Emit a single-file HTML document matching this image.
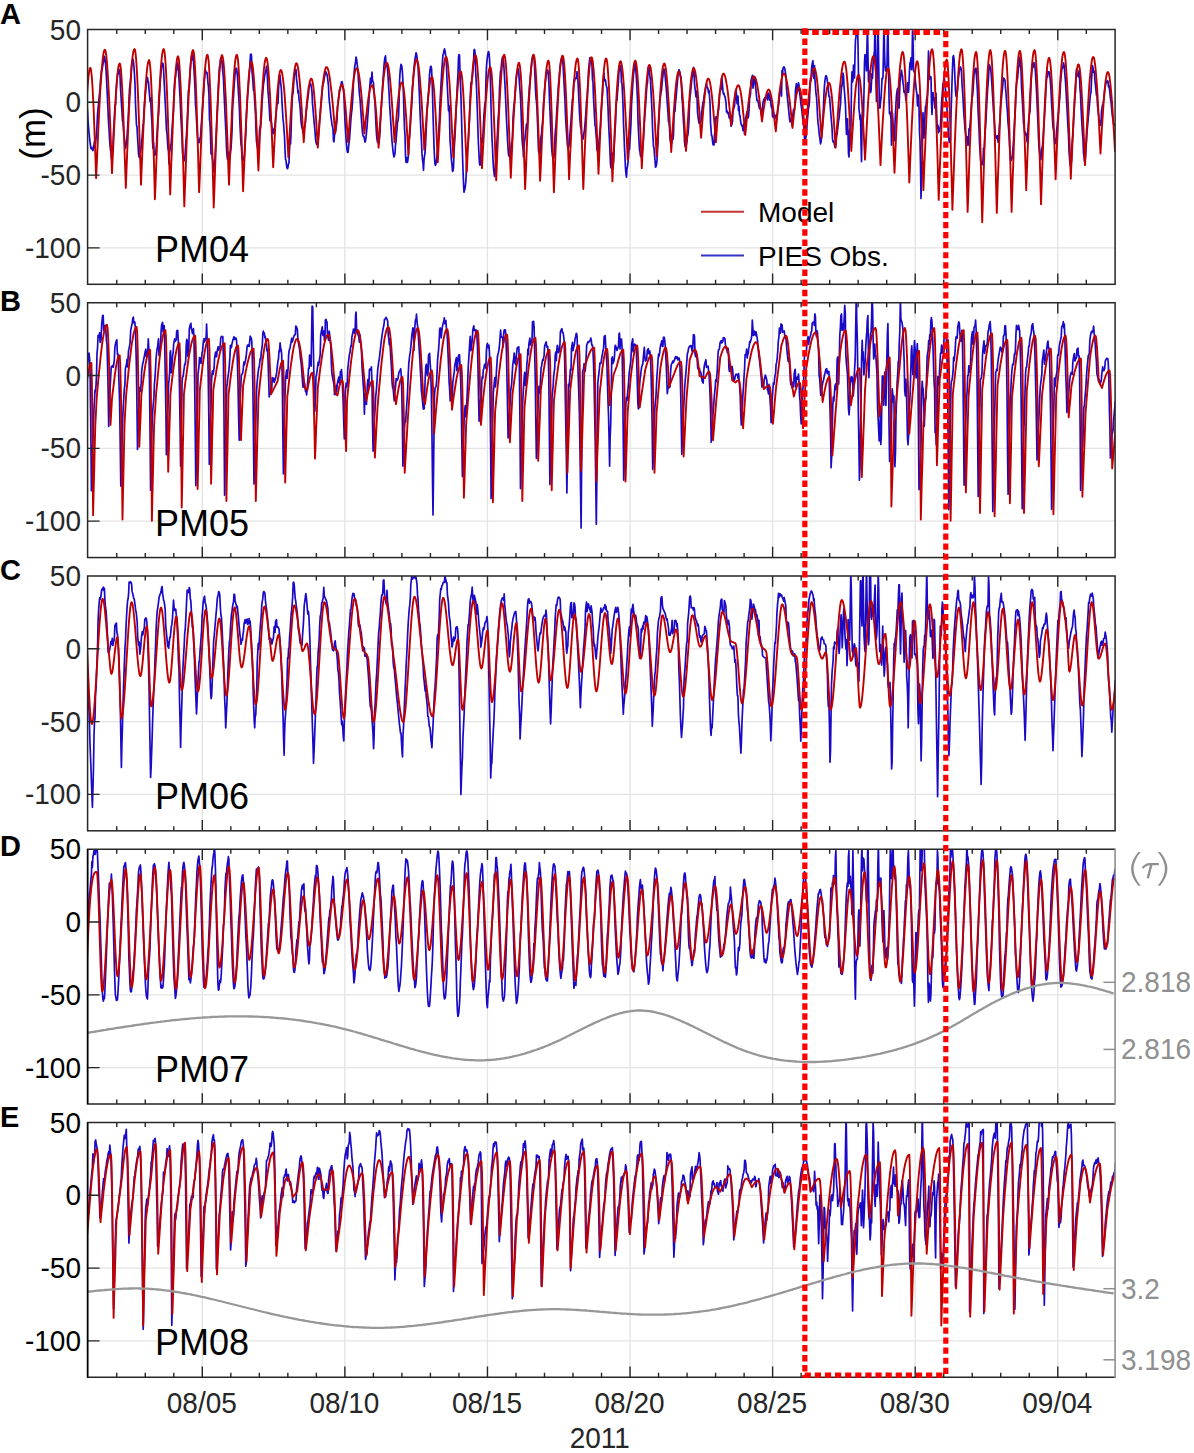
<!DOCTYPE html><html><head><meta charset="utf-8"><style>html,body{margin:0;padding:0;background:#fff;overflow:hidden;}svg{display:block;}text{font-family:"Liberation Sans",sans-serif;}</style></head><body>
<svg width="1194" height="1453" viewBox="0 0 1194 1453">
<rect x="0" y="0" width="1194" height="1453" fill="#fff"/>
<defs>
<clipPath id="c0"><rect x="87.6" y="29.5" width="1027.5" height="254.8"/></clipPath>
<clipPath id="c1"><rect x="87.6" y="302.75" width="1027.5" height="254.8"/></clipPath>
<clipPath id="c2"><rect x="87.6" y="576.0" width="1027.5" height="254.8"/></clipPath>
<clipPath id="c3"><rect x="87.6" y="849.25" width="1027.5" height="254.8"/></clipPath>
<clipPath id="c4"><rect x="87.6" y="1122.5" width="1027.5" height="254.8"/></clipPath>
</defs>
<path d="M87.6,102.30 H1115.1 M87.6,175.10 H1115.1 M87.6,247.90 H1115.1 M202.30,29.5 V284.3 M344.88,29.5 V284.3 M487.46,29.5 V284.3 M630.04,29.5 V284.3 M772.62,29.5 V284.3 M915.20,29.5 V284.3 M1057.78,29.5 V284.3" stroke="#e3e3e3" stroke-width="1.3" fill="none"/>
<g clip-path="url(#c0)">
<path d="M86.0,91.0 L86.5,97.4 L87.0,104.6 L87.5,111.5 L88.0,120.8 L88.5,126.8 L89.0,132.4 L89.5,137.4 L90.0,141.9 L90.5,145.6 L91.0,148.6 L91.5,147.6 L92.0,149.0 L92.5,149.6 L93.0,150.6 L93.5,146.5 L94.0,144.4 L94.5,141.4 L95.0,147.7 L95.5,143.5 L96.0,138.7 L96.5,133.6 L97.0,126.0 L97.5,114.5 L98.0,108.7 L98.5,104.5 L99.0,98.6 L99.5,94.1 L100.0,88.4 L100.5,80.5 L101.0,75.4 L101.5,70.7 L102.0,70.6 L102.5,67.0 L103.0,64.0 L103.5,61.8 L104.0,56.8 L104.5,56.3 L105.0,60.0 L105.5,62.8 L106.0,69.8 L106.5,78.6 L107.0,88.9 L107.5,99.2 L108.0,110.5 L108.5,121.7 L109.0,129.0 L109.5,138.1 L110.0,145.3 L110.5,150.1 L111.0,152.4 L111.5,158.9 L112.0,156.1 L112.5,151.7 L113.0,145.9 L113.5,131.9 L114.0,124.2 L114.5,116.1 L115.0,104.9 L115.5,104.7 L116.0,93.4 L116.5,86.2 L117.0,80.0 L117.5,74.9 L118.0,74.4 L118.5,71.2 L119.0,71.7 L119.5,69.5 L120.0,74.4 L120.5,88.3 L121.0,96.0 L121.5,104.4 L122.0,112.0 L122.5,120.8 L123.0,122.6 L123.5,130.0 L124.0,136.1 L124.5,140.4 L125.0,148.4 L125.5,148.2 L126.0,145.9 L126.5,142.1 L127.0,136.6 L127.5,129.3 L128.0,121.7 L128.5,111.7 L129.0,99.4 L129.5,89.1 L130.0,84.8 L130.5,81.1 L131.0,74.1 L131.5,65.9 L132.0,61.9 L132.5,59.6 L133.0,59.3 L133.5,62.3 L134.0,67.5 L134.5,74.9 L135.0,83.8 L135.5,103.7 L136.0,114.4 L136.5,125.1 L137.0,127.0 L137.5,136.4 L138.0,144.3 L138.5,153.3 L139.0,156.8 L139.5,157.6 L140.0,154.7 L140.5,152.3 L141.0,148.7 L141.5,144.1 L142.0,138.7 L142.5,132.2 L143.0,125.4 L143.5,122.8 L144.0,111.1 L144.5,104.5 L145.0,98.1 L145.5,92.2 L146.0,87.6 L146.5,83.2 L147.0,79.8 L147.5,77.5 L148.0,81.2 L148.5,82.2 L149.0,89.3 L149.5,94.6 L150.0,101.3 L150.5,98.3 L151.0,106.9 L151.5,115.7 L152.0,124.4 L152.5,141.3 L153.0,148.4 L153.5,142.9 L154.0,152.6 L154.5,155.2 L155.0,154.1 L155.5,154.6 L156.0,150.4 L156.5,144.8 L157.0,134.5 L157.5,126.9 L158.0,118.7 L158.5,114.8 L159.0,106.2 L159.5,93.6 L160.0,85.7 L160.5,78.5 L161.0,72.3 L161.5,68.0 L162.0,64.6 L162.5,63.0 L163.0,63.8 L163.5,67.9 L164.0,78.9 L164.5,88.0 L165.0,98.6 L165.5,107.4 L166.0,119.2 L166.5,130.5 L167.0,133.0 L167.5,141.7 L168.0,148.1 L168.5,151.6 L169.0,163.9 L169.5,152.7 L170.0,149.5 L170.5,144.9 L171.0,144.9 L171.5,138.4 L172.0,130.4 L172.5,122.8 L173.0,114.8 L173.5,109.5 L174.0,92.0 L174.5,84.6 L175.0,77.8 L175.5,77.0 L176.0,71.9 L176.5,69.9 L177.0,63.3 L177.5,62.5 L178.0,64.5 L178.5,71.6 L179.0,78.8 L179.5,87.8 L180.0,96.8 L180.5,107.9 L181.0,119.3 L181.5,128.2 L182.0,138.3 L182.5,151.4 L183.0,158.4 L183.5,159.4 L184.0,161.0 L184.5,159.7 L185.0,156.1 L185.5,147.8 L186.0,140.6 L186.5,134.6 L187.0,125.1 L187.5,115.0 L188.0,100.6 L188.5,90.2 L189.0,91.4 L189.5,81.9 L190.0,73.3 L190.5,65.5 L191.0,59.8 L191.5,56.1 L192.0,54.6 L192.5,60.0 L193.0,54.9 L193.5,61.7 L194.0,69.6 L194.5,78.7 L195.0,88.7 L195.5,104.9 L196.0,110.1 L196.5,119.9 L197.0,128.6 L197.5,136.0 L198.0,141.0 L198.5,142.3 L199.0,142.7 L199.5,141.1 L200.0,137.9 L200.5,138.3 L201.0,128.7 L201.5,122.3 L202.0,114.8 L202.5,107.6 L203.0,100.3 L203.5,93.3 L204.0,84.6 L204.5,78.7 L205.0,73.7 L205.5,70.0 L206.0,72.7 L206.5,72.1 L207.0,72.6 L207.5,77.0 L208.0,83.5 L208.5,87.0 L209.0,96.4 L209.5,119.2 L210.0,124.0 L210.5,134.4 L211.0,154.0 L211.5,152.7 L212.0,153.2 L212.5,158.9 L213.0,162.4 L213.5,171.8 L214.0,169.8 L214.5,165.5 L215.0,159.1 L215.5,147.7 L216.0,138.3 L216.5,128.1 L217.0,115.0 L217.5,105.4 L218.0,94.7 L218.5,83.5 L219.0,74.4 L219.5,66.7 L220.0,67.4 L220.5,59.2 L221.0,57.8 L221.5,60.9 L222.0,60.7 L222.5,69.3 L223.0,73.6 L223.5,79.2 L224.0,92.3 L224.5,102.5 L225.0,113.5 L225.5,123.8 L226.0,133.7 L226.5,147.7 L227.0,155.5 L227.5,159.4 L228.0,151.8 L228.5,152.3 L229.0,159.6 L229.5,160.1 L230.0,157.9 L230.5,151.6 L231.0,148.8 L231.5,140.3 L232.0,131.2 L232.5,111.5 L233.0,102.1 L233.5,96.2 L234.0,87.9 L234.5,80.6 L235.0,74.7 L235.5,70.6 L236.0,68.3 L236.5,68.4 L237.0,71.7 L237.5,77.2 L238.0,84.6 L238.5,93.4 L239.0,101.2 L239.5,111.6 L240.0,125.3 L240.5,135.2 L241.0,144.2 L241.5,147.1 L242.0,157.5 L242.5,160.6 L243.0,160.9 L243.5,157.0 L244.0,159.6 L244.5,154.2 L245.0,144.7 L245.5,137.0 L246.0,128.5 L246.5,114.1 L247.0,105.0 L247.5,96.0 L248.0,91.9 L248.5,83.9 L249.0,76.9 L249.5,71.2 L250.0,62.9 L250.5,54.5 L251.0,54.1 L251.5,55.9 L252.0,71.2 L252.5,76.5 L253.0,83.1 L253.5,90.5 L254.0,89.8 L254.5,98.2 L255.0,106.5 L255.5,114.0 L256.0,130.7 L256.5,141.6 L257.0,144.6 L257.5,147.5 L258.0,149.7 L258.5,151.4 L259.0,143.9 L259.5,130.5 L260.0,126.8 L260.5,128.2 L261.0,121.9 L261.5,115.1 L262.0,103.5 L262.5,96.6 L263.0,90.0 L263.5,84.0 L264.0,81.1 L264.5,76.9 L265.0,74.0 L265.5,71.8 L266.0,69.9 L266.5,66.4 L267.0,69.3 L267.5,80.1 L268.0,91.4 L268.5,96.7 L269.0,103.6 L269.5,112.2 L270.0,120.7 L270.5,115.3 L271.0,121.0 L271.5,123.7 L272.0,127.4 L272.5,132.2 L273.0,133.7 L273.5,133.7 L274.0,128.7 L274.5,129.4 L275.0,125.2 L275.5,120.2 L276.0,114.5 L276.5,110.0 L277.0,104.1 L277.5,103.6 L278.0,103.7 L278.5,89.8 L279.0,81.3 L279.5,75.4 L280.0,75.2 L280.5,81.7 L281.0,85.6 L281.5,91.0 L282.0,102.2 L282.5,110.5 L283.0,118.9 L283.5,123.0 L284.0,130.1 L284.5,136.5 L285.0,149.8 L285.5,159.2 L286.0,160.3 L286.5,165.1 L287.0,167.9 L287.5,168.7 L288.0,167.1 L288.5,163.7 L289.0,162.9 L289.5,149.8 L290.0,142.2 L290.5,144.0 L291.0,134.9 L291.5,116.2 L292.0,104.1 L292.5,95.2 L293.0,93.0 L293.5,85.6 L294.0,79.3 L294.5,74.0 L295.0,71.0 L295.5,69.9 L296.0,69.5 L296.5,78.9 L297.0,82.5 L297.5,87.1 L298.0,93.1 L298.5,90.8 L299.0,99.7 L299.5,101.5 L300.0,106.5 L300.5,113.2 L301.0,121.2 L301.5,125.1 L302.0,127.9 L302.5,129.2 L303.0,132.8 L303.5,131.6 L304.0,129.5 L304.5,126.7 L305.0,125.2 L305.5,121.3 L306.0,113.9 L306.5,109.6 L307.0,105.4 L307.5,100.8 L308.0,97.0 L308.5,93.6 L309.0,87.4 L309.5,85.4 L310.0,84.3 L310.5,83.5 L311.0,85.1 L311.5,88.1 L312.0,92.3 L312.5,103.6 L313.0,109.2 L313.5,115.2 L314.0,121.1 L314.5,126.2 L315.0,131.4 L315.5,138.8 L316.0,142.1 L316.5,144.0 L317.0,144.6 L317.5,143.5 L318.0,141.3 L318.5,135.8 L319.0,127.6 L319.5,120.7 L320.0,118.1 L320.5,109.6 L321.0,104.7 L321.5,98.9 L322.0,92.4 L322.5,87.0 L323.0,82.5 L323.5,83.3 L324.0,79.6 L324.5,76.7 L325.0,74.8 L325.5,71.6 L326.0,72.1 L326.5,73.7 L327.0,74.4 L327.5,77.7 L328.0,81.7 L328.5,86.2 L329.0,97.6 L329.5,102.7 L330.0,107.1 L330.5,112.3 L331.0,117.3 L331.5,120.6 L332.0,124.9 L332.5,126.3 L333.0,129.3 L333.5,140.7 L334.0,141.8 L334.5,135.2 L335.0,126.0 L335.5,131.7 L336.0,128.6 L336.5,124.8 L337.0,120.5 L337.5,106.4 L338.0,103.7 L338.5,98.8 L339.0,94.0 L339.5,89.6 L340.0,90.2 L340.5,87.0 L341.0,84.5 L341.5,81.9 L342.0,81.7 L342.5,83.8 L343.0,88.3 L343.5,89.4 L344.0,97.0 L344.5,110.8 L345.0,121.9 L345.5,130.4 L346.0,138.2 L346.5,144.7 L347.0,149.6 L347.5,152.3 L348.0,152.3 L348.5,147.9 L349.0,142.8 L349.5,139.2 L350.0,132.8 L350.5,125.4 L351.0,117.6 L351.5,113.0 L352.0,109.4 L352.5,102.1 L353.0,93.3 L353.5,80.8 L354.0,74.2 L354.5,68.8 L355.0,64.9 L355.5,62.8 L356.0,57.1 L356.5,58.6 L357.0,62.5 L357.5,66.7 L358.0,71.9 L358.5,81.2 L359.0,88.0 L359.5,95.2 L360.0,98.7 L360.5,106.3 L361.0,113.2 L361.5,120.3 L362.0,126.8 L362.5,132.7 L363.0,135.5 L363.5,136.6 L364.0,136.3 L364.5,139.3 L365.0,142.2 L365.5,140.9 L366.0,137.2 L366.5,132.5 L367.0,126.9 L367.5,120.5 L368.0,113.8 L368.5,106.8 L369.0,99.8 L369.5,90.3 L370.0,83.9 L370.5,78.2 L371.0,83.7 L371.5,79.9 L372.0,72.0 L372.5,80.0 L373.0,81.6 L373.5,83.1 L374.0,91.5 L374.5,98.6 L375.0,102.9 L375.5,114.4 L376.0,125.2 L376.5,134.3 L377.0,139.4 L377.5,142.2 L378.0,141.5 L378.5,138.9 L379.0,143.4 L379.5,137.8 L380.0,131.1 L380.5,120.6 L381.0,112.5 L381.5,104.1 L382.0,96.3 L382.5,88.1 L383.0,80.3 L383.5,73.2 L384.0,65.5 L384.5,60.7 L385.0,57.4 L385.5,55.9 L386.0,64.0 L386.5,66.3 L387.0,64.1 L387.5,69.4 L388.0,75.7 L388.5,84.1 L389.0,92.0 L389.5,102.3 L390.0,110.9 L390.5,117.4 L391.0,125.8 L391.5,133.7 L392.0,140.9 L392.5,146.0 L393.0,151.1 L393.5,154.9 L394.0,157.0 L394.5,155.3 L395.0,153.3 L395.5,144.9 L396.0,141.4 L396.5,134.3 L397.0,129.4 L397.5,122.0 L398.0,120.9 L398.5,116.6 L399.0,104.3 L399.5,82.3 L400.0,73.1 L400.5,67.8 L401.0,64.3 L401.5,65.3 L402.0,67.5 L402.5,73.6 L403.0,83.4 L403.5,95.4 L404.0,114.9 L404.5,128.1 L405.0,135.6 L405.5,155.4 L406.0,162.5 L406.5,158.3 L407.0,157.6 L407.5,162.4 L408.0,158.9 L408.5,154.1 L409.0,140.7 L409.5,137.8 L410.0,130.6 L410.5,123.0 L411.0,115.0 L411.5,108.6 L412.0,100.5 L412.5,88.5 L413.0,81.1 L413.5,74.4 L414.0,68.1 L414.5,63.1 L415.0,59.1 L415.5,56.5 L416.0,52.8 L416.5,53.6 L417.0,57.3 L417.5,63.3 L418.0,66.2 L418.5,75.7 L419.0,86.2 L419.5,97.4 L420.0,111.4 L420.5,122.5 L421.0,132.9 L421.5,142.1 L422.0,153.9 L422.5,159.6 L423.0,162.8 L423.5,170.3 L424.0,160.2 L424.5,156.0 L425.0,153.0 L425.5,145.6 L426.0,134.3 L426.5,123.1 L427.0,110.3 L427.5,104.5 L428.0,98.2 L428.5,92.5 L429.0,85.1 L429.5,75.2 L430.0,70.1 L430.5,67.0 L431.0,66.2 L431.5,68.1 L432.0,78.5 L432.5,92.9 L433.0,113.5 L433.5,130.4 L434.0,145.9 L434.5,157.1 L435.0,164.3 L435.5,165.3 L436.0,163.5 L436.5,161.0 L437.0,156.0 L437.5,149.7 L438.0,142.4 L438.5,134.8 L439.0,126.1 L439.5,116.9 L440.0,103.4 L440.5,94.0 L441.0,84.9 L441.5,75.9 L442.0,67.9 L442.5,60.7 L443.0,54.7 L443.5,53.6 L444.0,50.4 L444.5,48.9 L445.0,51.0 L445.5,54.0 L446.0,59.1 L446.5,66.0 L447.0,80.3 L447.5,89.8 L448.0,100.0 L448.5,110.8 L449.0,105.3 L449.5,115.9 L450.0,140.3 L450.5,146.0 L451.0,154.0 L451.5,160.4 L452.0,164.9 L452.5,171.3 L453.0,170.9 L453.5,167.3 L454.0,152.3 L454.5,143.8 L455.0,136.0 L455.5,124.9 L456.0,113.2 L456.5,102.7 L457.0,91.7 L457.5,81.7 L458.0,73.5 L458.5,57.7 L459.0,54.5 L459.5,55.2 L460.0,72.3 L460.5,84.5 L461.0,98.2 L461.5,116.5 L462.0,136.4 L462.5,154.6 L463.0,170.5 L463.5,182.6 L464.0,192.2 L464.5,190.2 L465.0,188.3 L465.5,184.7 L466.0,179.7 L466.5,164.9 L467.0,152.4 L467.5,145.1 L468.0,143.9 L468.5,138.3 L469.0,128.4 L469.5,118.4 L470.0,101.7 L470.5,92.0 L471.0,82.7 L471.5,84.1 L472.0,78.6 L472.5,76.9 L473.0,68.9 L473.5,62.7 L474.0,50.2 L474.5,49.4 L475.0,52.2 L475.5,67.8 L476.0,78.4 L476.5,86.6 L477.0,101.0 L477.5,115.8 L478.0,132.4 L478.5,144.9 L479.0,154.9 L479.5,163.5 L480.0,165.3 L480.5,163.9 L481.0,153.9 L481.5,144.2 L482.0,138.1 L482.5,142.6 L483.0,134.5 L483.5,123.4 L484.0,114.3 L484.5,108.1 L485.0,103.4 L485.5,100.7 L486.0,77.9 L486.5,66.0 L487.0,60.4 L487.5,56.4 L488.0,53.1 L488.5,51.5 L489.0,53.1 L489.5,58.5 L490.0,69.4 L490.5,83.2 L491.0,106.1 L491.5,122.7 L492.0,139.0 L492.5,147.4 L493.0,159.6 L493.5,168.1 L494.0,171.8 L494.5,176.4 L495.0,173.6 L495.5,165.3 L496.0,159.0 L496.5,151.5 L497.0,141.4 L497.5,132.1 L498.0,120.5 L498.5,115.2 L499.0,105.1 L499.5,88.9 L500.0,79.8 L500.5,71.4 L501.0,69.7 L501.5,63.8 L502.0,59.6 L502.5,57.2 L503.0,57.3 L503.5,60.4 L504.0,68.3 L504.5,76.7 L505.0,84.8 L505.5,96.1 L506.0,108.0 L506.5,119.7 L507.0,129.0 L507.5,139.3 L508.0,148.0 L508.5,154.6 L509.0,155.9 L509.5,156.5 L510.0,158.3 L510.5,155.3 L511.0,148.3 L511.5,142.9 L512.0,143.4 L512.5,136.3 L513.0,118.9 L513.5,111.1 L514.0,104.4 L514.5,102.8 L515.0,95.4 L515.5,88.6 L516.0,81.3 L516.5,76.2 L517.0,72.3 L517.5,71.0 L518.0,68.5 L518.5,70.3 L519.0,75.7 L519.5,84.5 L520.0,90.5 L520.5,97.7 L521.0,110.0 L521.5,124.9 L522.0,137.4 L522.5,144.7 L523.0,148.2 L523.5,157.2 L524.0,149.0 L524.5,142.1 L525.0,138.7 L525.5,134.3 L526.0,128.9 L526.5,124.0 L527.0,127.6 L527.5,120.5 L528.0,107.9 L528.5,100.4 L529.0,93.0 L529.5,85.7 L530.0,81.6 L530.5,75.2 L531.0,69.5 L531.5,64.6 L532.0,59.7 L532.5,56.9 L533.0,55.4 L533.5,55.7 L534.0,57.3 L534.5,65.1 L535.0,77.3 L535.5,89.5 L536.0,98.0 L536.5,102.0 L537.0,109.5 L537.5,122.6 L538.0,134.9 L538.5,150.5 L539.0,152.9 L539.5,153.4 L540.0,154.6 L540.5,139.7 L541.0,136.7 L541.5,134.2 L542.0,127.1 L542.5,124.1 L543.0,115.2 L543.5,103.1 L544.0,99.2 L544.5,91.3 L545.0,85.5 L545.5,80.5 L546.0,76.3 L546.5,72.3 L547.0,70.4 L547.5,69.9 L548.0,71.2 L548.5,77.0 L549.0,85.4 L549.5,100.2 L550.0,111.3 L550.5,122.6 L551.0,133.4 L551.5,144.6 L552.0,152.0 L552.5,156.6 L553.0,155.6 L553.5,158.7 L554.0,155.6 L554.5,151.1 L555.0,136.0 L555.5,129.3 L556.0,124.8 L556.5,115.7 L557.0,107.3 L557.5,100.3 L558.0,92.0 L558.5,84.0 L559.0,79.8 L559.5,73.2 L560.0,67.6 L560.5,63.3 L561.0,60.1 L561.5,58.9 L562.0,60.0 L562.5,58.7 L563.0,64.5 L563.5,73.2 L564.0,82.1 L564.5,91.8 L565.0,101.7 L565.5,115.0 L566.0,124.2 L566.5,132.3 L567.0,138.9 L567.5,145.9 L568.0,148.0 L568.5,147.6 L569.0,145.6 L569.5,138.9 L570.0,132.5 L570.5,126.5 L571.0,120.5 L571.5,112.6 L572.0,105.8 L572.5,98.9 L573.0,99.9 L573.5,85.9 L574.0,79.9 L574.5,81.6 L575.0,78.2 L575.5,77.8 L576.0,78.6 L576.5,78.2 L577.0,71.7 L577.5,75.2 L578.0,81.8 L578.5,91.2 L579.0,102.2 L579.5,113.3 L580.0,120.1 L580.5,126.4 L581.0,128.4 L581.5,133.7 L582.0,136.7 L582.5,136.9 L583.0,139.2 L583.5,136.5 L584.0,132.6 L584.5,129.6 L585.0,124.0 L585.5,117.9 L586.0,111.3 L586.5,101.5 L587.0,97.8 L587.5,91.1 L588.0,81.7 L588.5,70.5 L589.0,65.3 L589.5,61.0 L590.0,57.7 L590.5,60.7 L591.0,60.0 L591.5,61.5 L592.0,65.5 L592.5,79.9 L593.0,81.4 L593.5,97.6 L594.0,106.8 L594.5,116.3 L595.0,125.6 L595.5,126.6 L596.0,134.0 L596.5,139.9 L597.0,149.6 L597.5,151.0 L598.0,150.2 L598.5,144.8 L599.0,141.2 L599.5,136.4 L600.0,130.8 L600.5,126.2 L601.0,113.2 L601.5,106.5 L602.0,99.9 L602.5,93.5 L603.0,82.2 L603.5,77.2 L604.0,73.2 L604.5,80.8 L605.0,79.5 L605.5,80.4 L606.0,84.1 L606.5,86.6 L607.0,87.8 L607.5,97.2 L608.0,107.3 L608.5,121.0 L609.0,131.2 L609.5,140.7 L610.0,153.3 L610.5,163.9 L611.0,167.9 L611.5,154.7 L612.0,153.6 L612.5,153.2 L613.0,165.4 L613.5,162.3 L614.0,151.9 L614.5,140.4 L615.0,131.3 L615.5,123.1 L616.0,108.9 L616.5,100.7 L617.0,100.2 L617.5,92.8 L618.0,86.2 L618.5,80.5 L619.0,68.9 L619.5,71.0 L620.0,65.4 L620.5,66.1 L621.0,69.9 L621.5,82.6 L622.0,83.5 L622.5,93.6 L623.0,104.7 L623.5,123.2 L624.0,134.6 L624.5,147.9 L625.0,157.6 L625.5,168.6 L626.0,174.3 L626.5,177.2 L627.0,168.8 L627.5,166.4 L628.0,162.3 L628.5,156.6 L629.0,149.8 L629.5,149.2 L630.0,140.7 L630.5,131.9 L631.0,122.9 L631.5,105.1 L632.0,96.7 L632.5,89.0 L633.0,80.1 L633.5,74.7 L634.0,70.8 L634.5,68.7 L635.0,63.2 L635.5,66.4 L636.0,72.4 L636.5,79.7 L637.0,89.2 L637.5,99.7 L638.0,120.8 L638.5,131.4 L639.0,141.1 L639.5,149.5 L640.0,152.2 L640.5,156.0 L641.0,156.7 L641.5,155.2 L642.0,155.0 L642.5,150.5 L643.0,144.7 L643.5,138.1 L644.0,129.1 L644.5,121.3 L645.0,113.2 L645.5,106.4 L646.0,98.6 L646.5,91.3 L647.0,84.7 L647.5,83.3 L648.0,69.7 L648.5,66.7 L649.0,65.3 L649.5,73.1 L650.0,76.8 L650.5,80.4 L651.0,91.6 L651.5,100.9 L652.0,111.0 L652.5,127.4 L653.0,137.8 L653.5,146.6 L654.0,147.8 L654.5,154.9 L655.0,159.8 L655.5,167.1 L656.0,166.8 L656.5,164.4 L657.0,160.3 L657.5,149.7 L658.0,143.1 L658.5,126.2 L659.0,119.7 L659.5,107.3 L660.0,100.7 L660.5,96.1 L661.0,92.0 L661.5,90.4 L662.0,84.0 L662.5,78.9 L663.0,75.3 L663.5,69.1 L664.0,69.2 L664.5,71.1 L665.0,74.3 L665.5,79.8 L666.0,85.3 L666.5,91.5 L667.0,99.4 L667.5,106.3 L668.0,113.2 L668.5,121.6 L669.0,122.2 L669.5,127.7 L670.0,138.2 L670.5,141.5 L671.0,143.5 L671.5,143.8 L672.0,140.9 L672.5,138.3 L673.0,139.3 L673.5,134.6 L674.0,116.2 L674.5,110.3 L675.0,111.4 L675.5,102.8 L676.0,98.6 L676.5,92.3 L677.0,86.4 L677.5,81.1 L678.0,75.5 L678.5,72.0 L679.0,69.6 L679.5,71.5 L680.0,72.5 L680.5,76.4 L681.0,77.0 L681.5,85.0 L682.0,98.6 L682.5,103.0 L683.0,113.0 L683.5,122.4 L684.0,128.9 L684.5,141.3 L685.0,145.7 L685.5,147.2 L686.0,146.2 L686.5,143.6 L687.0,141.0 L687.5,135.9 L688.0,134.5 L688.5,127.9 L689.0,120.9 L689.5,103.7 L690.0,96.7 L690.5,93.6 L691.0,87.5 L691.5,82.2 L692.0,78.1 L692.5,75.9 L693.0,74.6 L693.5,67.4 L694.0,69.1 L694.5,84.2 L695.0,87.8 L695.5,92.1 L696.0,96.8 L696.5,91.2 L697.0,96.2 L697.5,111.8 L698.0,116.2 L698.5,120.1 L699.0,123.2 L699.5,122.1 L700.0,123.0 L700.5,122.6 L701.0,121.3 L701.5,112.1 L702.0,109.4 L702.5,106.1 L703.0,102.5 L703.5,100.7 L704.0,96.8 L704.5,93.1 L705.0,90.9 L705.5,87.8 L706.0,85.2 L706.5,83.4 L707.0,87.1 L707.5,87.2 L708.0,89.1 L708.5,92.6 L709.0,90.4 L709.5,96.2 L710.0,102.7 L710.5,122.3 L711.0,129.2 L711.5,135.7 L712.0,136.0 L712.5,140.9 L713.0,144.6 L713.5,144.8 L714.0,145.0 L714.5,134.3 L715.0,131.9 L715.5,125.0 L716.0,116.8 L716.5,118.1 L717.0,117.1 L717.5,115.5 L718.0,110.2 L718.5,110.1 L719.0,105.2 L719.5,94.5 L720.0,90.8 L720.5,89.8 L721.0,89.7 L721.5,78.2 L722.0,78.6 L722.5,85.1 L723.0,92.0 L723.5,94.0 L724.0,93.3 L724.5,95.9 L725.0,96.5 L725.5,99.4 L726.0,102.3 L726.5,112.0 L727.0,110.8 L727.5,113.1 L728.0,112.3 L728.5,114.2 L729.0,117.1 L729.5,118.1 L730.0,118.6 L730.5,118.4 L731.0,126.3 L731.5,125.3 L732.0,123.9 L732.5,121.0 L733.0,111.3 L733.5,109.4 L734.0,107.3 L734.5,106.2 L735.0,99.9 L735.5,91.2 L736.0,89.3 L736.5,94.9 L737.0,103.3 L737.5,104.0 L738.0,96.1 L738.5,110.6 L739.0,106.4 L739.5,115.1 L740.0,115.6 L740.5,120.1 L741.0,124.1 L741.5,124.8 L742.0,126.2 L742.5,126.1 L743.0,130.7 L743.5,125.0 L744.0,123.7 L744.5,134.1 L745.0,132.2 L745.5,119.3 L746.0,116.9 L746.5,114.3 L747.0,111.6 L747.5,117.4 L748.0,117.9 L748.5,116.3 L749.0,110.1 L749.5,99.5 L750.0,96.5 L750.5,94.0 L751.0,80.7 L751.5,78.6 L752.0,76.8 L752.5,75.4 L753.0,88.2 L753.5,84.3 L754.0,79.4 L754.5,77.7 L755.0,78.4 L755.5,85.3 L756.0,90.9 L756.5,96.4 L757.0,100.6 L757.5,100.1 L758.0,101.1 L758.5,103.7 L759.0,106.3 L759.5,108.7 L760.0,106.5 L760.5,108.2 L761.0,110.3 L761.5,115.2 L762.0,110.9 L762.5,110.3 L763.0,102.3 L763.5,100.9 L764.0,99.1 L764.5,101.3 L765.0,97.5 L765.5,98.4 L766.0,97.0 L766.5,97.2 L767.0,97.2 L767.5,99.9 L768.0,93.1 L768.5,93.1 L769.0,93.9 L769.5,100.2 L770.0,96.2 L770.5,98.4 L771.0,105.2 L771.5,107.7 L772.0,105.5 L772.5,116.8 L773.0,113.4 L773.5,112.4 L774.0,117.4 L774.5,118.1 L775.0,117.1 L775.5,116.4 L776.0,115.1 L776.5,120.5 L777.0,118.2 L777.5,111.6 L778.0,108.6 L778.5,105.4 L779.0,102.1 L779.5,93.9 L780.0,90.6 L780.5,90.0 L781.0,89.6 L781.5,96.1 L782.0,70.5 L782.5,74.3 L783.0,68.4 L783.5,67.3 L784.0,66.8 L784.5,68.0 L785.0,69.8 L785.5,72.8 L786.0,76.7 L786.5,88.1 L787.0,93.2 L787.5,98.7 L788.0,103.2 L788.5,108.5 L789.0,113.4 L789.5,118.4 L790.0,121.8 L790.5,118.8 L791.0,119.8 L791.5,119.8 L792.0,125.7 L792.5,121.5 L793.0,113.5 L793.5,109.6 L794.0,109.9 L794.5,109.5 L795.0,105.2 L795.5,90.0 L796.0,86.4 L796.5,83.5 L797.0,91.1 L797.5,90.1 L798.0,90.4 L798.5,82.9 L799.0,85.2 L799.5,92.0 L800.0,95.7 L800.5,99.8 L801.0,104.3 L801.5,107.6 L802.0,112.2 L802.5,116.6 L803.0,121.4 L803.5,124.9 L804.0,127.8 L804.5,138.7 L805.0,139.9 L805.5,138.7 L806.0,137.2 L806.5,134.5 L807.0,124.9 L807.5,118.9 L808.0,113.5 L808.5,107.6 L809.0,106.8 L809.5,100.5 L810.0,84.3 L810.5,78.4 L811.0,80.7 L811.5,69.1 L812.0,65.2 L812.5,62.3 L813.0,60.7 L813.5,76.7 L814.0,78.5 L814.5,65.6 L815.0,80.5 L815.5,86.7 L816.0,93.7 L816.5,97.0 L817.0,104.8 L817.5,115.5 L818.0,122.9 L818.5,126.2 L819.0,131.9 L819.5,136.4 L820.0,139.3 L820.5,143.8 L821.0,142.1 L821.5,137.7 L822.0,133.1 L822.5,125.0 L823.0,116.0 L823.5,106.8 L824.0,93.3 L824.5,85.4 L825.0,80.2 L825.5,76.8 L826.0,75.6 L826.5,76.5 L827.0,78.6 L827.5,82.0 L828.0,86.2 L828.5,91.1 L829.0,96.6 L829.5,96.4 L830.0,102.6 L830.5,109.6 L831.0,115.8 L831.5,121.7 L832.0,127.3 L832.5,138.9 L833.0,141.6 L833.5,142.4 L834.0,141.4 L834.5,145.0 L835.0,147.4 L835.5,145.8 L836.0,143.7 L836.5,133.9 L837.0,134.6 L837.5,130.5 L838.0,126.0 L838.5,121.1 L839.0,118.9 L839.5,113.7 L840.0,108.4 L840.5,103.9 L841.0,93.7 L841.5,87.3 L842.0,85.3 L842.5,81.3 L843.0,73.0 L843.5,75.8 L844.0,86.3 L844.5,91.9 L845.0,98.9 L845.5,105.7 L846.0,122.1 L846.5,134.5 L847.0,123.3 L847.5,118.9 L848.0,132.5 L848.5,153.7 L849.0,157.0 L849.5,132.9 L850.0,128.6 L850.5,137.2 L851.0,123.6 L851.5,84.2 L852.0,71.9 L852.5,82.1 L853.0,80.1 L853.5,65.1 L854.0,72.9 L854.5,77.9 L855.0,55.2 L855.5,39.7 L856.0,36.8 L856.5,15.1 L857.0,34.4 L857.5,24.4 L858.0,44.1 L858.5,76.8 L859.0,109.6 L859.5,112.8 L860.0,119.7 L860.5,115.1 L861.0,142.0 L861.5,161.7 L862.0,128.9 L862.5,112.0 L863.0,120.1 L863.5,116.1 L864.0,90.9 L864.5,62.6 L865.0,54.6 L865.5,55.2 L866.0,62.5 L866.5,70.8 L867.0,44.1 L867.5,24.4 L868.0,57.2 L868.5,81.8 L869.0,70.5 L869.5,81.8 L870.0,88.6 L870.5,92.6 L871.0,91.1 L871.5,81.1 L872.0,73.5 L872.5,78.3 L873.0,65.3 L873.5,59.6 L874.0,54.5 L874.5,50.6 L875.0,17.9 L875.5,50.6 L876.0,83.4 L876.5,101.5 L877.0,83.4 L877.5,50.6 L878.0,17.9 L878.5,50.6 L879.0,83.4 L879.5,107.9 L880.0,108.0 L880.5,102.4 L881.0,98.7 L881.5,90.3 L882.0,78.3 L882.5,78.8 L883.0,76.7 L883.5,50.6 L884.0,17.9 L884.5,50.6 L885.0,66.0 L885.5,71.0 L886.0,70.7 L886.5,67.1 L887.0,65.5 L887.5,37.5 L888.0,31.0 L888.5,63.7 L889.0,96.5 L889.5,113.7 L890.0,111.7 L890.5,115.0 L891.0,119.2 L891.5,145.1 L892.0,125.5 L892.5,113.6 L893.0,124.0 L893.5,135.4 L894.0,138.0 L894.5,140.6 L895.0,123.8 L895.5,112.6 L896.0,103.2 L896.5,95.1 L897.0,91.5 L897.5,88.7 L898.0,89.1 L898.5,106.0 L899.0,108.1 L899.5,95.6 L900.0,82.5 L900.5,78.8 L901.0,73.0 L901.5,70.3 L902.0,74.4 L902.5,75.6 L903.0,83.1 L903.5,85.2 L904.0,92.3 L904.5,91.0 L905.0,92.5 L905.5,95.9 L906.0,100.5 L906.5,95.3 L907.0,89.9 L907.5,82.8 L908.0,90.9 L908.5,92.1 L909.0,83.3 L909.5,70.4 L910.0,62.8 L910.5,62.4 L911.0,57.8 L911.5,69.7 L912.0,63.7 L912.5,31.0 L913.0,37.5 L913.5,70.3 L914.0,71.3 L914.5,72.4 L915.0,75.8 L915.5,82.5 L916.0,87.6 L916.5,91.4 L917.0,94.1 L917.5,105.9 L918.0,103.1 L918.5,95.2 L919.0,107.3 L919.5,132.2 L920.0,141.3 L920.5,164.6 L921.0,198.4 L921.5,180.1 L922.0,173.5 L922.5,140.7 L923.0,112.7 L923.5,132.8 L924.0,137.8 L924.5,125.0 L925.0,114.5 L925.5,106.2 L926.0,107.0 L926.5,99.7 L927.0,97.3 L927.5,95.1 L928.0,72.7 L928.5,51.2 L929.0,62.3 L929.5,79.2 L930.0,78.3 L930.5,76.7 L931.0,77.2 L931.5,102.7 L932.0,114.4 L932.5,103.0 L933.0,92.5 L933.5,99.3 L934.0,97.6 L934.5,101.3 L935.0,108.3 L935.5,104.9 L936.0,93.3 L936.5,109.4 L937.0,124.9 L937.5,128.4 L938.0,125.3 L938.5,132.6 L939.0,131.3 L939.5,131.2 L940.0,127.6 L940.5,125.8 L941.0,114.4 L941.5,103.5 L942.0,97.5 L942.5,90.7 L943.0,83.8 L943.5,82.2 L944.0,79.0 L944.5,79.3 L945.0,83.9 L945.5,89.4 L946.0,100.3 L946.5,101.0 L947.0,109.7 L947.5,118.2 L948.0,126.1 L948.5,135.5 L949.0,140.2 L949.5,142.5 L950.0,140.5 L950.5,140.3 L951.0,115.2 L951.5,99.1 L952.0,82.5 L952.5,67.7 L953.0,56.8 L953.5,55.6 L954.0,58.6 L954.5,67.4 L955.0,80.0 L955.5,90.2 L956.0,96.2 L956.5,96.6 L957.0,93.2 L957.5,90.2 L958.0,81.1 L958.5,77.2 L959.0,73.4 L959.5,70.1 L960.0,67.9 L960.5,67.0 L961.0,68.1 L961.5,71.4 L962.0,84.1 L962.5,90.5 L963.0,97.9 L963.5,108.0 L964.0,116.2 L964.5,121.5 L965.0,129.0 L965.5,132.7 L966.0,138.0 L966.5,141.5 L967.0,136.5 L967.5,140.9 L968.0,145.4 L968.5,142.4 L969.0,128.5 L969.5,130.7 L970.0,125.3 L970.5,119.4 L971.0,110.9 L971.5,104.7 L972.0,98.6 L972.5,96.2 L973.0,90.8 L973.5,82.9 L974.0,75.1 L974.5,72.3 L975.0,69.2 L975.5,68.6 L976.0,68.2 L976.5,76.1 L977.0,83.6 L977.5,92.7 L978.0,109.3 L978.5,118.9 L979.0,128.6 L979.5,142.5 L980.0,151.0 L980.5,158.2 L981.0,163.7 L981.5,164.1 L982.0,164.8 L982.5,163.2 L983.0,159.8 L983.5,148.1 L984.0,151.9 L984.5,144.5 L985.0,133.5 L985.5,127.3 L986.0,120.3 L986.5,109.1 L987.0,99.6 L987.5,91.2 L988.0,84.3 L988.5,78.5 L989.0,67.6 L989.5,64.9 L990.0,66.7 L990.5,68.3 L991.0,72.2 L991.5,77.9 L992.0,86.1 L992.5,94.1 L993.0,102.7 L993.5,111.4 L994.0,116.5 L994.5,124.3 L995.0,131.1 L995.5,136.3 L996.0,137.3 L996.5,138.3 L997.0,136.1 L997.5,135.8 L998.0,142.3 L998.5,140.4 L999.0,132.9 L999.5,124.9 L1000.0,120.4 L1000.5,108.9 L1001.0,103.3 L1001.5,97.9 L1002.0,92.7 L1002.5,89.0 L1003.0,82.1 L1003.5,78.0 L1004.0,78.5 L1004.5,79.8 L1005.0,80.2 L1005.5,87.7 L1006.0,93.0 L1006.5,100.1 L1007.0,107.2 L1007.5,112.7 L1008.0,122.5 L1008.5,127.7 L1009.0,134.3 L1009.5,144.9 L1010.0,153.2 L1010.5,159.9 L1011.0,160.6 L1011.5,159.8 L1012.0,158.2 L1012.5,153.8 L1013.0,148.0 L1013.5,141.2 L1014.0,131.6 L1014.5,123.3 L1015.0,114.6 L1015.5,102.9 L1016.0,89.5 L1016.5,83.4 L1017.0,80.7 L1017.5,78.8 L1018.0,73.4 L1018.5,67.9 L1019.0,65.7 L1019.5,57.4 L1020.0,59.6 L1020.5,63.9 L1021.0,70.0 L1021.5,86.2 L1022.0,94.5 L1022.5,103.3 L1023.0,112.1 L1023.5,123.2 L1024.0,125.8 L1024.5,132.3 L1025.0,131.8 L1025.5,134.7 L1026.0,135.3 L1026.5,134.0 L1027.0,141.8 L1027.5,133.9 L1028.0,128.8 L1028.5,122.8 L1029.0,115.8 L1029.5,113.7 L1030.0,111.0 L1030.5,99.0 L1031.0,83.6 L1031.5,75.2 L1032.0,69.2 L1032.5,64.1 L1033.0,67.7 L1033.5,64.9 L1034.0,62.6 L1034.5,63.5 L1035.0,66.8 L1035.5,73.2 L1036.0,81.6 L1036.5,90.6 L1037.0,101.4 L1037.5,112.6 L1038.0,123.7 L1038.5,138.0 L1039.0,147.3 L1039.5,151.7 L1040.0,157.0 L1040.5,159.6 L1041.0,159.3 L1041.5,149.2 L1042.0,147.8 L1042.5,145.7 L1043.0,139.2 L1043.5,131.8 L1044.0,124.2 L1044.5,115.8 L1045.0,107.3 L1045.5,99.0 L1046.0,87.0 L1046.5,79.8 L1047.0,70.9 L1047.5,77.1 L1048.0,73.5 L1048.5,71.7 L1049.0,71.9 L1049.5,72.4 L1050.0,76.9 L1050.5,83.0 L1051.0,90.3 L1051.5,101.3 L1052.0,109.7 L1052.5,119.2 L1053.0,127.2 L1053.5,129.5 L1054.0,135.5 L1054.5,139.9 L1055.0,143.4 L1055.5,143.4 L1056.0,141.8 L1056.5,131.4 L1057.0,127.1 L1057.5,121.7 L1058.0,115.5 L1058.5,112.7 L1059.0,105.6 L1059.5,100.9 L1060.0,93.8 L1060.5,83.8 L1061.0,77.6 L1061.5,72.2 L1062.0,67.7 L1062.5,68.0 L1063.0,66.2 L1063.5,62.9 L1064.0,65.2 L1064.5,69.7 L1065.0,76.0 L1065.5,81.4 L1066.0,90.3 L1066.5,99.9 L1067.0,108.5 L1067.5,118.2 L1068.0,127.5 L1068.5,136.0 L1069.0,151.5 L1069.5,157.1 L1070.0,164.4 L1070.5,165.6 L1071.0,164.3 L1071.5,160.7 L1072.0,145.8 L1072.5,138.9 L1073.0,134.5 L1073.5,122.9 L1074.0,113.6 L1074.5,104.2 L1075.0,95.1 L1075.5,92.2 L1076.0,75.1 L1076.5,69.1 L1077.0,75.7 L1077.5,73.6 L1078.0,74.0 L1078.5,76.9 L1079.0,70.7 L1079.5,77.4 L1080.0,88.9 L1080.5,94.5 L1081.0,106.9 L1081.5,116.3 L1082.0,125.9 L1082.5,133.4 L1083.0,139.7 L1083.5,153.0 L1084.0,156.4 L1084.5,161.4 L1085.0,162.0 L1085.5,156.4 L1086.0,148.0 L1086.5,140.9 L1087.0,132.0 L1087.5,126.7 L1088.0,121.0 L1088.5,115.2 L1089.0,110.4 L1089.5,104.5 L1090.0,98.8 L1090.5,93.5 L1091.0,92.8 L1091.5,80.6 L1092.0,72.4 L1092.5,65.7 L1093.0,67.8 L1093.5,72.3 L1094.0,71.0 L1094.5,73.5 L1095.0,81.1 L1095.5,85.4 L1096.0,90.3 L1096.5,95.4 L1097.0,95.1 L1097.5,105.5 L1098.0,110.1 L1098.5,114.0 L1099.0,118.9 L1099.5,120.7 L1100.0,121.1 L1100.5,125.5 L1101.0,123.9 L1101.5,110.9 L1102.0,108.1 L1102.5,104.8 L1103.0,104.8 L1103.5,101.0 L1104.0,97.2 L1104.5,91.7 L1105.0,88.1 L1105.5,84.9 L1106.0,82.2 L1106.5,82.6 L1107.0,81.2 L1107.5,80.7 L1108.0,81.4 L1108.5,86.8 L1109.0,85.6 L1109.5,89.5 L1110.0,94.0 L1110.5,98.8 L1111.0,102.0 L1111.5,106.9 L1112.0,112.7 L1112.5,116.7 L1113.0,119.8 L1113.5,124.0 L1114.0,124.9 L1114.5,124.7 L1115.0,125.2 L1115.5,124.5 L1116.0,123.4 L1116.5,125.1 L1117.0,121.7 L1117.5,129.9 L1118.0,122.6 L1118.5,113.6 L1119.0,110.9 L1119.5,108.7 L1120.0,99.7 L1120.5,94.8" stroke="#1a0ac8" stroke-width="1.7" fill="none" stroke-linejoin="round"/>
<path d="M87.0,94.3 L87.5,87.4 L88.1,81.0 L88.6,75.5 L89.2,71.3 L89.7,68.7 L90.3,67.7 L90.8,68.9 L91.3,72.2 L91.9,77.7 L92.4,85.3 L92.9,94.7 L93.5,105.8 L94.0,118.4 L94.5,132.3 L95.1,147.0 L95.6,162.4 L96.1,178.1 L96.7,166.3 L97.2,154.5 L97.7,143.0 L98.2,131.7 L98.7,120.9 L99.2,110.5 L99.7,100.7 L100.2,91.6 L100.8,83.2 L101.3,75.6 L101.8,68.9 L102.3,63.1 L102.8,58.4 L103.3,54.6 L103.8,51.9 L104.3,50.2 L104.9,49.7 L105.4,50.5 L105.9,52.8 L106.4,56.6 L106.9,61.9 L107.4,68.6 L107.9,76.6 L108.4,85.8 L109.0,96.2 L109.5,107.4 L110.0,119.6 L110.5,132.3 L111.0,145.6 L111.5,159.3 L112.0,173.1 L112.5,161.6 L113.1,150.3 L113.6,139.2 L114.1,128.5 L114.6,118.3 L115.1,108.6 L115.6,99.7 L116.1,91.6 L116.6,84.3 L117.1,78.1 L117.6,72.9 L118.1,68.8 L118.6,65.8 L119.2,64.0 L119.7,63.4 L120.2,64.5 L120.7,67.6 L121.2,72.9 L121.7,80.1 L122.2,89.1 L122.7,99.9 L123.2,112.1 L123.7,125.7 L124.2,140.3 L124.7,155.7 L125.3,171.7 L125.8,187.9 L126.3,175.1 L126.8,162.4 L127.3,149.9 L127.8,137.7 L128.3,126.0 L128.8,114.8 L129.3,104.2 L129.9,94.3 L130.4,85.3 L130.9,77.1 L131.4,69.8 L131.9,63.6 L132.4,58.4 L132.9,54.3 L133.4,51.4 L134.0,49.6 L134.5,49.0 L135.0,50.0 L135.5,53.0 L136.0,57.8 L136.5,64.6 L137.0,73.0 L137.5,83.1 L138.0,94.7 L138.5,107.6 L139.0,121.6 L139.5,136.6 L140.0,152.2 L140.5,168.3 L141.0,184.6 L141.5,172.4 L142.0,160.4 L142.5,148.5 L143.0,137.0 L143.5,125.9 L144.0,115.5 L144.5,105.7 L145.0,96.6 L145.5,88.4 L146.0,81.1 L146.5,74.8 L147.0,69.6 L147.5,65.5 L148.1,62.5 L148.6,60.7 L149.1,60.1 L149.6,61.5 L150.1,65.8 L150.7,72.7 L151.2,82.2 L151.7,94.1 L152.3,108.1 L152.8,124.0 L153.3,141.4 L153.9,160.0 L154.4,179.4 L154.9,199.2 L155.5,185.4 L156.0,171.6 L156.5,158.1 L157.0,145.0 L157.5,132.3 L158.0,120.2 L158.5,108.7 L159.0,98.0 L159.6,88.2 L160.1,79.4 L160.6,71.5 L161.1,64.8 L161.6,59.2 L162.1,54.8 L162.6,51.6 L163.1,49.7 L163.6,49.0 L164.2,50.1 L164.7,53.3 L165.2,58.5 L165.7,65.7 L166.2,74.8 L166.7,85.6 L167.2,98.0 L167.7,111.8 L168.2,126.9 L168.7,142.9 L169.2,159.6 L169.7,176.9 L170.2,194.4 L170.7,180.0 L171.2,165.7 L171.8,151.7 L172.3,138.2 L172.8,125.3 L173.3,113.2 L173.8,101.9 L174.4,91.7 L174.9,82.6 L175.4,74.7 L175.9,68.2 L176.5,63.0 L177.0,59.2 L177.5,57.0 L178.0,56.2 L178.5,57.5 L179.1,61.3 L179.6,67.6 L180.1,76.3 L180.7,87.3 L181.2,100.2 L181.7,115.0 L182.2,131.3 L182.8,148.9 L183.3,167.5 L183.8,186.8 L184.3,206.4 L184.8,192.0 L185.4,177.7 L185.9,163.6 L186.4,150.0 L186.9,136.7 L187.4,124.1 L187.9,112.2 L188.4,101.1 L188.9,90.9 L189.5,81.7 L190.0,73.5 L190.5,66.5 L191.0,60.7 L191.5,56.1 L192.0,52.8 L192.5,50.8 L193.0,50.1 L193.6,51.3 L194.1,55.0 L194.6,60.9 L195.1,69.2 L195.6,79.5 L196.1,91.8 L196.6,105.7 L197.1,121.2 L197.6,137.9 L198.1,155.5 L198.6,173.7 L199.1,192.3 L199.7,178.8 L200.2,165.4 L200.7,152.3 L201.2,139.6 L201.7,127.4 L202.2,115.8 L202.8,105.0 L203.3,95.0 L203.8,85.9 L204.3,77.9 L204.8,70.9 L205.4,65.2 L205.9,60.6 L206.4,57.3 L206.9,55.3 L207.4,54.7 L207.9,56.0 L208.5,59.9 L209.0,66.3 L209.5,75.2 L210.0,86.3 L210.6,99.4 L211.1,114.5 L211.6,131.1 L212.2,149.0 L212.7,168.0 L213.2,187.6 L213.7,207.5 L214.3,192.6 L214.8,177.8 L215.3,163.3 L215.8,149.2 L216.3,135.7 L216.8,122.8 L217.4,110.8 L217.9,99.8 L218.4,89.7 L218.9,80.8 L219.4,73.1 L219.9,66.7 L220.5,61.7 L221.0,58.1 L221.5,55.9 L222.0,55.1 L222.5,56.1 L223.1,58.9 L223.6,63.5 L224.2,70.0 L224.7,78.1 L225.2,87.7 L225.8,98.8 L226.3,111.1 L226.8,124.5 L227.4,138.7 L227.9,153.6 L228.4,169.0 L229.0,184.6 L229.5,171.1 L230.0,157.6 L230.5,144.5 L231.1,131.8 L231.6,119.7 L232.1,108.3 L232.6,97.7 L233.2,88.1 L233.7,79.5 L234.2,72.1 L234.7,65.9 L235.2,61.0 L235.8,57.5 L236.3,55.4 L236.8,54.7 L237.3,55.9 L237.9,59.3 L238.4,65.1 L238.9,73.0 L239.4,82.9 L240.0,94.7 L240.5,108.1 L241.0,122.9 L241.6,138.9 L242.1,155.9 L242.6,173.4 L243.1,191.2 L243.6,178.5 L244.2,165.9 L244.7,153.6 L245.2,141.6 L245.7,130.1 L246.2,119.2 L246.8,109.0 L247.3,99.6 L247.8,91.1 L248.3,83.5 L248.8,76.9 L249.3,71.5 L249.9,67.2 L250.4,64.1 L250.9,62.3 L251.4,61.7 L251.9,62.4 L252.5,64.8 L253.0,68.7 L253.5,74.1 L254.1,80.9 L254.6,89.0 L255.2,98.3 L255.7,108.7 L256.2,119.9 L256.8,131.9 L257.3,144.4 L257.8,157.4 L258.4,170.5 L258.9,158.7 L259.4,147.1 L259.9,135.7 L260.5,124.6 L261.0,114.1 L261.5,104.2 L262.0,95.0 L262.6,86.7 L263.1,79.3 L263.6,72.8 L264.1,67.5 L264.6,63.3 L265.2,60.2 L265.7,58.4 L266.2,57.7 L266.7,58.5 L267.3,60.9 L267.8,64.9 L268.4,70.3 L268.9,77.1 L269.4,85.3 L270.0,94.6 L270.5,105.0 L271.0,116.3 L271.6,128.4 L272.1,141.0 L272.6,154.0 L273.2,167.2 L273.7,157.1 L274.2,147.0 L274.7,137.2 L275.2,127.7 L275.7,118.6 L276.2,110.0 L276.7,102.1 L277.2,94.9 L277.8,88.5 L278.3,83.0 L278.8,78.3 L279.3,74.7 L279.8,72.1 L280.3,70.5 L280.8,69.9 L281.3,70.4 L281.8,71.8 L282.3,74.2 L282.8,77.5 L283.3,81.6 L283.9,86.6 L284.4,92.4 L284.9,98.9 L285.4,106.0 L285.9,113.7 L286.4,121.8 L286.9,130.4 L287.4,139.2 L287.9,148.3 L288.4,157.4 L288.9,148.2 L289.4,139.0 L289.9,130.1 L290.4,121.4 L290.9,113.0 L291.4,105.1 L291.9,97.6 L292.5,90.8 L293.0,84.6 L293.5,79.1 L294.0,74.3 L294.5,70.4 L295.0,67.2 L295.5,65.0 L296.0,63.6 L296.5,63.2 L297.0,63.7 L297.5,65.2 L298.0,67.6 L298.5,71.0 L299.0,75.3 L299.6,80.4 L300.1,86.3 L300.6,92.9 L301.1,100.2 L301.6,107.9 L302.1,116.1 L302.6,124.6 L303.2,133.3 L303.7,142.2 L304.2,135.6 L304.7,129.0 L305.2,122.6 L305.7,116.3 L306.2,110.4 L306.7,104.8 L307.2,99.7 L307.7,95.0 L308.2,90.8 L308.7,87.1 L309.3,84.1 L309.8,81.7 L310.3,80.0 L310.8,79.0 L311.3,78.6 L311.8,79.1 L312.3,80.6 L312.8,83.1 L313.3,86.5 L313.8,90.8 L314.3,96.0 L314.8,101.9 L315.3,108.4 L315.8,115.6 L316.3,123.2 L316.8,131.1 L317.3,139.3 L317.8,147.6 L318.3,140.2 L318.8,132.8 L319.4,125.6 L319.9,118.5 L320.4,111.7 L320.9,105.2 L321.4,99.1 L321.9,93.4 L322.4,88.1 L322.9,83.4 L323.5,79.2 L324.0,75.5 L324.5,72.5 L325.0,70.2 L325.5,68.5 L326.0,67.4 L326.5,67.1 L327.0,67.4 L327.6,68.2 L328.1,69.6 L328.6,71.6 L329.1,74.1 L329.6,77.0 L330.1,80.5 L330.6,84.4 L331.1,88.8 L331.7,93.5 L332.2,98.5 L332.7,103.9 L333.2,109.5 L333.7,115.3 L334.2,121.3 L334.7,127.4 L335.2,133.5 L335.7,127.6 L336.2,121.8 L336.7,116.1 L337.3,110.7 L337.8,105.7 L338.3,101.0 L338.8,96.8 L339.3,93.2 L339.8,90.1 L340.3,87.7 L340.8,85.9 L341.3,84.9 L341.8,84.5 L342.3,85.0 L342.8,86.5 L343.4,88.9 L343.9,92.2 L344.4,96.4 L344.9,101.4 L345.5,107.1 L346.0,113.4 L346.5,120.1 L347.0,127.3 L347.6,134.7 L348.1,142.2 L348.6,135.4 L349.1,128.6 L349.6,121.9 L350.1,115.5 L350.7,109.2 L351.2,103.2 L351.7,97.6 L352.2,92.3 L352.7,87.5 L353.2,83.1 L353.7,79.3 L354.2,75.9 L354.7,73.2 L355.3,71.0 L355.8,69.4 L356.3,68.5 L356.8,68.2 L357.3,68.5 L357.8,69.6 L358.3,71.4 L358.8,73.8 L359.3,76.9 L359.8,80.7 L360.4,85.0 L360.9,89.8 L361.4,95.1 L361.9,100.8 L362.4,106.9 L362.9,113.3 L363.4,119.9 L363.9,126.7 L364.4,133.5 L364.9,128.4 L365.4,123.4 L365.9,118.6 L366.5,113.8 L367.0,109.3 L367.5,105.1 L368.0,101.2 L368.5,97.6 L369.0,94.4 L369.5,91.6 L370.0,89.3 L370.5,87.5 L371.0,86.2 L371.5,85.4 L372.0,85.2 L372.5,85.6 L373.0,87.0 L373.5,89.2 L374.1,92.3 L374.6,96.2 L375.1,100.9 L375.6,106.2 L376.1,112.1 L376.6,118.6 L377.1,125.5 L377.6,132.7 L378.1,140.1 L378.6,147.6 L379.1,139.3 L379.6,131.1 L380.1,123.0 L380.6,115.2 L381.2,107.6 L381.7,100.5 L382.2,93.8 L382.7,87.6 L383.2,82.0 L383.7,77.0 L384.3,72.8 L384.8,69.2 L385.3,66.4 L385.8,64.4 L386.3,63.2 L386.8,62.7 L387.4,63.2 L387.9,64.5 L388.4,66.6 L388.9,69.6 L389.4,73.4 L389.9,77.9 L390.4,83.2 L390.9,89.0 L391.4,95.5 L391.9,102.5 L392.4,109.9 L392.9,117.6 L393.5,125.7 L394.0,133.9 L394.5,142.2 L395.0,135.5 L395.5,128.9 L396.1,122.4 L396.6,116.2 L397.1,110.3 L397.6,104.9 L398.2,99.9 L398.7,95.4 L399.2,91.5 L399.8,88.3 L400.3,85.7 L400.8,83.8 L401.3,82.7 L401.9,82.3 L402.4,82.9 L402.9,84.4 L403.4,87.0 L403.9,90.6 L404.4,95.2 L404.9,100.6 L405.4,106.8 L405.9,113.6 L406.4,121.1 L406.9,129.1 L407.4,137.5 L407.9,146.1 L408.4,154.8 L408.9,145.5 L409.4,136.2 L410.0,127.1 L410.5,118.3 L411.0,109.9 L411.5,101.9 L412.0,94.3 L412.5,87.4 L413.1,81.1 L413.6,75.5 L414.1,70.7 L414.6,66.7 L415.1,63.6 L415.6,61.3 L416.2,59.9 L416.7,59.5 L417.2,60.0 L417.7,61.5 L418.2,63.9 L418.7,67.3 L419.2,71.6 L419.7,76.7 L420.2,82.7 L420.7,89.4 L421.3,96.7 L421.8,104.6 L422.3,113.1 L422.8,121.9 L423.3,131.0 L423.8,140.4 L424.3,149.8 L424.8,142.2 L425.3,134.7 L425.8,127.3 L426.3,120.2 L426.8,113.4 L427.4,107.0 L427.9,101.0 L428.4,95.6 L428.9,90.8 L429.4,86.7 L429.9,83.2 L430.4,80.5 L430.9,78.5 L431.4,77.3 L431.9,76.9 L432.5,77.8 L433.0,80.3 L433.5,84.6 L434.1,90.4 L434.6,97.7 L435.1,106.3 L435.7,116.1 L436.2,126.8 L436.7,138.2 L437.3,150.1 L437.8,162.2 L438.3,151.9 L438.8,141.7 L439.4,131.6 L439.9,121.9 L440.4,112.6 L440.9,103.7 L441.4,95.4 L441.9,87.7 L442.5,80.8 L443.0,74.6 L443.5,69.3 L444.0,64.9 L444.5,61.4 L445.0,58.9 L445.6,57.4 L446.1,56.9 L446.6,57.5 L447.1,59.4 L447.6,62.5 L448.1,66.8 L448.6,72.3 L449.2,78.8 L449.7,86.3 L450.2,94.7 L450.7,103.9 L451.2,113.8 L451.7,124.2 L452.2,135.1 L452.8,146.2 L453.3,157.4 L453.8,147.8 L454.3,138.3 L454.9,129.0 L455.4,120.1 L455.9,111.7 L456.4,103.8 L457.0,96.6 L457.5,90.2 L458.0,84.6 L458.6,80.0 L459.1,76.3 L459.6,73.6 L460.1,72.0 L460.7,71.4 L461.2,72.3 L461.7,74.9 L462.2,79.1 L462.7,84.9 L463.2,92.1 L463.7,100.8 L464.2,110.6 L464.7,121.5 L465.2,133.3 L465.7,145.7 L466.3,158.5 L466.8,171.6 L467.3,160.8 L467.8,150.2 L468.3,139.7 L468.8,129.5 L469.3,119.7 L469.8,110.3 L470.4,101.4 L470.9,93.1 L471.4,85.5 L471.9,78.6 L472.4,72.6 L472.9,67.3 L473.4,63.0 L473.9,59.6 L474.5,57.1 L475.0,55.6 L475.5,55.1 L476.0,55.9 L476.5,58.4 L477.0,62.5 L477.5,68.1 L478.0,75.2 L478.5,83.6 L479.0,93.3 L479.5,104.0 L480.0,115.7 L480.5,128.2 L481.0,141.2 L481.5,154.7 L482.0,168.3 L482.5,158.4 L483.0,148.6 L483.6,138.9 L484.1,129.6 L484.6,120.6 L485.1,112.1 L485.6,104.1 L486.1,96.7 L486.7,90.1 L487.2,84.2 L487.7,79.0 L488.2,74.8 L488.7,71.5 L489.2,69.0 L489.8,67.6 L490.3,67.1 L490.8,68.2 L491.4,71.7 L491.9,77.3 L492.4,85.1 L493.0,94.7 L493.5,106.2 L494.0,119.1 L494.6,133.3 L495.1,148.4 L495.6,164.2 L496.2,180.3 L496.7,168.0 L497.2,155.8 L497.7,143.8 L498.2,132.2 L498.7,121.1 L499.2,110.5 L499.7,100.6 L500.2,91.5 L500.7,83.2 L501.2,75.9 L501.7,69.5 L502.2,64.2 L502.7,60.1 L503.2,57.1 L503.7,55.3 L504.2,54.7 L504.7,55.6 L505.2,58.3 L505.7,62.7 L506.2,68.8 L506.7,76.5 L507.2,85.6 L507.7,96.1 L508.2,107.8 L508.7,120.5 L509.2,134.1 L509.7,148.2 L510.2,162.9 L510.8,177.7 L511.3,166.4 L511.8,155.3 L512.3,144.3 L512.8,133.7 L513.3,123.5 L513.9,113.8 L514.4,104.8 L514.9,96.4 L515.4,88.8 L515.9,82.1 L516.4,76.3 L517.0,71.5 L517.5,67.7 L518.0,65.0 L518.5,63.3 L519.0,62.7 L519.5,63.8 L520.0,67.0 L520.6,72.4 L521.1,79.7 L521.6,88.8 L522.1,99.7 L522.6,112.1 L523.1,125.9 L523.6,140.7 L524.1,156.3 L524.6,172.5 L525.1,189.0 L525.7,175.8 L526.2,162.8 L526.7,150.0 L527.2,137.6 L527.8,125.7 L528.3,114.4 L528.8,103.8 L529.4,94.0 L529.9,85.2 L530.4,77.3 L531.0,70.5 L531.5,64.9 L532.0,60.5 L532.6,57.3 L533.1,55.3 L533.6,54.7 L534.1,55.6 L534.6,58.3 L535.1,62.9 L535.6,69.1 L536.1,77.0 L536.6,86.4 L537.1,97.1 L537.6,109.1 L538.1,122.2 L538.6,136.0 L539.1,150.6 L539.6,165.5 L540.1,180.7 L540.7,168.9 L541.2,157.3 L541.7,145.8 L542.2,134.7 L542.7,124.1 L543.3,114.0 L543.8,104.5 L544.3,95.8 L544.8,87.8 L545.3,80.8 L545.8,74.8 L546.4,69.7 L546.9,65.7 L547.4,62.9 L547.9,61.1 L548.4,60.6 L549.0,62.2 L549.5,67.0 L550.1,74.9 L550.6,85.7 L551.1,99.1 L551.7,114.9 L552.2,132.5 L552.8,151.6 L553.3,171.7 L553.9,192.3 L554.4,179.7 L554.9,167.1 L555.4,154.9 L555.9,142.9 L556.4,131.3 L556.9,120.3 L557.5,109.9 L558.0,100.2 L558.5,91.2 L559.0,83.2 L559.5,76.0 L560.0,69.9 L560.5,64.8 L561.0,60.8 L561.6,57.9 L562.1,56.1 L562.6,55.6 L563.1,56.5 L563.6,59.2 L564.1,63.6 L564.6,69.7 L565.1,77.4 L565.6,86.7 L566.1,97.2 L566.6,109.0 L567.1,121.7 L567.6,135.4 L568.1,149.6 L568.6,164.3 L569.1,179.2 L569.6,167.4 L570.1,155.6 L570.7,144.1 L571.2,133.0 L571.7,122.3 L572.2,112.1 L572.7,102.6 L573.2,93.8 L573.8,85.8 L574.3,78.7 L574.8,72.7 L575.3,67.6 L575.8,63.6 L576.4,60.7 L576.9,59.0 L577.4,58.4 L577.9,59.7 L578.5,63.7 L579.0,70.2 L579.5,79.1 L580.1,90.3 L580.6,103.5 L581.1,118.4 L581.7,134.7 L582.2,152.2 L582.7,170.4 L583.3,189.0 L583.8,176.1 L584.3,163.3 L584.8,150.8 L585.3,138.6 L585.9,126.9 L586.4,115.8 L586.9,105.4 L587.4,95.9 L587.9,87.2 L588.4,79.5 L589.0,72.9 L589.5,67.3 L590.0,63.0 L590.5,59.8 L591.0,57.9 L591.5,57.3 L592.1,58.1 L592.6,60.7 L593.1,64.9 L593.7,70.6 L594.2,77.9 L594.8,86.6 L595.3,96.5 L595.8,107.6 L596.4,119.6 L596.9,132.5 L597.4,145.9 L598.0,159.7 L598.5,173.8 L599.0,161.7 L599.5,149.8 L600.0,138.1 L600.5,126.8 L601.0,116.1 L601.6,105.9 L602.1,96.6 L602.6,88.0 L603.1,80.4 L603.6,73.8 L604.1,68.4 L604.6,64.0 L605.1,60.9 L605.6,59.0 L606.1,58.4 L606.7,59.4 L607.2,62.6 L607.7,67.8 L608.2,74.9 L608.8,83.8 L609.3,94.4 L609.8,106.5 L610.3,119.9 L610.9,134.3 L611.4,149.5 L611.9,165.3 L612.4,181.4 L612.9,169.6 L613.5,157.9 L614.0,146.5 L614.5,135.4 L615.0,124.7 L615.5,114.6 L616.0,105.2 L616.5,96.4 L617.0,88.5 L617.5,81.5 L618.0,75.4 L618.5,70.4 L619.0,66.4 L619.5,63.5 L620.0,61.8 L620.5,61.2 L621.0,61.8 L621.5,63.7 L622.0,66.7 L622.6,71.0 L623.1,76.3 L623.6,82.7 L624.1,90.0 L624.6,98.3 L625.1,107.3 L625.6,116.9 L626.1,127.1 L626.7,137.7 L627.2,148.6 L627.7,159.6 L628.2,149.3 L628.7,139.0 L629.2,129.0 L629.7,119.3 L630.2,110.1 L630.7,101.4 L631.2,93.3 L631.8,86.0 L632.3,79.5 L632.8,73.8 L633.3,69.1 L633.8,65.4 L634.3,62.7 L634.8,61.1 L635.3,60.6 L635.8,61.4 L636.3,63.7 L636.8,67.6 L637.3,72.9 L637.8,79.6 L638.3,87.7 L638.8,96.9 L639.3,107.1 L639.8,118.2 L640.3,130.1 L640.8,142.5 L641.3,155.3 L641.8,168.3 L642.3,157.5 L642.9,146.8 L643.4,136.4 L643.9,126.3 L644.4,116.6 L644.9,107.5 L645.4,99.1 L645.9,91.5 L646.4,84.7 L646.9,78.8 L647.4,73.9 L647.9,70.0 L648.4,67.2 L649.0,65.5 L649.5,64.9 L650.0,65.5 L650.5,67.2 L651.0,70.0 L651.5,74.0 L652.0,78.9 L652.5,84.9 L653.1,91.7 L653.6,99.3 L654.1,107.7 L654.6,116.7 L655.1,126.1 L655.6,136.0 L656.1,146.1 L656.6,156.3 L657.2,146.6 L657.7,137.0 L658.2,127.6 L658.7,118.5 L659.2,109.9 L659.7,101.7 L660.2,94.1 L660.7,87.3 L661.2,81.1 L661.7,75.8 L662.2,71.4 L662.7,67.9 L663.3,65.4 L663.8,63.9 L664.3,63.4 L664.8,64.0 L665.3,66.0 L665.9,69.2 L666.4,73.5 L666.9,79.1 L667.5,85.7 L668.0,93.2 L668.6,101.7 L669.1,110.8 L669.6,120.6 L670.2,130.8 L670.7,141.3 L671.2,152.0 L671.7,143.6 L672.3,135.2 L672.8,127.1 L673.3,119.2 L673.8,111.7 L674.3,104.7 L674.8,98.1 L675.3,92.1 L675.8,86.8 L676.3,82.2 L676.8,78.4 L677.3,75.4 L677.8,73.2 L678.4,71.9 L678.9,71.4 L679.4,71.9 L679.9,73.4 L680.4,75.9 L680.9,79.3 L681.4,83.6 L681.9,88.8 L682.5,94.7 L683.0,101.4 L683.5,108.6 L684.0,116.4 L684.5,124.7 L685.0,133.2 L685.5,142.0 L686.0,150.9 L686.6,142.3 L687.1,133.7 L687.6,125.3 L688.1,117.3 L688.6,109.5 L689.1,102.3 L689.6,95.6 L690.1,89.4 L690.6,84.0 L691.1,79.3 L691.6,75.3 L692.1,72.2 L692.7,70.0 L693.2,68.6 L693.7,68.2 L694.2,68.6 L694.7,69.9 L695.3,72.1 L695.8,75.1 L696.3,78.9 L696.8,83.4 L697.4,88.6 L697.9,94.4 L698.4,100.8 L699.0,107.6 L699.5,114.8 L700.0,122.3 L700.5,130.0 L701.1,137.8 L701.6,131.2 L702.1,124.7 L702.6,118.3 L703.1,112.2 L703.6,106.3 L704.2,100.9 L704.7,96.0 L705.2,91.6 L705.7,87.7 L706.2,84.5 L706.7,82.0 L707.2,80.1 L707.7,79.0 L708.3,78.6 L708.8,79.0 L709.3,80.0 L709.8,81.7 L710.3,84.1 L710.8,87.1 L711.3,90.8 L711.8,95.0 L712.3,99.7 L712.8,104.8 L713.3,110.4 L713.8,116.3 L714.4,122.6 L714.9,129.0 L715.4,135.6 L715.9,142.2 L716.4,135.0 L716.9,127.9 L717.4,121.0 L717.9,114.3 L718.4,107.9 L718.9,101.9 L719.4,96.3 L719.9,91.2 L720.5,86.7 L721.0,82.8 L721.5,79.6 L722.0,77.0 L722.5,75.1 L723.0,74.0 L723.5,73.6 L724.0,73.9 L724.5,74.7 L725.0,76.1 L725.5,78.0 L726.0,80.5 L726.5,83.4 L727.1,86.8 L727.6,90.6 L728.1,94.7 L728.6,99.2 L729.1,104.0 L729.6,109.0 L730.1,114.1 L730.6,119.4 L731.1,124.8 L731.6,120.3 L732.1,116.0 L732.7,111.7 L733.2,107.6 L733.7,103.7 L734.2,100.1 L734.7,96.8 L735.2,93.8 L735.7,91.2 L736.3,89.1 L736.8,87.4 L737.3,86.2 L737.8,85.4 L738.3,85.2 L738.8,85.5 L739.4,86.6 L739.9,88.4 L740.5,90.9 L741.0,94.0 L741.5,97.7 L742.1,102.0 L742.6,106.7 L743.1,111.8 L743.7,117.3 L744.2,123.1 L744.7,129.0 L745.3,135.0 L745.8,129.6 L746.3,124.3 L746.8,119.0 L747.3,113.9 L747.8,108.9 L748.3,104.2 L748.9,99.7 L749.4,95.6 L749.9,91.7 L750.4,88.3 L750.9,85.2 L751.4,82.6 L751.9,80.4 L752.4,78.7 L753.0,77.5 L753.5,76.7 L754.0,76.5 L754.5,76.7 L755.0,77.3 L755.5,78.4 L756.0,79.9 L756.5,81.8 L757.0,84.0 L757.5,86.7 L758.0,89.7 L758.5,92.9 L759.0,96.5 L759.5,100.3 L760.0,104.3 L760.5,108.4 L761.0,112.7 L761.5,117.1 L762.0,121.5 L762.5,117.7 L763.0,113.9 L763.5,110.2 L764.1,106.6 L764.6,103.3 L765.1,100.3 L765.6,97.6 L766.1,95.2 L766.6,93.2 L767.1,91.6 L767.6,90.4 L768.1,89.8 L768.6,89.5 L769.1,89.8 L769.6,90.6 L770.1,91.9 L770.6,93.7 L771.1,95.9 L771.7,98.6 L772.2,101.8 L772.7,105.3 L773.2,109.1 L773.7,113.2 L774.2,117.5 L774.7,122.0 L775.2,126.6 L775.8,131.3 L776.3,125.7 L776.8,120.1 L777.3,114.6 L777.8,109.2 L778.3,104.1 L778.8,99.3 L779.3,94.7 L779.8,90.5 L780.3,86.7 L780.8,83.3 L781.3,80.4 L781.8,78.0 L782.3,76.1 L782.8,74.7 L783.3,73.9 L783.8,73.6 L784.3,73.9 L784.8,74.6 L785.4,75.7 L785.9,77.3 L786.4,79.3 L786.9,81.8 L787.4,84.6 L787.9,87.8 L788.4,91.4 L788.9,95.3 L789.5,99.4 L790.0,103.8 L790.5,108.4 L791.0,113.2 L791.5,118.0 L792.0,123.0 L792.5,128.0 L793.0,123.1 L793.5,118.3 L794.0,113.6 L794.5,109.1 L795.0,104.9 L795.5,101.1 L796.0,97.6 L796.5,94.5 L797.1,92.0 L797.6,90.0 L798.1,88.5 L798.6,87.6 L799.1,87.3 L799.6,87.8 L800.1,89.0 L800.6,91.0 L801.1,93.8 L801.6,97.3 L802.1,101.5 L802.6,106.2 L803.1,111.5 L803.6,117.2 L804.1,123.2 L804.6,129.4 L805.2,135.7 L805.7,129.8 L806.2,123.9 L806.7,118.2 L807.2,112.6 L807.7,107.1 L808.2,101.9 L808.7,97.0 L809.2,92.3 L809.7,87.9 L810.2,84.0 L810.7,80.4 L811.3,77.2 L811.8,74.5 L812.3,72.3 L812.8,70.5 L813.3,69.2 L813.8,68.4 L814.3,68.2 L814.8,68.6 L815.3,69.9 L815.8,72.1 L816.4,75.1 L816.9,78.9 L817.4,83.4 L817.9,88.6 L818.4,94.4 L818.9,100.8 L819.4,107.6 L819.9,114.8 L820.5,122.3 L821.0,130.0 L821.5,137.8 L822.0,132.1 L822.5,126.4 L823.0,120.9 L823.5,115.5 L824.0,110.4 L824.5,105.6 L825.0,101.1 L825.6,97.1 L826.1,93.5 L826.6,90.3 L827.1,87.7 L827.6,85.7 L828.1,84.2 L828.6,83.3 L829.1,83.0 L829.6,83.5 L830.1,84.9 L830.6,87.2 L831.1,90.4 L831.6,94.4 L832.1,99.2 L832.6,104.8 L833.1,110.9 L833.6,117.6 L834.1,124.7 L834.6,132.2 L835.1,139.8 L835.6,147.6 L836.2,139.7 L836.7,131.8 L837.2,124.1 L837.7,116.6 L838.2,109.3 L838.7,102.4 L839.2,95.8 L839.7,89.7 L840.3,84.1 L840.8,79.0 L841.3,74.5 L841.8,70.7 L842.3,67.5 L842.8,64.9 L843.3,63.1 L843.8,62.0 L844.4,61.7 L844.9,62.3 L845.4,64.2 L846.0,67.5 L846.5,71.9 L847.0,77.5 L847.6,84.1 L848.1,91.7 L848.6,100.2 L849.2,109.4 L849.7,119.3 L850.2,129.5 L850.8,140.1 L851.3,150.9 L851.8,142.4 L852.3,134.0 L852.9,125.7 L853.4,117.8 L853.9,110.4 L854.4,103.4 L854.9,97.0 L855.4,91.3 L855.9,86.4 L856.5,82.3 L857.0,79.0 L857.5,76.6 L858.0,75.2 L858.5,74.7 L859.0,75.3 L859.5,77.2 L860.0,80.2 L860.5,84.4 L861.0,89.7 L861.5,96.1 L862.0,103.3 L862.5,111.4 L863.0,120.2 L863.5,129.5 L864.0,139.3 L864.5,149.4 L865.0,159.6 L865.6,149.5 L866.1,139.4 L866.6,129.6 L867.1,120.0 L867.6,110.9 L868.1,102.2 L868.7,94.0 L869.2,86.5 L869.7,79.7 L870.2,73.6 L870.7,68.4 L871.3,64.1 L871.8,60.7 L872.3,58.2 L872.8,56.7 L873.3,56.2 L873.8,56.9 L874.4,58.9 L874.9,62.3 L875.4,67.0 L875.9,72.9 L876.4,80.0 L876.9,88.1 L877.4,97.2 L878.0,107.1 L878.5,117.8 L879.0,129.1 L879.5,140.8 L880.0,152.9 L880.5,165.1 L881.0,154.9 L881.5,144.9 L882.0,135.1 L882.5,125.7 L883.1,116.6 L883.6,108.1 L884.1,100.2 L884.6,93.1 L885.1,86.7 L885.6,81.2 L886.1,76.6 L886.6,72.9 L887.1,70.3 L887.6,68.7 L888.1,68.2 L888.7,69.1 L889.2,71.7 L889.7,76.1 L890.2,82.2 L890.8,89.8 L891.3,98.8 L891.8,109.1 L892.3,120.4 L892.9,132.7 L893.4,145.6 L893.9,159.0 L894.5,172.7 L895.0,160.8 L895.5,149.1 L896.0,137.6 L896.5,126.4 L897.0,115.7 L897.6,105.6 L898.1,96.0 L898.6,87.2 L899.1,79.3 L899.6,72.2 L900.1,66.1 L900.7,61.1 L901.2,57.1 L901.7,54.2 L902.2,52.4 L902.7,51.9 L903.2,52.8 L903.7,55.7 L904.2,60.3 L904.7,66.8 L905.2,75.0 L905.7,84.7 L906.2,95.9 L906.7,108.3 L907.3,121.8 L907.8,136.2 L908.3,151.2 L908.8,166.7 L909.3,182.5 L909.8,170.6 L910.3,158.8 L910.8,147.3 L911.3,136.1 L911.8,125.3 L912.3,115.1 L912.8,105.5 L913.3,96.7 L913.8,88.7 L914.3,81.7 L914.8,75.5 L915.3,70.4 L915.8,66.4 L916.3,63.5 L916.8,61.8 L917.3,61.2 L917.8,62.3 L918.3,65.6 L918.8,71.0 L919.4,78.5 L919.9,87.8 L920.4,99.0 L920.9,111.6 L921.4,125.7 L921.9,140.8 L922.4,156.7 L922.9,173.3 L923.4,190.1 L923.9,177.1 L924.4,164.2 L925.0,151.5 L925.5,139.2 L926.0,127.3 L926.5,115.9 L927.0,105.2 L927.5,95.2 L928.0,86.0 L928.5,77.7 L929.1,70.3 L929.6,64.0 L930.1,58.8 L930.6,54.6 L931.1,51.6 L931.6,49.8 L932.1,49.2 L932.6,50.3 L933.1,53.6 L933.6,59.0 L934.1,66.5 L934.6,75.9 L935.1,87.1 L935.6,100.0 L936.1,114.3 L936.6,129.9 L937.2,146.5 L937.7,163.8 L938.2,181.7 L938.7,199.9 L939.2,186.1 L939.7,172.5 L940.2,159.1 L940.7,146.2 L941.2,133.7 L941.7,121.9 L942.2,110.8 L942.7,100.6 L943.2,91.3 L943.7,83.1 L944.2,76.1 L944.7,70.2 L945.2,65.5 L945.7,62.2 L946.2,60.2 L946.7,59.5 L947.2,61.0 L947.7,65.6 L948.3,73.0 L948.8,83.3 L949.3,96.2 L949.8,111.3 L950.3,128.5 L950.8,147.3 L951.3,167.4 L951.9,188.3 L952.4,209.7 L952.9,195.7 L953.4,181.8 L953.9,168.2 L954.4,154.8 L954.9,141.9 L955.4,129.5 L955.9,117.7 L956.4,106.6 L956.9,96.2 L957.5,86.8 L958.0,78.3 L958.5,70.7 L959.0,64.3 L959.5,58.9 L960.0,54.7 L960.5,51.7 L961.0,49.9 L961.5,49.2 L962.0,50.6 L962.5,54.8 L963.0,61.6 L963.6,71.0 L964.1,82.8 L964.6,96.9 L965.1,112.9 L965.6,130.6 L966.1,149.6 L966.6,169.8 L967.1,190.6 L967.6,211.9 L968.2,196.2 L968.7,180.6 L969.2,165.4 L969.7,150.6 L970.3,136.4 L970.8,123.0 L971.3,110.4 L971.9,98.7 L972.4,88.2 L972.9,78.8 L973.5,70.7 L974.0,64.0 L974.5,58.7 L975.1,54.9 L975.6,52.6 L976.1,51.9 L976.6,53.3 L977.1,57.7 L977.6,64.8 L978.1,74.7 L978.7,87.1 L979.2,101.8 L979.7,118.5 L980.2,137.1 L980.7,157.1 L981.2,178.2 L981.7,200.1 L982.2,222.3 L982.7,205.4 L983.2,188.7 L983.7,172.3 L984.2,156.4 L984.7,141.1 L985.2,126.6 L985.7,113.1 L986.2,100.5 L986.7,89.2 L987.2,79.1 L987.7,70.4 L988.3,63.2 L988.8,57.5 L989.3,53.4 L989.8,50.9 L990.3,50.1 L990.8,51.3 L991.3,54.8 L991.8,60.7 L992.3,68.8 L992.8,78.9 L993.3,91.1 L993.8,105.0 L994.3,120.4 L994.8,137.3 L995.3,155.2 L995.8,174.0 L996.3,193.3 L996.8,212.9 L997.3,197.0 L997.8,181.3 L998.4,165.9 L998.9,150.9 L999.4,136.5 L999.9,122.8 L1000.4,110.1 L1000.9,98.3 L1001.5,87.6 L1002.0,78.1 L1002.5,69.9 L1003.0,63.1 L1003.5,57.8 L1004.0,53.9 L1004.6,51.5 L1005.1,50.8 L1005.6,51.9 L1006.1,55.4 L1006.6,61.2 L1007.1,69.2 L1007.6,79.3 L1008.1,91.3 L1008.6,105.0 L1009.1,120.3 L1009.6,137.0 L1010.1,154.7 L1010.6,173.3 L1011.1,192.4 L1011.6,211.9 L1012.1,196.1 L1012.6,180.4 L1013.2,165.1 L1013.7,150.2 L1014.2,135.9 L1014.7,122.4 L1015.2,109.7 L1015.7,98.0 L1016.3,87.3 L1016.8,77.9 L1017.3,69.8 L1017.8,63.0 L1018.3,57.7 L1018.8,53.9 L1019.4,51.5 L1019.9,50.8 L1020.4,52.0 L1020.9,55.5 L1021.5,61.4 L1022.0,69.4 L1022.5,79.6 L1023.0,91.6 L1023.6,105.3 L1024.1,120.4 L1024.6,136.8 L1025.1,154.0 L1025.7,171.9 L1026.2,190.1 L1026.7,176.4 L1027.2,162.8 L1027.7,149.5 L1028.3,136.5 L1028.8,124.1 L1029.3,112.3 L1029.8,101.3 L1030.3,91.1 L1030.9,81.9 L1031.4,73.7 L1031.9,66.6 L1032.4,60.8 L1032.9,56.1 L1033.4,52.8 L1034.0,50.8 L1034.5,50.1 L1035.0,51.2 L1035.5,54.6 L1036.0,60.1 L1036.5,67.8 L1037.0,77.4 L1037.5,88.9 L1038.0,102.0 L1038.5,116.7 L1039.0,132.6 L1039.5,149.6 L1040.0,167.4 L1040.5,185.7 L1041.0,204.2 L1041.5,189.9 L1042.0,175.7 L1042.5,161.7 L1043.0,148.2 L1043.5,135.2 L1044.0,122.8 L1044.5,111.3 L1045.0,100.6 L1045.5,91.0 L1046.0,82.4 L1046.5,75.0 L1047.0,68.9 L1047.5,64.0 L1048.1,60.5 L1048.6,58.4 L1049.1,57.7 L1049.6,58.6 L1050.1,61.3 L1050.6,65.6 L1051.1,71.6 L1051.6,79.2 L1052.1,88.3 L1052.6,98.7 L1053.1,110.2 L1053.6,122.8 L1054.1,136.1 L1054.6,150.1 L1055.1,164.6 L1055.6,179.2 L1056.1,166.7 L1056.6,154.4 L1057.1,142.2 L1057.7,130.5 L1058.2,119.2 L1058.7,108.5 L1059.2,98.4 L1059.7,89.2 L1060.2,80.8 L1060.8,73.3 L1061.3,66.9 L1061.8,61.6 L1062.3,57.3 L1062.8,54.3 L1063.4,52.5 L1063.9,51.9 L1064.4,52.8 L1064.9,55.5 L1065.5,60.1 L1066.0,66.4 L1066.5,74.3 L1067.1,83.8 L1067.6,94.6 L1068.2,106.7 L1068.7,119.8 L1069.2,133.8 L1069.8,148.4 L1070.3,163.5 L1070.8,178.8 L1071.3,166.8 L1071.9,155.0 L1072.4,143.4 L1072.9,132.2 L1073.4,121.5 L1073.9,111.5 L1074.4,102.2 L1074.9,93.7 L1075.4,86.1 L1075.9,79.6 L1076.4,74.2 L1076.9,69.9 L1077.4,66.8 L1077.9,64.9 L1078.5,64.3 L1079.0,65.0 L1079.5,67.2 L1080.0,70.8 L1080.5,75.8 L1081.0,82.1 L1081.5,89.6 L1082.0,98.2 L1082.5,107.8 L1083.0,118.2 L1083.5,129.3 L1084.0,140.9 L1084.5,152.9 L1085.0,165.1 L1085.5,154.4 L1086.0,143.9 L1086.5,133.6 L1087.1,123.7 L1087.6,114.1 L1088.1,104.9 L1088.6,96.4 L1089.1,88.6 L1089.6,81.4 L1090.2,75.1 L1090.7,69.6 L1091.2,65.1 L1091.7,61.5 L1092.2,58.9 L1092.7,57.4 L1093.3,56.9 L1093.8,57.5 L1094.3,59.3 L1094.8,62.3 L1095.3,66.4 L1095.8,71.7 L1096.3,78.0 L1096.9,85.2 L1097.4,93.3 L1097.9,102.1 L1098.4,111.6 L1098.9,121.6 L1099.4,132.0 L1099.9,142.7 L1100.5,153.5 L1101.0,144.4 L1101.5,135.4 L1102.0,126.6 L1102.6,118.2 L1103.1,110.2 L1103.6,102.8 L1104.2,95.9 L1104.7,89.9 L1105.2,84.6 L1105.7,80.2 L1106.3,76.7 L1106.8,74.1 L1107.3,72.6 L1107.9,72.1 L1108.4,72.6 L1108.9,74.1 L1109.4,76.5 L1109.9,79.9 L1110.4,84.2 L1110.9,89.3 L1111.4,95.2 L1112.0,101.8 L1112.5,109.0 L1113.0,116.7 L1113.5,124.9 L1114.0,133.4 L1114.5,142.1 L1115.0,150.9 L1115.5,146.6 L1116.0,142.2 L1116.5,137.8 L1117.1,133.5 L1117.6,129.1 L1118.1,124.8 L1118.6,120.4 L1119.1,116.1 L1119.6,111.7 L1120.1,107.4 L1120.6,103.0 L1121.1,98.7 L1121.6,94.3" stroke="#c00000" stroke-width="1.9" fill="none" stroke-linejoin="round"/>
</g>
<path d="M116.76,29.5 v4.5 M116.76,284.3 v-4.5 M145.27,29.5 v4.5 M145.27,284.3 v-4.5 M173.79,29.5 v4.5 M173.79,284.3 v-4.5 M202.30,29.5 v10.7 M202.30,284.3 v-10.7 M230.82,29.5 v4.5 M230.82,284.3 v-4.5 M259.34,29.5 v4.5 M259.34,284.3 v-4.5 M287.85,29.5 v4.5 M287.85,284.3 v-4.5 M316.37,29.5 v4.5 M316.37,284.3 v-4.5 M344.88,29.5 v10.7 M344.88,284.3 v-10.7 M373.40,29.5 v4.5 M373.40,284.3 v-4.5 M401.92,29.5 v4.5 M401.92,284.3 v-4.5 M430.43,29.5 v4.5 M430.43,284.3 v-4.5 M458.95,29.5 v4.5 M458.95,284.3 v-4.5 M487.46,29.5 v10.7 M487.46,284.3 v-10.7 M515.98,29.5 v4.5 M515.98,284.3 v-4.5 M544.50,29.5 v4.5 M544.50,284.3 v-4.5 M573.01,29.5 v4.5 M573.01,284.3 v-4.5 M601.53,29.5 v4.5 M601.53,284.3 v-4.5 M630.04,29.5 v10.7 M630.04,284.3 v-10.7 M658.56,29.5 v4.5 M658.56,284.3 v-4.5 M687.08,29.5 v4.5 M687.08,284.3 v-4.5 M715.59,29.5 v4.5 M715.59,284.3 v-4.5 M744.11,29.5 v4.5 M744.11,284.3 v-4.5 M772.62,29.5 v10.7 M772.62,284.3 v-10.7 M801.14,29.5 v4.5 M801.14,284.3 v-4.5 M829.66,29.5 v4.5 M829.66,284.3 v-4.5 M858.17,29.5 v4.5 M858.17,284.3 v-4.5 M886.69,29.5 v4.5 M886.69,284.3 v-4.5 M915.20,29.5 v10.7 M915.20,284.3 v-10.7 M943.72,29.5 v4.5 M943.72,284.3 v-4.5 M972.24,29.5 v4.5 M972.24,284.3 v-4.5 M1000.75,29.5 v4.5 M1000.75,284.3 v-4.5 M1029.27,29.5 v4.5 M1029.27,284.3 v-4.5 M1057.78,29.5 v10.7 M1057.78,284.3 v-10.7 M1086.30,29.5 v4.5 M1086.30,284.3 v-4.5 M87.6,102.30 h12 M87.6,175.10 h12 M87.6,247.90 h12" stroke="#262626" stroke-width="1.4" fill="none"/>
<rect x="87.6" y="29.5" width="1027.5" height="254.8" stroke="#262626" stroke-width="1.5" fill="none"/>
<text transform="translate(81,39.5) scale(1,1.06)" font-size="28" text-anchor="end" fill="#262626">50</text>
<text transform="translate(81,112.3) scale(1,1.06)" font-size="28" text-anchor="end" fill="#262626">0</text>
<text transform="translate(81,185.1) scale(1,1.06)" font-size="28" text-anchor="end" fill="#262626">-50</text>
<text transform="translate(81,257.9) scale(1,1.06)" font-size="28" text-anchor="end" fill="#262626">-100</text>
<text x="155" y="262.3" font-size="36" fill="#000">PM04</text>
<path d="M87.6,375.55 H1115.1 M87.6,448.35 H1115.1 M87.6,521.15 H1115.1 M202.30,302.75 V557.55 M344.88,302.75 V557.55 M487.46,302.75 V557.55 M630.04,302.75 V557.55 M772.62,302.75 V557.55 M915.20,302.75 V557.55 M1057.78,302.75 V557.55" stroke="#e3e3e3" stroke-width="1.3" fill="none"/>
<g clip-path="url(#c1)">
<path d="M85.2,361.1 L85.7,363.8 L86.3,367.8 L86.8,371.5 L87.4,367.1 L87.9,360.2 L88.5,354.4 L89.0,353.1 L89.6,358.5 L90.2,377.4 L90.8,429.1 L91.4,490.7 L91.9,470.6 L92.4,450.5 L92.9,441.9 L93.5,421.8 L94.0,409.0 L94.5,399.6 L95.0,390.1 L95.5,391.4 L96.0,385.4 L96.5,375.9 L97.0,353.7 L97.6,346.7 L98.1,335.4 L98.6,337.0 L99.1,336.2 L99.6,332.9 L100.1,342.0 L100.6,342.3 L101.1,338.1 L101.7,323.8 L102.2,319.3 L102.7,315.3 L103.2,315.5 L103.7,330.2 L104.2,330.8 L104.7,329.1 L105.2,325.4 L105.8,328.6 L106.4,340.3 L107.0,343.8 L107.6,367.5 L108.1,388.1 L108.7,426.4 L109.2,405.8 L109.7,398.4 L110.2,387.0 L110.7,376.1 L111.3,366.8 L111.8,366.3 L112.3,366.8 L112.8,365.3 L113.3,367.2 L113.8,363.8 L114.3,360.7 L114.8,348.4 L115.3,344.6 L115.8,342.6 L116.3,341.0 L116.8,339.8 L117.4,354.2 L117.9,353.9 L118.4,363.9 L119.0,384.3 L119.6,401.8 L120.2,441.7 L120.8,486.0 L121.4,468.3 L122.0,443.2 L122.7,418.1 L123.2,408.0 L123.8,397.8 L124.4,388.1 L124.9,384.8 L125.4,368.9 L126.0,366.2 L126.5,364.3 L127.0,359.5 L127.5,367.0 L128.1,357.6 L128.6,350.0 L129.1,348.2 L129.6,345.7 L130.1,342.2 L130.7,330.8 L131.2,327.9 L131.7,325.3 L132.2,323.2 L132.8,318.5 L133.3,317.1 L133.8,322.8 L134.3,322.2 L134.8,322.0 L135.4,327.9 L135.9,346.0 L136.4,366.9 L136.9,400.1 L137.5,449.5 L138.0,432.9 L138.6,415.2 L139.1,401.4 L139.6,387.6 L140.2,391.3 L140.7,387.3 L141.2,383.4 L141.7,370.9 L142.2,367.3 L142.7,363.8 L143.2,362.3 L143.7,359.3 L144.3,356.5 L144.8,353.9 L145.3,351.1 L145.8,349.2 L146.3,356.8 L146.8,355.6 L147.3,354.7 L147.8,350.2 L148.3,338.9 L148.9,350.0 L149.5,381.5 L150.0,428.7 L150.6,490.2 L151.1,463.2 L151.7,439.3 L152.3,418.1 L152.8,409.9 L153.4,402.8 L153.9,397.4 L154.4,384.5 L155.0,377.2 L155.5,369.4 L156.0,359.0 L156.5,353.9 L157.0,349.1 L157.5,347.6 L158.0,343.1 L158.5,338.9 L159.0,355.5 L159.5,352.0 L160.0,348.8 L160.5,345.9 L161.1,331.3 L161.6,325.2 L162.1,323.6 L162.6,322.4 L163.1,331.9 L163.6,331.7 L164.2,325.6 L164.7,345.6 L165.3,376.8 L165.9,411.1 L166.4,454.7 L167.0,441.8 L167.5,422.2 L168.1,402.6 L168.6,383.8 L169.1,379.4 L169.6,372.9 L170.1,352.6 L170.6,350.8 L171.1,372.8 L171.6,372.1 L172.2,361.9 L172.7,355.3 L173.2,352.1 L173.7,343.8 L174.2,341.1 L174.7,338.8 L175.2,341.3 L175.7,339.6 L176.2,340.0 L176.7,331.1 L177.2,330.5 L177.7,330.3 L178.3,341.0 L178.9,360.1 L179.5,389.9 L180.1,427.4 L180.6,466.2 L181.4,423.7 L182.1,381.2 L182.6,377.2 L183.1,376.3 L183.6,372.3 L184.2,368.3 L184.7,364.0 L185.2,364.4 L185.7,360.8 L186.2,345.6 L186.7,339.4 L187.2,340.6 L187.8,356.3 L188.3,354.1 L188.8,348.6 L189.3,328.8 L189.8,326.7 L190.3,324.8 L190.9,323.3 L191.4,329.0 L191.9,330.1 L192.4,333.6 L192.9,332.6 L193.4,328.6 L194.0,337.5 L194.6,378.4 L195.2,427.6 L195.8,485.6 L196.4,460.9 L196.9,430.0 L197.5,405.3 L198.0,374.7 L198.5,370.3 L199.0,366.0 L199.5,357.6 L200.0,357.8 L200.5,359.3 L201.0,363.5 L201.6,358.3 L202.1,352.3 L202.6,351.3 L203.1,344.3 L203.6,340.9 L204.1,338.6 L204.6,341.8 L205.1,340.1 L205.6,338.8 L206.1,337.9 L206.6,324.0 L207.1,338.2 L207.7,348.8 L208.2,374.8 L208.8,416.3 L209.3,464.3 L209.9,445.9 L210.4,424.3 L211.0,406.7 L211.5,381.2 L212.0,374.0 L212.5,370.8 L213.0,374.3 L213.6,371.1 L214.1,368.0 L214.6,357.8 L215.1,354.9 L215.6,352.1 L216.1,356.7 L216.6,356.6 L217.2,350.9 L217.7,348.7 L218.2,346.7 L218.7,350.4 L219.2,348.8 L219.7,347.3 L220.2,346.1 L220.8,337.7 L221.3,336.9 L221.8,336.3 L222.3,336.7 L222.8,336.6 L223.4,357.4 L224.0,414.1 L224.6,495.1 L225.1,462.3 L225.7,440.5 L226.2,414.1 L226.7,387.4 L227.3,383.2 L227.8,377.9 L228.3,375.0 L228.8,371.1 L229.3,365.4 L229.9,357.4 L230.4,345.4 L230.9,346.4 L231.4,347.7 L231.9,344.1 L232.5,341.6 L233.0,339.4 L233.5,338.3 L234.0,336.7 L234.5,339.5 L235.1,338.6 L235.6,338.0 L236.1,338.1 L236.6,341.4 L237.1,352.9 L237.6,368.3 L238.1,388.4 L238.6,415.5 L239.2,440.3 L239.7,416.2 L240.2,399.2 L240.8,386.8 L241.3,375.5 L241.9,374.2 L242.4,373.6 L242.9,372.0 L243.4,367.1 L243.9,362.2 L244.5,364.8 L245.0,362.3 L245.5,360.0 L246.0,357.8 L246.6,351.9 L247.1,346.8 L247.6,345.0 L248.1,346.2 L248.6,344.8 L249.2,346.4 L249.7,341.3 L250.2,336.2 L250.7,337.2 L251.3,338.1 L251.8,341.6 L252.3,357.6 L252.9,387.1 L253.4,431.1 L254.0,484.0 L254.5,463.8 L255.0,455.4 L255.5,435.2 L256.1,410.2 L256.6,390.0 L257.1,382.7 L257.6,377.7 L258.1,372.7 L258.7,367.8 L259.2,367.4 L259.7,362.8 L260.2,358.5 L260.7,359.9 L261.3,352.1 L261.8,348.6 L262.3,345.5 L262.8,333.6 L263.3,331.2 L263.9,334.5 L264.4,333.0 L264.9,337.7 L265.4,337.0 L265.9,342.8 L266.5,344.9 L267.0,351.0 L267.6,349.2 L268.1,361.9 L268.7,381.0 L269.2,396.9 L269.7,392.2 L270.2,394.1 L270.7,392.5 L271.2,390.9 L271.7,389.4 L272.2,377.7 L272.7,381.2 L273.2,379.7 L273.7,378.1 L274.2,382.4 L274.7,380.8 L275.2,379.3 L275.7,377.6 L276.3,374.6 L276.8,371.7 L277.4,365.7 L277.9,361.1 L278.5,358.8 L279.0,350.7 L279.5,351.5 L280.1,342.9 L280.6,348.0 L281.2,350.3 L281.7,354.6 L282.3,382.2 L282.8,427.9 L283.4,473.8 L283.9,446.3 L284.4,419.3 L285.0,396.6 L285.5,378.6 L286.1,374.6 L286.6,370.0 L287.1,378.4 L287.6,374.0 L288.1,368.3 L288.6,355.6 L289.1,350.7 L289.7,349.1 L290.2,347.0 L290.7,343.8 L291.2,341.1 L291.7,338.4 L292.2,342.0 L292.8,340.0 L293.3,338.3 L293.8,336.4 L294.3,335.4 L294.8,334.8 L295.3,334.6 L295.8,326.0 L296.4,326.8 L296.9,328.1 L297.4,329.8 L297.9,339.9 L298.4,342.6 L298.9,345.7 L299.4,348.0 L299.9,351.9 L300.4,357.9 L300.9,361.2 L301.4,365.8 L301.9,372.7 L302.4,380.0 L303.0,387.3 L303.5,383.6 L304.0,381.8 L304.5,383.3 L305.0,387.5 L305.6,391.6 L306.1,390.0 L306.6,394.9 L307.1,389.4 L307.6,383.4 L308.1,375.5 L308.6,368.1 L309.1,368.5 L309.6,355.1 L310.1,357.6 L310.6,360.7 L311.1,366.2 L311.6,336.4 L312.1,306.0 L312.7,306.7 L313.2,337.1 L313.8,370.1 L314.3,403.1 L314.9,411.2 L315.5,394.6 L316.0,376.5 L316.5,375.0 L317.1,370.3 L317.6,366.3 L318.1,362.4 L318.6,365.3 L319.2,361.6 L319.7,358.0 L320.2,354.6 L320.7,335.1 L321.2,332.1 L321.8,329.4 L322.3,326.9 L322.8,335.3 L323.3,333.3 L323.9,331.1 L324.4,340.4 L324.9,339.3 L325.4,319.8 L326.0,319.3 L326.5,321.6 L327.0,322.0 L327.5,335.6 L328.1,337.7 L328.6,340.4 L329.2,331.2 L329.7,335.4 L330.2,340.2 L330.8,345.6 L331.3,362.1 L331.8,372.3 L332.4,376.4 L332.9,379.1 L333.4,381.6 L334.0,384.2 L334.5,394.6 L335.1,391.8 L335.6,394.4 L336.2,385.6 L336.7,391.7 L337.2,384.7 L337.7,381.7 L338.3,379.1 L338.8,377.0 L339.3,382.9 L339.9,381.9 L340.4,371.6 L341.0,373.4 L341.5,369.6 L342.1,378.2 L342.6,389.6 L343.2,403.2 L343.8,422.9 L344.3,439.0 L344.8,416.9 L345.2,393.3 L345.7,388.2 L346.2,383.0 L346.8,386.9 L347.3,381.9 L347.8,368.8 L348.3,364.1 L348.8,359.5 L349.3,355.1 L349.9,353.0 L350.4,349.1 L350.9,345.5 L351.4,346.2 L351.9,337.0 L352.5,334.3 L353.0,331.8 L353.5,329.1 L354.0,330.7 L354.5,333.1 L355.1,331.8 L355.6,315.2 L356.1,312.2 L356.6,329.3 L357.2,330.6 L357.7,332.8 L358.3,335.8 L358.8,336.5 L359.4,342.1 L359.9,334.6 L360.4,339.9 L361.0,345.5 L361.5,351.2 L362.1,368.3 L362.7,376.2 L363.2,384.1 L363.8,392.0 L364.4,414.2 L364.9,394.1 L365.4,394.7 L365.9,400.1 L366.4,404.4 L366.9,395.5 L367.4,384.7 L367.9,379.7 L368.4,386.8 L368.9,385.2 L369.4,369.9 L369.9,369.0 L370.4,370.1 L370.9,369.9 L371.4,366.9 L372.0,383.7 L372.5,421.6 L373.1,451.2 L373.6,433.8 L374.1,427.7 L374.6,417.3 L375.2,406.8 L375.7,396.4 L376.2,391.8 L376.7,385.9 L377.2,377.8 L377.8,368.8 L378.3,365.5 L378.8,361.4 L379.3,359.1 L379.8,354.1 L380.4,349.3 L380.9,344.5 L381.4,340.4 L381.9,336.5 L382.4,333.0 L382.9,329.7 L383.5,326.9 L384.0,324.5 L384.5,319.3 L385.0,319.3 L385.5,318.2 L386.1,317.5 L386.6,318.5 L387.1,319.2 L387.7,321.3 L388.2,334.2 L388.8,338.9 L389.3,344.8 L389.8,338.9 L390.4,350.7 L390.9,359.0 L391.5,367.7 L392.0,381.4 L392.6,387.7 L393.1,388.3 L393.7,394.5 L394.2,400.8 L394.7,392.8 L395.2,389.9 L395.7,384.5 L396.2,378.6 L396.7,380.7 L397.2,379.9 L397.7,379.5 L398.2,377.2 L398.7,373.6 L399.2,372.0 L399.7,370.9 L400.2,370.2 L400.7,368.7 L401.3,375.9 L401.8,392.6 L402.4,423.5 L402.9,466.1 L403.4,456.6 L404.0,444.5 L404.5,429.0 L405.1,419.4 L405.6,422.0 L406.2,412.4 L406.7,405.3 L407.2,398.2 L407.7,387.9 L408.2,375.4 L408.8,363.1 L409.3,359.1 L409.8,354.7 L410.3,352.3 L410.8,346.8 L411.3,341.7 L411.8,335.6 L412.4,331.5 L412.9,327.8 L413.4,329.1 L413.9,350.4 L414.4,335.3 L414.9,326.0 L415.5,319.7 L416.0,319.4 L416.5,314.2 L417.1,322.2 L417.6,326.3 L418.1,331.8 L418.7,341.8 L419.2,349.8 L419.8,358.8 L420.3,369.1 L420.9,379.3 L421.4,390.7 L422.0,395.4 L422.6,402.3 L423.2,408.7 L423.7,409.1 L424.2,408.6 L424.8,389.2 L425.3,375.7 L425.8,366.3 L426.4,364.2 L426.9,370.9 L427.4,375.7 L428.0,373.2 L428.5,355.6 L429.1,354.2 L429.6,353.3 L430.1,362.8 L430.7,370.4 L431.3,392.3 L431.9,428.0 L432.4,471.0 L433.0,514.9 L433.7,458.4 L434.5,395.6 L435.0,388.7 L435.5,387.0 L436.0,387.0 L436.6,381.7 L437.1,371.3 L437.6,359.8 L438.1,354.7 L438.6,349.4 L439.1,341.9 L439.7,329.2 L440.2,328.0 L440.7,329.6 L441.2,337.9 L441.7,332.4 L442.3,327.3 L442.8,324.6 L443.3,322.7 L443.8,321.2 L444.3,317.9 L444.8,323.7 L445.4,322.0 L445.9,320.6 L446.4,328.0 L447.0,332.5 L447.5,341.0 L448.0,353.0 L448.6,367.3 L449.1,382.0 L449.6,388.4 L450.2,401.0 L450.7,396.0 L451.2,391.7 L451.7,387.5 L452.2,398.1 L452.8,382.6 L453.3,378.8 L453.8,375.2 L454.3,371.8 L454.8,365.4 L455.4,362.5 L455.9,359.9 L456.4,357.6 L456.9,370.6 L457.4,368.9 L458.0,361.1 L458.5,355.5 L459.0,354.9 L459.5,354.8 L460.1,368.0 L460.7,380.4 L461.3,406.2 L461.8,439.5 L462.4,476.4 L463.0,456.1 L463.7,434.9 L464.3,415.2 L464.8,408.9 L465.3,405.7 L465.8,416.7 L466.3,412.1 L466.8,401.7 L467.3,391.5 L467.8,378.6 L468.3,366.0 L468.8,358.1 L469.3,350.1 L469.8,341.3 L470.3,336.4 L470.8,350.7 L471.3,349.1 L471.8,343.7 L472.3,339.5 L472.8,330.2 L473.3,327.8 L473.8,325.9 L474.3,330.5 L474.8,329.5 L475.4,330.6 L475.9,334.1 L476.4,330.1 L476.9,335.8 L477.5,347.3 L478.0,367.3 L478.6,399.9 L479.1,421.3 L479.7,400.3 L480.2,411.5 L480.8,406.7 L481.3,399.0 L481.8,380.7 L482.3,376.6 L482.8,378.2 L483.3,369.9 L483.8,369.1 L484.3,365.6 L484.9,364.2 L485.4,364.6 L485.9,368.3 L486.4,350.6 L486.9,345.5 L487.4,343.4 L487.9,347.4 L488.4,347.8 L488.9,345.2 L489.5,353.2 L490.0,393.7 L490.6,442.5 L491.1,498.4 L491.6,473.7 L492.2,445.5 L492.7,423.2 L493.3,393.2 L493.8,388.0 L494.3,382.8 L494.8,377.7 L495.4,386.8 L495.9,381.8 L496.4,371.9 L496.9,364.3 L497.4,356.8 L498.0,354.4 L498.5,352.2 L499.0,349.4 L499.5,345.0 L500.0,338.6 L500.6,330.2 L501.1,336.6 L501.6,337.1 L502.1,337.2 L502.6,337.5 L503.2,346.6 L503.7,333.2 L504.2,330.1 L504.7,329.9 L505.3,329.8 L505.8,335.1 L506.4,350.7 L506.9,373.5 L507.5,404.1 L508.1,438.0 L508.6,432.0 L509.1,421.8 L509.6,411.5 L510.2,401.2 L510.7,390.8 L511.2,387.0 L511.7,383.3 L512.2,374.2 L512.7,365.2 L513.2,361.8 L513.7,358.5 L514.2,353.1 L514.7,362.4 L515.2,363.2 L515.7,364.5 L516.2,356.7 L516.7,352.4 L517.2,348.1 L517.7,347.6 L518.2,347.1 L518.8,346.9 L519.3,363.8 L519.9,416.5 L520.5,488.6 L521.0,465.5 L521.6,448.1 L522.1,425.0 L522.7,401.9 L523.2,393.0 L523.7,385.5 L524.2,377.4 L524.7,372.3 L525.3,385.3 L525.8,383.2 L526.3,378.7 L526.8,364.8 L527.3,360.7 L527.9,349.1 L528.4,354.6 L528.9,343.9 L529.4,340.9 L529.9,338.1 L530.4,344.9 L531.0,342.9 L531.5,341.2 L532.0,339.9 L532.5,322.1 L533.0,321.5 L533.6,321.4 L534.1,327.4 L534.7,353.5 L535.3,380.8 L535.8,420.2 L536.4,458.3 L536.9,443.8 L537.4,423.6 L538.0,409.1 L538.5,394.5 L539.0,386.4 L539.5,392.9 L540.0,391.2 L540.5,379.8 L541.1,367.5 L541.6,366.0 L542.1,362.9 L542.6,359.9 L543.1,360.4 L543.6,357.9 L544.1,355.6 L544.6,346.2 L545.2,344.5 L545.7,343.0 L546.2,341.9 L546.7,347.0 L547.2,346.5 L547.7,346.4 L548.3,356.9 L548.8,377.8 L549.3,426.7 L549.9,484.4 L550.4,461.0 L551.0,450.3 L551.5,425.4 L552.1,395.5 L552.6,391.3 L553.1,387.0 L553.6,376.9 L554.1,372.7 L554.7,368.7 L555.2,355.9 L555.7,352.2 L556.2,360.6 L556.7,351.8 L557.3,345.3 L557.8,346.2 L558.3,352.6 L558.8,352.5 L559.3,350.3 L559.8,348.3 L560.4,332.0 L560.9,330.6 L561.4,329.5 L561.9,328.7 L562.4,332.4 L563.0,332.3 L563.5,334.8 L564.1,340.5 L564.7,361.1 L565.2,391.7 L565.8,425.9 L566.4,459.0 L566.9,492.9 L567.7,437.9 L568.4,384.4 L568.9,387.6 L569.4,383.0 L569.9,376.1 L570.4,369.3 L571.0,370.1 L571.5,348.6 L572.0,345.3 L572.5,342.3 L573.0,350.7 L573.5,348.1 L574.0,345.9 L574.5,343.9 L575.1,338.5 L575.6,337.3 L576.1,333.9 L576.6,333.3 L577.1,336.5 L577.7,361.1 L578.2,375.7 L578.8,392.9 L579.4,413.4 L580.0,450.1 L580.5,484.9 L581.1,527.9 L581.8,441.9 L582.6,371.7 L583.1,370.1 L583.6,368.6 L584.1,363.6 L584.6,367.5 L585.1,371.5 L585.6,366.5 L586.2,355.2 L586.7,345.1 L587.2,343.9 L587.7,342.7 L588.2,341.7 L588.7,342.3 L589.3,341.5 L589.8,340.8 L590.3,340.2 L590.8,338.0 L591.3,340.6 L591.8,345.1 L592.4,345.1 L592.9,349.5 L593.5,362.6 L594.1,382.4 L594.6,410.4 L595.2,441.1 L595.8,484.8 L596.3,524.2 L597.1,458.4 L597.8,383.3 L598.3,378.3 L598.9,373.4 L599.4,368.9 L599.9,363.1 L600.4,363.8 L601.0,363.0 L601.5,359.3 L602.0,356.0 L602.6,353.1 L603.1,350.2 L603.6,348.3 L604.1,336.7 L604.7,335.9 L605.2,335.6 L605.8,348.3 L606.3,356.0 L606.9,364.0 L607.4,380.8 L608.0,401.4 L608.5,414.3 L609.1,439.8 L609.6,466.2 L610.1,438.5 L610.7,424.5 L611.2,396.7 L611.7,358.4 L612.3,357.0 L612.8,363.6 L613.4,362.2 L613.9,361.2 L614.5,356.2 L615.0,346.1 L615.5,345.3 L616.0,347.4 L616.5,348.7 L617.0,350.5 L617.5,349.0 L618.0,347.6 L618.5,346.3 L619.0,334.0 L619.5,333.1 L620.0,349.0 L620.5,339.4 L621.0,339.1 L621.5,339.0 L622.1,348.9 L622.6,377.4 L623.2,430.2 L623.7,480.1 L624.3,462.6 L624.8,438.6 L625.3,421.1 L625.9,403.6 L626.4,397.5 L627.0,400.5 L627.5,394.3 L628.1,388.2 L628.6,382.0 L629.2,372.9 L629.7,369.3 L630.2,365.7 L630.7,362.3 L631.2,353.7 L631.7,344.1 L632.2,341.3 L632.7,338.9 L633.2,351.9 L633.7,346.0 L634.2,344.8 L634.7,344.1 L635.3,344.6 L635.8,347.9 L636.3,349.5 L636.8,364.3 L637.3,382.9 L637.9,403.5 L638.4,408.8 L639.0,404.5 L639.5,387.8 L640.0,379.9 L640.6,375.6 L641.1,371.2 L641.7,366.9 L642.2,365.2 L642.8,363.9 L643.3,358.1 L643.8,352.6 L644.3,347.3 L644.8,355.4 L645.3,360.8 L645.8,360.8 L646.3,359.5 L646.8,358.3 L647.3,350.2 L647.8,349.4 L648.3,348.7 L648.8,353.7 L649.3,353.4 L649.8,351.0 L650.4,356.7 L651.0,370.6 L651.5,391.8 L652.1,421.6 L652.7,469.3 L653.2,461.7 L653.8,440.4 L654.3,424.2 L654.8,408.8 L655.4,402.3 L655.9,397.2 L656.4,387.0 L657.0,375.0 L657.5,368.8 L658.0,360.3 L658.6,354.1 L659.1,356.1 L659.6,353.2 L660.2,347.6 L660.7,345.0 L661.3,342.9 L661.8,340.9 L662.4,346.1 L662.9,346.5 L663.4,337.4 L664.0,337.1 L664.5,338.7 L665.1,344.4 L665.6,352.6 L666.2,364.1 L666.7,376.3 L667.3,393.7 L667.8,389.4 L668.3,387.2 L668.9,384.3 L669.4,387.6 L670.0,386.8 L670.5,373.3 L671.1,365.8 L671.6,363.6 L672.2,363.2 L672.7,361.0 L673.2,362.7 L673.7,361.6 L674.2,360.5 L674.7,359.5 L675.2,357.5 L675.7,356.6 L676.2,358.2 L676.7,357.5 L677.2,356.9 L677.7,359.8 L678.2,358.2 L678.7,358.0 L679.2,358.0 L679.8,362.6 L680.3,377.1 L680.8,398.2 L681.3,424.8 L681.8,454.3 L682.4,435.8 L683.0,423.8 L683.5,411.8 L684.1,399.8 L684.7,387.3 L685.2,380.7 L685.8,374.2 L686.3,367.7 L686.9,360.1 L687.4,353.5 L687.9,352.4 L688.5,348.6 L689.0,347.3 L689.6,346.1 L690.1,346.5 L690.7,345.5 L691.2,345.7 L691.8,349.2 L692.3,351.9 L692.8,347.4 L693.4,334.8 L693.9,334.6 L694.5,336.0 L695.0,353.6 L695.6,356.7 L696.1,352.3 L696.7,355.6 L697.2,360.2 L697.7,368.0 L698.3,369.1 L698.8,370.1 L699.4,368.4 L699.9,371.0 L700.5,372.1 L701.0,373.2 L701.6,377.2 L702.1,380.9 L702.6,382.0 L703.2,383.0 L703.7,371.6 L704.3,365.8 L704.8,363.4 L705.4,361.4 L705.9,359.7 L706.5,367.4 L707.0,366.6 L707.5,366.3 L708.1,366.2 L708.6,371.4 L709.1,375.2 L709.7,386.4 L710.2,399.8 L710.7,414.8 L711.2,442.3 L711.8,434.6 L712.4,426.9 L712.9,415.5 L713.5,407.9 L714.1,399.4 L714.6,393.4 L715.2,387.4 L715.7,379.9 L716.3,381.5 L716.8,375.5 L717.3,369.5 L717.9,356.0 L718.4,350.0 L719.0,349.7 L719.5,348.2 L720.1,342.4 L720.6,341.7 L721.2,340.6 L721.7,343.0 L722.2,342.2 L722.8,341.7 L723.3,337.8 L723.9,337.7 L724.4,337.9 L724.9,338.6 L725.4,344.4 L725.9,347.2 L726.4,349.2 L726.9,349.9 L727.4,352.6 L727.9,348.0 L728.4,351.3 L728.9,367.8 L729.4,371.5 L729.9,363.3 L730.4,367.2 L731.0,368.9 L731.5,371.8 L732.0,366.4 L732.6,369.5 L733.1,375.5 L733.7,379.6 L734.2,381.0 L734.8,378.9 L735.3,375.8 L735.9,374.4 L736.4,374.6 L736.9,374.3 L737.5,375.2 L738.0,378.1 L738.6,373.5 L739.1,379.8 L739.7,387.5 L740.2,396.3 L740.8,415.1 L741.3,425.0 L741.8,416.1 L742.4,407.2 L742.9,395.0 L743.5,386.1 L744.0,377.2 L744.6,368.3 L745.1,354.7 L745.6,354.3 L746.1,353.9 L746.6,349.1 L747.1,358.0 L747.7,354.3 L748.2,353.8 L748.7,348.4 L749.2,346.1 L749.7,341.7 L750.2,342.5 L750.8,340.2 L751.3,338.7 L751.8,335.2 L752.3,320.2 L752.8,326.9 L753.3,335.4 L753.8,331.2 L754.4,331.1 L754.9,334.5 L755.5,335.6 L756.0,331.8 L756.5,334.3 L757.1,337.5 L757.6,341.2 L758.2,349.0 L758.7,353.6 L759.3,358.3 L759.8,363.1 L760.4,368.6 L760.9,374.0 L761.4,379.5 L762.0,387.1 L762.5,385.6 L763.1,384.2 L763.6,386.7 L764.2,380.1 L764.7,378.1 L765.3,375.0 L765.8,376.6 L766.3,378.1 L766.9,381.0 L767.4,389.7 L768.0,390.8 L768.5,393.9 L769.0,384.4 L769.5,390.9 L770.1,400.7 L770.6,407.6 L771.1,422.6 L771.7,414.9 L772.3,398.5 L772.8,390.8 L773.4,383.0 L774.0,384.5 L774.5,380.1 L775.0,375.8 L775.6,373.2 L776.1,364.4 L776.7,362.2 L777.2,358.0 L777.8,350.5 L778.3,341.4 L778.9,337.0 L779.4,328.1 L779.9,333.4 L780.5,332.8 L781.0,323.9 L781.5,326.1 L782.1,325.0 L782.6,332.3 L783.1,331.6 L783.7,331.2 L784.2,331.0 L784.7,335.0 L785.2,336.5 L785.7,337.5 L786.2,341.0 L786.7,347.8 L787.2,352.8 L787.7,357.1 L788.2,361.3 L788.7,361.7 L789.2,357.7 L789.8,368.4 L790.3,379.3 L790.9,385.0 L791.5,382.7 L792.0,387.6 L792.6,384.8 L793.1,382.0 L793.6,386.9 L794.2,373.6 L794.7,371.3 L795.2,369.3 L795.8,387.2 L796.3,378.6 L796.8,377.6 L797.4,377.0 L797.9,379.2 L798.5,374.0 L799.0,381.1 L799.5,395.5 L800.1,401.5 L800.6,414.1 L801.2,424.0 L801.7,412.3 L802.3,400.1 L802.8,389.4 L803.4,385.1 L803.9,374.3 L804.4,357.0 L805.0,353.9 L805.5,355.2 L806.0,352.3 L806.5,349.4 L807.0,341.7 L807.6,339.0 L808.1,336.5 L808.6,344.4 L809.1,340.4 L809.6,338.4 L810.2,336.6 L810.7,335.0 L811.2,331.6 L811.7,331.2 L812.2,323.2 L812.8,322.5 L813.3,322.1 L813.8,322.0 L814.3,325.4 L814.9,313.8 L815.4,316.3 L815.9,333.3 L816.5,336.7 L817.0,330.8 L817.5,332.7 L818.1,343.4 L818.6,352.6 L819.1,375.1 L819.7,379.0 L820.2,386.6 L820.8,395.4 L821.3,394.2 L821.8,388.6 L822.4,385.1 L822.9,381.8 L823.5,380.4 L824.0,377.5 L824.5,375.0 L825.1,372.7 L825.6,370.3 L826.1,369.2 L826.7,368.6 L827.2,373.6 L827.7,371.4 L828.3,372.0 L828.9,371.3 L829.4,386.2 L830.0,409.0 L830.6,432.0 L831.1,467.7 L831.7,455.4 L832.2,433.0 L832.8,405.6 L833.3,397.1 L833.8,401.2 L834.4,394.2 L834.9,386.4 L835.5,384.1 L836.0,389.7 L836.6,383.5 L837.1,359.8 L837.7,357.0 L838.2,381.3 L838.7,384.0 L839.3,358.1 L839.8,335.3 L840.4,327.0 L840.9,315.3 L841.5,314.0 L842.0,330.5 L842.6,325.7 L843.1,323.9 L843.6,329.9 L844.2,318.1 L844.7,305.4 L845.3,313.5 L845.8,354.2 L846.4,363.1 L846.9,368.5 L847.5,374.3 L848.0,391.6 L848.5,409.0 L849.1,414.8 L849.6,405.6 L850.1,385.9 L850.6,379.7 L851.1,376.8 L851.6,381.1 L852.2,377.1 L852.7,384.1 L853.2,396.1 L853.7,389.6 L854.2,377.3 L854.7,367.8 L855.2,359.4 L855.7,327.3 L856.3,293.8 L856.8,322.0 L857.3,339.6 L857.8,373.1 L858.3,408.8 L858.9,444.5 L859.4,480.1 L860.0,466.8 L860.5,431.1 L861.1,395.5 L861.6,359.8 L862.2,340.3 L862.7,359.8 L863.2,351.9 L863.9,374.9 L864.6,368.6 L865.2,360.6 L865.7,347.7 L866.3,337.7 L866.8,331.8 L867.3,320.3 L867.9,315.5 L868.4,351.8 L868.9,377.6 L869.5,358.9 L870.0,340.9 L870.5,333.5 L871.1,332.1 L871.6,318.6 L872.1,294.9 L872.6,308.4 L873.2,341.5 L873.7,359.0 L874.3,354.9 L874.8,344.0 L875.3,354.8 L875.9,356.2 L876.4,365.3 L877.0,373.6 L877.3,394.1 L877.6,407.4 L878.2,419.9 L878.7,430.4 L879.2,440.9 L879.7,440.5 L880.3,413.4 L880.8,444.5 L881.3,435.9 L881.8,402.9 L882.3,376.3 L882.8,375.8 L883.3,390.4 L883.8,405.1 L884.3,384.4 L884.8,372.1 L885.4,388.1 L885.9,405.6 L886.4,380.3 L886.9,355.9 L887.4,333.6 L887.9,323.7 L888.4,358.1 L889.0,422.0 L889.6,461.4 L890.1,451.0 L890.7,451.1 L891.2,438.1 L891.7,407.4 L892.2,388.8 L892.8,394.7 L893.3,401.9 L893.9,396.0 L894.4,430.9 L894.9,466.6 L895.5,451.8 L896.0,416.2 L896.6,399.6 L897.1,383.0 L897.7,374.0 L898.2,362.5 L898.8,359.8 L899.3,341.9 L899.8,331.7 L900.4,298.7 L900.9,319.2 L901.5,320.9 L902.0,322.6 L902.6,326.7 L903.1,330.6 L903.7,349.1 L904.2,362.2 L904.7,390.1 L905.3,396.0 L905.8,379.1 L906.4,388.3 L906.9,410.0 L907.5,438.6 L908.0,444.8 L908.6,434.6 L909.1,408.1 L909.6,403.7 L910.2,392.1 L910.7,375.1 L911.3,351.0 L911.8,345.8 L912.4,362.8 L912.9,374.6 L913.4,374.3 L914.0,350.9 L914.5,340.5 L915.1,349.2 L915.6,372.3 L916.2,378.0 L916.7,354.7 L917.3,343.7 L917.8,362.1 L918.4,421.3 L919.0,489.6 L919.5,487.5 L920.0,473.6 L920.6,460.6 L921.1,438.2 L921.6,396.6 L922.2,381.3 L922.7,387.5 L923.2,389.2 L923.8,405.8 L924.3,426.3 L924.9,409.7 L925.4,398.3 L926.0,398.5 L926.5,380.1 L927.1,357.1 L927.6,353.4 L928.1,351.0 L928.7,340.5 L929.2,344.5 L929.8,334.6 L930.3,336.7 L930.9,320.9 L931.4,317.6 L932.0,322.2 L932.5,331.7 L933.0,347.0 L933.5,364.0 L934.1,383.0 L934.6,388.8 L935.1,432.6 L935.7,427.3 L936.2,444.8 L936.8,433.2 L937.4,402.9 L937.9,376.5 L938.5,379.3 L939.0,384.6 L939.5,371.7 L940.0,362.8 L940.5,353.7 L941.1,351.9 L941.6,345.0 L942.1,353.2 L942.6,350.7 L943.1,347.1 L943.6,345.9 L944.2,336.7 L944.7,332.8 L945.2,337.2 L945.7,337.8 L946.2,337.1 L946.7,343.7 L947.3,368.7 L947.8,406.0 L948.3,455.1 L948.8,509.6 L949.4,478.8 L949.9,446.8 L950.5,415.9 L951.0,385.5 L951.5,380.8 L952.0,380.4 L952.6,375.8 L953.1,371.2 L953.6,357.3 L954.1,361.0 L954.6,356.8 L955.2,350.2 L955.7,340.1 L956.2,336.7 L956.7,336.6 L957.2,338.2 L957.8,326.6 L958.3,324.1 L958.8,321.9 L959.3,323.0 L959.8,332.9 L960.3,336.9 L960.9,341.2 L961.4,335.7 L961.9,330.3 L962.4,339.9 L963.0,374.6 L963.5,423.8 L964.1,485.1 L964.6,469.3 L965.1,450.3 L965.6,427.4 L966.2,408.4 L966.7,396.1 L967.2,390.3 L967.7,375.8 L968.3,375.4 L968.8,365.8 L969.3,367.6 L969.8,372.2 L970.4,368.3 L970.9,350.7 L971.4,339.1 L971.9,334.9 L972.5,331.7 L973.0,344.4 L973.5,342.0 L974.0,327.7 L974.6,326.4 L975.1,325.6 L975.6,320.2 L976.1,328.8 L976.7,353.2 L977.2,392.4 L977.7,441.7 L978.2,496.4 L978.8,469.8 L979.3,436.4 L979.9,408.6 L980.4,379.1 L980.9,379.1 L981.4,377.4 L982.0,372.7 L982.5,355.3 L983.0,348.9 L983.5,344.8 L984.0,340.9 L984.5,353.3 L985.1,349.8 L985.6,346.6 L986.1,345.3 L986.6,345.8 L987.1,344.4 L987.6,339.2 L988.1,331.1 L988.7,329.8 L989.2,324.8 L989.7,324.2 L990.2,321.7 L990.7,330.5 L991.3,357.8 L991.8,408.2 L992.3,459.3 L992.8,511.4 L993.4,482.7 L994.0,447.5 L994.5,421.9 L995.1,397.1 L995.7,372.4 L996.2,371.0 L996.7,369.1 L997.2,370.5 L997.7,363.4 L998.2,359.5 L998.7,356.2 L999.3,353.0 L999.8,350.0 L1000.3,347.2 L1000.8,347.6 L1001.3,348.4 L1001.8,351.6 L1002.4,352.6 L1002.9,348.8 L1003.4,336.4 L1003.9,335.3 L1004.4,334.6 L1004.9,325.8 L1005.5,325.7 L1006.0,333.5 L1006.5,357.0 L1007.0,392.5 L1007.5,446.4 L1008.1,494.2 L1008.6,473.5 L1009.2,446.9 L1009.7,423.3 L1010.2,397.9 L1010.8,391.6 L1011.3,379.3 L1011.8,371.5 L1012.3,366.7 L1012.8,364.0 L1013.4,364.3 L1013.9,360.3 L1014.4,353.8 L1014.9,354.7 L1015.4,350.5 L1016.0,332.9 L1016.5,325.3 L1017.0,329.2 L1017.5,329.5 L1018.0,329.6 L1018.6,325.4 L1019.1,327.8 L1019.6,330.7 L1020.1,343.7 L1020.7,368.0 L1021.2,406.0 L1021.7,453.8 L1022.2,508.7 L1022.8,472.3 L1023.4,448.1 L1023.9,427.4 L1024.5,416.2 L1025.0,392.1 L1025.6,372.6 L1026.1,367.5 L1026.6,367.3 L1027.1,362.4 L1027.6,357.7 L1028.2,353.2 L1028.7,346.5 L1029.2,346.2 L1029.7,340.5 L1030.2,337.4 L1030.7,334.8 L1031.3,332.5 L1031.8,325.8 L1032.3,324.5 L1032.8,323.7 L1033.3,329.4 L1033.9,332.6 L1034.4,342.3 L1034.9,352.8 L1035.4,373.5 L1036.0,398.3 L1036.5,425.9 L1037.0,460.0 L1037.6,445.9 L1038.1,433.7 L1038.7,423.3 L1039.2,411.1 L1039.7,398.9 L1040.3,386.8 L1040.8,382.7 L1041.3,378.7 L1041.8,374.7 L1042.3,360.6 L1042.9,356.9 L1043.4,353.3 L1043.9,350.0 L1044.4,364.2 L1044.9,361.3 L1045.4,360.3 L1045.9,354.6 L1046.4,351.8 L1047.0,347.0 L1047.5,342.6 L1048.0,341.1 L1048.5,348.1 L1049.0,347.9 L1049.5,355.8 L1050.0,378.8 L1050.6,414.3 L1051.1,459.4 L1051.6,509.3 L1052.2,481.7 L1052.7,452.2 L1053.3,422.8 L1053.9,405.4 L1054.4,378.2 L1055.0,386.6 L1055.5,381.7 L1056.0,376.8 L1056.5,374.1 L1057.0,370.9 L1057.6,356.3 L1058.1,354.3 L1058.6,355.1 L1059.1,348.2 L1059.6,344.3 L1060.2,341.8 L1060.7,339.1 L1061.2,336.8 L1061.7,327.3 L1062.2,325.8 L1062.8,324.7 L1063.3,321.7 L1063.8,327.9 L1064.3,324.1 L1064.8,335.7 L1065.3,357.7 L1065.8,376.1 L1066.4,390.3 L1066.9,412.5 L1067.4,405.1 L1068.0,402.6 L1068.6,395.2 L1069.1,387.8 L1069.7,380.4 L1070.2,376.5 L1070.7,374.1 L1071.2,372.4 L1071.8,372.9 L1072.3,374.3 L1072.8,362.7 L1073.3,358.9 L1073.9,355.1 L1074.4,353.5 L1074.9,361.0 L1075.4,359.7 L1075.9,358.5 L1076.5,357.4 L1077.0,349.4 L1077.5,348.7 L1078.0,348.2 L1078.5,356.0 L1079.1,355.9 L1079.6,374.1 L1080.1,423.8 L1080.6,490.3 L1081.1,473.5 L1081.7,459.6 L1082.2,449.2 L1082.8,446.2 L1083.3,427.2 L1083.8,407.6 L1084.4,405.3 L1084.9,398.5 L1085.5,391.7 L1086.0,384.9 L1086.6,374.4 L1087.1,367.6 L1087.7,361.8 L1088.2,355.8 L1088.7,354.9 L1089.3,353.6 L1089.8,341.2 L1090.4,336.1 L1090.9,333.5 L1091.5,331.4 L1092.0,332.5 L1092.6,331.3 L1093.1,330.6 L1093.6,326.2 L1094.2,333.6 L1094.7,338.0 L1095.3,345.0 L1095.8,354.2 L1096.4,361.3 L1096.9,373.6 L1097.5,376.0 L1098.0,378.3 L1098.5,380.7 L1099.1,379.6 L1099.6,382.0 L1100.2,384.4 L1100.7,381.9 L1101.2,381.0 L1101.7,375.1 L1102.2,370.9 L1102.7,366.8 L1103.2,370.7 L1103.7,370.7 L1104.2,370.0 L1104.7,368.5 L1105.3,361.0 L1105.8,359.9 L1106.3,359.0 L1106.8,358.4 L1107.3,358.8 L1107.8,358.7 L1108.3,363.5 L1108.8,377.4 L1109.4,408.9 L1109.9,427.7 L1110.4,457.9 L1110.9,451.5 L1111.5,445.1 L1112.0,434.7 L1112.5,432.9 L1113.1,429.5 L1113.6,420.9 L1114.1,414.5 L1114.7,408.0 L1115.2,401.6 L1115.7,409.5 L1116.2,408.3 L1116.7,407.1 L1117.2,405.9 L1117.7,399.6 L1118.2,398.4 L1118.8,397.2 L1119.3,391.0 L1119.8,389.8" stroke="#1a0ac8" stroke-width="1.7" fill="none" stroke-linejoin="round"/>
<path d="M87.0,380.3 L87.5,376.9 L88.1,373.6 L88.6,370.6 L89.2,368.0 L89.7,365.8 L90.3,364.2 L90.8,363.2 L91.4,362.9 L91.9,383.3 L92.5,439.1 L93.1,515.2 L93.6,492.7 L94.2,470.1 L94.7,447.5 L95.3,424.9 L95.8,415.5 L96.3,406.0 L96.8,396.6 L97.3,391.0 L97.8,385.4 L98.3,379.8 L98.8,374.4 L99.4,369.1 L99.9,364.0 L100.4,359.1 L100.9,354.4 L101.4,350.0 L101.9,345.8 L102.4,342.0 L102.9,338.5 L103.5,335.4 L104.0,332.6 L104.5,330.2 L105.0,328.3 L105.5,326.8 L106.0,325.7 L106.5,325.0 L107.0,324.8 L107.6,328.2 L108.2,338.2 L108.8,354.1 L109.4,374.8 L109.9,399.0 L110.5,424.9 L111.0,416.2 L111.5,407.5 L112.0,398.8 L112.5,394.2 L113.1,389.7 L113.6,385.3 L114.1,381.1 L114.6,377.0 L115.1,373.2 L115.6,369.7 L116.1,366.4 L116.6,363.6 L117.1,361.1 L117.6,359.0 L118.1,357.4 L118.6,356.2 L119.2,355.5 L119.7,355.2 L120.2,363.3 L120.8,386.6 L121.4,423.0 L121.9,468.8 L122.5,519.6 L123.1,488.0 L123.8,456.5 L124.5,424.9 L125.0,414.7 L125.6,404.6 L126.2,394.4 L126.7,389.1 L127.2,383.9 L127.8,378.7 L128.3,373.6 L128.8,368.6 L129.3,363.8 L129.9,359.2 L130.4,354.8 L130.9,350.6 L131.4,346.7 L131.9,343.1 L132.5,339.8 L133.0,336.9 L133.5,334.3 L134.0,332.1 L134.6,330.2 L135.1,328.8 L135.6,327.8 L136.1,327.2 L136.6,326.9 L137.2,332.8 L137.7,349.8 L138.2,376.3 L138.7,409.7 L139.3,446.7 L139.8,433.6 L140.4,420.6 L140.9,407.5 L141.4,394.4 L142.0,390.3 L142.5,386.2 L143.0,382.2 L143.5,378.3 L144.0,374.5 L144.5,370.9 L145.0,367.5 L145.5,364.4 L146.1,361.4 L146.6,358.8 L147.1,356.5 L147.6,354.5 L148.1,352.8 L148.6,351.5 L149.1,350.6 L149.6,350.0 L150.1,349.8 L150.7,372.7 L151.3,435.2 L151.9,520.7 L152.4,496.7 L153.0,472.8 L153.5,448.9 L154.1,424.9 L154.6,416.7 L155.2,408.6 L155.7,400.4 L156.2,392.3 L156.8,386.8 L157.3,381.5 L157.8,376.2 L158.3,371.0 L158.8,366.0 L159.3,361.2 L159.8,356.7 L160.3,352.4 L160.8,348.4 L161.3,344.7 L161.8,341.4 L162.3,338.5 L162.9,336.0 L163.4,334.0 L163.9,332.3 L164.4,331.2 L164.9,330.4 L165.4,330.2 L166.0,337.1 L166.5,357.2 L167.1,388.5 L167.7,428.0 L168.2,471.7 L168.8,452.4 L169.3,433.1 L169.9,413.7 L170.4,394.4 L170.9,390.0 L171.4,385.5 L171.9,381.2 L172.4,376.9 L172.9,372.8 L173.4,368.9 L174.0,365.1 L174.5,361.5 L175.0,358.3 L175.5,355.2 L176.0,352.5 L176.5,350.1 L177.0,348.1 L177.5,346.4 L178.0,345.0 L178.5,344.0 L179.0,343.5 L179.5,343.3 L180.1,355.8 L180.6,391.4 L181.2,444.7 L181.7,507.6 L182.3,479.3 L182.8,451.0 L183.4,422.7 L183.9,394.4 L184.4,390.2 L184.9,386.1 L185.4,381.9 L186.0,377.9 L186.5,373.9 L187.0,370.0 L187.5,366.3 L188.0,362.7 L188.5,359.2 L189.0,355.9 L189.6,352.9 L190.1,350.0 L190.6,347.4 L191.1,345.0 L191.6,342.8 L192.1,341.0 L192.7,339.4 L193.2,338.0 L193.7,337.0 L194.2,336.3 L194.7,335.8 L195.2,335.7 L195.8,347.3 L196.4,380.6 L197.0,430.4 L197.6,489.1 L198.2,464.4 L198.7,439.6 L199.3,414.8 L199.8,390.1 L200.3,385.6 L200.8,381.2 L201.3,376.8 L201.8,372.6 L202.3,368.5 L202.8,364.5 L203.4,360.7 L203.9,357.2 L204.4,353.9 L204.9,350.9 L205.4,348.2 L205.9,345.8 L206.4,343.7 L206.9,342.0 L207.4,340.7 L207.9,339.7 L208.4,339.1 L208.9,338.9 L209.5,349.9 L210.0,381.3 L210.6,428.3 L211.1,483.7 L211.7,460.3 L212.2,436.9 L212.8,413.5 L213.3,390.1 L213.8,386.7 L214.3,383.4 L214.8,380.1 L215.4,376.9 L215.9,373.7 L216.4,370.6 L216.9,367.6 L217.4,364.8 L217.9,362.0 L218.4,359.4 L219.0,357.0 L219.5,354.7 L220.0,352.6 L220.5,350.7 L221.0,349.0 L221.5,347.5 L222.0,346.2 L222.6,345.2 L223.1,344.3 L223.6,343.7 L224.1,343.4 L224.6,343.3 L225.2,364.4 L225.8,422.2 L226.4,501.1 L226.9,474.4 L227.5,447.8 L228.0,421.1 L228.5,394.4 L229.1,390.2 L229.6,385.9 L230.1,381.8 L230.6,377.7 L231.1,373.7 L231.7,369.9 L232.2,366.3 L232.7,362.9 L233.2,359.8 L233.7,356.9 L234.3,354.3 L234.8,352.0 L235.3,350.0 L235.8,348.4 L236.3,347.1 L236.9,346.2 L237.4,345.6 L237.9,345.4 L238.4,348.7 L238.9,358.1 L239.4,373.2 L239.9,392.8 L240.4,415.6 L241.0,440.1 L241.5,426.5 L242.0,412.9 L242.6,399.3 L243.1,385.7 L243.7,382.8 L244.2,379.9 L244.7,377.1 L245.2,374.3 L245.7,371.6 L246.3,368.9 L246.8,366.4 L247.3,364.0 L247.8,361.7 L248.4,359.6 L248.9,357.6 L249.4,355.8 L249.9,354.2 L250.4,352.7 L251.0,351.5 L251.5,350.5 L252.0,349.7 L252.5,349.2 L253.1,348.8 L253.6,348.7 L254.1,360.3 L254.7,393.3 L255.2,442.8 L255.8,501.1 L256.3,480.6 L256.8,460.2 L257.3,439.7 L257.9,419.2 L258.4,398.8 L258.9,393.6 L259.4,388.4 L259.9,383.3 L260.5,378.3 L261.0,373.5 L261.5,368.9 L262.0,364.4 L262.5,360.3 L263.1,356.5 L263.6,352.9 L264.1,349.7 L264.6,346.9 L265.1,344.5 L265.7,342.5 L266.2,341.0 L266.7,339.8 L267.2,339.1 L267.7,338.9 L268.3,340.8 L268.8,346.4 L269.4,355.2 L269.9,366.7 L270.5,380.1 L271.0,394.4 L271.5,393.4 L272.0,392.4 L272.5,391.4 L273.0,390.4 L273.5,389.4 L274.0,388.4 L274.5,387.4 L275.0,386.4 L275.5,385.4 L276.0,384.4 L276.5,383.4 L277.0,382.4 L277.5,381.4 L278.1,378.1 L278.6,375.0 L279.2,372.0 L279.7,369.2 L280.3,366.7 L280.8,364.6 L281.3,362.9 L281.9,361.7 L282.4,360.9 L283.0,360.7 L283.5,370.0 L284.1,396.4 L284.6,435.9 L285.2,482.6 L285.7,461.1 L286.2,439.6 L286.8,418.1 L287.3,396.6 L287.9,391.8 L288.4,387.1 L288.9,382.4 L289.4,377.9 L289.9,373.4 L290.4,369.1 L290.9,365.1 L291.5,361.2 L292.0,357.5 L292.5,354.2 L293.0,351.1 L293.5,348.3 L294.0,345.9 L294.6,343.8 L295.1,342.0 L295.6,340.7 L296.1,339.7 L296.6,339.1 L297.1,338.9 L297.6,339.2 L298.2,340.0 L298.7,341.3 L299.2,343.2 L299.7,345.5 L300.2,348.3 L300.7,351.5 L301.2,355.1 L301.7,359.1 L302.2,363.4 L302.7,368.0 L303.2,372.8 L303.7,377.7 L304.2,382.8 L304.8,387.9 L305.3,388.3 L305.8,388.8 L306.3,389.2 L306.8,389.6 L307.4,390.1 L307.9,387.4 L308.4,384.7 L308.9,382.2 L309.4,379.8 L309.9,377.8 L310.4,376.0 L310.9,374.6 L311.4,373.5 L311.9,372.9 L312.4,372.7 L312.9,376.9 L313.4,389.1 L313.9,408.1 L314.5,432.1 L315.0,458.6 L315.6,444.5 L316.1,430.3 L316.7,416.2 L317.3,402.0 L317.8,387.9 L318.3,383.7 L318.9,379.6 L319.4,375.4 L319.9,371.4 L320.4,367.5 L321.0,363.7 L321.5,360.0 L322.0,356.5 L322.5,353.3 L323.0,350.2 L323.6,347.3 L324.1,344.8 L324.6,342.4 L325.1,340.4 L325.7,338.6 L326.2,337.2 L326.7,336.0 L327.2,335.2 L327.8,334.7 L328.3,334.6 L328.8,335.0 L329.3,336.2 L329.9,338.3 L330.4,341.2 L331.0,344.8 L331.5,349.1 L332.0,354.0 L332.6,359.5 L333.1,365.4 L333.6,371.8 L334.2,378.4 L334.7,385.3 L335.2,392.3 L335.8,393.1 L336.3,393.9 L336.9,394.7 L337.4,395.5 L338.0,392.9 L338.5,390.3 L339.0,387.9 L339.5,385.7 L340.1,383.8 L340.6,382.3 L341.1,381.2 L341.7,380.5 L342.2,380.3 L342.8,382.1 L343.3,387.3 L343.9,395.7 L344.4,406.9 L345.0,420.3 L345.6,435.3 L346.1,451.0 L346.6,426.0 L347.0,401.0 L347.5,395.7 L348.0,390.4 L348.6,385.2 L349.1,380.1 L349.6,375.1 L350.1,370.3 L350.6,365.6 L351.1,361.1 L351.7,356.8 L352.2,352.8 L352.7,349.1 L353.2,345.6 L353.7,342.5 L354.3,339.7 L354.8,337.2 L355.3,335.1 L355.8,333.4 L356.3,332.0 L356.9,331.0 L357.4,330.4 L357.9,330.2 L358.4,330.7 L359.0,332.1 L359.5,334.4 L360.1,337.5 L360.6,341.4 L361.2,345.9 L361.7,351.0 L362.2,356.5 L362.8,362.3 L363.3,368.3 L363.9,374.8 L364.5,381.4 L365.0,387.9 L365.6,394.4 L366.2,401.0 L366.7,398.5 L367.2,396.2 L367.7,393.9 L368.2,391.7 L368.7,389.6 L369.2,387.7 L369.7,386.0 L370.2,384.5 L370.7,383.2 L371.2,382.2 L371.7,381.5 L372.2,381.1 L372.7,380.9 L373.2,386.8 L373.8,403.4 L374.3,428.2 L374.9,457.6 L375.4,447.5 L375.9,437.5 L376.4,427.5 L377.0,417.5 L377.5,407.5 L378.0,401.5 L378.5,395.5 L379.0,389.6 L379.6,383.7 L380.1,378.1 L380.6,372.5 L381.1,367.2 L381.6,362.1 L382.2,357.3 L382.7,352.7 L383.2,348.4 L383.7,344.5 L384.2,340.9 L384.7,337.7 L385.3,334.9 L385.8,332.5 L386.3,330.5 L386.8,329.0 L387.3,327.8 L387.9,327.2 L388.4,326.9 L388.9,327.7 L389.5,329.8 L390.0,333.4 L390.6,338.2 L391.1,344.2 L391.6,351.2 L392.2,359.0 L392.7,367.6 L393.3,376.5 L393.8,385.7 L394.4,390.3 L394.9,395.0 L395.5,399.6 L396.0,404.2 L396.5,400.9 L397.0,397.7 L397.5,394.6 L398.0,391.6 L398.5,388.8 L399.0,386.2 L399.5,383.9 L400.0,381.8 L400.5,380.1 L401.0,378.8 L401.5,377.8 L402.0,377.2 L402.5,377.0 L403.1,384.3 L403.6,405.1 L404.2,436.1 L404.7,472.8 L405.2,463.4 L405.8,453.9 L406.3,444.5 L406.9,435.1 L407.4,425.6 L408.0,416.2 L408.5,408.9 L409.0,401.7 L409.5,394.6 L410.0,387.6 L410.6,380.8 L411.1,374.2 L411.6,368.0 L412.1,362.0 L412.6,356.5 L413.1,351.3 L413.6,346.6 L414.2,342.4 L414.7,338.7 L415.2,335.5 L415.7,332.8 L416.2,330.7 L416.7,329.2 L417.3,328.3 L417.8,328.0 L418.3,328.9 L418.9,331.4 L419.4,335.5 L419.9,341.1 L420.5,348.1 L421.0,356.3 L421.6,365.5 L422.1,375.4 L422.7,385.9 L423.2,396.6 L423.8,399.1 L424.4,401.7 L425.0,404.2 L425.5,400.2 L426.0,396.1 L426.6,392.3 L427.1,388.5 L427.6,385.1 L428.2,381.8 L428.7,379.0 L429.2,376.5 L429.8,374.3 L430.3,372.7 L430.9,371.5 L431.4,370.7 L431.9,370.5 L432.5,375.3 L433.0,389.0 L433.6,409.5 L434.1,433.6 L434.6,427.1 L435.2,420.6 L435.7,414.0 L436.3,407.5 L436.8,401.6 L437.3,395.8 L437.8,390.1 L438.4,384.4 L438.9,378.9 L439.4,373.5 L439.9,368.3 L440.4,363.3 L440.9,358.6 L441.5,354.2 L442.0,350.0 L442.5,346.2 L443.0,342.7 L443.5,339.6 L444.1,336.9 L444.6,334.5 L445.1,332.6 L445.6,331.1 L446.1,330.0 L446.6,329.3 L447.2,329.1 L447.7,330.3 L448.2,334.0 L448.8,339.9 L449.3,348.0 L449.8,357.9 L450.4,369.4 L450.9,382.1 L451.4,395.7 L452.0,409.7 L452.5,405.8 L453.0,401.9 L453.5,398.1 L454.0,394.4 L454.6,390.8 L455.1,387.4 L455.6,384.1 L456.1,381.0 L456.6,378.1 L457.2,375.5 L457.7,373.1 L458.2,371.0 L458.7,369.2 L459.2,367.7 L459.8,366.6 L460.3,365.7 L460.8,365.2 L461.3,365.0 L461.8,371.5 L462.4,390.4 L462.9,419.8 L463.4,456.8 L463.9,497.8 L464.5,479.6 L465.0,461.4 L465.6,443.1 L466.1,424.9 L466.6,418.5 L467.1,412.1 L467.6,405.8 L468.1,399.5 L468.6,393.4 L469.1,387.4 L469.6,381.6 L470.1,376.0 L470.6,370.7 L471.1,365.6 L471.6,360.7 L472.1,356.2 L472.6,352.0 L473.1,348.1 L473.6,344.6 L474.1,341.4 L474.6,338.6 L475.1,336.3 L475.6,334.4 L476.1,332.8 L476.6,331.7 L477.2,331.1 L477.7,330.9 L478.2,334.1 L478.7,343.5 L479.3,358.4 L479.8,377.9 L480.4,400.6 L480.9,424.9 L481.5,418.4 L482.0,411.8 L482.6,405.3 L483.1,398.8 L483.6,394.5 L484.1,390.2 L484.6,386.0 L485.1,382.0 L485.6,378.1 L486.1,374.5 L486.7,371.1 L487.2,368.0 L487.7,365.3 L488.2,363.0 L488.7,361.0 L489.2,359.4 L489.7,358.3 L490.2,357.6 L490.7,357.4 L491.3,368.4 L491.8,399.8 L492.4,446.8 L492.9,502.2 L493.4,479.6 L494.0,457.0 L494.5,434.4 L495.1,411.8 L495.6,406.6 L496.1,401.3 L496.6,396.1 L497.2,391.0 L497.7,386.0 L498.2,381.1 L498.7,376.3 L499.2,371.7 L499.8,367.3 L500.3,363.1 L500.8,359.1 L501.3,355.4 L501.8,351.9 L502.4,348.7 L502.9,345.8 L503.4,343.2 L503.9,341.0 L504.4,339.0 L505.0,337.4 L505.5,336.2 L506.0,335.3 L506.5,334.7 L507.1,334.6 L507.6,339.8 L508.2,355.1 L508.7,379.0 L509.3,409.0 L509.9,442.3 L510.4,432.7 L510.9,423.2 L511.4,413.6 L512.0,404.0 L512.5,394.4 L513.0,390.5 L513.5,386.6 L514.0,382.7 L514.5,379.0 L515.0,375.4 L515.5,372.1 L516.0,368.9 L516.5,366.0 L517.0,363.3 L517.5,360.9 L518.0,358.9 L518.5,357.2 L519.0,355.9 L519.5,354.9 L520.0,354.4 L520.6,354.2 L521.1,373.8 L521.7,427.6 L522.3,501.1 L522.8,477.7 L523.4,454.3 L523.9,430.9 L524.5,407.5 L525.0,402.3 L525.5,397.1 L526.0,392.0 L526.5,387.0 L527.1,382.0 L527.6,377.3 L528.1,372.7 L528.6,368.2 L529.1,364.1 L529.7,360.1 L530.2,356.4 L530.7,353.0 L531.2,349.9 L531.7,347.2 L532.2,344.7 L532.8,342.6 L533.3,340.9 L533.8,339.6 L534.3,338.6 L534.8,338.0 L535.4,337.8 L535.9,343.8 L536.5,361.3 L537.1,388.5 L537.6,422.8 L538.2,460.8 L538.7,446.7 L539.2,432.5 L539.8,418.4 L540.3,404.2 L540.8,390.1 L541.3,386.4 L541.8,382.7 L542.3,379.1 L542.9,375.5 L543.4,372.1 L543.9,368.9 L544.4,365.8 L544.9,362.9 L545.4,360.3 L545.9,357.9 L546.4,355.8 L547.0,354.0 L547.5,352.5 L548.0,351.3 L548.5,350.5 L549.0,350.0 L549.5,349.8 L550.1,360.5 L550.6,390.9 L551.1,436.5 L551.7,490.2 L552.2,467.9 L552.8,445.6 L553.3,423.3 L553.9,401.0 L554.4,396.6 L554.9,392.2 L555.4,387.9 L555.9,383.6 L556.5,379.5 L557.0,375.5 L557.5,371.6 L558.0,367.8 L558.5,364.3 L559.1,361.0 L559.6,357.9 L560.1,355.0 L560.6,352.4 L561.1,350.1 L561.6,348.0 L562.2,346.2 L562.7,344.8 L563.2,343.7 L563.7,342.8 L564.2,342.3 L564.8,342.2 L565.3,348.6 L565.8,367.1 L566.3,396.0 L566.8,432.4 L567.4,472.8 L567.9,456.3 L568.5,439.7 L569.1,423.2 L569.6,406.6 L570.2,390.1 L570.7,386.0 L571.2,381.9 L571.7,377.9 L572.2,374.0 L572.8,370.2 L573.3,366.6 L573.8,363.2 L574.3,360.0 L574.8,357.1 L575.3,354.5 L575.8,352.1 L576.3,350.1 L576.9,348.5 L577.4,347.2 L577.9,346.2 L578.4,345.6 L578.9,345.4 L579.5,355.0 L580.0,382.1 L580.5,422.7 L581.1,470.6 L581.6,453.6 L582.2,436.5 L582.7,419.5 L583.3,402.4 L583.8,385.4 L584.4,368.3 L584.9,366.6 L585.4,364.9 L585.9,363.2 L586.4,361.6 L586.9,360.0 L587.4,358.5 L588.0,357.0 L588.5,355.6 L589.0,354.3 L589.5,353.1 L590.0,352.0 L590.5,351.0 L591.1,350.1 L591.6,349.4 L592.1,348.7 L592.6,348.3 L593.1,347.9 L593.6,347.7 L594.2,347.6 L594.7,357.8 L595.2,386.8 L595.8,430.3 L596.3,481.5 L596.9,467.0 L597.4,452.5 L598.0,438.0 L598.5,423.5 L599.1,408.9 L599.6,394.4 L600.1,389.3 L600.7,384.3 L601.2,379.3 L601.7,374.6 L602.2,370.1 L602.8,365.9 L603.3,362.1 L603.8,358.7 L604.4,355.7 L604.9,353.2 L605.4,351.3 L605.9,349.9 L606.5,349.0 L607.0,348.7 L607.5,351.5 L608.0,359.5 L608.6,372.0 L609.1,387.8 L609.6,405.3 L610.2,401.0 L610.7,396.6 L611.3,392.3 L611.9,387.9 L612.4,383.5 L613.0,379.2 L613.5,374.8 L614.1,373.4 L614.6,371.9 L615.2,370.5 L615.7,369.0 L616.3,367.6 L616.8,366.1 L617.3,364.2 L617.8,362.2 L618.3,360.3 L618.8,358.5 L619.3,356.9 L619.8,355.3 L620.3,353.9 L620.8,352.7 L621.3,351.7 L621.8,350.9 L622.3,350.3 L622.8,349.9 L623.3,349.8 L623.9,359.8 L624.4,388.4 L625.0,431.1 L625.5,481.5 L626.1,464.1 L626.6,446.7 L627.1,429.3 L627.7,411.8 L628.2,405.7 L628.8,399.5 L629.3,393.3 L629.9,387.2 L630.4,381.0 L631.0,374.8 L631.5,371.0 L632.0,367.2 L632.5,363.6 L633.0,360.1 L633.5,356.9 L634.0,354.1 L634.5,351.5 L635.0,349.4 L635.5,347.7 L636.0,346.5 L636.5,345.7 L637.1,345.4 L637.6,348.5 L638.1,357.3 L638.6,371.0 L639.1,388.3 L639.7,407.5 L640.2,403.8 L640.8,400.1 L641.3,396.4 L641.8,392.7 L642.4,389.0 L642.9,385.3 L643.5,381.6 L644.0,377.9 L644.6,374.2 L645.1,370.5 L645.6,368.6 L646.1,366.8 L646.6,365.1 L647.1,363.4 L647.6,361.8 L648.1,360.4 L648.6,359.1 L649.1,357.9 L649.6,357.0 L650.1,356.2 L650.6,355.7 L651.1,355.4 L651.6,355.2 L652.2,361.0 L652.8,377.7 L653.3,403.7 L653.9,436.5 L654.5,472.8 L655.0,457.6 L655.6,442.3 L656.1,427.1 L656.6,411.8 L657.2,405.6 L657.7,399.4 L658.2,393.2 L658.8,387.0 L659.3,380.7 L659.8,374.5 L660.4,368.3 L660.9,365.1 L661.4,361.9 L662.0,358.9 L662.5,356.2 L663.1,353.7 L663.6,351.6 L664.2,349.9 L664.7,348.6 L665.2,347.9 L665.8,347.6 L666.3,349.0 L666.9,352.9 L667.4,359.1 L668.0,367.2 L668.5,376.7 L669.1,386.8 L669.6,385.4 L670.1,384.0 L670.7,382.6 L671.2,381.1 L671.8,379.7 L672.3,378.3 L672.9,376.9 L673.4,375.5 L674.0,374.1 L674.5,372.7 L675.0,371.3 L675.5,370.1 L676.0,368.8 L676.5,367.6 L677.0,366.5 L677.5,365.4 L678.0,364.5 L678.5,363.7 L679.0,363.0 L679.5,362.5 L680.0,362.1 L680.5,361.9 L681.0,361.8 L681.6,366.4 L682.1,379.9 L682.6,400.8 L683.1,427.2 L683.6,456.5 L684.2,444.9 L684.8,433.4 L685.3,421.9 L685.9,410.3 L686.5,398.8 L687.0,392.3 L687.6,385.7 L688.1,379.2 L688.7,372.7 L689.2,366.1 L689.7,359.6 L690.3,358.1 L690.8,356.6 L691.4,355.2 L691.9,353.8 L692.5,352.7 L693.0,351.7 L693.6,350.9 L694.1,350.3 L694.6,349.9 L695.2,349.8 L695.7,350.3 L696.3,351.8 L696.8,354.2 L697.4,357.5 L697.9,361.4 L698.5,365.9 L699.0,370.8 L699.5,375.9 L700.1,376.1 L700.6,376.4 L701.2,376.6 L701.7,376.8 L702.3,377.0 L702.8,377.2 L703.4,377.4 L703.9,377.7 L704.4,377.9 L705.0,378.1 L705.5,376.8 L706.1,375.6 L706.6,374.5 L707.2,373.5 L707.7,372.7 L708.3,372.1 L708.8,371.7 L709.3,371.6 L709.9,373.3 L710.4,378.4 L710.9,386.5 L711.5,397.4 L712.0,410.4 L712.5,424.9 L713.0,440.1 L713.6,433.2 L714.2,426.2 L714.7,419.2 L715.3,412.3 L715.9,405.3 L716.4,399.3 L717.0,393.3 L717.5,387.4 L718.1,381.4 L718.6,375.4 L719.1,369.4 L719.7,363.4 L720.2,357.4 L720.8,355.7 L721.3,354.1 L721.9,352.5 L722.4,351.0 L723.0,349.7 L723.5,348.6 L724.0,347.7 L724.6,347.1 L725.1,346.7 L725.7,346.5 L726.2,346.8 L726.7,347.5 L727.2,348.7 L727.7,350.4 L728.2,352.5 L728.7,355.0 L729.2,357.9 L729.7,361.1 L730.2,364.6 L730.7,368.3 L731.2,372.2 L731.7,376.2 L732.2,380.3 L732.8,380.6 L733.3,381.0 L733.8,381.4 L734.4,381.7 L734.9,382.1 L735.5,382.5 L736.0,381.9 L736.6,381.4 L737.1,380.9 L737.7,380.6 L738.2,380.4 L738.7,380.3 L739.3,381.2 L739.8,383.9 L740.4,388.4 L740.9,394.3 L741.5,401.6 L742.0,409.8 L742.6,418.8 L743.1,428.2 L743.6,420.0 L744.2,411.8 L744.7,403.7 L745.3,395.5 L745.8,387.4 L746.4,379.2 L746.9,376.1 L747.4,373.1 L747.9,370.1 L748.4,367.2 L748.9,364.3 L749.5,361.6 L750.0,358.9 L750.5,356.5 L751.0,354.1 L751.5,352.0 L752.0,350.0 L752.6,348.2 L753.1,346.6 L753.6,345.3 L754.1,344.2 L754.6,343.3 L755.1,342.7 L755.6,342.3 L756.2,342.2 L756.7,342.6 L757.3,343.8 L757.8,345.7 L758.3,348.4 L758.9,351.7 L759.4,355.6 L760.0,360.0 L760.5,364.7 L761.1,369.7 L761.6,374.8 L762.2,378.4 L762.7,381.9 L763.2,385.4 L763.8,389.0 L764.3,388.5 L764.9,388.0 L765.4,387.5 L766.0,387.1 L766.5,386.7 L767.1,386.3 L767.6,386.1 L768.1,385.9 L768.7,385.8 L769.2,385.7 L769.8,386.7 L770.3,389.5 L770.8,394.0 L771.3,400.1 L771.9,407.3 L772.4,415.3 L772.9,423.8 L773.5,417.1 L774.1,410.3 L774.6,403.6 L775.2,396.8 L775.8,390.1 L776.3,385.7 L776.8,381.4 L777.4,377.0 L777.9,372.7 L778.5,368.3 L779.0,364.0 L779.6,359.6 L780.1,355.2 L780.7,350.9 L781.2,346.5 L781.7,344.6 L782.3,342.8 L782.8,341.1 L783.3,339.5 L783.9,338.2 L784.4,337.1 L784.9,336.3 L785.5,335.8 L786.0,335.7 L786.5,336.2 L787.0,337.8 L787.5,340.4 L788.0,344.0 L788.5,348.4 L789.0,353.6 L789.5,359.4 L790.0,365.7 L790.5,372.4 L791.0,379.2 L791.6,382.7 L792.1,386.2 L792.7,389.6 L793.3,393.1 L793.8,396.6 L794.4,394.6 L794.9,392.6 L795.4,390.7 L796.0,389.0 L796.5,387.3 L797.0,385.9 L797.6,384.7 L798.1,383.7 L798.6,383.0 L799.2,382.6 L799.7,382.5 L800.3,384.0 L800.8,388.6 L801.3,395.8 L801.9,405.3 L802.4,416.3 L803.0,428.2 L803.5,418.2 L804.1,408.2 L804.6,398.2 L805.2,388.3 L805.7,378.3 L806.2,368.3 L806.8,365.2 L807.3,362.1 L807.8,359.0 L808.3,356.0 L808.8,353.1 L809.4,350.3 L809.9,347.7 L810.4,345.2 L810.9,342.9 L811.4,340.8 L812.0,338.9 L812.5,337.2 L813.0,335.8 L813.5,334.6 L814.0,333.6 L814.6,332.9 L815.1,332.5 L815.6,332.4 L816.1,332.9 L816.7,334.6 L817.2,337.2 L817.7,340.8 L818.3,345.2 L818.8,350.3 L819.3,356.0 L819.9,362.1 L820.4,368.3 L820.9,376.7 L821.5,385.2 L822.0,393.6 L822.6,402.0 L823.1,399.0 L823.6,396.1 L824.2,393.2 L824.7,390.4 L825.3,387.8 L825.8,385.4 L826.3,383.3 L826.9,381.4 L827.4,379.9 L827.9,378.6 L828.5,377.7 L829.0,377.2 L829.5,377.0 L830.1,380.8 L830.7,392.0 L831.2,409.3 L831.8,431.2 L832.4,455.4 L832.9,448.1 L833.5,440.9 L834.0,433.6 L834.6,426.4 L835.1,419.1 L835.6,411.8 L836.2,404.5 L836.7,397.1 L837.3,389.8 L837.8,382.5 L838.4,375.1 L838.9,367.8 L839.5,360.4 L840.0,353.1 L840.5,349.5 L841.1,346.0 L841.6,342.7 L842.2,339.6 L842.7,336.9 L843.3,334.6 L843.8,332.7 L844.4,331.3 L844.9,330.5 L845.4,330.2 L846.0,331.7 L846.5,336.2 L847.1,343.3 L847.6,352.5 L848.2,363.3 L848.7,374.8 L849.3,382.5 L849.8,390.1 L850.3,397.7 L850.9,405.3 L851.4,401.9 L851.9,398.5 L852.4,395.2 L852.9,391.9 L853.4,388.8 L854.0,385.8 L854.5,383.0 L855.0,380.4 L855.5,378.0 L856.0,375.8 L856.5,373.8 L857.0,372.2 L857.5,370.8 L858.1,369.7 L858.6,368.9 L859.1,368.5 L859.6,368.3 L860.1,376.6 L860.7,400.2 L861.2,435.5 L861.8,477.1 L862.3,462.6 L862.9,448.1 L863.4,433.6 L864.0,419.1 L864.5,404.6 L865.0,390.1 L865.7,381.4 L866.4,372.7 L867.0,364.0 L867.5,360.4 L868.1,356.9 L868.6,353.5 L869.1,350.2 L869.7,347.0 L870.2,344.0 L870.7,341.2 L871.3,338.6 L871.8,336.2 L872.3,334.1 L872.9,332.3 L873.4,330.8 L873.9,329.6 L874.4,328.7 L875.0,328.2 L875.5,328.0 L876.1,330.3 L876.6,336.9 L877.1,347.5 L877.7,361.2 L878.2,377.2 L878.8,394.4 L879.1,405.3 L879.4,416.2 L880.0,413.1 L880.5,410.0 L881.0,406.9 L881.5,403.8 L882.1,400.6 L882.6,397.5 L883.1,394.4 L883.6,390.0 L884.1,385.6 L884.6,381.3 L885.1,377.2 L885.6,373.4 L886.1,369.9 L886.6,366.7 L887.2,364.0 L887.7,361.7 L888.2,359.8 L888.7,358.5 L889.2,357.7 L889.7,357.4 L890.2,377.4 L890.8,432.0 L891.4,506.5 L891.9,489.8 L892.5,473.0 L893.0,456.3 L893.5,439.5 L894.0,422.7 L894.6,417.3 L895.1,411.8 L895.7,406.4 L896.2,401.0 L896.7,395.5 L897.3,390.1 L897.8,384.6 L898.4,379.2 L898.9,373.7 L899.5,368.3 L900.0,362.0 L900.6,355.9 L901.1,350.0 L901.6,344.6 L902.2,339.8 L902.7,335.7 L903.3,332.4 L903.8,330.0 L904.4,328.5 L904.9,328.0 L905.5,330.1 L906.0,336.1 L906.5,345.8 L907.1,359.0 L907.6,375.0 L908.2,393.2 L908.7,413.0 L909.3,433.6 L909.8,427.1 L910.4,420.6 L910.9,414.0 L911.4,407.5 L912.0,401.0 L912.5,394.4 L913.1,387.9 L913.6,381.4 L914.2,374.8 L914.7,368.3 L915.2,364.9 L915.8,361.6 L916.3,358.6 L916.9,356.0 L917.4,353.8 L918.0,352.2 L918.5,351.2 L919.1,350.9 L919.6,373.5 L920.2,435.2 L920.8,519.6 L921.3,500.7 L921.8,481.7 L922.4,462.8 L922.9,443.8 L923.4,424.9 L924.0,418.2 L924.5,411.4 L925.0,404.7 L925.6,397.9 L926.1,391.2 L926.7,384.4 L927.2,377.7 L927.8,370.9 L928.3,364.2 L928.9,357.4 L929.4,352.8 L929.9,348.3 L930.5,344.1 L931.0,340.1 L931.6,336.6 L932.1,333.6 L932.7,331.2 L933.2,329.5 L933.8,328.4 L934.3,328.0 L934.8,334.7 L935.3,354.2 L935.9,384.6 L936.4,422.8 L936.9,465.2 L937.5,448.0 L938.0,430.8 L938.6,413.6 L939.2,396.4 L939.7,379.2 L940.3,375.3 L940.8,371.5 L941.3,367.8 L941.8,364.2 L942.3,360.7 L942.9,357.4 L943.4,354.3 L943.9,351.5 L944.4,348.9 L944.9,346.6 L945.4,344.6 L946.0,343.0 L946.5,341.7 L947.0,340.8 L947.5,340.2 L948.0,340.0 L948.5,348.8 L949.1,374.5 L949.6,414.5 L950.1,464.9 L950.6,520.7 L951.2,489.1 L951.7,457.6 L952.3,426.0 L952.8,394.4 L953.3,389.6 L953.8,384.9 L954.4,380.1 L954.9,375.5 L955.4,371.0 L955.9,366.6 L956.4,362.3 L957.0,358.3 L957.5,354.4 L958.0,350.7 L958.5,347.4 L959.0,344.2 L959.6,341.4 L960.1,338.8 L960.6,336.6 L961.1,334.7 L961.6,333.1 L962.1,331.8 L962.7,330.9 L963.2,330.4 L963.7,330.2 L964.2,342.6 L964.8,377.7 L965.3,430.3 L965.9,492.4 L966.4,473.2 L966.9,454.1 L967.4,434.9 L968.0,415.8 L968.5,396.6 L969.0,390.7 L969.5,384.8 L970.1,379.0 L970.6,373.4 L971.1,368.0 L971.6,362.8 L972.2,357.9 L972.7,353.3 L973.2,349.1 L973.7,345.4 L974.3,342.0 L974.8,339.1 L975.3,336.7 L975.8,334.8 L976.4,333.5 L976.9,332.7 L977.4,332.4 L977.9,341.2 L978.5,366.9 L979.0,406.9 L979.5,457.2 L980.0,513.1 L980.6,482.3 L981.1,451.6 L981.7,420.8 L982.2,390.1 L982.7,385.4 L983.2,380.8 L983.8,376.2 L984.3,371.7 L984.8,367.3 L985.3,363.1 L985.8,359.1 L986.3,355.3 L986.9,351.7 L987.4,348.4 L987.9,345.4 L988.4,342.7 L988.9,340.3 L989.4,338.2 L989.9,336.5 L990.5,335.2 L991.0,334.2 L991.5,333.7 L992.0,333.5 L992.5,342.4 L993.1,368.4 L993.6,408.9 L994.1,459.8 L994.6,516.3 L995.2,490.2 L995.8,464.1 L996.3,438.0 L996.9,411.8 L997.5,385.7 L998.0,381.9 L998.5,378.2 L999.0,374.5 L999.5,370.9 L1000.0,367.4 L1000.5,364.0 L1001.1,360.7 L1001.6,357.6 L1002.1,354.8 L1002.6,352.1 L1003.1,349.6 L1003.6,347.5 L1004.2,345.5 L1004.7,343.9 L1005.2,342.5 L1005.7,341.4 L1006.2,340.6 L1006.7,340.2 L1007.3,340.0 L1007.8,348.0 L1008.3,371.2 L1008.8,407.3 L1009.3,452.8 L1009.9,503.3 L1010.4,476.6 L1011.0,449.9 L1011.5,423.3 L1012.0,396.6 L1012.6,391.5 L1013.1,386.4 L1013.6,381.4 L1014.1,376.5 L1014.6,371.8 L1015.2,367.2 L1015.7,362.9 L1016.2,358.8 L1016.7,355.0 L1017.2,351.6 L1017.8,348.5 L1018.3,345.7 L1018.8,343.3 L1019.3,341.4 L1019.8,339.8 L1020.4,338.7 L1020.9,338.1 L1021.4,337.8 L1021.9,346.4 L1022.5,371.3 L1023.0,410.1 L1023.5,458.9 L1024.0,513.1 L1024.6,488.5 L1025.2,463.9 L1025.7,439.3 L1026.3,414.7 L1026.8,390.1 L1027.4,384.7 L1027.9,379.5 L1028.4,374.3 L1028.9,369.2 L1029.4,364.4 L1030.0,359.8 L1030.5,355.6 L1031.0,351.6 L1031.5,348.0 L1032.0,344.8 L1032.5,342.1 L1033.1,339.8 L1033.6,338.0 L1034.1,336.7 L1034.6,335.9 L1035.1,335.7 L1035.7,338.9 L1036.2,348.6 L1036.7,364.1 L1037.2,384.8 L1037.8,409.6 L1038.3,437.2 L1038.8,466.3 L1039.4,454.3 L1039.9,442.3 L1040.5,430.3 L1041.0,418.4 L1041.5,406.4 L1042.1,394.4 L1042.6,390.2 L1043.1,386.0 L1043.6,381.9 L1044.1,377.9 L1044.7,374.1 L1045.2,370.4 L1045.7,366.9 L1046.2,363.6 L1046.7,360.6 L1047.2,357.9 L1047.7,355.6 L1048.2,353.5 L1048.8,351.8 L1049.3,350.5 L1049.8,349.5 L1050.3,348.9 L1050.8,348.7 L1051.3,356.8 L1051.8,380.3 L1052.4,416.9 L1052.9,463.0 L1053.4,514.2 L1054.0,490.2 L1054.5,466.3 L1055.1,442.3 L1055.7,418.4 L1056.2,394.4 L1056.8,389.3 L1057.3,384.2 L1057.8,379.2 L1058.3,374.3 L1058.8,369.6 L1059.4,365.0 L1059.9,360.7 L1060.4,356.6 L1060.9,352.9 L1061.4,349.4 L1062.0,346.3 L1062.5,343.5 L1063.0,341.2 L1063.5,339.2 L1064.0,337.7 L1064.6,336.5 L1065.1,335.9 L1065.6,335.7 L1066.1,338.4 L1066.6,346.6 L1067.1,359.6 L1067.6,376.5 L1068.2,396.2 L1068.7,417.3 L1069.2,411.0 L1069.8,404.7 L1070.4,398.3 L1070.9,392.0 L1071.5,385.7 L1072.0,383.3 L1072.5,381.0 L1073.0,378.7 L1073.6,376.4 L1074.1,374.2 L1074.6,372.1 L1075.1,370.1 L1075.7,368.2 L1076.2,366.5 L1076.7,364.9 L1077.2,363.4 L1077.7,362.2 L1078.3,361.1 L1078.8,360.2 L1079.3,359.4 L1079.8,358.9 L1080.3,358.6 L1080.9,358.5 L1081.4,377.0 L1081.9,427.6 L1082.4,496.7 L1082.9,482.6 L1083.5,468.4 L1084.0,454.3 L1084.6,440.1 L1085.1,426.0 L1085.6,411.8 L1086.2,405.0 L1086.7,398.2 L1087.3,391.4 L1087.8,384.6 L1088.4,377.8 L1088.9,371.0 L1089.5,364.2 L1090.0,357.4 L1090.5,354.0 L1091.1,350.7 L1091.6,347.5 L1092.2,344.6 L1092.7,342.0 L1093.3,339.8 L1093.8,338.0 L1094.4,336.7 L1094.9,335.9 L1095.4,335.7 L1096.0,337.2 L1096.5,341.8 L1097.1,349.0 L1097.6,358.5 L1098.2,369.5 L1098.7,381.4 L1099.3,382.5 L1099.8,383.5 L1100.3,384.6 L1100.9,385.7 L1101.4,386.8 L1102.0,387.9 L1102.5,386.1 L1103.0,384.3 L1103.5,382.5 L1104.0,380.8 L1104.5,379.2 L1105.0,377.7 L1105.5,376.2 L1106.0,375.0 L1106.5,373.8 L1107.1,372.8 L1107.6,372.0 L1108.1,371.3 L1108.6,370.9 L1109.1,370.6 L1109.6,370.5 L1110.1,375.3 L1110.6,389.2 L1111.2,410.9 L1111.7,438.2 L1112.2,468.4 L1112.7,462.2 L1113.3,455.9 L1113.8,449.6 L1114.3,443.3 L1114.9,437.0 L1115.4,430.7 L1115.9,424.4 L1116.5,418.1 L1117.0,411.8 L1117.5,410.6 L1118.0,409.4 L1118.5,408.2 L1119.0,407.0 L1119.5,405.8 L1120.0,404.6 L1120.6,403.4 L1121.1,402.2 L1121.6,401.0" stroke="#c00000" stroke-width="1.9" fill="none" stroke-linejoin="round"/>
</g>
<path d="M116.76,302.75 v4.5 M116.76,557.55 v-4.5 M145.27,302.75 v4.5 M145.27,557.55 v-4.5 M173.79,302.75 v4.5 M173.79,557.55 v-4.5 M202.30,302.75 v10.7 M202.30,557.55 v-10.7 M230.82,302.75 v4.5 M230.82,557.55 v-4.5 M259.34,302.75 v4.5 M259.34,557.55 v-4.5 M287.85,302.75 v4.5 M287.85,557.55 v-4.5 M316.37,302.75 v4.5 M316.37,557.55 v-4.5 M344.88,302.75 v10.7 M344.88,557.55 v-10.7 M373.40,302.75 v4.5 M373.40,557.55 v-4.5 M401.92,302.75 v4.5 M401.92,557.55 v-4.5 M430.43,302.75 v4.5 M430.43,557.55 v-4.5 M458.95,302.75 v4.5 M458.95,557.55 v-4.5 M487.46,302.75 v10.7 M487.46,557.55 v-10.7 M515.98,302.75 v4.5 M515.98,557.55 v-4.5 M544.50,302.75 v4.5 M544.50,557.55 v-4.5 M573.01,302.75 v4.5 M573.01,557.55 v-4.5 M601.53,302.75 v4.5 M601.53,557.55 v-4.5 M630.04,302.75 v10.7 M630.04,557.55 v-10.7 M658.56,302.75 v4.5 M658.56,557.55 v-4.5 M687.08,302.75 v4.5 M687.08,557.55 v-4.5 M715.59,302.75 v4.5 M715.59,557.55 v-4.5 M744.11,302.75 v4.5 M744.11,557.55 v-4.5 M772.62,302.75 v10.7 M772.62,557.55 v-10.7 M801.14,302.75 v4.5 M801.14,557.55 v-4.5 M829.66,302.75 v4.5 M829.66,557.55 v-4.5 M858.17,302.75 v4.5 M858.17,557.55 v-4.5 M886.69,302.75 v4.5 M886.69,557.55 v-4.5 M915.20,302.75 v10.7 M915.20,557.55 v-10.7 M943.72,302.75 v4.5 M943.72,557.55 v-4.5 M972.24,302.75 v4.5 M972.24,557.55 v-4.5 M1000.75,302.75 v4.5 M1000.75,557.55 v-4.5 M1029.27,302.75 v4.5 M1029.27,557.55 v-4.5 M1057.78,302.75 v10.7 M1057.78,557.55 v-10.7 M1086.30,302.75 v4.5 M1086.30,557.55 v-4.5 M87.6,375.55 h12 M87.6,448.35 h12 M87.6,521.15 h12" stroke="#262626" stroke-width="1.4" fill="none"/>
<rect x="87.6" y="302.75" width="1027.5" height="254.8" stroke="#262626" stroke-width="1.5" fill="none"/>
<text transform="translate(81,312.8) scale(1,1.06)" font-size="28" text-anchor="end" fill="#262626">50</text>
<text transform="translate(81,385.6) scale(1,1.06)" font-size="28" text-anchor="end" fill="#262626">0</text>
<text transform="translate(81,458.4) scale(1,1.06)" font-size="28" text-anchor="end" fill="#262626">-50</text>
<text transform="translate(81,531.1) scale(1,1.06)" font-size="28" text-anchor="end" fill="#262626">-100</text>
<text x="155" y="535.5" font-size="36" fill="#000">PM05</text>
<path d="M87.6,648.80 H1115.1 M87.6,721.60 H1115.1 M87.6,794.40 H1115.1 M202.30,576.0 V830.8 M344.88,576.0 V830.8 M487.46,576.0 V830.8 M630.04,576.0 V830.8 M772.62,576.0 V830.8 M915.20,576.0 V830.8 M1057.78,576.0 V830.8" stroke="#e3e3e3" stroke-width="1.3" fill="none"/>
<g clip-path="url(#c2)">
<path d="M86.4,649.8 L86.9,662.5 L87.4,670.5 L87.9,683.4 L88.4,696.0 L88.9,708.6 L89.4,721.2 L89.9,741.2 L90.4,753.8 L90.9,766.4 L91.4,781.3 L91.9,794.4 L92.4,807.3 L93.0,786.8 L93.5,766.8 L94.0,736.0 L94.5,721.4 L95.0,718.3 L95.5,694.6 L96.1,687.3 L96.6,672.9 L97.1,659.4 L97.6,644.5 L98.1,620.1 L98.6,610.2 L99.1,603.7 L99.7,597.8 L100.2,599.4 L100.7,597.5 L101.2,593.8 L101.7,589.7 L102.2,588.9 L102.8,589.7 L103.3,587.0 L103.9,590.5 L104.4,588.4 L104.9,600.2 L105.5,607.2 L106.0,610.4 L106.6,619.1 L107.1,628.4 L107.6,638.1 L108.2,652.7 L108.7,651.9 L109.2,651.6 L109.7,648.8 L110.3,646.8 L110.8,641.6 L111.3,644.2 L111.8,641.7 L112.3,638.3 L112.8,645.5 L113.3,643.2 L113.8,641.3 L114.3,639.5 L114.9,625.7 L115.4,624.5 L115.9,623.6 L116.4,623.1 L116.9,632.3 L117.4,634.2 L117.9,639.8 L118.4,649.1 L118.9,657.6 L119.4,673.1 L119.9,690.9 L120.4,710.7 L120.9,742.2 L121.4,767.4 L121.9,743.8 L122.4,728.1 L122.9,708.8 L123.5,688.4 L124.0,674.1 L124.5,660.4 L125.0,647.5 L125.5,640.4 L126.0,627.2 L126.5,617.2 L127.0,608.3 L127.6,600.7 L128.1,598.8 L128.6,593.8 L129.1,582.2 L129.6,583.2 L130.1,582.2 L130.6,581.7 L131.1,582.8 L131.6,583.9 L132.1,591.4 L132.7,593.4 L133.2,595.7 L133.7,598.5 L134.2,598.9 L134.7,602.4 L135.2,606.2 L135.7,610.4 L136.2,612.3 L136.7,617.0 L137.2,622.4 L137.7,637.7 L138.2,641.8 L138.7,645.4 L139.2,642.0 L139.8,654.1 L140.3,650.2 L140.8,646.4 L141.3,638.4 L141.8,634.8 L142.3,631.5 L142.8,634.9 L143.3,632.2 L143.8,629.8 L144.3,627.8 L144.8,619.7 L145.3,618.6 L145.8,617.9 L146.3,618.6 L146.8,621.8 L147.4,631.2 L147.9,646.3 L148.4,660.1 L149.0,685.0 L149.5,714.5 L150.0,745.3 L150.6,777.4 L151.1,768.1 L151.6,753.3 L152.1,738.6 L152.6,721.2 L153.1,707.1 L153.6,693.6 L154.1,684.1 L154.6,671.6 L155.1,656.9 L155.6,645.9 L156.1,629.2 L156.6,620.0 L157.1,611.7 L157.6,609.0 L158.1,605.3 L158.6,601.4 L159.1,597.3 L159.6,595.9 L160.1,594.1 L160.6,593.5 L161.1,591.3 L161.6,587.6 L162.1,586.5 L162.6,593.1 L163.1,596.6 L163.6,600.4 L164.1,601.3 L164.7,605.3 L165.2,609.7 L165.7,625.6 L166.2,630.7 L166.7,636.1 L167.2,640.8 L167.7,646.7 L168.2,642.1 L168.7,648.1 L169.2,642.7 L169.8,637.4 L170.3,637.4 L170.9,630.8 L171.4,626.2 L171.9,624.4 L172.5,617.9 L173.0,609.8 L173.5,600.0 L174.1,607.6 L174.6,610.4 L175.1,609.4 L175.7,609.1 L176.2,614.4 L176.8,618.7 L177.3,629.1 L177.9,643.1 L178.4,660.4 L179.0,669.2 L179.5,699.5 L180.1,723.1 L180.6,747.5 L181.1,725.7 L181.6,710.4 L182.1,694.0 L182.6,675.5 L183.2,662.9 L183.7,653.6 L184.2,645.3 L184.7,633.3 L185.2,629.7 L185.7,620.6 L186.2,610.1 L186.7,599.2 L187.2,590.1 L187.7,590.6 L188.2,592.6 L188.7,592.4 L189.2,587.7 L189.7,588.9 L190.3,598.6 L190.8,600.7 L191.3,609.3 L191.8,618.8 L192.4,627.4 L192.9,626.3 L193.4,636.1 L193.9,646.7 L194.4,658.0 L195.0,676.2 L195.5,688.4 L196.0,701.4 L196.5,714.0 L197.0,703.8 L197.5,690.7 L198.0,680.7 L198.5,671.0 L199.0,661.6 L199.5,660.3 L200.0,651.8 L200.6,644.2 L201.1,637.0 L201.6,630.4 L202.1,615.8 L202.6,610.8 L203.1,603.2 L203.6,600.0 L204.1,597.6 L204.6,596.2 L205.1,602.9 L205.6,603.8 L206.1,606.4 L206.6,610.8 L207.1,616.7 L207.6,623.4 L208.1,632.3 L208.6,642.5 L209.1,653.5 L209.6,665.6 L210.1,678.4 L210.6,691.7 L211.1,698.7 L211.6,696.3 L212.1,684.9 L212.6,671.8 L213.2,653.4 L213.7,640.1 L214.2,635.9 L214.7,630.1 L215.2,623.8 L215.7,618.5 L216.2,612.3 L216.7,607.1 L217.2,599.5 L217.7,596.5 L218.2,594.7 L218.7,591.5 L219.3,592.5 L219.8,595.3 L220.4,608.3 L220.9,614.8 L221.4,617.1 L222.0,626.9 L222.5,637.7 L223.0,650.3 L223.6,663.9 L224.1,678.2 L224.6,697.2 L225.2,710.4 L225.7,728.0 L226.2,717.9 L226.8,705.4 L227.3,693.3 L227.8,673.9 L228.3,662.6 L228.8,651.9 L229.4,641.8 L229.9,639.2 L230.4,628.8 L230.9,621.4 L231.4,614.9 L232.0,611.2 L232.5,607.0 L233.0,604.0 L233.5,602.1 L234.0,594.3 L234.6,594.6 L235.1,600.9 L235.6,602.6 L236.2,604.9 L236.7,607.8 L237.3,606.3 L237.8,611.8 L238.3,616.2 L238.9,623.8 L239.4,628.9 L239.9,634.3 L240.5,638.7 L241.0,644.3 L241.5,641.9 L242.0,639.0 L242.5,640.1 L243.0,634.2 L243.5,631.5 L244.1,624.0 L244.6,621.7 L245.1,619.6 L245.6,623.1 L246.1,621.5 L246.6,620.1 L247.1,619.1 L247.6,624.3 L248.1,623.8 L248.6,623.7 L249.1,618.5 L249.6,621.4 L250.1,621.1 L250.6,627.6 L251.1,635.8 L251.6,645.5 L252.2,656.5 L252.7,668.7 L253.2,692.2 L253.7,706.1 L254.2,720.5 L254.7,727.8 L255.2,716.3 L255.7,715.1 L256.2,703.9 L256.7,693.0 L257.2,663.5 L257.7,653.3 L258.2,643.6 L258.8,649.1 L259.3,640.6 L259.8,633.2 L260.3,626.2 L260.8,620.0 L261.3,614.7 L261.8,604.6 L262.3,601.2 L262.8,598.7 L263.4,592.0 L263.9,591.5 L264.4,592.0 L265.0,593.6 L265.5,601.7 L266.0,605.3 L266.6,609.7 L267.1,614.9 L267.7,619.6 L268.2,625.9 L268.8,632.6 L269.3,639.4 L269.8,638.2 L270.4,638.4 L270.9,638.7 L271.4,643.8 L271.9,644.0 L272.4,641.9 L272.9,639.7 L273.5,637.5 L274.0,628.1 L274.5,626.3 L275.0,632.4 L275.5,621.8 L276.0,620.6 L276.5,619.7 L277.0,627.5 L277.5,627.0 L278.0,626.9 L278.5,627.9 L279.0,629.2 L279.5,634.3 L280.0,640.0 L280.5,648.8 L281.0,659.2 L281.6,671.1 L282.1,689.1 L282.6,703.3 L283.1,718.3 L283.6,739.4 L284.1,755.2 L284.6,731.9 L285.1,719.6 L285.6,713.5 L286.1,701.6 L286.6,690.0 L287.1,678.9 L287.6,657.8 L288.1,658.4 L288.6,648.9 L289.1,647.7 L289.6,637.1 L290.2,629.8 L290.7,621.1 L291.2,613.7 L291.7,609.8 L292.2,603.8 L292.7,596.4 L293.2,582.8 L293.7,582.1 L294.2,584.6 L294.7,591.9 L295.2,598.3 L295.7,600.8 L296.2,605.4 L296.8,609.1 L297.3,613.3 L297.8,620.2 L298.3,628.9 L298.8,631.5 L299.3,633.8 L299.8,640.1 L300.3,643.4 L300.9,643.1 L301.4,642.9 L302.0,645.2 L302.5,636.2 L303.1,627.6 L303.6,619.7 L304.2,605.9 L304.7,602.2 L305.2,598.1 L305.8,593.5 L306.3,596.8 L306.8,602.0 L307.4,609.6 L307.9,614.2 L308.4,611.3 L308.9,616.0 L309.4,627.4 L309.9,640.1 L310.4,659.7 L310.9,675.3 L311.4,691.9 L311.9,709.5 L312.4,725.6 L313.0,744.3 L313.5,763.3 L314.0,752.6 L314.5,739.4 L315.0,726.4 L315.5,711.8 L316.0,699.3 L316.6,678.6 L317.1,667.0 L317.6,665.7 L318.1,652.5 L318.6,647.8 L319.1,640.6 L319.6,627.4 L320.2,616.7 L320.7,614.4 L321.2,611.0 L321.7,603.1 L322.2,602.5 L322.7,599.4 L323.2,597.9 L323.8,587.3 L324.3,596.3 L324.8,597.0 L325.3,598.2 L325.8,599.8 L326.3,600.2 L326.8,602.6 L327.3,605.5 L327.9,608.7 L328.4,619.3 L328.9,623.2 L329.4,622.9 L329.9,627.2 L330.4,630.5 L330.9,634.8 L331.4,639.7 L332.0,644.7 L332.5,649.7 L333.0,650.4 L333.6,650.8 L334.1,647.3 L334.6,643.2 L335.2,640.9 L335.7,645.8 L336.3,649.4 L336.8,654.1 L337.4,660.4 L337.9,670.6 L338.4,672.3 L339.0,680.1 L339.5,692.4 L340.1,700.1 L340.6,707.8 L341.1,716.4 L341.7,724.6 L342.2,721.2 L342.8,728.9 L343.3,736.6 L343.8,741.0 L344.3,721.4 L344.8,708.7 L345.4,697.8 L345.9,686.9 L346.4,677.6 L346.9,668.8 L347.4,655.5 L347.9,647.1 L348.4,638.9 L348.9,631.0 L349.4,625.1 L350.0,616.3 L350.5,609.6 L351.0,609.5 L351.5,604.3 L352.0,598.7 L352.5,595.5 L353.0,593.3 L353.5,594.3 L354.0,593.9 L354.5,597.8 L355.0,598.5 L355.6,599.6 L356.1,604.2 L356.6,606.3 L357.1,608.7 L357.6,611.6 L358.1,621.8 L358.6,626.3 L359.1,623.6 L359.7,624.9 L360.2,626.5 L360.7,631.2 L361.2,632.4 L361.7,637.4 L362.2,642.5 L362.7,650.6 L363.3,646.8 L363.8,647.6 L364.4,648.4 L364.9,656.1 L365.5,655.3 L366.0,656.1 L366.5,656.9 L367.1,658.2 L367.6,665.4 L368.2,672.7 L368.7,679.9 L369.2,687.2 L369.8,700.1 L370.3,706.1 L370.9,707.7 L371.4,710.7 L371.9,717.9 L372.5,726.1 L373.0,733.4 L373.6,748.7 L374.1,736.3 L374.6,711.0 L375.1,705.2 L375.6,693.0 L376.1,681.4 L376.7,673.8 L377.2,663.0 L377.7,652.7 L378.2,641.4 L378.7,632.3 L379.2,628.2 L379.7,620.5 L380.3,613.7 L380.8,604.4 L381.3,599.2 L381.8,594.9 L382.3,595.0 L382.8,592.5 L383.3,580.3 L383.9,579.8 L384.4,590.7 L384.9,598.9 L385.4,600.3 L385.9,602.2 L386.5,604.7 L387.0,590.3 L387.5,600.6 L388.0,604.5 L388.5,608.8 L389.1,613.5 L389.6,618.6 L390.1,624.3 L390.6,623.5 L391.1,629.4 L391.7,645.9 L392.2,643.2 L392.7,649.5 L393.2,662.1 L393.7,667.4 L394.3,669.0 L394.8,675.5 L395.3,680.8 L395.8,686.0 L396.3,692.3 L396.8,697.6 L397.4,702.8 L397.9,708.3 L398.4,713.5 L398.9,718.8 L399.4,724.0 L399.9,727.9 L400.5,733.1 L401.0,733.0 L401.5,742.2 L402.0,751.6 L402.5,756.9 L403.0,735.2 L403.6,725.4 L404.1,712.9 L404.6,700.6 L405.1,688.6 L405.6,679.8 L406.1,666.1 L406.7,655.3 L407.2,644.9 L407.7,632.9 L408.2,623.7 L408.7,616.2 L409.3,608.3 L409.8,604.8 L410.3,598.4 L410.8,585.0 L411.3,580.1 L411.8,576.1 L412.4,579.1 L412.9,578.8 L413.4,577.5 L413.9,577.0 L414.4,577.4 L414.9,576.6 L415.4,578.4 L416.0,577.1 L416.5,580.3 L417.0,584.1 L417.5,594.4 L418.0,599.4 L418.5,609.4 L419.0,615.4 L419.5,621.9 L420.1,625.4 L420.6,632.6 L421.1,640.0 L421.6,647.7 L422.1,652.0 L422.6,659.9 L423.1,664.8 L423.6,676.5 L424.2,681.4 L424.7,686.3 L425.2,691.2 L425.7,685.4 L426.2,696.2 L426.8,701.1 L427.3,706.0 L427.8,716.3 L428.3,716.5 L428.8,721.4 L429.3,726.3 L429.9,727.2 L430.4,732.1 L430.9,739.8 L431.4,742.8 L431.9,747.7 L432.4,736.2 L433.0,726.0 L433.5,714.6 L434.0,703.3 L434.5,692.3 L435.0,688.0 L435.6,677.5 L436.1,667.4 L436.6,657.7 L437.1,638.9 L437.7,634.5 L438.2,638.9 L438.7,628.6 L439.2,617.2 L439.7,599.4 L440.3,593.7 L440.8,588.7 L441.3,589.3 L441.8,585.8 L442.3,585.4 L442.9,583.4 L443.4,582.2 L443.9,582.0 L444.4,582.3 L444.9,576.4 L445.4,578.0 L445.9,580.2 L446.4,582.9 L446.9,582.6 L447.4,594.5 L448.0,598.8 L448.5,603.6 L449.0,612.6 L449.5,618.1 L450.0,620.6 L450.5,626.7 L451.0,634.2 L451.5,640.6 L452.0,647.0 L452.6,644.7 L453.1,639.2 L453.6,637.1 L454.2,640.9 L454.7,639.2 L455.3,637.8 L455.8,628.0 L456.4,627.1 L456.9,626.6 L457.5,628.4 L458.0,633.9 L458.6,650.0 L459.2,680.0 L459.7,713.4 L460.3,752.7 L460.9,794.4 L461.4,780.8 L461.9,767.2 L462.4,757.8 L462.9,738.8 L463.5,726.4 L464.0,716.9 L464.5,703.3 L465.0,691.6 L465.5,678.3 L466.0,667.5 L466.5,657.2 L467.0,641.8 L467.6,632.9 L468.1,624.7 L468.6,624.9 L469.1,618.2 L469.6,612.4 L470.1,602.7 L470.6,598.6 L471.2,595.4 L471.7,593.1 L472.2,587.1 L472.7,596.3 L473.2,602.0 L473.7,602.8 L474.2,595.3 L474.7,597.1 L475.2,599.3 L475.7,601.7 L476.2,604.8 L476.7,614.3 L477.2,604.6 L477.7,608.8 L478.2,613.3 L478.7,621.0 L479.2,626.0 L479.7,631.1 L480.3,636.3 L480.8,647.1 L481.3,644.0 L481.8,640.8 L482.3,635.7 L482.8,630.9 L483.3,628.2 L483.8,629.6 L484.3,627.5 L484.8,623.8 L485.3,622.4 L485.8,621.4 L486.3,620.8 L486.9,616.7 L487.4,620.9 L488.0,633.2 L488.5,660.1 L489.1,686.5 L489.6,714.5 L490.2,743.8 L490.7,777.9 L491.2,765.2 L491.8,763.3 L492.3,750.4 L492.8,740.6 L493.3,730.5 L493.8,723.3 L494.4,708.0 L494.9,691.6 L495.4,682.2 L495.9,671.2 L496.4,659.2 L497.0,650.0 L497.5,643.4 L498.0,635.5 L498.5,628.3 L499.1,621.9 L499.6,614.3 L500.1,608.9 L500.6,604.9 L501.1,601.8 L501.7,599.5 L502.2,598.2 L502.7,597.8 L503.2,598.1 L503.7,600.4 L504.2,593.9 L504.7,604.9 L505.2,609.5 L505.7,615.2 L506.2,620.2 L506.7,623.0 L507.3,625.5 L507.8,631.0 L508.3,635.0 L508.8,646.9 L509.3,656.8 L509.8,652.8 L510.3,641.8 L510.8,638.0 L511.3,631.8 L511.8,628.4 L512.3,623.0 L512.8,620.1 L513.3,617.7 L513.8,615.6 L514.3,613.6 L514.8,612.4 L515.3,611.7 L515.8,611.4 L516.4,618.8 L516.9,626.2 L517.4,642.5 L518.0,658.6 L518.5,678.2 L519.0,700.6 L519.6,713.6 L520.1,738.9 L520.6,727.6 L521.1,719.4 L521.7,708.3 L522.2,697.4 L522.7,686.9 L523.2,679.0 L523.7,669.1 L524.2,660.5 L524.7,651.7 L525.3,643.4 L525.8,635.7 L526.3,629.1 L526.8,620.8 L527.3,609.2 L527.8,602.1 L528.3,599.4 L528.9,598.7 L529.4,603.1 L529.9,601.8 L530.4,601.3 L530.9,601.9 L531.4,602.8 L531.9,606.2 L532.4,611.9 L532.9,617.9 L533.5,617.2 L534.0,617.0 L534.5,620.2 L535.0,617.5 L535.5,622.1 L536.0,631.5 L536.5,636.7 L537.0,642.0 L537.5,647.4 L538.0,650.9 L538.6,645.7 L539.1,640.6 L539.6,635.7 L540.2,632.7 L540.7,633.7 L541.2,629.6 L541.8,625.0 L542.3,621.8 L542.8,619.1 L543.4,617.3 L543.9,616.1 L544.5,615.2 L545.0,614.9 L545.5,616.1 L546.0,610.2 L546.5,615.8 L547.0,629.4 L547.5,639.1 L548.1,646.3 L548.6,661.2 L549.1,680.1 L549.6,695.2 L550.1,711.0 L550.6,724.0 L551.1,712.0 L551.6,698.0 L552.1,683.5 L552.6,667.7 L553.1,658.7 L553.6,651.3 L554.1,641.7 L554.7,630.5 L555.2,617.9 L555.7,610.8 L556.2,604.6 L556.7,606.0 L557.2,602.0 L557.7,599.0 L558.2,597.3 L558.7,597.2 L559.2,597.4 L559.7,598.2 L560.2,599.5 L560.7,612.3 L561.2,614.6 L561.7,617.3 L562.2,620.5 L562.7,620.7 L563.2,624.6 L563.7,625.9 L564.3,630.5 L564.8,627.1 L565.3,630.3 L565.8,631.8 L566.3,647.6 L566.8,653.1 L567.3,647.7 L567.8,646.2 L568.3,632.3 L568.8,628.7 L569.3,623.8 L569.8,616.8 L570.4,606.5 L570.9,603.0 L571.4,602.6 L571.9,617.8 L572.4,615.7 L572.9,614.1 L573.4,613.2 L574.0,602.9 L574.5,603.7 L575.0,607.2 L575.6,620.2 L576.1,619.1 L576.7,631.0 L577.2,639.4 L577.7,649.0 L578.3,659.7 L578.8,670.2 L579.4,682.3 L579.9,694.9 L580.4,707.7 L580.9,694.8 L581.4,685.2 L582.0,676.0 L582.5,667.0 L583.0,658.3 L583.5,649.0 L584.0,643.5 L584.5,636.4 L585.0,629.9 L585.5,611.0 L586.0,606.1 L586.5,602.0 L587.0,611.6 L587.5,609.2 L588.0,604.2 L588.5,603.8 L589.1,607.5 L589.6,608.4 L590.1,610.0 L590.6,612.2 L591.1,605.9 L591.6,609.2 L592.1,613.0 L592.7,623.8 L593.2,628.5 L593.7,641.2 L594.2,646.4 L594.7,644.5 L595.2,650.2 L595.7,655.9 L596.2,658.9 L596.8,650.7 L597.3,646.0 L597.8,637.8 L598.3,633.4 L598.8,629.2 L599.3,625.2 L599.8,618.8 L600.3,613.4 L600.9,608.2 L601.4,612.3 L601.9,612.0 L602.4,611.6 L602.9,610.0 L603.4,608.3 L603.9,607.6 L604.4,607.4 L605.0,604.7 L605.5,609.3 L606.0,606.4 L606.5,610.8 L607.0,611.0 L607.6,611.5 L608.1,620.9 L608.6,624.7 L609.1,628.8 L609.6,634.9 L610.2,643.6 L610.7,653.5 L611.2,647.4 L611.7,637.9 L612.2,629.2 L612.7,626.6 L613.2,622.6 L613.7,618.8 L614.2,615.4 L614.7,611.9 L615.3,609.4 L615.8,607.4 L616.3,612.3 L616.8,611.4 L617.3,611.1 L617.8,607.3 L618.3,610.1 L618.8,614.7 L619.3,621.0 L619.8,633.5 L620.3,642.9 L620.8,654.2 L621.3,669.7 L621.8,682.0 L622.3,691.9 L622.8,702.2 L623.3,714.2 L623.8,704.8 L624.3,700.9 L624.9,691.7 L625.4,682.8 L625.9,678.3 L626.4,669.9 L626.9,661.8 L627.4,654.2 L627.9,643.2 L628.4,636.6 L628.9,630.5 L629.4,626.8 L629.9,635.6 L630.4,627.2 L630.9,614.2 L631.4,609.1 L632.0,613.1 L632.5,607.0 L633.0,604.4 L633.5,609.7 L634.0,613.4 L634.5,617.0 L635.0,615.8 L635.5,615.1 L636.0,617.3 L636.6,622.2 L637.1,624.7 L637.6,625.8 L638.1,628.0 L638.6,634.2 L639.1,650.5 L639.6,658.1 L640.2,657.0 L640.7,648.4 L641.2,629.1 L641.7,632.2 L642.2,628.8 L642.7,625.8 L643.2,628.9 L643.7,622.2 L644.2,621.9 L644.7,623.9 L645.2,619.8 L645.7,615.5 L646.2,621.7 L646.8,616.7 L647.3,619.5 L647.8,624.0 L648.3,627.9 L648.8,638.2 L649.3,647.5 L649.8,658.1 L650.3,669.9 L650.8,682.9 L651.3,696.2 L651.8,708.9 L652.3,726.3 L652.8,716.8 L653.3,707.3 L653.8,693.1 L654.3,684.0 L654.8,675.1 L655.3,671.4 L655.8,663.2 L656.3,655.4 L656.9,648.1 L657.4,633.2 L657.9,627.0 L658.4,621.5 L658.9,618.1 L659.4,617.7 L659.9,614.2 L660.4,611.5 L660.9,598.3 L661.4,597.1 L661.9,596.7 L662.4,604.9 L662.9,608.7 L663.5,609.6 L664.0,610.8 L664.5,612.3 L665.0,612.8 L665.5,614.9 L666.0,617.3 L666.5,619.9 L667.0,618.7 L667.5,621.7 L668.0,624.9 L668.5,628.1 L669.0,635.1 L669.5,633.7 L670.1,635.4 L670.6,633.1 L671.1,630.9 L671.6,628.8 L672.1,620.3 L672.6,633.6 L673.1,632.1 L673.6,630.8 L674.1,629.7 L674.6,620.9 L675.1,620.5 L675.6,620.3 L676.2,621.5 L676.7,626.5 L677.2,623.6 L677.8,631.5 L678.3,641.3 L678.8,668.7 L679.4,681.8 L679.9,698.6 L680.4,716.0 L680.9,727.4 L681.5,737.5 L682.0,730.8 L682.5,724.9 L683.0,715.2 L683.5,707.3 L684.0,681.9 L684.6,672.6 L685.1,667.0 L685.6,658.6 L686.1,650.6 L686.6,643.1 L687.1,641.9 L687.6,623.6 L688.2,617.9 L688.7,612.8 L689.2,604.7 L689.7,597.2 L690.2,596.0 L690.7,597.8 L691.2,607.9 L691.8,607.5 L692.3,607.6 L692.8,608.1 L693.3,609.9 L693.9,607.6 L694.4,609.1 L694.9,616.0 L695.4,618.0 L695.9,620.2 L696.5,620.5 L697.0,623.1 L697.5,625.9 L698.0,624.0 L698.6,627.0 L699.1,634.0 L699.6,637.2 L700.1,635.7 L700.6,639.2 L701.2,642.1 L701.7,641.4 L702.2,636.1 L702.7,635.4 L703.3,634.6 L703.8,634.1 L704.3,633.7 L704.8,626.4 L705.3,627.4 L705.9,630.4 L706.4,630.9 L706.9,637.7 L707.4,645.7 L708.0,655.8 L708.5,667.4 L709.0,680.2 L709.5,699.0 L710.0,713.6 L710.6,730.6 L711.1,735.4 L711.6,724.8 L712.1,727.9 L712.6,717.5 L713.1,707.3 L713.6,697.3 L714.2,684.3 L714.7,675.0 L715.2,666.0 L715.7,657.5 L716.2,653.7 L716.7,646.2 L717.2,639.3 L717.7,633.0 L718.2,624.1 L718.7,618.2 L719.3,613.9 L719.8,610.4 L720.3,607.7 L720.8,600.7 L721.3,599.5 L721.8,599.1 L722.3,610.0 L722.8,610.5 L723.3,611.3 L723.9,612.4 L724.4,600.5 L724.9,602.2 L725.4,604.2 L725.9,606.4 L726.4,616.7 L726.9,619.4 L727.4,621.2 L728.0,624.3 L728.5,620.4 L729.0,623.7 L729.5,627.1 L730.0,642.0 L730.5,645.5 L731.1,645.8 L731.6,646.1 L732.2,648.5 L732.7,648.8 L733.2,649.0 L733.8,646.0 L734.3,653.9 L734.9,662.3 L735.4,659.8 L735.9,665.2 L736.4,675.5 L736.9,688.0 L737.4,695.6 L737.9,696.0 L738.4,714.0 L738.9,721.5 L739.4,726.2 L739.9,735.9 L740.4,744.6 L740.9,753.2 L741.4,742.2 L742.0,721.8 L742.5,711.0 L743.0,700.4 L743.5,690.0 L744.0,689.0 L744.6,679.3 L745.1,670.0 L745.6,661.1 L746.1,643.3 L746.7,635.5 L747.2,628.4 L747.7,621.8 L748.2,620.8 L748.7,615.7 L749.3,611.3 L749.8,607.7 L750.3,599.4 L750.8,600.2 L751.3,604.2 L751.9,619.1 L752.4,613.7 L752.9,609.1 L753.4,604.0 L753.9,605.7 L754.4,607.3 L754.9,611.8 L755.4,609.7 L755.9,614.0 L756.4,616.7 L756.9,614.8 L757.4,618.0 L758.0,621.4 L758.5,636.3 L759.0,620.4 L759.5,640.4 L760.0,636.3 L760.5,640.3 L761.0,644.4 L761.6,645.0 L762.1,648.4 L762.6,655.8 L763.2,656.3 L763.7,656.9 L764.3,657.4 L764.8,657.7 L765.4,658.2 L765.9,658.7 L766.4,667.5 L767.0,676.3 L767.5,684.1 L768.1,693.0 L768.6,701.8 L769.1,703.7 L769.7,712.5 L770.2,721.3 L770.8,740.8 L771.3,728.0 L771.8,716.2 L772.3,697.3 L772.8,686.1 L773.3,674.9 L773.8,662.2 L774.4,651.9 L774.9,642.2 L775.4,643.2 L775.9,634.7 L776.4,627.0 L776.9,614.1 L777.5,604.9 L778.0,599.6 L778.5,593.4 L779.0,597.7 L779.5,595.2 L780.0,593.7 L780.6,595.8 L781.1,596.0 L781.6,594.9 L782.1,596.8 L782.6,597.9 L783.2,599.4 L783.7,601.2 L784.2,597.7 L784.7,600.1 L785.2,602.8 L785.8,605.7 L786.3,620.0 L786.8,623.4 L787.3,627.0 L787.8,622.2 L788.4,622.6 L788.9,627.1 L789.4,635.0 L789.9,643.0 L790.5,647.4 L791.0,650.4 L791.5,650.8 L792.0,651.3 L792.6,651.2 L793.1,655.7 L793.7,656.0 L794.2,653.8 L794.8,654.0 L795.3,661.9 L795.8,662.2 L796.4,670.6 L796.9,675.7 L797.5,684.1 L798.0,692.4 L798.6,700.8 L799.2,701.1 L799.7,716.0 L800.3,726.9 L800.8,741.2 L801.3,728.6 L801.8,712.2 L802.3,698.5 L802.9,688.0 L803.4,687.0 L803.9,666.9 L804.4,657.4 L804.9,648.4 L805.4,644.4 L805.9,643.3 L806.5,635.9 L807.0,621.8 L807.5,615.8 L808.0,610.5 L808.5,605.9 L809.0,599.3 L809.5,597.2 L810.1,593.8 L810.6,592.5 L811.1,591.0 L811.6,591.3 L812.1,592.3 L812.6,593.9 L813.1,595.6 L813.6,600.4 L814.1,598.9 L814.6,607.7 L815.2,612.0 L815.7,616.8 L816.2,625.2 L816.7,630.7 L817.2,636.4 L817.7,637.7 L818.2,643.8 L818.7,650.0 L819.3,647.8 L819.8,650.1 L820.4,644.7 L821.0,638.6 L821.5,638.0 L822.1,636.9 L822.6,639.3 L823.1,639.7 L823.7,640.0 L824.2,643.8 L824.7,644.0 L825.2,644.0 L825.8,645.3 L826.3,654.9 L826.8,661.6 L827.4,674.2 L827.9,698.5 L828.4,706.7 L829.0,706.7 L829.5,727.3 L830.0,762.2 L830.5,750.7 L831.0,717.7 L831.5,684.6 L832.1,672.1 L832.6,666.2 L833.1,660.4 L833.6,646.8 L834.1,648.9 L834.6,642.1 L835.1,642.4 L835.6,643.7 L836.1,643.2 L836.6,643.9 L837.1,631.9 L837.6,628.9 L838.1,636.1 L838.6,645.0 L839.1,653.4 L839.6,647.7 L840.1,631.1 L840.6,621.7 L841.1,614.9 L841.7,626.0 L842.2,647.7 L842.7,636.7 L843.3,616.9 L843.8,608.5 L844.4,618.8 L844.9,633.1 L845.4,642.0 L846.0,649.1 L846.5,639.7 L847.0,665.6 L847.6,651.7 L848.1,619.5 L848.7,622.7 L849.2,626.2 L849.7,640.2 L850.3,604.6 L850.8,571.8 L851.3,589.8 L851.8,622.6 L852.3,651.6 L852.8,650.8 L853.3,656.4 L853.8,646.5 L854.3,643.8 L854.8,645.3 L855.3,657.7 L855.8,664.5 L856.3,666.2 L856.8,660.0 L857.4,664.3 L857.9,663.4 L858.4,676.6 L858.9,681.3 L859.4,647.4 L859.9,614.3 L860.4,581.2 L860.9,580.6 L861.5,613.8 L862.0,626.0 L862.5,592.8 L863.0,569.0 L863.5,602.1 L864.0,635.2 L864.5,644.5 L865.0,651.4 L865.5,630.0 L866.0,596.8 L866.5,565.0 L867.0,598.1 L867.5,622.9 L868.0,630.9 L868.5,644.6 L869.0,639.2 L869.5,588.2 L870.0,542.3 L870.6,574.9 L871.1,616.8 L871.6,619.3 L872.1,608.0 L872.6,609.1 L873.1,605.5 L873.6,616.7 L874.1,606.0 L874.6,595.5 L875.1,585.1 L875.6,620.5 L876.1,639.6 L876.7,635.7 L877.2,626.0 L877.7,605.8 L878.2,572.5 L878.7,589.1 L879.2,622.0 L879.7,651.5 L880.2,644.3 L880.7,650.1 L881.2,661.2 L881.7,665.1 L882.2,648.1 L882.7,626.2 L883.2,643.3 L883.7,660.8 L884.2,676.2 L884.7,669.5 L885.2,653.5 L885.8,647.3 L886.3,647.2 L886.8,659.1 L887.4,664.8 L887.9,682.8 L888.4,687.5 L889.0,687.5 L889.5,687.3 L890.0,682.4 L890.5,700.5 L891.1,734.7 L891.6,768.9 L892.1,762.3 L892.6,728.1 L893.2,693.8 L893.7,659.6 L894.2,643.3 L894.7,645.8 L895.2,639.4 L895.8,636.1 L896.3,628.6 L896.8,619.5 L897.3,609.9 L897.9,612.7 L898.4,596.7 L898.9,584.8 L899.4,584.9 L900.0,631.7 L900.5,653.9 L901.0,630.9 L901.5,597.8 L902.0,593.2 L902.5,616.2 L903.1,624.1 L903.6,643.9 L904.1,662.2 L904.6,648.2 L905.1,630.8 L905.6,630.5 L906.2,646.3 L906.7,676.5 L907.2,683.8 L907.7,697.3 L908.2,727.8 L908.8,692.8 L909.3,657.7 L909.8,637.2 L910.4,634.9 L910.9,639.2 L911.4,652.5 L912.0,658.0 L912.5,621.2 L913.0,621.9 L913.6,620.5 L914.1,634.5 L914.6,654.6 L915.2,653.7 L915.7,654.8 L916.3,658.6 L916.8,659.9 L917.4,665.8 L917.9,708.9 L918.5,723.7 L919.0,703.4 L919.5,684.0 L920.1,693.2 L920.6,727.0 L921.1,760.8 L921.6,740.6 L922.1,706.8 L922.6,673.0 L923.2,650.9 L923.7,646.5 L924.2,647.0 L924.7,635.2 L925.2,637.4 L925.7,624.8 L926.3,593.6 L926.8,568.9 L927.3,602.7 L927.8,618.9 L928.3,618.6 L928.8,609.8 L929.3,610.5 L929.9,622.8 L930.4,636.5 L930.9,636.6 L931.4,635.9 L931.9,630.2 L932.4,644.9 L932.9,658.3 L933.5,652.3 L934.0,619.3 L934.5,620.3 L935.0,642.9 L935.5,659.8 L936.0,693.4 L936.5,727.0 L937.1,762.1 L937.6,796.7 L938.1,761.7 L938.7,726.6 L939.2,691.6 L939.7,656.6 L940.3,626.0 L940.8,626.7 L941.3,635.4 L941.9,608.8 L942.4,602.1 L942.9,605.4 L943.4,617.1 L943.9,625.9 L944.4,631.2 L944.9,640.4 L945.4,647.4 L945.9,659.4 L946.4,673.4 L946.9,680.4 L947.4,696.7 L947.9,713.7 L948.4,737.9 L948.9,755.7 L949.5,742.1 L950.0,723.2 L950.5,710.3 L951.0,697.3 L951.5,686.0 L952.1,682.7 L952.6,671.2 L953.1,652.6 L953.6,642.3 L954.1,633.1 L954.7,624.9 L955.2,617.6 L955.7,611.1 L956.2,605.9 L956.7,600.1 L957.3,597.2 L957.8,591.0 L958.3,590.4 L958.8,599.6 L959.4,600.7 L959.9,602.0 L960.5,604.6 L961.0,612.6 L961.5,616.4 L962.1,620.8 L962.6,625.7 L963.1,631.4 L963.7,637.0 L964.2,639.3 L964.7,645.4 L965.3,651.6 L965.8,641.6 L966.3,635.8 L966.8,630.0 L967.3,624.4 L967.8,623.6 L968.3,618.6 L968.8,615.1 L969.3,610.9 L969.9,607.1 L970.4,595.4 L970.9,592.7 L971.4,597.7 L971.9,596.2 L972.4,595.2 L972.9,597.8 L973.4,595.8 L973.9,596.9 L974.4,574.8 L975.0,587.6 L975.5,607.3 L976.0,616.8 L976.5,634.7 L977.0,647.0 L977.5,661.1 L978.0,675.9 L978.6,694.7 L979.1,711.3 L979.6,728.6 L980.1,747.9 L980.6,766.1 L981.1,784.5 L981.7,761.3 L982.2,726.4 L982.7,704.4 L983.2,686.0 L983.8,666.7 L984.3,649.3 L984.8,637.5 L985.4,630.0 L985.9,619.7 L986.4,611.7 L987.0,607.2 L987.5,605.7 L988.0,606.4 L988.5,576.9 L989.0,585.1 L989.5,614.7 L990.0,617.5 L990.5,624.8 L991.1,633.2 L991.6,650.7 L992.1,660.9 L992.6,671.9 L993.1,686.3 L993.6,698.3 L994.1,710.7 L994.6,715.0 L995.1,696.0 L995.6,685.9 L996.2,677.5 L996.7,676.7 L997.2,662.7 L997.7,637.1 L998.2,625.9 L998.7,611.8 L999.2,608.0 L999.7,607.0 L1000.2,600.8 L1000.8,596.4 L1001.3,593.3 L1001.8,602.1 L1002.3,601.4 L1002.8,601.9 L1003.3,603.4 L1003.9,607.6 L1004.4,611.0 L1004.9,615.4 L1005.4,620.6 L1006.0,629.8 L1006.5,636.7 L1007.0,644.3 L1007.5,642.2 L1008.0,651.0 L1008.6,663.0 L1009.1,672.9 L1009.6,683.1 L1010.1,691.6 L1010.6,702.3 L1011.2,714.2 L1011.7,712.0 L1012.2,701.1 L1012.8,684.8 L1013.3,666.4 L1013.8,654.4 L1014.4,644.0 L1014.9,630.0 L1015.4,619.3 L1015.9,611.5 L1016.5,610.1 L1017.0,610.6 L1017.5,609.8 L1018.0,615.6 L1018.5,611.1 L1019.1,614.7 L1019.6,617.4 L1020.1,623.7 L1020.6,631.2 L1021.1,639.9 L1021.6,654.4 L1022.1,666.6 L1022.6,678.2 L1023.1,687.6 L1023.6,699.2 L1024.1,710.3 L1024.6,724.3 L1025.1,740.3 L1025.6,724.5 L1026.1,707.2 L1026.6,684.9 L1027.1,673.9 L1027.6,655.5 L1028.1,642.2 L1028.7,630.8 L1029.2,617.4 L1029.7,609.9 L1030.2,602.6 L1030.7,597.2 L1031.2,590.6 L1031.7,589.5 L1032.2,589.8 L1032.7,590.5 L1033.2,598.9 L1033.7,597.3 L1034.2,601.8 L1034.7,597.3 L1035.2,617.6 L1035.8,625.0 L1036.3,625.8 L1036.8,628.0 L1037.3,638.5 L1037.8,638.3 L1038.3,644.2 L1038.8,650.3 L1039.3,657.4 L1039.9,653.6 L1040.4,640.9 L1040.9,638.5 L1041.5,635.1 L1042.0,631.8 L1042.5,627.7 L1043.1,628.5 L1043.6,626.2 L1044.1,624.2 L1044.7,624.6 L1045.2,623.4 L1045.7,618.3 L1046.3,613.1 L1046.8,616.1 L1047.3,623.8 L1047.8,630.2 L1048.3,636.7 L1048.9,642.9 L1049.4,652.7 L1049.9,664.0 L1050.4,671.6 L1050.9,685.2 L1051.4,699.7 L1051.9,719.1 L1052.5,734.7 L1053.0,750.6 L1053.5,734.9 L1054.0,723.6 L1054.5,708.3 L1055.0,693.5 L1055.5,679.4 L1056.0,664.6 L1056.5,652.0 L1057.0,640.3 L1057.5,629.6 L1058.0,620.3 L1058.6,620.4 L1059.1,613.7 L1059.6,608.4 L1060.1,604.6 L1060.6,592.2 L1061.1,591.4 L1061.6,599.1 L1062.2,600.7 L1062.7,603.4 L1063.3,607.1 L1063.8,607.5 L1064.4,612.9 L1064.9,618.8 L1065.4,619.4 L1066.0,617.8 L1066.5,628.4 L1067.1,636.9 L1067.6,641.9 L1068.2,648.3 L1068.7,648.2 L1069.2,641.9 L1069.8,638.9 L1070.3,636.0 L1070.8,633.0 L1071.4,630.5 L1071.9,628.3 L1072.5,626.4 L1073.0,620.0 L1073.5,613.9 L1074.1,610.1 L1074.6,614.9 L1075.1,617.0 L1075.6,628.1 L1076.2,632.1 L1076.7,648.0 L1077.2,649.6 L1077.7,658.1 L1078.3,667.3 L1078.8,678.2 L1079.3,690.2 L1079.8,703.0 L1080.4,710.3 L1080.9,724.4 L1081.4,738.9 L1081.9,756.6 L1082.5,744.3 L1083.0,730.2 L1083.5,716.3 L1084.0,692.6 L1084.5,679.5 L1085.0,669.1 L1085.5,657.1 L1086.0,645.8 L1086.5,635.3 L1087.1,629.4 L1087.6,620.8 L1088.1,613.1 L1088.6,602.6 L1089.1,603.4 L1089.6,599.2 L1090.1,596.1 L1090.6,594.2 L1091.1,595.6 L1091.7,596.1 L1092.2,593.2 L1092.7,595.5 L1093.3,598.8 L1093.8,607.7 L1094.4,612.5 L1094.9,618.1 L1095.4,624.3 L1096.0,626.8 L1096.5,634.0 L1097.0,641.6 L1097.6,649.3 L1098.1,658.0 L1098.6,655.1 L1099.1,652.2 L1099.6,649.3 L1100.1,646.7 L1100.6,644.2 L1101.1,641.9 L1101.6,641.1 L1102.1,645.3 L1102.6,643.8 L1103.1,642.6 L1103.6,638.8 L1104.1,638.3 L1104.6,638.1 L1105.2,632.1 L1105.7,634.9 L1106.2,638.1 L1106.7,642.6 L1107.2,648.3 L1107.7,656.3 L1108.2,672.9 L1108.7,681.6 L1109.2,685.2 L1109.7,695.5 L1110.2,706.3 L1110.8,717.6 L1111.3,720.5 L1111.8,732.2 L1112.3,722.6 L1112.8,714.6 L1113.3,704.3 L1113.8,701.7 L1114.3,694.2 L1114.9,687.7 L1115.4,680.4 L1115.9,681.2 L1116.4,674.8 L1116.9,669.0 L1117.4,669.7 L1117.9,666.1 L1118.4,662.5 L1118.9,655.4 L1119.4,651.8 L1120.0,652.8 L1120.5,649.1 L1121.0,645.5" stroke="#1a0ac8" stroke-width="1.7" fill="none" stroke-linejoin="round"/>
<path d="M87.0,645.7 L87.5,658.0 L88.0,670.0 L88.5,681.5 L89.0,692.1 L89.5,701.6 L90.0,709.8 L90.5,716.3 L91.0,721.0 L91.5,723.6 L92.0,723.9 L92.5,722.5 L93.0,719.7 L93.5,715.7 L94.0,710.7 L94.5,704.6 L95.0,697.8 L95.5,690.3 L96.0,682.4 L96.5,674.0 L97.0,665.5 L97.5,656.9 L98.0,648.3 L98.5,640.0 L99.0,632.1 L99.5,624.6 L100.0,617.9 L100.5,611.9 L101.0,606.9 L101.5,602.9 L102.0,600.3 L102.5,599.0 L103.0,599.1 L103.5,600.7 L104.0,603.4 L104.5,607.0 L105.0,611.5 L105.5,616.6 L106.0,622.1 L106.5,627.8 L107.0,633.7 L107.5,639.4 L108.0,644.8 L108.5,649.7 L109.0,654.2 L109.5,659.5 L110.0,665.0 L110.5,669.8 L111.0,673.1 L111.5,673.9 L112.0,672.9 L112.5,670.7 L113.0,667.6 L113.5,663.7 L114.0,659.4 L114.5,654.9 L115.0,650.4 L115.5,646.2 L116.0,642.5 L116.5,639.5 L117.0,637.6 L117.5,637.0 L118.0,640.8 L118.5,650.5 L119.0,664.1 L119.5,679.5 L120.0,694.6 L120.5,707.5 L121.0,716.1 L121.5,718.6 L122.0,717.5 L122.5,714.9 L123.0,711.0 L123.5,705.9 L124.0,699.9 L124.5,693.1 L125.0,685.6 L125.5,677.6 L126.0,669.2 L126.5,660.7 L127.0,652.2 L127.5,643.9 L128.0,635.8 L128.5,628.3 L129.0,621.4 L129.5,615.3 L130.0,610.1 L130.5,606.1 L131.0,603.4 L131.5,602.2 L132.0,602.5 L132.5,604.1 L133.0,607.0 L133.5,610.8 L134.0,615.5 L134.5,620.8 L135.0,626.7 L135.5,632.8 L136.0,639.2 L136.5,645.5 L137.0,651.7 L137.5,657.5 L138.0,662.9 L138.5,667.5 L139.0,671.4 L139.5,674.2 L140.0,675.8 L140.5,676.1 L141.0,674.7 L141.5,672.0 L142.0,668.2 L142.5,663.4 L143.0,658.1 L143.5,652.4 L144.0,646.7 L144.5,641.2 L145.0,636.1 L145.5,631.8 L146.0,628.6 L146.5,626.6 L147.0,626.2 L147.5,630.5 L148.0,639.3 L148.5,651.1 L149.0,664.7 L149.5,678.4 L150.0,690.8 L150.5,700.5 L151.0,705.9 L151.5,706.4 L152.0,704.9 L152.5,702.1 L153.0,698.2 L153.5,693.2 L154.0,687.4 L154.5,681.0 L155.0,674.0 L155.5,666.7 L156.0,659.2 L156.5,651.6 L157.0,644.1 L157.5,637.0 L158.0,630.2 L158.5,624.0 L159.0,618.6 L159.5,614.1 L160.0,610.7 L160.5,608.4 L161.0,607.6 L161.5,608.2 L162.0,610.4 L162.5,613.8 L163.0,618.2 L163.5,623.6 L164.0,629.6 L164.5,636.0 L165.0,642.7 L165.5,649.5 L166.0,656.2 L166.5,662.5 L167.0,668.4 L167.5,673.4 L168.0,677.6 L168.5,680.6 L169.0,682.4 L169.5,682.5 L170.0,680.9 L170.5,677.5 L171.0,672.9 L171.5,667.1 L172.0,660.6 L172.5,653.7 L173.0,646.6 L173.5,639.5 L174.0,632.9 L174.5,627.1 L175.0,622.2 L175.5,618.6 L176.0,616.6 L176.5,616.6 L177.0,619.8 L177.5,625.8 L178.0,633.8 L178.5,643.2 L179.0,653.2 L179.5,663.3 L180.0,672.7 L180.5,680.7 L181.0,686.7 L181.5,689.9 L182.0,690.1 L182.5,688.7 L183.0,686.1 L183.5,682.6 L184.0,678.1 L184.5,673.0 L185.0,667.3 L185.5,661.2 L186.0,654.9 L186.5,648.5 L187.0,642.1 L187.5,636.0 L188.0,630.2 L188.5,625.0 L189.0,620.4 L189.5,616.7 L190.0,613.9 L190.5,612.3 L191.0,612.0 L191.5,613.6 L192.0,617.2 L192.5,622.3 L193.0,628.7 L193.5,636.1 L194.0,644.0 L194.5,652.3 L195.0,660.5 L195.5,668.4 L196.0,675.6 L196.5,681.8 L197.0,686.7 L197.5,690.0 L198.0,691.4 L198.5,690.6 L199.0,687.9 L199.5,683.7 L200.0,678.1 L200.5,671.6 L201.0,664.2 L201.5,656.4 L202.0,648.4 L202.5,640.5 L203.0,632.9 L203.5,625.9 L204.0,619.9 L204.5,615.0 L205.0,611.6 L205.5,609.9 L206.0,610.3 L206.5,613.4 L207.0,618.6 L207.5,625.4 L208.0,633.4 L208.5,642.0 L209.0,650.7 L209.5,659.0 L210.0,666.4 L210.5,672.5 L211.0,676.6 L211.5,678.3 L212.0,677.8 L212.5,675.9 L213.0,673.0 L213.5,669.1 L214.0,664.5 L214.5,659.3 L215.0,653.8 L215.5,648.1 L216.0,642.4 L216.5,636.9 L217.0,631.8 L217.5,627.3 L218.0,623.5 L218.5,620.6 L219.0,618.9 L219.5,618.5 L220.0,620.1 L220.5,623.7 L221.0,628.9 L221.5,635.3 L222.0,642.8 L222.5,650.8 L223.0,659.1 L223.5,667.3 L224.0,675.1 L224.5,682.1 L225.0,688.0 L225.5,692.5 L226.0,695.1 L226.5,695.7 L227.0,694.2 L227.5,691.2 L228.0,686.7 L228.5,681.1 L229.0,674.6 L229.5,667.3 L230.0,659.6 L230.5,651.7 L231.0,643.7 L231.5,636.0 L232.0,628.7 L232.5,622.2 L233.0,616.6 L233.5,612.1 L234.0,609.1 L234.5,607.6 L235.0,608.0 L235.5,610.1 L236.0,613.5 L236.5,618.1 L237.0,623.5 L237.5,629.6 L238.0,635.9 L238.5,642.3 L239.0,648.6 L239.5,654.3 L240.0,659.4 L240.5,663.4 L241.0,666.1 L241.5,667.4 L242.0,667.1 L242.5,665.9 L243.0,663.8 L243.5,661.0 L244.0,657.8 L244.5,654.1 L245.0,650.1 L245.5,646.1 L246.0,642.0 L246.5,638.2 L247.0,634.6 L247.5,631.5 L248.0,628.9 L248.5,627.1 L249.0,626.2 L249.5,626.5 L250.0,629.1 L250.5,633.8 L251.0,640.2 L251.5,647.9 L252.0,656.4 L252.5,665.4 L253.0,674.3 L253.5,682.8 L254.0,690.4 L254.5,696.8 L255.0,701.5 L255.5,704.1 L256.0,704.2 L256.5,702.4 L257.0,699.0 L257.5,694.3 L258.0,688.3 L258.5,681.5 L259.0,673.9 L259.5,665.8 L260.0,657.4 L260.5,649.0 L261.0,640.7 L261.5,632.9 L262.0,625.7 L262.5,619.3 L263.0,613.9 L263.5,609.9 L264.0,607.3 L264.5,606.5 L265.0,607.1 L265.5,608.6 L266.0,611.0 L266.5,614.1 L267.0,617.7 L267.5,621.6 L268.0,625.8 L268.5,630.1 L269.0,634.3 L269.5,638.3 L270.0,641.9 L270.5,646.3 L271.0,651.2 L271.5,655.9 L272.0,659.4 L272.5,660.9 L273.0,660.5 L273.5,659.1 L274.0,657.1 L274.5,654.5 L275.0,651.5 L275.5,648.3 L276.0,645.1 L276.5,642.1 L277.0,639.4 L277.5,637.1 L278.0,635.5 L278.5,634.8 L279.0,635.5 L279.5,638.5 L280.0,643.4 L280.5,649.8 L281.0,657.3 L281.5,665.6 L282.0,674.2 L282.5,682.7 L283.0,690.7 L283.5,697.8 L284.0,703.6 L284.5,707.7 L285.0,709.7 L285.5,709.4 L286.0,707.4 L286.5,703.8 L287.0,698.9 L287.5,692.8 L288.0,685.9 L288.5,678.2 L289.0,670.0 L289.5,661.6 L290.0,653.0 L290.5,644.6 L291.0,636.4 L291.5,628.8 L292.0,621.9 L292.5,616.0 L293.0,611.1 L293.5,607.7 L294.0,605.7 L294.5,605.5 L295.0,606.2 L295.5,607.7 L296.0,609.9 L296.5,612.6 L297.0,615.7 L297.5,619.1 L298.0,622.7 L298.5,626.4 L299.0,630.0 L299.5,633.5 L300.0,636.8 L300.5,639.7 L301.0,643.1 L301.5,646.7 L302.0,649.6 L302.5,651.1 L303.0,650.9 L303.5,650.2 L304.0,649.2 L304.5,648.0 L305.0,646.7 L305.5,645.4 L306.0,644.4 L306.5,643.7 L307.0,643.5 L307.5,644.6 L308.0,647.3 L308.5,651.2 L309.0,656.3 L309.5,662.2 L310.0,668.6 L310.5,675.5 L311.0,682.4 L311.5,689.2 L312.0,695.7 L312.5,701.6 L313.0,706.6 L313.5,710.5 L314.0,713.2 L314.5,714.2 L315.0,713.6 L315.5,711.3 L316.0,707.6 L316.5,702.7 L317.0,696.8 L317.5,689.9 L318.0,682.4 L318.5,674.3 L319.0,665.9 L319.5,657.4 L320.0,648.8 L320.5,640.5 L321.0,632.5 L321.5,625.1 L322.0,618.4 L322.5,612.6 L323.0,607.9 L323.5,604.5 L324.0,602.5 L324.5,602.2 L325.0,602.8 L325.5,604.1 L326.0,606.1 L326.5,608.6 L327.0,611.5 L327.5,614.8 L328.0,618.4 L328.5,622.1 L329.0,625.9 L329.5,629.6 L330.0,633.3 L330.5,636.7 L331.0,639.9 L331.5,642.7 L332.0,645.0 L332.5,646.7 L333.0,647.8 L333.5,648.3 L334.0,648.7 L334.5,649.0 L335.0,649.3 L335.5,649.5 L336.0,649.8 L336.5,650.2 L337.0,650.6 L337.5,651.2 L338.0,653.2 L338.5,657.0 L339.0,662.3 L339.5,668.6 L340.0,675.6 L340.5,683.1 L341.0,690.7 L341.5,698.0 L342.0,704.7 L342.5,710.4 L343.0,714.9 L343.5,717.7 L344.0,718.6 L344.5,716.1 L345.0,710.4 L345.5,702.6 L346.0,693.8 L346.5,685.3 L347.0,678.3 L347.5,672.2 L348.0,665.6 L348.5,658.8 L349.0,651.9 L349.5,644.9 L350.0,638.0 L350.5,631.3 L351.0,624.9 L351.5,619.0 L352.0,613.6 L352.5,608.8 L353.0,604.9 L353.5,601.8 L354.0,599.8 L354.5,598.9 L355.0,599.1 L355.5,600.1 L356.0,601.9 L356.5,604.3 L357.0,607.2 L357.5,610.5 L358.0,614.2 L358.5,618.1 L359.0,622.2 L359.5,626.3 L360.0,630.4 L360.5,634.4 L361.0,638.2 L361.5,641.6 L362.0,644.7 L362.5,647.2 L363.0,649.1 L363.5,650.4 L364.0,651.3 L364.5,652.0 L365.0,652.6 L365.5,653.1 L366.0,653.6 L366.5,654.3 L367.0,655.1 L367.5,656.1 L368.0,657.8 L368.5,661.5 L369.0,666.9 L369.5,673.6 L370.0,681.1 L370.5,689.0 L371.0,697.0 L371.5,704.5 L372.0,711.2 L372.5,716.6 L373.0,720.3 L373.5,721.8 L374.0,721.3 L374.5,719.2 L375.0,715.9 L375.5,711.4 L376.0,705.9 L376.5,699.5 L377.0,692.4 L377.5,684.6 L378.0,676.5 L378.5,668.0 L379.0,659.4 L379.5,650.8 L380.0,642.4 L380.5,634.2 L381.0,626.5 L381.5,619.3 L382.0,612.9 L382.5,607.3 L383.0,602.8 L383.5,599.4 L384.0,597.3 L384.5,596.7 L385.0,597.1 L385.5,598.1 L386.0,599.8 L386.5,601.9 L387.0,604.6 L387.5,607.6 L388.0,611.1 L388.5,614.8 L389.0,618.8 L389.5,622.9 L390.0,627.2 L390.5,631.6 L391.0,636.0 L391.5,640.4 L392.0,644.7 L392.5,648.9 L393.0,652.8 L393.5,656.5 L394.0,660.0 L394.5,663.6 L395.0,667.5 L395.5,671.7 L396.0,676.0 L396.5,680.4 L397.0,684.9 L397.5,689.4 L398.0,693.8 L398.5,698.1 L399.0,702.2 L399.5,706.1 L400.0,709.7 L400.5,712.9 L401.0,715.8 L401.5,718.1 L402.0,720.0 L402.5,721.2 L403.0,721.8 L403.5,721.6 L404.0,720.0 L404.5,717.2 L405.0,713.2 L405.5,708.2 L406.0,702.4 L406.5,695.9 L407.0,688.7 L407.5,681.1 L408.0,673.1 L408.5,664.9 L409.0,656.7 L409.5,648.4 L410.0,640.3 L410.5,632.6 L411.0,625.2 L411.5,618.4 L412.0,612.3 L412.5,607.1 L413.0,602.7 L413.5,599.5 L414.0,597.4 L414.5,596.7 L415.0,597.1 L415.5,598.3 L416.0,600.3 L416.5,602.9 L417.0,606.1 L417.5,609.7 L418.0,613.8 L418.5,618.2 L419.0,622.9 L419.5,627.7 L420.0,632.6 L420.5,637.5 L421.0,642.4 L421.5,647.0 L422.0,651.5 L422.5,655.7 L423.0,659.4 L423.5,662.8 L424.0,666.4 L424.5,670.2 L425.0,674.1 L425.5,678.1 L426.0,682.2 L426.5,686.2 L427.0,690.2 L427.5,694.1 L428.0,697.8 L428.5,701.4 L429.0,704.6 L429.5,707.6 L430.0,710.2 L430.5,712.5 L431.0,714.2 L431.5,715.5 L432.0,716.2 L432.5,716.3 L433.0,715.2 L433.5,712.8 L434.0,709.1 L434.5,704.5 L435.0,698.9 L435.5,692.5 L436.0,685.5 L436.5,678.0 L437.0,670.1 L437.5,662.1 L438.0,653.9 L438.5,645.8 L439.0,637.9 L439.5,630.3 L440.0,623.1 L440.5,616.6 L441.0,610.9 L441.5,606.0 L442.0,602.1 L442.5,599.4 L443.0,598.0 L443.5,597.9 L444.0,599.0 L444.5,601.1 L445.0,604.0 L445.5,607.6 L446.0,611.8 L446.5,616.5 L447.0,621.6 L447.5,626.9 L448.0,632.3 L448.5,637.6 L449.0,642.9 L449.5,647.8 L450.0,652.4 L450.5,656.5 L451.0,659.9 L451.5,662.6 L452.0,664.4 L452.5,665.2 L453.0,664.9 L453.5,663.4 L454.0,661.0 L454.5,658.0 L455.0,654.6 L455.5,651.0 L456.0,647.5 L456.5,644.3 L457.0,641.7 L457.5,639.9 L458.0,639.1 L458.5,641.2 L459.0,647.7 L459.5,657.3 L460.0,668.9 L460.5,681.0 L461.0,692.4 L461.5,701.9 L462.0,708.1 L462.5,709.9 L463.0,709.0 L463.5,706.8 L464.0,703.6 L464.5,699.4 L465.0,694.3 L465.5,688.6 L466.0,682.2 L466.5,675.3 L467.0,668.2 L467.5,660.8 L468.0,653.3 L468.5,645.8 L469.0,638.5 L469.5,631.5 L470.0,624.9 L470.5,618.9 L471.0,613.5 L471.5,609.0 L472.0,605.3 L472.5,602.7 L473.0,601.3 L473.5,601.2 L474.0,602.5 L474.5,605.1 L475.0,608.8 L475.5,613.4 L476.0,618.7 L476.5,624.5 L477.0,630.7 L477.5,637.0 L478.0,643.2 L478.5,649.1 L479.0,654.6 L479.5,659.4 L480.0,663.4 L480.5,666.4 L481.0,668.1 L481.5,668.5 L482.0,667.3 L482.5,665.0 L483.0,661.7 L483.5,657.7 L484.0,653.2 L484.5,648.6 L485.0,644.0 L485.5,639.6 L486.0,635.9 L486.5,632.9 L487.0,631.0 L487.5,630.4 L488.0,633.5 L488.5,640.9 L489.0,651.2 L489.5,663.1 L490.0,675.4 L490.5,686.7 L491.0,695.8 L491.5,701.2 L492.0,702.2 L492.5,701.0 L493.0,698.5 L493.5,695.0 L494.0,690.6 L494.5,685.3 L495.0,679.4 L495.5,672.9 L496.0,666.0 L496.5,658.9 L497.0,651.6 L497.5,644.4 L498.0,637.4 L498.5,630.6 L499.0,624.3 L499.5,618.5 L500.0,613.5 L500.5,609.3 L501.0,606.1 L501.5,604.0 L502.0,603.2 L502.5,603.9 L503.0,606.0 L503.5,609.4 L504.0,613.9 L504.5,619.2 L505.0,625.1 L505.5,631.5 L506.0,638.0 L506.5,644.5 L507.0,650.8 L507.5,656.6 L508.0,661.8 L508.5,666.1 L509.0,669.4 L509.5,671.3 L510.0,671.7 L510.5,670.5 L511.0,668.0 L511.5,664.2 L512.0,659.7 L512.5,654.5 L513.0,648.9 L513.5,643.3 L514.0,637.9 L514.5,633.0 L515.0,628.7 L515.5,625.4 L516.0,623.4 L516.5,622.9 L517.0,625.6 L517.5,631.8 L518.0,640.4 L518.5,650.5 L519.0,661.2 L519.5,671.5 L520.0,680.6 L520.5,687.4 L521.0,691.0 L521.5,691.2 L522.0,689.8 L522.5,687.4 L523.0,684.1 L523.5,679.9 L524.0,675.0 L524.5,669.6 L525.0,663.8 L525.5,657.6 L526.0,651.3 L526.5,645.0 L527.0,638.8 L527.5,632.8 L528.0,627.2 L528.5,622.1 L529.0,617.6 L529.5,613.9 L530.0,611.1 L530.5,609.3 L531.0,608.7 L531.5,609.6 L532.0,612.1 L532.5,616.1 L533.0,621.2 L533.5,627.3 L534.0,634.0 L534.5,641.1 L535.0,648.4 L535.5,655.5 L536.0,662.4 L536.5,668.6 L537.0,674.0 L537.5,678.3 L538.0,681.3 L538.5,682.6 L539.0,682.1 L539.5,679.9 L540.0,676.2 L540.5,671.2 L541.0,665.4 L541.5,658.9 L542.0,652.1 L542.5,645.2 L543.0,638.5 L543.5,632.3 L544.0,627.0 L544.5,622.7 L545.0,619.8 L545.5,618.5 L546.0,619.6 L546.5,623.8 L547.0,630.4 L547.5,638.6 L548.0,647.7 L548.5,656.9 L549.0,665.5 L549.5,672.8 L550.0,678.0 L550.5,680.4 L551.0,680.1 L551.5,678.4 L552.0,675.6 L552.5,671.9 L553.0,667.3 L553.5,662.2 L554.0,656.6 L554.5,650.7 L555.0,644.6 L555.5,638.5 L556.0,632.6 L556.5,627.1 L557.0,622.0 L557.5,617.6 L558.0,614.1 L558.5,611.5 L559.0,610.0 L559.5,609.9 L560.0,611.4 L560.5,614.4 L561.0,618.6 L561.5,623.9 L562.0,630.1 L562.5,636.8 L563.0,644.0 L563.5,651.3 L564.0,658.5 L564.5,665.4 L565.0,671.8 L565.5,677.4 L566.0,682.1 L566.5,685.6 L567.0,687.6 L567.5,688.0 L568.0,686.5 L568.5,683.2 L569.0,678.4 L569.5,672.4 L570.0,665.6 L570.5,658.2 L571.0,650.5 L571.5,642.8 L572.0,635.5 L572.5,628.8 L573.0,623.0 L573.5,618.4 L574.0,615.3 L574.5,614.1 L575.0,614.9 L575.5,617.4 L576.0,621.3 L576.5,626.4 L577.0,632.3 L577.5,638.7 L578.0,645.3 L578.5,651.8 L579.0,657.9 L579.5,663.2 L580.0,667.5 L580.5,670.5 L581.0,671.8 L581.5,671.3 L582.0,669.7 L582.5,667.1 L583.0,663.6 L583.5,659.4 L584.0,654.6 L584.5,649.5 L585.0,644.2 L585.5,638.8 L586.0,633.6 L586.5,628.7 L587.0,624.2 L587.5,620.3 L588.0,617.3 L588.5,615.1 L589.0,614.1 L589.5,614.6 L590.0,617.1 L590.5,621.3 L591.0,626.9 L591.5,633.6 L592.0,641.0 L592.5,648.9 L593.0,657.0 L593.5,664.9 L594.0,672.3 L594.5,678.9 L595.0,684.4 L595.5,688.5 L596.0,690.9 L596.5,691.3 L597.0,690.1 L597.5,687.5 L598.0,683.8 L598.5,679.2 L599.0,673.8 L599.5,667.8 L600.0,661.4 L600.5,654.7 L601.0,647.9 L601.5,641.3 L602.0,635.0 L602.5,629.1 L603.0,623.9 L603.5,619.5 L604.0,616.1 L604.5,613.9 L605.0,613.0 L605.5,613.7 L606.0,615.8 L606.5,619.1 L607.0,623.4 L607.5,628.4 L608.0,633.9 L608.5,639.5 L609.0,645.2 L609.5,650.5 L610.0,655.3 L610.5,659.3 L611.0,662.2 L611.5,663.9 L612.0,664.0 L612.5,662.5 L613.0,659.5 L613.5,655.4 L614.0,650.5 L614.5,645.1 L615.0,639.5 L615.5,634.0 L616.0,628.9 L616.5,624.5 L617.0,621.1 L617.5,619.0 L618.0,618.5 L618.5,619.8 L619.0,622.8 L619.5,627.1 L620.0,632.6 L620.5,638.9 L621.0,645.8 L621.5,653.1 L622.0,660.4 L622.5,667.7 L623.0,674.5 L623.5,680.6 L624.0,685.9 L624.5,689.9 L625.0,692.6 L625.5,693.6 L626.0,692.7 L626.5,690.2 L627.0,686.4 L627.5,681.4 L628.0,675.5 L628.5,668.8 L629.0,661.7 L629.5,654.4 L630.0,647.0 L630.5,639.9 L631.0,633.1 L631.5,627.1 L632.0,621.9 L632.5,617.9 L633.0,615.2 L633.5,614.1 L634.0,614.6 L634.5,616.2 L635.0,618.7 L635.5,622.1 L636.0,626.0 L636.5,630.3 L637.0,634.9 L637.5,639.6 L638.0,644.1 L638.5,648.3 L639.0,652.1 L639.5,655.1 L640.0,657.4 L640.5,658.6 L641.0,658.5 L641.5,657.2 L642.0,654.8 L642.5,651.6 L643.0,647.7 L643.5,643.4 L644.0,639.0 L644.5,634.7 L645.0,630.7 L645.5,627.3 L646.0,624.7 L646.5,623.1 L647.0,622.9 L647.5,624.3 L648.0,627.3 L648.5,631.6 L649.0,636.9 L649.5,643.1 L650.0,649.9 L650.5,657.0 L651.0,664.1 L651.5,671.1 L652.0,677.7 L652.5,683.6 L653.0,688.6 L653.5,692.5 L654.0,694.9 L654.5,695.7 L655.0,694.7 L655.5,692.1 L656.0,688.1 L656.5,683.0 L657.0,676.9 L657.5,670.1 L658.0,662.9 L658.5,655.4 L659.0,648.0 L659.5,640.8 L660.0,634.0 L660.5,627.9 L661.0,622.8 L661.5,618.8 L662.0,616.2 L662.5,615.2 L663.0,615.6 L663.5,616.8 L664.0,618.8 L664.5,621.3 L665.0,624.3 L665.5,627.7 L666.0,631.2 L666.5,634.9 L667.0,638.5 L667.5,641.9 L668.0,645.0 L668.5,647.7 L669.0,649.9 L669.5,651.4 L670.0,652.1 L670.5,652.0 L671.0,651.0 L671.5,649.3 L672.0,647.2 L672.5,644.6 L673.0,641.9 L673.5,639.1 L674.0,636.4 L674.5,633.9 L675.0,631.8 L675.5,630.3 L676.0,629.4 L676.5,629.6 L677.0,631.5 L677.5,635.1 L678.0,640.0 L678.5,645.9 L679.0,652.6 L679.5,659.7 L680.0,667.0 L680.5,674.1 L681.0,680.7 L681.5,686.6 L682.0,691.4 L682.5,694.8 L683.0,696.6 L683.5,696.6 L684.0,695.1 L684.5,692.4 L685.0,688.7 L685.5,684.1 L686.0,678.7 L686.5,672.8 L687.0,666.4 L687.5,659.8 L688.0,653.2 L688.5,646.5 L689.0,640.1 L689.5,634.1 L690.0,628.7 L690.5,623.9 L691.0,620.1 L691.5,617.2 L692.0,615.6 L692.5,615.2 L693.0,615.8 L693.5,617.0 L694.0,618.7 L694.5,621.0 L695.0,623.5 L695.5,626.3 L696.0,629.3 L696.5,632.3 L697.0,635.3 L697.5,638.1 L698.0,640.7 L698.5,642.9 L699.0,644.8 L699.5,646.0 L700.0,646.7 L700.5,646.6 L701.0,646.1 L701.5,645.1 L702.0,643.8 L702.5,642.3 L703.0,640.7 L703.5,639.2 L704.0,637.9 L704.5,636.8 L705.0,636.1 L705.5,635.9 L706.0,637.2 L706.5,640.2 L707.0,644.7 L707.5,650.3 L708.0,656.8 L708.5,663.7 L709.0,670.8 L709.5,677.8 L710.0,684.4 L710.5,690.2 L711.0,694.9 L711.5,698.3 L712.0,700.0 L712.5,699.8 L713.0,698.5 L713.5,696.0 L714.0,692.7 L714.5,688.5 L715.0,683.6 L715.5,678.2 L716.0,672.4 L716.5,666.2 L717.0,659.8 L717.5,653.3 L718.0,646.9 L718.5,640.7 L719.0,634.8 L719.5,629.3 L720.0,624.3 L720.5,620.0 L721.0,616.5 L721.5,613.9 L722.0,612.3 L722.5,611.9 L723.0,612.3 L723.5,613.1 L724.0,614.3 L724.5,615.9 L725.0,617.7 L725.5,619.8 L726.0,622.1 L726.5,624.5 L727.0,626.9 L727.5,629.3 L728.0,631.7 L728.5,633.9 L729.0,636.0 L729.5,637.8 L730.0,639.3 L730.5,640.4 L731.0,641.2 L731.5,641.6 L732.0,641.9 L732.5,642.1 L733.0,642.2 L733.5,642.4 L734.0,642.6 L734.5,642.8 L735.0,643.1 L735.5,643.5 L736.0,645.0 L736.5,648.1 L737.0,652.5 L737.5,658.0 L738.0,664.2 L738.5,670.9 L739.0,677.6 L739.5,684.2 L740.0,690.2 L740.5,695.5 L741.0,699.6 L741.5,702.3 L742.0,703.3 L742.5,702.7 L743.0,701.0 L743.5,698.1 L744.0,694.3 L744.5,689.8 L745.0,684.5 L745.5,678.7 L746.0,672.5 L746.5,665.9 L747.0,659.2 L747.5,652.4 L748.0,645.7 L748.5,639.1 L749.0,632.9 L749.5,627.1 L750.0,621.9 L750.5,617.4 L751.0,613.7 L751.5,610.9 L752.0,609.2 L752.5,608.7 L753.0,609.0 L753.5,609.9 L754.0,611.2 L754.5,613.0 L755.0,615.1 L755.5,617.5 L756.0,620.1 L756.5,622.9 L757.0,625.8 L757.5,628.7 L758.0,631.7 L758.5,634.5 L759.0,637.2 L759.5,639.7 L760.0,642.0 L760.5,643.9 L761.0,645.5 L761.5,646.6 L762.0,647.3 L762.5,647.8 L763.0,648.2 L763.5,648.6 L764.0,648.9 L764.5,649.3 L765.0,649.8 L765.5,650.4 L766.0,651.2 L766.5,653.4 L767.0,657.6 L767.5,663.3 L768.0,670.0 L768.5,677.3 L769.0,684.7 L769.5,691.7 L770.0,697.9 L770.5,702.7 L771.0,705.8 L771.5,706.6 L772.0,705.7 L772.5,703.7 L773.0,700.7 L773.5,696.7 L774.0,692.0 L774.5,686.5 L775.0,680.5 L775.5,674.1 L776.0,667.3 L776.5,660.4 L777.0,653.3 L777.5,646.3 L778.0,639.5 L778.5,632.9 L779.0,626.7 L779.5,621.0 L780.0,616.0 L780.5,611.7 L781.0,608.3 L781.5,605.8 L782.0,604.5 L782.5,604.4 L783.0,605.0 L783.5,606.3 L784.0,608.1 L784.5,610.5 L785.0,613.2 L785.5,616.3 L786.0,619.7 L786.5,623.2 L787.0,626.9 L787.5,630.6 L788.0,634.3 L788.5,637.9 L789.0,641.4 L789.5,644.6 L790.0,647.4 L790.5,649.9 L791.0,651.9 L791.5,653.4 L792.0,654.3 L792.5,654.7 L793.0,654.9 L793.5,655.1 L794.0,655.3 L794.5,655.5 L795.0,655.6 L795.5,655.9 L796.0,656.2 L796.5,656.6 L797.0,658.8 L797.5,663.2 L798.0,669.4 L798.5,676.7 L799.0,684.6 L799.5,692.3 L800.0,699.3 L800.5,704.9 L801.0,708.7 L801.5,709.9 L802.0,709.0 L802.5,706.7 L803.0,703.3 L803.5,698.7 L804.0,693.2 L804.5,686.9 L805.0,680.1 L805.5,672.7 L806.0,665.0 L806.5,657.2 L807.0,649.3 L807.5,641.5 L808.0,634.0 L808.5,627.0 L809.0,620.5 L809.5,614.8 L810.0,610.0 L810.5,606.2 L811.0,603.5 L811.5,602.2 L812.0,602.3 L812.5,603.5 L813.0,605.5 L813.5,608.2 L814.0,611.6 L814.5,615.4 L815.0,619.7 L815.5,624.1 L816.0,628.7 L816.5,633.2 L817.0,637.6 L817.5,641.7 L818.0,645.4 L818.5,648.5 L819.0,651.0 L819.5,652.8 L820.0,654.4 L820.5,655.9 L821.0,657.3 L821.5,658.2 L822.0,658.7 L822.5,658.6 L823.0,657.8 L823.5,656.7 L824.0,655.4 L824.5,654.1 L825.0,653.1 L825.5,652.3 L826.0,652.4 L826.5,655.1 L827.0,660.6 L827.5,668.1 L828.0,676.7 L828.5,685.7 L829.0,694.3 L829.5,701.7 L830.0,707.1 L830.5,709.7 L831.0,709.5 L831.5,708.0 L832.0,705.3 L832.5,701.6 L833.0,697.0 L833.5,691.7 L834.0,685.7 L834.5,679.2 L835.0,672.3 L835.5,665.1 L836.0,657.7 L836.5,650.3 L837.0,642.9 L837.5,635.8 L838.0,629.0 L838.5,622.6 L839.0,616.7 L839.5,611.6 L840.0,607.2 L840.5,603.8 L841.0,601.3 L841.5,600.1 L842.0,600.0 L842.5,600.8 L843.0,602.1 L843.5,604.1 L844.0,606.5 L844.5,609.4 L845.0,612.6 L845.5,616.1 L846.0,619.9 L846.5,623.8 L847.0,627.8 L847.5,631.9 L848.0,635.9 L848.5,639.7 L849.0,643.9 L849.5,649.6 L850.0,655.4 L850.5,659.7 L851.0,660.9 L851.5,660.4 L852.0,659.2 L852.5,657.7 L853.0,655.9 L853.5,653.9 L854.0,652.0 L854.5,650.3 L855.0,648.9 L855.5,648.1 L856.0,648.0 L856.5,651.3 L857.0,658.4 L857.5,667.9 L858.0,678.6 L858.5,689.2 L859.0,698.4 L859.5,705.0 L860.0,707.7 L860.5,707.1 L861.0,705.4 L861.5,702.6 L862.0,698.9 L862.5,694.3 L863.0,689.0 L863.5,683.1 L864.0,676.7 L864.5,669.9 L865.0,662.9 L865.5,655.7 L866.0,648.5 L866.5,641.4 L867.0,634.6 L867.5,628.0 L868.0,621.9 L868.5,616.4 L869.0,611.5 L869.5,607.4 L870.0,604.2 L870.5,602.1 L871.0,601.1 L871.5,601.4 L872.0,603.2 L872.5,606.2 L873.0,610.3 L873.5,615.3 L874.0,620.9 L874.5,626.9 L875.0,633.0 L875.5,639.2 L876.0,645.1 L876.5,650.6 L877.0,655.5 L877.5,659.5 L878.0,662.3 L878.5,663.9 L879.0,664.1 L879.5,663.1 L880.0,661.4 L880.5,658.9 L881.0,656.0 L881.5,652.7 L882.0,649.2 L882.5,645.7 L883.0,642.4 L883.5,639.4 L884.0,636.9 L884.5,635.0 L885.0,633.9 L885.5,634.0 L886.0,637.8 L886.5,645.0 L887.0,654.5 L887.5,665.5 L888.0,676.9 L888.5,687.7 L889.0,696.9 L889.5,703.5 L890.0,706.5 L890.5,706.2 L891.0,704.4 L891.5,701.5 L892.0,697.5 L892.5,692.6 L893.0,686.9 L893.5,680.6 L894.0,673.8 L894.5,666.6 L895.0,659.2 L895.5,651.7 L896.0,644.3 L896.5,637.0 L897.0,630.1 L897.5,623.6 L898.0,617.8 L898.5,612.6 L899.0,608.3 L899.5,605.1 L900.0,603.0 L900.5,602.1 L901.0,602.7 L901.5,604.6 L902.0,607.6 L902.5,611.6 L903.0,616.4 L903.5,621.7 L904.0,627.5 L904.5,633.6 L905.0,639.7 L905.5,645.7 L906.0,651.4 L906.5,656.6 L907.0,661.2 L907.5,665.0 L908.0,667.7 L908.5,669.3 L909.0,669.5 L909.5,667.8 L910.0,664.5 L910.5,660.0 L911.0,654.5 L911.5,648.4 L912.0,642.2 L912.5,636.1 L913.0,630.6 L913.5,626.0 L914.0,622.6 L914.5,620.8 L915.0,621.3 L915.5,625.4 L916.0,632.4 L916.5,641.7 L917.0,652.3 L917.5,663.6 L918.0,674.9 L918.5,685.2 L919.0,693.8 L919.5,700.1 L920.0,703.2 L920.5,703.0 L921.0,701.2 L921.5,698.2 L922.0,694.1 L922.5,689.0 L923.0,683.1 L923.5,676.5 L924.0,669.5 L924.5,662.1 L925.0,654.6 L925.5,647.0 L926.0,639.6 L926.5,632.5 L927.0,625.8 L927.5,619.8 L928.0,614.5 L928.5,610.1 L929.0,606.9 L929.5,604.9 L930.0,604.3 L930.5,605.5 L931.0,608.5 L931.5,613.0 L932.0,618.7 L932.5,625.4 L933.0,632.6 L933.5,640.1 L934.0,647.7 L934.5,655.0 L935.0,661.8 L935.5,667.6 L936.0,672.3 L936.5,675.6 L937.0,677.1 L937.5,676.5 L938.0,673.6 L938.5,668.7 L939.0,662.4 L939.5,655.2 L940.0,647.4 L940.5,639.5 L941.0,632.0 L941.5,625.4 L942.0,620.1 L942.5,616.5 L943.0,615.2 L943.5,616.5 L944.0,620.1 L944.5,625.8 L945.0,633.0 L945.5,641.3 L946.0,650.3 L946.5,659.5 L947.0,668.6 L947.5,677.0 L948.0,684.3 L948.5,690.2 L949.0,694.1 L949.5,695.7 L950.0,695.1 L950.5,693.2 L951.0,690.0 L951.5,685.8 L952.0,680.7 L952.5,674.9 L953.0,668.6 L953.5,661.8 L954.0,654.9 L954.5,647.8 L955.0,640.8 L955.5,634.1 L956.0,627.8 L956.5,622.1 L957.0,617.1 L957.5,613.0 L958.0,609.9 L958.5,608.1 L959.0,607.6 L959.5,609.0 L960.0,612.2 L960.5,616.9 L961.0,622.8 L961.5,629.6 L962.0,637.0 L962.5,644.6 L963.0,652.1 L963.5,659.2 L964.0,665.7 L964.5,671.1 L965.0,675.2 L965.5,677.7 L966.0,678.3 L966.5,676.9 L967.0,673.8 L967.5,669.4 L968.0,663.9 L968.5,657.5 L969.0,650.4 L969.5,643.0 L970.0,635.6 L970.5,628.2 L971.0,621.3 L971.5,615.1 L972.0,609.8 L972.5,605.7 L973.0,603.1 L973.5,602.1 L974.0,603.3 L974.5,606.8 L975.0,612.1 L975.5,618.8 L976.0,626.7 L976.5,635.4 L977.0,644.5 L977.5,653.7 L978.0,662.6 L978.5,670.8 L979.0,678.0 L979.5,683.9 L980.0,688.0 L980.5,690.1 L981.0,689.9 L981.5,687.6 L982.0,683.7 L982.5,678.5 L983.0,672.1 L983.5,664.9 L984.0,657.2 L984.5,649.3 L985.0,641.5 L985.5,634.0 L986.0,627.1 L986.5,621.2 L987.0,616.5 L987.5,613.3 L988.0,612.0 L988.5,612.7 L989.0,615.4 L989.5,619.8 L990.0,625.6 L990.5,632.5 L991.0,640.1 L991.5,648.1 L992.0,656.3 L992.5,664.3 L993.0,671.7 L993.5,678.3 L994.0,683.8 L994.5,687.7 L995.0,690.0 L995.5,690.1 L996.0,688.2 L996.5,684.6 L997.0,679.6 L997.5,673.5 L998.0,666.4 L998.5,658.8 L999.0,650.8 L999.5,642.8 L1000.0,635.1 L1000.5,627.8 L1001.0,621.3 L1001.5,615.9 L1002.0,611.8 L1002.5,609.3 L1003.0,608.7 L1003.5,610.1 L1004.0,613.2 L1004.5,617.9 L1005.0,623.7 L1005.5,630.4 L1006.0,637.8 L1006.5,645.6 L1007.0,653.6 L1007.5,661.3 L1008.0,668.6 L1008.5,675.3 L1009.0,680.9 L1009.5,685.3 L1010.0,688.1 L1010.5,689.2 L1011.0,688.4 L1011.5,686.0 L1012.0,682.3 L1012.5,677.5 L1013.0,671.8 L1013.5,665.5 L1014.0,658.9 L1014.5,652.0 L1015.0,645.3 L1015.5,638.8 L1016.0,632.9 L1016.5,627.8 L1017.0,623.7 L1017.5,620.9 L1018.0,619.6 L1018.5,620.3 L1019.0,623.6 L1019.5,629.1 L1020.0,636.3 L1020.5,644.6 L1021.0,653.6 L1021.5,662.8 L1022.0,671.7 L1022.5,679.8 L1023.0,686.6 L1023.5,691.6 L1024.0,694.3 L1024.5,694.3 L1025.0,692.3 L1025.5,688.5 L1026.0,683.3 L1026.5,676.8 L1027.0,669.4 L1027.5,661.4 L1028.0,652.9 L1028.5,644.3 L1029.0,635.9 L1029.5,627.8 L1030.0,620.3 L1030.5,613.8 L1031.0,608.5 L1031.5,604.6 L1032.0,602.5 L1032.5,602.3 L1033.0,604.0 L1033.5,607.5 L1034.0,612.3 L1034.5,618.3 L1035.0,625.1 L1035.5,632.5 L1036.0,640.2 L1036.5,648.0 L1037.0,655.6 L1037.5,662.7 L1038.0,669.1 L1038.5,674.4 L1039.0,678.4 L1039.5,680.9 L1040.0,681.6 L1040.5,680.5 L1041.0,678.2 L1041.5,674.7 L1042.0,670.3 L1042.5,665.3 L1043.0,659.9 L1043.5,654.3 L1044.0,648.8 L1044.5,643.5 L1045.0,638.7 L1045.5,634.7 L1046.0,631.6 L1046.5,629.8 L1047.0,629.4 L1047.5,631.4 L1048.0,635.6 L1048.5,641.6 L1049.0,649.0 L1049.5,657.3 L1050.0,665.9 L1050.5,674.5 L1051.0,682.5 L1051.5,689.6 L1052.0,695.2 L1052.5,698.8 L1053.0,700.1 L1053.5,699.1 L1054.0,696.3 L1054.5,692.1 L1055.0,686.6 L1055.5,680.0 L1056.0,672.6 L1056.5,664.6 L1057.0,656.3 L1057.5,647.7 L1058.0,639.3 L1058.5,631.2 L1059.0,623.5 L1059.5,616.7 L1060.0,610.8 L1060.5,606.1 L1061.0,602.8 L1061.5,601.2 L1062.0,601.2 L1062.5,602.2 L1063.0,603.9 L1063.5,606.3 L1064.0,609.3 L1064.5,612.9 L1065.0,616.9 L1065.5,621.2 L1066.0,625.9 L1066.5,630.7 L1067.0,635.6 L1067.5,642.1 L1068.0,652.2 L1068.5,662.8 L1069.0,670.2 L1069.5,671.7 L1070.0,670.4 L1070.5,667.9 L1071.0,664.4 L1071.5,660.2 L1072.0,655.6 L1072.5,650.9 L1073.0,646.4 L1073.5,642.2 L1074.0,638.7 L1074.5,636.2 L1075.0,634.9 L1075.5,635.2 L1076.0,637.3 L1076.5,641.0 L1077.0,646.0 L1077.5,652.0 L1078.0,658.8 L1078.5,666.0 L1079.0,673.3 L1079.5,680.6 L1080.0,687.4 L1080.5,693.6 L1081.0,698.7 L1081.5,702.6 L1082.0,705.0 L1082.5,705.5 L1083.0,704.2 L1083.5,701.4 L1084.0,697.3 L1084.5,692.0 L1085.0,685.7 L1085.5,678.7 L1086.0,671.1 L1086.5,663.0 L1087.0,654.8 L1087.5,646.5 L1088.0,638.4 L1088.5,630.7 L1089.0,623.5 L1089.5,617.0 L1090.0,611.5 L1090.5,607.1 L1091.0,604.0 L1091.5,602.3 L1092.0,602.4 L1092.5,604.0 L1093.0,607.0 L1093.5,611.1 L1094.0,616.1 L1094.5,621.7 L1095.0,627.7 L1095.5,633.8 L1096.0,639.7 L1096.5,645.3 L1097.0,650.2 L1097.5,654.2 L1098.0,657.1 L1098.5,658.6 L1099.0,658.6 L1099.5,658.1 L1100.0,657.2 L1100.5,655.9 L1101.0,654.4 L1101.5,652.8 L1102.0,651.0 L1102.5,649.3 L1103.0,647.6 L1103.5,646.2 L1104.0,644.9 L1104.5,644.0 L1105.0,643.5 L1105.5,643.8 L1106.0,646.0 L1106.5,649.9 L1107.0,655.3 L1107.5,661.8 L1108.0,669.0 L1108.5,676.6 L1109.0,684.1 L1109.5,691.3 L1110.0,697.8 L1110.5,703.3 L1111.0,707.3 L1111.5,709.5 L1112.0,709.7 L1112.5,708.6 L1113.0,706.4 L1113.5,703.4 L1114.0,699.7 L1114.5,695.5 L1115.0,691.1 L1115.5,686.5 L1116.0,682.0 L1116.5,677.7 L1117.0,674.0 L1117.5,670.4 L1118.0,666.9 L1118.5,663.4 L1119.0,659.8 L1119.5,656.3 L1120.0,652.7 L1120.5,649.1 L1121.0,645.5 L1121.5,641.8" stroke="#c00000" stroke-width="1.9" fill="none" stroke-linejoin="round"/>
</g>
<path d="M116.76,576.0 v4.5 M116.76,830.8 v-4.5 M145.27,576.0 v4.5 M145.27,830.8 v-4.5 M173.79,576.0 v4.5 M173.79,830.8 v-4.5 M202.30,576.0 v10.7 M202.30,830.8 v-10.7 M230.82,576.0 v4.5 M230.82,830.8 v-4.5 M259.34,576.0 v4.5 M259.34,830.8 v-4.5 M287.85,576.0 v4.5 M287.85,830.8 v-4.5 M316.37,576.0 v4.5 M316.37,830.8 v-4.5 M344.88,576.0 v10.7 M344.88,830.8 v-10.7 M373.40,576.0 v4.5 M373.40,830.8 v-4.5 M401.92,576.0 v4.5 M401.92,830.8 v-4.5 M430.43,576.0 v4.5 M430.43,830.8 v-4.5 M458.95,576.0 v4.5 M458.95,830.8 v-4.5 M487.46,576.0 v10.7 M487.46,830.8 v-10.7 M515.98,576.0 v4.5 M515.98,830.8 v-4.5 M544.50,576.0 v4.5 M544.50,830.8 v-4.5 M573.01,576.0 v4.5 M573.01,830.8 v-4.5 M601.53,576.0 v4.5 M601.53,830.8 v-4.5 M630.04,576.0 v10.7 M630.04,830.8 v-10.7 M658.56,576.0 v4.5 M658.56,830.8 v-4.5 M687.08,576.0 v4.5 M687.08,830.8 v-4.5 M715.59,576.0 v4.5 M715.59,830.8 v-4.5 M744.11,576.0 v4.5 M744.11,830.8 v-4.5 M772.62,576.0 v10.7 M772.62,830.8 v-10.7 M801.14,576.0 v4.5 M801.14,830.8 v-4.5 M829.66,576.0 v4.5 M829.66,830.8 v-4.5 M858.17,576.0 v4.5 M858.17,830.8 v-4.5 M886.69,576.0 v4.5 M886.69,830.8 v-4.5 M915.20,576.0 v10.7 M915.20,830.8 v-10.7 M943.72,576.0 v4.5 M943.72,830.8 v-4.5 M972.24,576.0 v4.5 M972.24,830.8 v-4.5 M1000.75,576.0 v4.5 M1000.75,830.8 v-4.5 M1029.27,576.0 v4.5 M1029.27,830.8 v-4.5 M1057.78,576.0 v10.7 M1057.78,830.8 v-10.7 M1086.30,576.0 v4.5 M1086.30,830.8 v-4.5 M87.6,648.80 h12 M87.6,721.60 h12 M87.6,794.40 h12" stroke="#262626" stroke-width="1.4" fill="none"/>
<rect x="87.6" y="576.0" width="1027.5" height="254.8" stroke="#262626" stroke-width="1.5" fill="none"/>
<text transform="translate(81,586.0) scale(1,1.06)" font-size="28" text-anchor="end" fill="#262626">50</text>
<text transform="translate(81,658.8) scale(1,1.06)" font-size="28" text-anchor="end" fill="#262626">0</text>
<text transform="translate(81,731.6) scale(1,1.06)" font-size="28" text-anchor="end" fill="#262626">-50</text>
<text transform="translate(81,804.4) scale(1,1.06)" font-size="28" text-anchor="end" fill="#262626">-100</text>
<text x="155" y="808.8" font-size="36" fill="#000">PM06</text>
<path d="M87.6,922.05 H1115.1 M87.6,994.85 H1115.1 M87.6,1067.65 H1115.1 M202.30,849.25 V1104.05 M344.88,849.25 V1104.05 M487.46,849.25 V1104.05 M630.04,849.25 V1104.05 M772.62,849.25 V1104.05 M915.20,849.25 V1104.05 M1057.78,849.25 V1104.05" stroke="#e3e3e3" stroke-width="1.3" fill="none"/>
<g clip-path="url(#c3)">
<path d="M86.4,964.0 L86.9,949.3 L87.4,935.9 L87.9,923.9 L88.4,911.7 L88.9,902.1 L89.4,893.6 L89.9,891.7 L90.4,885.2 L90.9,879.6 L91.4,874.8 L91.9,861.5 L92.4,867.4 L92.9,856.7 L93.4,854.7 L93.9,851.4 L94.4,850.2 L94.9,854.5 L95.4,854.0 L95.9,848.3 L96.4,848.2 L96.9,848.3 L97.4,851.7 L97.9,865.4 L98.4,875.6 L98.9,889.3 L99.4,904.8 L99.9,914.6 L100.4,931.4 L100.9,947.7 L101.4,962.7 L101.9,982.2 L102.4,993.0 L102.9,999.3 L103.4,1001.1 L103.9,996.1 L104.4,998.7 L104.9,991.3 L105.4,977.9 L105.9,967.0 L106.4,955.0 L106.9,938.9 L107.4,926.1 L107.9,914.0 L108.4,902.3 L108.9,891.9 L109.4,883.1 L109.9,888.0 L110.4,884.0 L110.9,883.2 L111.4,874.1 L111.9,885.4 L112.4,896.3 L112.9,912.1 L113.4,929.5 L113.9,948.0 L114.4,967.6 L114.9,982.8 L115.4,995.1 L115.9,997.4 L116.4,1000.4 L116.9,999.0 L117.4,999.9 L117.9,993.9 L118.4,984.6 L118.9,975.2 L119.4,962.6 L119.9,951.1 L120.4,939.0 L120.9,926.7 L121.4,917.5 L121.9,904.4 L122.4,893.2 L122.9,883.1 L123.4,874.4 L123.9,866.1 L124.4,866.5 L124.9,863.8 L125.4,862.7 L125.9,867.5 L126.4,876.3 L126.9,880.2 L127.4,896.6 L127.9,916.2 L128.4,935.2 L128.9,958.9 L129.4,969.9 L129.9,982.0 L130.4,990.7 L130.9,991.9 L131.4,991.5 L131.9,985.5 L132.4,980.7 L132.9,974.1 L133.4,969.3 L133.9,963.9 L134.4,953.8 L134.9,945.1 L135.4,934.2 L135.9,923.3 L136.4,910.0 L136.9,903.8 L137.4,894.6 L137.9,886.6 L138.4,874.4 L138.9,869.6 L139.4,866.8 L139.9,866.4 L140.4,865.0 L140.9,871.0 L141.4,885.5 L141.9,894.1 L142.4,908.2 L142.9,921.4 L143.4,935.1 L143.9,948.6 L144.4,959.8 L144.9,971.5 L145.4,983.2 L145.9,991.0 L146.4,996.0 L146.9,997.7 L147.4,998.9 L147.9,989.5 L148.4,973.9 L148.9,964.0 L149.4,957.8 L149.9,950.4 L150.4,934.7 L150.9,920.9 L151.4,907.5 L151.9,894.8 L152.4,882.3 L152.9,872.7 L153.4,865.3 L153.9,865.0 L154.4,863.7 L154.9,865.6 L155.4,869.9 L155.9,876.9 L156.4,885.9 L156.9,896.5 L157.4,910.1 L157.9,922.5 L158.4,935.1 L158.9,947.6 L159.4,959.5 L159.9,970.5 L160.4,980.0 L160.9,987.8 L161.4,985.3 L161.9,988.2 L162.4,988.0 L162.9,986.9 L163.4,980.7 L163.9,972.3 L164.4,965.3 L164.9,950.8 L165.4,936.3 L165.9,921.7 L166.4,907.8 L166.9,897.4 L167.4,886.6 L167.9,876.1 L168.4,868.1 L168.9,862.4 L169.4,870.5 L169.9,871.5 L170.4,877.8 L170.9,888.6 L171.4,892.7 L171.9,909.1 L172.4,929.6 L172.9,946.0 L173.4,962.5 L173.9,976.8 L174.4,983.7 L174.9,990.4 L175.4,998.4 L175.9,995.8 L176.4,991.5 L176.9,985.6 L177.4,977.7 L177.9,964.4 L178.4,954.2 L178.9,943.2 L179.4,931.8 L179.9,919.6 L180.4,908.3 L180.9,897.5 L181.4,887.4 L181.9,887.3 L182.4,873.5 L182.9,867.7 L183.4,863.8 L183.9,862.3 L184.4,865.7 L184.9,871.6 L185.4,881.5 L185.9,894.1 L186.4,911.0 L186.9,925.4 L187.4,936.4 L187.9,950.5 L188.4,965.5 L188.9,979.6 L189.4,978.4 L189.9,980.3 L190.4,982.9 L190.9,979.1 L191.4,974.3 L191.9,968.0 L192.4,961.2 L192.9,952.8 L193.4,946.3 L193.9,943.5 L194.4,935.9 L194.9,921.7 L195.4,907.5 L195.9,893.5 L196.4,885.5 L196.9,872.7 L197.4,865.8 L197.9,860.3 L198.4,858.2 L198.9,856.0 L199.4,862.4 L199.9,868.6 L200.4,880.3 L200.9,896.9 L201.4,915.2 L201.9,934.7 L202.4,954.0 L202.9,964.1 L203.4,978.6 L203.9,987.1 L204.4,983.4 L204.9,983.6 L205.4,983.9 L205.9,979.8 L206.4,975.0 L206.9,967.4 L207.4,961.6 L207.9,952.0 L208.4,946.5 L208.9,933.9 L209.4,923.0 L209.9,906.7 L210.4,896.0 L210.9,885.7 L211.4,877.7 L211.9,868.9 L212.4,866.5 L212.9,860.2 L213.4,855.4 L213.9,852.4 L214.4,846.5 L214.9,853.8 L215.4,868.0 L215.9,888.2 L216.4,915.9 L216.9,942.4 L217.4,965.2 L217.9,983.7 L218.4,990.1 L218.9,989.6 L219.4,984.5 L219.9,980.4 L220.4,982.7 L220.9,979.5 L221.4,971.7 L221.9,962.3 L222.4,952.8 L222.9,942.8 L223.4,925.0 L223.9,922.9 L224.4,912.7 L224.9,890.9 L225.4,881.7 L225.9,873.3 L226.4,874.2 L226.9,868.1 L227.4,863.5 L227.9,860.6 L228.4,856.7 L228.9,859.8 L229.4,878.3 L229.9,890.3 L230.4,905.0 L230.9,921.5 L231.4,932.9 L231.9,949.6 L232.4,964.9 L232.9,974.1 L233.4,983.2 L233.9,988.6 L234.4,988.3 L234.9,985.8 L235.4,981.4 L235.9,975.0 L236.4,967.8 L236.9,959.6 L237.4,946.3 L237.9,936.8 L238.4,927.0 L238.9,917.3 L239.4,913.0 L239.9,904.0 L240.4,895.8 L240.9,888.7 L241.4,882.1 L241.9,877.8 L242.4,875.3 L242.9,874.9 L243.4,882.0 L243.9,882.9 L244.4,899.2 L244.9,910.8 L245.4,923.7 L245.9,937.5 L246.4,944.9 L246.9,958.2 L247.4,970.3 L247.9,985.6 L248.4,993.3 L248.9,997.8 L249.4,996.3 L249.9,995.3 L250.4,991.0 L250.9,984.7 L251.4,975.0 L251.9,961.7 L252.4,951.4 L252.9,941.5 L253.4,934.9 L253.9,923.3 L254.4,911.8 L254.9,900.9 L255.4,886.2 L255.9,877.1 L256.4,869.4 L256.9,868.9 L257.4,869.2 L257.9,869.6 L258.4,867.0 L258.9,870.5 L259.4,878.4 L259.9,900.9 L260.4,917.7 L260.9,935.1 L261.4,951.7 L261.9,959.8 L262.4,971.1 L262.9,977.8 L263.4,979.0 L263.9,978.6 L264.4,977.2 L264.9,973.1 L265.4,968.1 L265.9,961.9 L266.4,955.1 L266.9,947.6 L267.4,939.8 L267.9,931.9 L268.4,923.9 L268.9,922.0 L269.4,914.6 L269.9,903.7 L270.4,895.8 L270.9,890.6 L271.4,886.4 L271.9,881.2 L272.4,879.8 L272.9,880.5 L273.4,884.3 L273.9,890.0 L274.4,898.4 L274.9,908.1 L275.4,918.3 L275.9,932.2 L276.4,941.5 L276.9,949.2 L277.4,948.7 L277.9,951.3 L278.4,950.9 L278.9,949.0 L279.4,948.0 L279.9,943.6 L280.4,938.3 L280.9,930.9 L281.4,924.2 L281.9,918.8 L282.4,911.4 L282.9,904.3 L283.4,896.9 L283.9,893.1 L284.4,886.5 L284.9,879.2 L285.4,874.1 L285.9,869.9 L286.4,867.0 L286.9,861.1 L287.4,861.2 L287.9,874.4 L288.4,874.1 L288.9,882.7 L289.4,893.0 L289.9,910.1 L290.4,924.5 L290.9,937.0 L291.4,940.1 L291.9,947.5 L292.4,953.3 L292.9,956.8 L293.4,968.4 L293.9,972.1 L294.4,972.4 L294.9,970.0 L295.4,963.0 L295.9,950.8 L296.4,945.7 L296.9,939.9 L297.4,941.6 L297.9,935.1 L298.4,928.4 L298.9,921.7 L299.4,921.8 L299.9,913.5 L300.4,903.0 L300.9,897.9 L301.4,890.9 L301.9,887.5 L302.4,885.1 L302.9,886.4 L303.4,889.2 L303.9,883.8 L304.4,904.4 L304.9,911.2 L305.4,909.1 L305.9,917.2 L306.4,925.3 L306.9,932.7 L307.4,944.9 L307.9,951.3 L308.4,958.8 L308.9,963.8 L309.4,960.7 L309.9,945.1 L310.4,944.3 L310.9,938.8 L311.4,932.7 L311.9,926.0 L312.4,915.8 L312.9,908.7 L313.4,901.8 L313.9,891.5 L314.4,885.3 L314.9,879.9 L315.4,875.4 L315.9,878.7 L316.4,865.9 L316.9,865.5 L317.4,867.7 L317.9,872.6 L318.4,879.6 L318.9,888.2 L319.4,895.9 L319.9,911.9 L320.4,922.9 L320.9,933.7 L321.4,941.2 L321.9,954.5 L322.4,962.3 L322.9,961.3 L323.4,964.8 L323.9,973.7 L324.4,972.5 L324.9,969.9 L325.4,966.2 L325.9,957.7 L326.4,952.2 L326.9,944.7 L327.4,938.1 L327.9,931.2 L328.4,924.6 L328.9,917.8 L329.4,916.7 L329.9,910.6 L330.4,909.1 L330.9,904.6 L331.4,898.6 L331.9,887.0 L332.4,883.5 L332.9,876.3 L333.4,879.1 L333.9,891.7 L334.4,903.8 L334.9,910.9 L335.4,917.5 L335.9,923.4 L336.4,929.2 L336.9,933.9 L337.4,939.0 L337.9,940.2 L338.4,939.5 L338.9,937.5 L339.4,934.5 L339.9,930.4 L340.4,928.3 L340.9,918.4 L341.4,912.5 L341.9,906.4 L342.4,904.4 L342.9,898.7 L343.4,895.2 L343.9,890.4 L344.4,881.2 L344.9,875.6 L345.4,872.5 L345.9,870.5 L346.4,869.8 L346.9,867.6 L347.4,871.2 L347.9,876.9 L348.4,884.2 L348.9,894.1 L349.4,903.6 L349.9,917.6 L350.4,926.6 L350.9,933.6 L351.4,943.3 L351.9,953.0 L352.4,960.7 L352.9,966.7 L353.4,972.2 L353.9,982.8 L354.4,980.2 L354.9,975.4 L355.4,964.7 L355.9,959.4 L356.4,954.2 L356.9,956.2 L357.4,949.8 L357.9,942.9 L358.4,930.7 L358.9,923.7 L359.4,916.9 L359.9,910.2 L360.4,904.4 L360.9,899.2 L361.4,897.6 L361.9,894.5 L362.4,892.8 L362.9,894.9 L363.4,896.7 L363.9,900.3 L364.4,902.5 L364.9,909.0 L365.4,915.9 L365.9,923.8 L366.4,932.0 L366.9,940.1 L367.4,950.9 L367.9,957.9 L368.4,963.9 L368.9,968.5 L369.4,969.5 L369.9,970.4 L370.4,968.8 L370.9,964.0 L371.4,957.6 L371.9,949.3 L372.4,940.5 L372.9,929.9 L373.4,917.9 L373.9,907.5 L374.4,896.4 L374.9,885.9 L375.4,876.2 L375.9,872.1 L376.4,871.3 L376.9,872.7 L377.4,868.5 L377.9,862.5 L378.4,862.9 L378.9,868.1 L379.4,874.8 L379.9,885.6 L380.4,894.4 L380.9,898.4 L381.4,908.4 L381.9,918.6 L382.4,928.7 L382.9,940.5 L383.4,956.8 L383.9,965.1 L384.4,972.4 L384.9,978.2 L385.4,974.7 L385.9,977.0 L386.4,977.1 L386.9,974.8 L387.4,970.3 L387.9,967.8 L388.4,960.1 L388.9,951.4 L389.4,942.1 L389.9,930.4 L390.4,920.9 L390.9,912.0 L391.4,904.1 L391.9,891.4 L392.4,888.3 L392.9,885.4 L393.4,885.2 L393.9,896.7 L394.4,903.2 L394.9,912.1 L395.4,922.8 L395.9,937.5 L396.4,943.7 L396.9,955.8 L397.4,967.0 L397.9,979.6 L398.4,987.0 L398.9,991.5 L399.4,988.1 L399.9,985.6 L400.4,980.4 L400.9,972.8 L401.4,966.5 L401.9,955.5 L402.4,944.4 L402.9,931.7 L403.4,918.6 L403.9,902.8 L404.4,890.9 L404.9,875.2 L405.4,866.1 L405.9,858.9 L406.4,861.8 L406.9,860.0 L407.4,860.8 L407.9,864.7 L408.4,869.6 L408.9,877.6 L409.4,887.2 L409.9,900.0 L410.4,905.0 L410.9,916.6 L411.4,928.4 L411.9,940.0 L412.4,948.2 L412.9,960.1 L413.4,968.3 L413.9,974.8 L414.4,979.0 L414.9,987.6 L415.4,986.5 L415.9,983.2 L416.4,978.0 L416.9,967.0 L417.4,958.9 L417.9,949.9 L418.4,940.3 L418.9,934.4 L419.4,920.1 L419.9,910.7 L420.4,902.1 L420.9,894.7 L421.4,887.3 L421.9,883.0 L422.4,880.7 L422.9,881.3 L423.4,888.8 L423.9,897.3 L424.4,908.6 L424.9,923.4 L425.4,937.9 L425.9,952.8 L426.4,967.9 L426.9,981.2 L427.4,992.3 L427.9,1000.6 L428.4,1006.0 L428.9,1006.3 L429.4,1006.4 L429.9,1001.8 L430.4,994.2 L430.9,986.1 L431.4,976.1 L431.9,969.1 L432.4,959.5 L432.9,944.7 L433.4,924.8 L433.9,907.0 L434.4,894.9 L434.9,887.9 L435.4,878.6 L435.9,869.5 L436.4,864.6 L436.9,858.6 L437.4,854.5 L437.9,851.0 L438.4,852.4 L438.9,858.1 L439.4,868.4 L439.9,880.9 L440.4,895.6 L440.9,914.1 L441.4,930.8 L441.9,938.7 L442.4,954.2 L442.9,968.0 L443.4,987.2 L443.9,995.2 L444.4,999.0 L444.9,998.5 L445.4,997.1 L445.9,991.1 L446.4,983.1 L446.9,973.2 L447.4,958.1 L447.9,946.0 L448.4,933.4 L448.9,921.4 L449.4,908.9 L449.9,897.1 L450.4,886.3 L450.9,883.4 L451.4,875.8 L451.9,865.8 L452.4,861.2 L452.9,862.2 L453.4,867.6 L453.9,880.6 L454.4,897.8 L454.9,922.7 L455.4,943.9 L455.9,957.8 L456.4,977.1 L456.9,998.8 L457.4,1010.6 L457.9,1016.4 L458.4,1015.2 L458.9,1011.1 L459.4,1004.9 L459.9,996.3 L460.4,981.0 L460.9,968.8 L461.4,955.8 L461.9,942.0 L462.4,934.6 L462.9,920.4 L463.4,906.6 L463.9,893.7 L464.4,874.3 L464.9,863.8 L465.4,861.6 L465.9,855.3 L466.4,851.6 L466.9,850.9 L467.4,854.0 L467.9,861.4 L468.4,872.0 L468.9,885.0 L469.4,898.3 L469.9,919.1 L470.4,940.1 L470.9,952.2 L471.4,962.8 L471.9,971.7 L472.4,980.9 L472.9,986.5 L473.4,989.6 L473.9,987.9 L474.4,984.2 L474.9,978.2 L475.4,970.6 L475.9,961.7 L476.4,946.6 L476.9,936.0 L477.4,930.7 L477.9,919.8 L478.4,909.2 L478.9,899.2 L479.4,889.3 L479.9,880.9 L480.4,874.7 L480.9,870.4 L481.4,867.7 L481.9,863.7 L482.4,865.8 L482.9,878.2 L483.4,896.1 L483.9,911.4 L484.4,928.6 L484.9,946.0 L485.4,962.7 L485.9,979.8 L486.4,993.4 L486.9,1004.4 L487.4,1007.7 L487.9,997.3 L488.4,993.7 L488.9,987.8 L489.4,980.2 L489.9,981.9 L490.4,960.0 L490.9,948.6 L491.4,936.6 L491.9,924.4 L492.4,918.6 L492.9,911.7 L493.4,900.8 L493.9,886.8 L494.4,874.4 L494.9,876.3 L495.4,871.3 L495.9,857.5 L496.4,857.6 L496.9,864.8 L497.4,868.3 L497.9,877.4 L498.4,888.4 L498.9,898.8 L499.4,912.2 L499.9,928.8 L500.4,942.4 L500.9,961.6 L501.4,973.4 L501.9,983.4 L502.4,996.4 L502.9,999.6 L503.4,1001.0 L503.9,998.8 L504.4,996.9 L504.9,988.5 L505.4,968.8 L505.9,956.5 L506.4,941.3 L506.9,923.2 L507.4,900.7 L507.9,891.8 L508.4,890.8 L508.9,880.1 L509.4,876.4 L509.9,871.6 L510.4,870.4 L510.9,864.4 L511.4,873.9 L511.9,891.0 L512.4,905.1 L512.9,915.6 L513.4,932.3 L513.9,948.8 L514.4,962.8 L514.9,976.5 L515.4,987.5 L515.9,994.8 L516.4,1003.3 L516.9,1002.1 L517.4,998.3 L517.9,994.1 L518.4,986.3 L518.9,977.1 L519.4,966.6 L519.9,947.1 L520.4,935.1 L520.9,929.6 L521.4,917.5 L521.9,905.8 L522.4,894.9 L522.9,887.6 L523.4,879.1 L523.9,872.3 L524.4,865.3 L524.9,862.8 L525.4,863.6 L525.9,870.9 L526.4,872.9 L526.9,883.5 L527.4,894.9 L527.9,914.3 L528.4,934.9 L528.9,949.5 L529.4,962.7 L529.9,973.5 L530.4,979.0 L530.9,982.4 L531.4,981.2 L531.9,978.1 L532.4,973.1 L532.9,966.4 L533.4,958.3 L533.9,943.7 L534.4,944.4 L534.9,928.5 L535.4,921.8 L535.9,911.9 L536.4,898.9 L536.9,886.9 L537.4,878.3 L537.9,879.4 L538.4,875.3 L538.9,872.1 L539.4,862.6 L539.9,868.7 L540.4,871.4 L540.9,882.7 L541.4,902.5 L541.9,918.2 L542.4,930.5 L542.9,935.8 L543.4,944.2 L543.9,957.7 L544.4,967.7 L544.9,969.3 L545.4,975.6 L545.9,979.2 L546.4,979.9 L546.9,981.0 L547.4,980.7 L547.9,973.6 L548.4,964.7 L548.9,952.0 L549.4,940.8 L549.9,929.0 L550.4,917.2 L550.9,903.7 L551.4,892.8 L551.9,883.2 L552.4,874.9 L552.9,868.6 L553.4,864.5 L553.9,863.8 L554.4,865.6 L554.9,866.0 L555.4,872.9 L555.9,888.8 L556.4,898.2 L556.9,910.1 L557.4,921.9 L557.9,926.1 L558.4,941.7 L558.9,952.3 L559.4,961.6 L559.9,969.1 L560.4,974.7 L560.9,978.4 L561.4,974.3 L561.9,971.1 L562.4,969.2 L562.9,961.0 L563.4,960.1 L563.9,950.1 L564.4,939.5 L564.9,915.4 L565.4,904.5 L565.9,894.1 L566.4,884.6 L566.9,882.5 L567.4,876.0 L567.9,871.5 L568.4,873.6 L568.9,874.9 L569.4,871.6 L569.9,880.5 L570.4,892.0 L570.9,906.1 L571.4,920.5 L571.9,936.4 L572.4,950.5 L572.9,963.3 L573.4,974.0 L573.9,988.3 L574.4,984.5 L574.9,984.5 L575.4,982.2 L575.9,985.4 L576.4,971.5 L576.9,964.2 L577.4,955.8 L577.9,952.3 L578.4,942.5 L578.9,932.4 L579.4,922.2 L579.9,913.3 L580.4,903.8 L580.9,892.3 L581.4,877.9 L581.9,871.6 L582.4,871.0 L582.9,868.1 L583.4,867.3 L583.9,868.5 L584.4,873.0 L584.9,879.7 L585.4,886.1 L585.9,895.8 L586.4,913.8 L586.9,924.8 L587.4,934.2 L587.9,944.7 L588.4,954.4 L588.9,962.7 L589.4,971.4 L589.9,975.8 L590.4,977.6 L590.9,976.5 L591.4,964.8 L591.9,958.9 L592.4,948.8 L592.9,939.8 L593.4,925.8 L593.9,920.3 L594.4,919.1 L594.9,910.0 L595.4,894.3 L595.9,885.2 L596.4,877.4 L596.9,871.4 L597.4,871.5 L597.9,870.1 L598.4,872.1 L598.9,877.9 L599.4,888.2 L599.9,893.1 L600.4,905.6 L600.9,919.0 L601.4,940.2 L601.9,953.0 L602.4,964.5 L602.9,966.3 L603.4,972.9 L603.9,976.4 L604.4,975.7 L604.9,972.7 L605.4,977.1 L605.9,970.5 L606.4,962.7 L606.9,944.3 L607.4,934.8 L607.9,930.0 L608.4,920.1 L608.9,910.5 L609.4,901.6 L609.9,887.7 L610.4,881.0 L610.9,875.9 L611.4,876.0 L611.9,875.1 L612.4,877.4 L612.9,880.4 L613.4,881.1 L613.9,891.3 L614.4,905.8 L614.9,920.6 L615.4,932.6 L615.9,943.3 L616.4,953.3 L616.9,961.3 L617.4,966.5 L617.9,974.3 L618.4,973.2 L618.9,970.3 L619.4,965.7 L619.9,964.1 L620.4,957.0 L620.9,949.0 L621.4,933.4 L621.9,920.7 L622.4,911.5 L622.9,902.5 L623.4,893.9 L623.9,888.9 L624.4,881.8 L624.9,875.8 L625.4,871.1 L625.9,874.3 L626.4,873.1 L626.9,875.1 L627.4,880.0 L627.9,887.7 L628.4,897.5 L628.9,908.3 L629.4,920.4 L629.9,932.7 L630.4,937.8 L630.9,951.5 L631.4,957.4 L631.9,962.9 L632.4,968.9 L632.9,969.5 L633.4,967.9 L633.9,971.9 L634.4,967.4 L634.9,962.0 L635.4,954.1 L635.9,947.0 L636.4,939.4 L636.9,932.2 L637.4,916.9 L637.9,909.2 L638.4,901.9 L638.9,895.4 L639.4,887.8 L639.9,883.0 L640.4,879.5 L640.9,888.2 L641.4,887.9 L641.9,890.1 L642.4,885.2 L642.9,891.5 L643.4,899.4 L643.9,908.3 L644.4,917.5 L644.9,927.5 L645.4,937.5 L645.9,946.9 L646.4,959.6 L646.9,966.9 L647.4,972.6 L647.9,976.3 L648.4,984.2 L648.9,982.8 L649.4,979.0 L649.9,968.0 L650.4,960.7 L650.9,952.0 L651.4,942.4 L651.9,935.0 L652.4,924.6 L652.9,914.4 L653.4,894.8 L653.9,885.9 L654.4,878.2 L654.9,872.0 L655.4,868.2 L655.9,868.9 L656.4,872.0 L656.9,876.6 L657.4,884.1 L657.9,894.7 L658.4,906.1 L658.9,919.4 L659.4,931.7 L659.9,943.5 L660.4,954.0 L660.9,955.8 L661.4,961.5 L661.9,963.7 L662.4,963.0 L662.9,970.8 L663.4,964.2 L663.9,959.9 L664.4,954.6 L664.9,948.3 L665.4,941.9 L665.9,935.1 L666.4,927.5 L666.9,920.6 L667.4,914.0 L667.9,907.8 L668.4,902.2 L668.9,897.3 L669.4,893.4 L669.9,897.0 L670.4,892.0 L670.9,887.3 L671.4,890.0 L671.9,895.0 L672.4,901.8 L672.9,911.2 L673.4,920.3 L673.9,926.1 L674.4,935.1 L674.9,944.4 L675.4,955.4 L675.9,964.9 L676.4,976.4 L676.9,979.9 L677.4,980.9 L677.9,974.4 L678.4,970.5 L678.9,964.7 L679.4,956.3 L679.9,947.8 L680.4,938.3 L680.9,925.0 L681.4,915.0 L681.9,911.9 L682.4,902.8 L682.9,894.1 L683.4,884.3 L683.9,876.8 L684.4,873.7 L684.9,872.9 L685.4,875.9 L685.9,885.0 L686.4,891.0 L686.9,898.4 L687.4,897.1 L687.9,917.8 L688.4,934.3 L688.9,944.9 L689.4,948.7 L689.9,946.2 L690.4,952.9 L690.9,957.9 L691.4,961.0 L691.9,965.7 L692.4,964.6 L692.9,958.2 L693.4,954.6 L693.9,950.5 L694.4,953.1 L694.9,947.3 L695.4,934.2 L695.9,929.0 L696.4,922.7 L696.9,916.6 L697.4,914.4 L697.9,909.2 L698.4,904.7 L698.9,898.4 L699.4,895.6 L699.9,894.5 L700.4,895.1 L700.9,897.6 L701.4,904.6 L701.9,903.7 L702.4,910.5 L702.9,919.3 L703.4,927.3 L703.9,935.5 L704.4,946.2 L704.9,953.7 L705.4,960.4 L705.9,966.4 L706.4,970.4 L706.9,972.6 L707.4,971.7 L707.9,969.4 L708.4,965.1 L708.9,958.4 L709.4,951.0 L709.9,945.7 L710.4,934.0 L710.9,922.0 L711.4,912.7 L711.9,903.7 L712.4,895.4 L712.9,890.4 L713.4,884.4 L713.9,880.2 L714.4,882.3 L714.9,876.6 L715.4,891.5 L715.9,896.3 L716.4,902.9 L716.9,910.8 L717.4,910.1 L717.9,923.5 L718.4,932.6 L718.9,941.3 L719.4,946.7 L719.9,951.4 L720.4,957.2 L720.9,956.1 L721.4,956.3 L721.9,955.3 L722.4,953.5 L722.9,951.7 L723.4,948.4 L723.9,944.5 L724.4,943.9 L724.9,940.3 L725.4,935.5 L725.9,930.6 L726.4,921.4 L726.9,915.6 L727.4,911.0 L727.9,906.8 L728.4,903.1 L728.9,903.2 L729.4,900.7 L729.9,898.8 L730.4,887.1 L730.9,893.5 L731.4,897.9 L731.9,906.7 L732.4,912.7 L732.9,920.7 L733.4,927.5 L733.9,933.7 L734.4,940.4 L734.9,955.7 L735.4,967.9 L735.9,967.5 L736.4,974.9 L736.9,973.4 L737.4,965.7 L737.9,957.4 L738.4,947.7 L738.9,950.8 L739.4,948.4 L739.9,942.8 L740.4,928.8 L740.9,922.2 L741.4,918.7 L741.9,914.2 L742.4,903.2 L742.9,892.7 L743.4,885.8 L743.9,879.8 L744.4,879.4 L744.9,882.4 L745.4,886.8 L745.9,891.6 L746.4,894.9 L746.9,901.7 L747.4,910.2 L747.9,913.3 L748.4,922.2 L748.9,930.7 L749.4,938.4 L749.9,949.8 L750.4,954.7 L750.9,957.4 L751.4,957.9 L751.9,952.0 L752.4,950.2 L752.9,957.1 L753.4,958.1 L753.9,958.3 L754.4,949.8 L754.9,934.5 L755.4,926.5 L755.9,921.6 L756.4,917.9 L756.9,921.0 L757.4,916.5 L757.9,912.5 L758.4,904.8 L758.9,902.7 L759.4,900.5 L759.9,902.0 L760.4,901.6 L760.9,903.1 L761.4,908.3 L761.9,910.2 L762.4,928.3 L762.9,938.2 L763.4,948.1 L763.9,957.4 L764.4,961.9 L764.9,958.8 L765.4,961.4 L765.9,963.0 L766.4,961.1 L766.9,959.8 L767.4,955.5 L767.9,950.1 L768.4,944.0 L768.9,941.9 L769.4,934.7 L769.9,927.4 L770.4,919.9 L770.9,908.4 L771.4,901.5 L771.9,895.1 L772.4,889.3 L772.9,891.8 L773.4,888.0 L773.9,885.5 L774.4,884.3 L774.9,878.2 L775.4,881.0 L775.9,885.6 L776.4,891.7 L776.9,898.3 L777.4,906.3 L777.9,919.9 L778.4,925.3 L778.9,937.1 L779.4,940.8 L779.9,952.8 L780.4,955.6 L780.9,959.5 L781.4,962.6 L781.9,962.9 L782.4,961.7 L782.9,951.3 L783.4,947.8 L783.9,952.1 L784.4,947.1 L784.9,941.5 L785.4,938.1 L785.9,924.8 L786.4,920.4 L786.9,914.6 L787.4,909.2 L787.9,904.4 L788.4,901.8 L788.9,903.9 L789.4,901.8 L789.9,900.9 L790.4,899.7 L790.9,899.6 L791.4,903.7 L791.9,909.0 L792.4,915.7 L792.9,922.8 L793.4,928.0 L793.9,936.2 L794.4,943.8 L794.9,951.1 L795.4,956.6 L795.9,962.4 L796.4,967.0 L796.9,970.2 L797.4,974.4 L797.9,971.4 L798.4,968.0 L798.9,962.4 L799.4,961.0 L799.9,952.2 L800.4,942.3 L800.9,933.4 L801.4,917.3 L801.9,907.2 L802.4,898.1 L802.9,887.7 L803.4,880.7 L803.9,874.9 L804.4,871.8 L804.9,872.4 L805.4,875.9 L805.9,883.1 L806.4,887.3 L806.9,896.7 L807.4,907.0 L807.9,922.1 L808.4,932.8 L808.9,943.1 L809.4,952.1 L809.9,957.5 L810.4,962.8 L810.9,965.5 L811.4,965.5 L811.9,967.2 L812.4,964.5 L812.9,960.1 L813.4,955.5 L813.9,950.3 L814.4,943.9 L814.9,937.7 L815.4,931.3 L815.9,924.9 L816.4,916.0 L816.9,909.5 L817.4,903.7 L817.9,898.4 L818.4,893.4 L818.9,893.9 L819.4,891.2 L819.9,889.7 L820.4,889.5 L820.9,892.4 L821.4,895.6 L821.9,900.0 L822.4,900.4 L822.9,906.5 L823.4,913.0 L823.9,919.6 L824.4,932.0 L824.9,937.7 L825.4,935.6 L825.9,939.3 L826.4,944.9 L826.9,943.6 L827.4,946.3 L827.9,943.1 L828.4,941.2 L828.9,934.2 L829.4,938.5 L829.9,928.7 L830.4,906.7 L830.9,888.0 L831.4,890.3 L831.9,891.6 L832.4,882.9 L832.9,886.8 L833.4,875.7 L833.9,881.3 L834.4,877.7 L834.9,884.2 L835.4,857.3 L835.9,850.7 L836.4,883.5 L836.9,910.1 L837.4,914.7 L837.9,933.4 L838.4,942.2 L838.9,966.9 L839.4,960.2 L839.9,963.5 L840.4,966.5 L840.9,973.3 L841.4,973.9 L841.9,974.4 L842.4,973.3 L842.9,966.2 L843.4,961.6 L843.9,958.2 L844.4,949.2 L844.9,936.6 L845.4,921.7 L845.9,906.0 L846.4,894.7 L846.9,887.2 L847.4,882.9 L847.9,886.5 L848.4,857.3 L848.9,850.7 L849.4,883.5 L849.9,879.4 L850.4,876.3 L850.9,887.2 L851.4,888.8 L851.9,914.4 L852.4,883.5 L852.9,850.7 L853.4,881.3 L853.9,914.0 L854.4,946.8 L854.9,979.6 L855.4,999.2 L855.9,966.5 L856.4,960.7 L856.9,959.3 L857.4,959.1 L857.9,941.3 L858.4,917.1 L858.9,909.9 L859.4,932.7 L859.9,946.1 L860.4,929.3 L860.9,896.6 L861.4,863.8 L861.9,844.2 L862.4,870.9 L862.9,860.6 L863.4,858.2 L863.9,859.3 L864.4,868.6 L864.9,874.3 L865.4,880.5 L865.9,888.3 L866.4,899.3 L866.9,903.1 L867.4,870.4 L867.9,837.6 L868.4,870.4 L868.9,903.1 L869.4,935.9 L869.9,968.6 L870.4,978.7 L870.9,980.5 L871.4,975.8 L871.9,965.7 L872.4,967.2 L872.9,973.2 L873.4,951.5 L873.9,925.2 L874.4,919.7 L874.9,915.8 L875.4,910.8 L875.9,912.2 L876.4,900.0 L876.9,911.3 L877.4,896.6 L877.9,863.8 L878.4,844.2 L878.9,876.9 L879.4,885.8 L879.9,879.2 L880.4,879.7 L880.9,878.1 L881.4,898.8 L881.9,917.1 L882.4,931.3 L882.9,941.9 L883.4,925.8 L883.9,910.6 L884.4,926.3 L884.9,949.4 L885.4,955.6 L885.9,957.6 L886.4,950.6 L886.9,947.7 L887.4,959.6 L887.9,955.8 L888.4,945.8 L888.9,927.5 L889.4,912.3 L889.9,873.6 L890.4,844.8 L890.9,854.7 L891.4,878.6 L891.9,873.9 L892.4,870.4 L892.9,837.6 L893.4,863.0 L893.9,869.2 L894.4,869.2 L894.9,879.0 L895.4,875.1 L895.9,890.0 L896.4,905.1 L896.9,923.9 L897.4,950.0 L897.9,963.5 L898.4,965.6 L898.9,974.4 L899.4,976.0 L899.9,977.5 L900.4,979.3 L900.9,980.5 L901.4,983.4 L901.9,976.1 L902.4,958.5 L902.9,953.6 L903.4,940.8 L903.9,935.1 L904.4,922.4 L904.9,912.9 L905.4,900.8 L905.9,901.7 L906.4,884.9 L906.9,886.0 L907.4,876.0 L907.9,857.3 L908.4,850.7 L908.9,867.5 L909.4,885.9 L909.9,887.8 L910.4,884.7 L910.9,901.3 L911.4,920.3 L911.9,952.1 L912.4,980.2 L912.9,982.4 L913.4,969.4 L913.9,988.0 L914.4,1006.2 L914.9,989.5 L915.4,956.7 L915.9,932.7 L916.4,937.7 L916.9,954.8 L917.4,938.0 L917.9,928.2 L918.4,915.2 L918.9,909.9 L919.4,910.2 L919.9,871.0 L920.4,831.4 L920.9,855.2 L921.4,870.6 L921.9,863.8 L922.4,844.2 L922.9,849.0 L923.4,833.5 L923.9,813.4 L924.4,851.7 L924.9,881.9 L925.4,893.3 L925.9,903.9 L926.4,913.4 L926.9,925.3 L927.4,947.7 L927.9,982.8 L928.4,1002.3 L928.9,983.1 L929.4,985.3 L929.9,997.5 L930.4,1001.0 L930.9,994.8 L931.4,975.2 L931.9,958.6 L932.4,958.9 L932.9,956.6 L933.4,941.7 L933.9,928.7 L934.4,933.4 L934.9,929.4 L935.4,902.0 L935.9,885.7 L936.4,881.9 L936.9,883.5 L937.4,850.7 L937.9,857.3 L938.4,884.9 L938.9,887.1 L939.4,891.4 L939.9,903.3 L940.4,918.3 L940.9,929.6 L941.4,942.5 L941.9,962.9 L942.4,981.2 L942.9,986.8 L943.4,987.9 L943.9,974.6 L944.4,973.7 L944.9,966.8 L945.4,961.7 L945.9,961.8 L946.4,952.6 L946.9,938.4 L947.4,927.6 L947.9,916.5 L948.4,905.4 L948.9,893.1 L949.4,883.0 L949.9,873.7 L950.4,850.7 L950.9,857.3 L951.4,851.0 L951.9,848.3 L952.4,848.1 L952.9,855.2 L953.4,865.1 L953.9,877.7 L954.4,886.4 L954.9,899.4 L955.4,913.5 L955.9,931.0 L956.4,947.5 L956.9,959.7 L957.4,971.3 L957.9,981.5 L958.4,989.5 L958.9,998.0 L959.4,999.6 L959.9,997.7 L960.4,991.5 L960.9,984.6 L961.4,975.7 L961.9,966.7 L962.4,955.1 L962.9,942.7 L963.4,926.3 L963.9,913.5 L964.4,901.1 L964.9,887.3 L965.4,878.7 L965.9,869.6 L966.4,862.6 L966.9,844.2 L967.4,856.2 L967.9,856.8 L968.4,862.0 L968.9,870.3 L969.4,884.6 L969.9,897.2 L970.4,911.2 L970.9,925.8 L971.4,943.6 L971.9,955.5 L972.4,968.9 L972.9,979.0 L973.4,988.5 L973.9,996.8 L974.4,1004.4 L974.9,1004.0 L975.4,994.2 L975.9,987.5 L976.4,978.3 L976.9,962.1 L977.4,949.5 L977.9,940.9 L978.4,926.8 L978.9,912.3 L979.4,898.6 L979.9,885.9 L980.4,870.9 L980.9,861.5 L981.4,854.5 L981.9,850.3 L982.4,849.0 L982.9,852.5 L983.4,859.9 L983.9,872.2 L984.4,891.8 L984.9,906.1 L985.4,921.6 L985.9,937.2 L986.4,952.3 L986.9,964.8 L987.4,976.4 L987.9,981.6 L988.4,986.8 L988.9,990.6 L989.4,980.3 L989.9,974.5 L990.4,966.2 L990.9,955.8 L991.4,947.5 L991.9,934.6 L992.4,921.0 L992.9,917.9 L993.4,904.7 L993.9,892.4 L994.4,881.6 L994.9,858.9 L995.4,852.4 L995.9,848.7 L996.4,848.6 L996.9,854.0 L997.4,864.7 L997.9,879.7 L998.4,896.9 L998.9,915.7 L999.4,942.8 L999.9,961.0 L1000.4,977.1 L1000.9,988.6 L1001.4,994.5 L1001.9,997.3 L1002.4,996.0 L1002.9,995.9 L1003.4,990.4 L1003.9,974.9 L1004.4,964.1 L1004.9,956.4 L1005.4,951.7 L1005.9,943.3 L1006.4,932.7 L1006.9,930.9 L1007.4,908.8 L1007.9,898.9 L1008.4,895.0 L1008.9,886.9 L1009.4,880.0 L1009.9,874.7 L1010.4,868.1 L1010.9,866.7 L1011.4,867.4 L1011.9,871.5 L1012.4,873.9 L1012.9,882.8 L1013.4,893.5 L1013.9,905.3 L1014.4,917.8 L1014.9,930.5 L1015.4,954.3 L1015.9,960.3 L1016.4,970.4 L1016.9,978.8 L1017.4,986.3 L1017.9,992.5 L1018.4,992.5 L1018.9,989.2 L1019.4,983.2 L1019.9,973.6 L1020.4,958.0 L1020.9,946.4 L1021.4,933.9 L1021.9,920.9 L1022.4,908.9 L1022.9,900.1 L1023.4,888.2 L1023.9,877.6 L1024.4,868.1 L1024.9,859.4 L1025.4,855.3 L1025.9,854.2 L1026.4,856.9 L1026.9,864.1 L1027.4,879.5 L1027.9,891.2 L1028.4,904.6 L1028.9,920.1 L1029.4,929.1 L1029.9,946.3 L1030.4,958.8 L1030.9,973.4 L1031.4,984.0 L1031.9,991.4 L1032.4,997.4 L1032.9,1001.1 L1033.4,997.9 L1033.9,993.5 L1034.4,982.1 L1034.9,978.2 L1035.4,967.5 L1035.9,955.8 L1036.4,943.3 L1036.9,935.7 L1037.4,915.3 L1037.9,903.4 L1038.4,892.7 L1038.9,883.5 L1039.4,877.1 L1039.9,872.5 L1040.4,870.9 L1040.9,874.4 L1041.4,880.2 L1041.9,889.0 L1042.4,903.7 L1042.9,913.4 L1043.4,926.5 L1043.9,939.5 L1044.4,946.9 L1044.9,957.5 L1045.4,965.6 L1045.9,978.7 L1046.4,979.9 L1046.9,978.3 L1047.4,974.6 L1047.9,966.0 L1048.4,959.1 L1048.9,951.0 L1049.4,940.6 L1049.9,931.3 L1050.4,918.5 L1050.9,904.7 L1051.4,892.8 L1051.9,885.8 L1052.4,877.9 L1052.9,870.5 L1053.4,866.9 L1053.9,863.8 L1054.4,860.3 L1054.9,859.6 L1055.4,861.0 L1055.9,859.2 L1056.4,873.3 L1056.9,884.7 L1057.4,897.9 L1057.9,909.7 L1058.4,924.7 L1058.9,939.4 L1059.4,958.0 L1059.9,970.3 L1060.4,980.3 L1060.9,987.2 L1061.4,986.3 L1061.9,985.8 L1062.4,983.4 L1062.9,979.2 L1063.4,975.7 L1063.9,968.9 L1064.4,961.1 L1064.9,952.6 L1065.4,943.6 L1065.9,939.0 L1066.4,925.9 L1066.9,919.9 L1067.4,911.4 L1067.9,906.6 L1068.4,899.9 L1068.9,885.8 L1069.4,881.7 L1069.9,879.4 L1070.4,879.1 L1070.9,887.4 L1071.4,892.7 L1071.9,900.3 L1072.4,908.5 L1072.9,918.6 L1073.4,929.2 L1073.9,937.9 L1074.4,947.6 L1074.9,956.1 L1075.4,962.7 L1075.9,969.6 L1076.4,971.0 L1076.9,968.5 L1077.4,965.2 L1077.9,960.1 L1078.4,953.7 L1078.9,941.0 L1079.4,932.5 L1079.9,923.5 L1080.4,914.1 L1080.9,904.0 L1081.4,892.5 L1081.9,883.9 L1082.4,876.1 L1082.9,867.8 L1083.4,862.4 L1083.9,859.6 L1084.4,857.7 L1084.9,858.2 L1085.4,870.6 L1085.9,877.9 L1086.4,887.8 L1086.9,898.1 L1087.4,911.1 L1087.9,924.8 L1088.4,932.8 L1088.9,946.6 L1089.4,962.2 L1089.9,971.9 L1090.4,974.3 L1090.9,978.0 L1091.4,978.2 L1091.9,979.1 L1092.4,975.5 L1092.9,970.0 L1093.4,963.7 L1093.9,956.6 L1094.4,948.7 L1094.9,944.3 L1095.4,935.7 L1095.9,927.1 L1096.4,918.8 L1096.9,903.8 L1097.4,900.0 L1097.9,899.3 L1098.4,894.4 L1098.9,890.8 L1099.4,889.0 L1099.9,883.5 L1100.4,886.4 L1100.9,891.6 L1101.4,898.5 L1101.9,908.4 L1102.4,917.0 L1102.9,927.9 L1103.4,936.1 L1103.9,943.4 L1104.4,949.0 L1104.9,944.0 L1105.4,944.9 L1105.9,949.1 L1106.4,946.7 L1106.9,943.1 L1107.4,944.0 L1107.9,937.4 L1108.4,927.6 L1108.9,921.1 L1109.4,914.4 L1109.9,907.5 L1110.4,899.9 L1110.9,898.4 L1111.4,893.7 L1111.9,886.3 L1112.4,879.7 L1112.9,878.4 L1113.4,876.0 L1113.9,875.0 L1114.4,875.1 L1114.9,869.3 L1115.4,876.4 L1115.9,877.7 L1116.4,871.6 L1116.9,873.8 L1117.4,876.5 L1117.9,879.7 L1118.4,891.5 L1118.9,895.6 L1119.4,900.2 L1119.9,901.4 L1120.4,905.4 L1120.9,911.6" stroke="#1a0ac8" stroke-width="1.7" fill="none" stroke-linejoin="round"/>
<path d="M87.0,962.2 L87.5,949.1 L88.0,937.3 L88.5,926.7 L89.0,917.4 L89.5,909.2 L90.0,902.0 L90.5,895.9 L91.0,890.6 L91.5,886.1 L92.0,882.5 L92.5,879.5 L93.0,877.1 L93.5,875.3 L94.0,874.0 L94.5,873.0 L95.0,872.4 L95.5,872.1 L96.0,871.9 L96.5,871.9 L97.0,872.3 L97.5,877.3 L98.0,886.8 L98.5,899.6 L99.0,914.7 L99.5,931.0 L100.0,947.4 L100.5,962.6 L101.0,975.7 L101.5,985.5 L102.0,990.9 L102.5,991.3 L103.0,989.4 L103.5,985.8 L104.0,980.8 L104.5,974.5 L105.0,967.2 L105.5,959.1 L106.0,950.4 L106.5,941.3 L107.0,932.1 L107.5,923.0 L108.0,914.2 L108.5,906.0 L109.0,898.4 L109.5,891.8 L110.0,886.4 L110.5,882.4 L111.0,880.1 L111.5,879.6 L112.0,882.2 L112.5,888.0 L113.0,896.2 L113.5,906.3 L114.0,917.6 L114.5,929.4 L115.0,941.2 L115.5,952.2 L116.0,961.9 L116.5,969.6 L117.0,974.6 L117.5,976.3 L118.0,975.2 L118.5,971.9 L119.0,966.8 L119.5,960.3 L120.0,952.5 L120.5,943.9 L121.0,934.5 L121.5,924.9 L122.0,915.1 L122.5,905.6 L123.0,896.6 L123.5,888.3 L124.0,881.1 L124.5,875.3 L125.0,871.2 L125.5,868.9 L126.0,869.2 L126.5,873.8 L127.0,882.2 L127.5,893.6 L128.0,907.1 L128.5,921.9 L129.0,937.0 L129.5,951.5 L130.0,964.7 L130.5,975.6 L131.0,983.3 L131.5,987.0 L132.0,986.7 L132.5,984.1 L133.0,979.8 L133.5,973.9 L134.0,966.8 L134.5,958.6 L135.0,949.7 L135.5,940.2 L136.0,930.5 L136.5,920.8 L137.0,911.4 L137.5,902.5 L138.0,894.3 L138.5,887.2 L139.0,881.3 L139.5,877.1 L140.0,874.6 L140.5,874.2 L141.0,877.6 L141.5,884.6 L142.0,894.3 L142.5,906.1 L143.0,919.0 L143.5,932.5 L144.0,945.6 L144.5,957.6 L145.0,967.7 L145.5,975.1 L146.0,979.1 L146.5,979.3 L147.0,977.1 L147.5,973.2 L148.0,967.6 L148.5,960.7 L149.0,952.8 L149.5,944.1 L150.0,934.8 L150.5,925.2 L151.0,915.6 L151.5,906.1 L152.0,897.2 L152.5,889.0 L153.0,881.7 L153.5,875.7 L154.0,871.1 L154.5,868.3 L155.0,867.5 L155.5,870.2 L156.0,876.6 L156.5,885.9 L157.0,897.5 L157.5,910.6 L158.0,924.4 L158.5,938.2 L159.0,951.2 L159.5,962.8 L160.0,972.0 L160.5,978.2 L161.0,980.7 L161.5,979.9 L162.0,977.3 L162.5,973.1 L163.0,967.6 L163.5,960.9 L164.0,953.3 L164.5,945.0 L165.0,936.2 L165.5,927.2 L166.0,918.1 L166.5,909.2 L167.0,900.7 L167.5,892.7 L168.0,885.6 L168.5,879.6 L169.0,874.8 L169.5,871.4 L170.0,869.8 L170.5,870.8 L171.0,876.4 L171.5,886.1 L172.0,898.8 L172.5,913.4 L173.0,929.1 L173.5,944.8 L174.0,959.6 L174.5,972.4 L175.0,982.2 L175.5,988.1 L176.0,989.3 L176.5,987.5 L177.0,983.6 L177.5,978.1 L178.0,971.0 L178.5,962.8 L179.0,953.6 L179.5,943.8 L180.0,933.7 L180.5,923.4 L181.0,913.2 L181.5,903.5 L182.0,894.5 L182.5,886.5 L183.0,879.8 L183.5,874.5 L184.0,871.1 L184.5,869.7 L185.0,871.4 L185.5,877.1 L186.0,886.0 L186.5,897.3 L187.0,910.1 L187.5,923.7 L188.0,937.3 L188.5,950.1 L189.0,961.3 L189.5,970.1 L190.0,975.8 L190.5,977.4 L191.0,976.3 L191.5,973.4 L192.0,969.1 L192.5,963.5 L193.0,956.8 L193.5,949.2 L194.0,941.0 L194.5,932.4 L195.0,923.5 L195.5,914.5 L196.0,905.7 L196.5,897.2 L197.0,889.4 L197.5,882.3 L198.0,876.1 L198.5,871.2 L199.0,867.6 L199.5,865.7 L200.0,865.9 L200.5,871.4 L201.0,881.9 L201.5,896.0 L202.0,912.5 L202.5,930.0 L203.0,947.3 L203.5,963.1 L204.0,976.0 L204.5,984.9 L205.0,988.3 L205.5,987.5 L206.0,984.9 L206.5,980.8 L207.0,975.3 L207.5,968.8 L208.0,961.3 L208.5,953.1 L209.0,944.4 L209.5,935.4 L210.0,926.4 L210.5,917.4 L211.0,908.8 L211.5,900.8 L212.0,893.4 L212.5,887.1 L213.0,881.8 L213.5,878.0 L214.0,875.7 L214.5,875.3 L215.0,878.9 L215.5,886.8 L216.0,897.7 L216.5,910.6 L217.0,924.4 L217.5,937.9 L218.0,950.1 L218.5,959.8 L219.0,966.0 L219.5,967.6 L220.0,966.5 L220.5,963.9 L221.0,960.1 L221.5,955.1 L222.0,949.3 L222.5,942.6 L223.0,935.4 L223.5,927.8 L224.0,920.0 L224.5,912.1 L225.0,904.3 L225.5,896.7 L226.0,889.7 L226.5,883.2 L227.0,877.6 L227.5,872.9 L228.0,869.4 L228.5,867.1 L229.0,866.4 L229.5,869.2 L230.0,876.5 L230.5,887.2 L231.0,900.4 L231.5,915.2 L232.0,930.6 L232.5,945.6 L233.0,959.3 L233.5,970.6 L234.0,978.8 L234.5,982.7 L235.0,982.4 L235.5,980.1 L236.0,976.3 L236.5,971.1 L237.0,964.8 L237.5,957.6 L238.0,949.6 L238.5,941.3 L239.0,932.7 L239.5,924.1 L240.0,915.8 L240.5,907.9 L241.0,900.7 L241.5,894.4 L242.0,889.2 L242.5,885.4 L243.0,883.2 L243.5,882.9 L244.0,885.4 L244.5,890.5 L245.0,897.6 L245.5,906.2 L246.0,915.7 L246.5,925.6 L247.0,935.1 L247.5,943.9 L248.0,951.3 L248.5,956.8 L249.0,959.7 L249.5,959.8 L250.0,958.2 L250.5,955.4 L251.0,951.3 L251.5,946.3 L252.0,940.5 L252.5,934.0 L253.0,927.1 L253.5,919.8 L254.0,912.4 L254.5,905.1 L255.0,897.9 L255.5,891.1 L256.0,884.8 L256.5,879.3 L257.0,874.6 L257.5,871.0 L258.0,868.6 L258.5,867.5 L259.0,869.4 L259.5,876.2 L260.0,887.0 L260.5,900.5 L261.0,915.6 L261.5,931.1 L262.0,946.0 L262.5,959.1 L263.0,969.2 L263.5,975.2 L264.0,976.2 L264.5,975.0 L265.0,972.5 L265.5,968.9 L266.0,964.4 L266.5,959.0 L267.0,953.0 L267.5,946.5 L268.0,939.7 L268.5,932.8 L269.0,925.8 L269.5,919.1 L270.0,912.6 L270.5,906.6 L271.0,901.2 L271.5,896.7 L272.0,893.1 L272.5,890.6 L273.0,889.4 L273.5,889.9 L274.0,893.2 L274.5,898.8 L275.0,906.0 L275.5,914.3 L276.0,923.1 L276.5,931.8 L277.0,939.7 L277.5,946.4 L278.0,951.1 L278.5,953.4 L279.0,953.1 L279.5,951.4 L280.0,948.6 L280.5,944.7 L281.0,940.0 L281.5,934.6 L282.0,928.7 L282.5,922.4 L283.0,915.8 L283.5,909.2 L284.0,902.7 L284.5,896.5 L285.0,890.6 L285.5,885.4 L286.0,880.8 L286.5,877.2 L287.0,874.6 L287.5,873.2 L288.0,873.3 L288.5,876.2 L289.0,881.7 L289.5,889.3 L290.0,898.5 L290.5,908.7 L291.0,919.5 L291.5,930.3 L292.0,940.6 L292.5,950.0 L293.0,957.8 L293.5,963.7 L294.0,967.0 L294.5,967.5 L295.0,966.5 L295.5,964.4 L296.0,961.4 L296.5,957.6 L297.0,953.2 L297.5,948.2 L298.0,942.9 L298.5,937.3 L299.0,931.5 L299.5,925.8 L300.0,920.2 L300.5,914.9 L301.0,910.0 L301.5,905.6 L302.0,901.8 L302.5,898.9 L303.0,896.8 L303.5,895.9 L304.0,896.3 L304.5,899.0 L305.0,903.3 L305.5,909.0 L306.0,915.5 L306.5,922.4 L307.0,929.1 L307.5,935.3 L308.0,940.5 L308.5,944.1 L309.0,945.8 L309.5,945.4 L310.0,943.7 L310.5,940.7 L311.0,936.8 L311.5,932.0 L312.0,926.6 L312.5,920.8 L313.0,914.7 L313.5,908.5 L314.0,902.3 L314.5,896.5 L315.0,891.1 L315.5,886.4 L316.0,882.4 L316.5,879.5 L317.0,877.7 L317.5,877.4 L318.0,879.3 L318.5,883.5 L319.0,889.6 L319.5,897.2 L320.0,905.9 L320.5,915.3 L321.0,925.0 L321.5,934.6 L322.0,943.7 L322.5,951.9 L323.0,958.7 L323.5,963.9 L324.0,967.0 L324.5,967.6 L325.0,966.6 L325.5,964.4 L326.0,961.2 L326.5,957.2 L327.0,952.5 L327.5,947.3 L328.0,941.6 L328.5,935.8 L329.0,929.9 L329.5,924.1 L330.0,918.6 L330.5,913.4 L331.0,908.8 L331.5,904.9 L332.0,901.9 L332.5,899.9 L333.0,899.1 L333.5,899.8 L334.0,902.1 L334.5,905.8 L335.0,910.4 L335.5,915.6 L336.0,921.0 L336.5,926.2 L337.0,930.9 L337.5,934.7 L338.0,937.3 L338.5,938.3 L339.0,937.7 L339.5,936.0 L340.0,933.4 L340.5,930.1 L341.0,926.0 L341.5,921.5 L342.0,916.6 L342.5,911.5 L343.0,906.3 L343.5,901.2 L344.0,896.3 L344.5,891.8 L345.0,887.7 L345.5,884.3 L346.0,881.7 L346.5,880.1 L347.0,879.5 L347.5,880.6 L348.0,883.7 L348.5,888.6 L349.0,894.9 L349.5,902.3 L350.0,910.4 L350.5,919.1 L351.0,928.0 L351.5,936.8 L352.0,945.1 L352.5,952.7 L353.0,959.3 L353.5,964.5 L354.0,968.1 L354.5,969.7 L355.0,969.4 L355.5,967.8 L356.0,965.1 L356.5,961.5 L357.0,957.1 L357.5,952.0 L358.0,946.5 L358.5,940.7 L359.0,934.7 L359.5,928.7 L360.0,922.9 L360.5,917.5 L361.0,912.5 L361.5,908.1 L362.0,904.5 L362.5,901.9 L363.0,900.5 L363.5,900.3 L364.0,901.8 L364.5,904.8 L365.0,908.9 L365.5,913.9 L366.0,919.2 L366.5,924.5 L367.0,929.6 L367.5,933.9 L368.0,937.2 L368.5,939.0 L369.0,939.2 L369.5,938.3 L370.0,936.4 L370.5,933.7 L371.0,930.3 L371.5,926.3 L372.0,922.0 L372.5,917.2 L373.0,912.3 L373.5,907.3 L374.0,902.4 L374.5,897.6 L375.0,893.1 L375.5,888.9 L376.0,885.3 L376.5,882.3 L377.0,880.1 L377.5,878.8 L378.0,878.4 L378.5,880.2 L379.0,884.3 L379.5,890.4 L380.0,898.0 L380.5,906.9 L381.0,916.5 L381.5,926.5 L382.0,936.6 L382.5,946.3 L383.0,955.2 L383.5,962.9 L384.0,969.1 L384.5,973.3 L385.0,975.2 L385.5,974.8 L386.0,972.9 L386.5,969.8 L387.0,965.6 L387.5,960.6 L388.0,954.8 L388.5,948.5 L389.0,941.8 L389.5,935.0 L390.0,928.2 L390.5,921.6 L391.0,915.4 L391.5,909.7 L392.0,904.7 L392.5,900.7 L393.0,897.8 L393.5,896.1 L394.0,896.0 L394.5,897.9 L395.0,901.6 L395.5,906.7 L396.0,912.7 L396.5,919.2 L397.0,925.8 L397.5,931.9 L398.0,937.2 L398.5,941.1 L399.0,943.4 L399.5,943.5 L400.0,942.2 L400.5,939.7 L401.0,936.1 L401.5,931.7 L402.0,926.7 L402.5,921.1 L403.0,915.3 L403.5,909.3 L404.0,903.3 L404.5,897.6 L405.0,892.2 L405.5,887.4 L406.0,883.3 L406.5,880.2 L407.0,878.1 L407.5,877.3 L408.0,878.8 L408.5,883.3 L409.0,890.4 L409.5,899.5 L410.0,910.0 L410.5,921.4 L411.0,933.1 L411.5,944.6 L412.0,955.3 L412.5,964.7 L413.0,972.3 L413.5,977.4 L414.0,979.6 L414.5,979.0 L415.0,977.0 L415.5,973.7 L416.0,969.4 L416.5,964.0 L417.0,958.0 L417.5,951.3 L418.0,944.3 L418.5,937.1 L419.0,929.7 L419.5,922.6 L420.0,915.7 L420.5,909.3 L421.0,903.5 L421.5,898.6 L422.0,894.7 L422.5,891.9 L423.0,890.5 L423.5,890.7 L424.0,893.1 L424.5,897.2 L425.0,902.8 L425.5,909.3 L426.0,916.4 L426.5,923.8 L427.0,930.9 L427.5,937.5 L428.0,943.1 L428.5,947.3 L429.0,949.8 L429.5,950.1 L430.0,948.7 L430.5,945.8 L431.0,941.7 L431.5,936.6 L432.0,930.7 L432.5,924.2 L433.0,917.4 L433.5,910.4 L434.0,903.5 L434.5,896.9 L435.0,890.8 L435.5,885.4 L436.0,880.9 L436.5,877.6 L437.0,875.6 L437.5,875.3 L438.0,878.5 L438.5,885.5 L439.0,895.2 L439.5,907.0 L440.0,920.1 L440.5,933.7 L441.0,946.9 L441.5,959.1 L442.0,969.4 L442.5,977.1 L443.0,981.2 L443.5,981.6 L444.0,980.0 L444.5,977.1 L445.0,973.0 L445.5,967.8 L446.0,961.8 L446.5,955.2 L447.0,948.0 L447.5,940.5 L448.0,932.8 L448.5,925.2 L449.0,917.8 L449.5,910.7 L450.0,904.2 L450.5,898.4 L451.0,893.5 L451.5,889.7 L452.0,887.2 L452.5,886.0 L453.0,886.9 L453.5,890.6 L454.0,896.4 L454.5,904.0 L455.0,912.7 L455.5,922.0 L456.0,931.4 L456.5,940.3 L457.0,948.2 L457.5,954.4 L458.0,958.6 L458.5,960.0 L459.0,959.1 L459.5,956.5 L460.0,952.4 L460.5,947.1 L461.0,940.9 L461.5,933.8 L462.0,926.3 L462.5,918.5 L463.0,910.6 L463.5,902.9 L464.0,895.6 L464.5,889.0 L465.0,883.1 L465.5,878.4 L466.0,875.0 L466.5,873.2 L467.0,873.4 L467.5,877.3 L468.0,884.5 L468.5,894.4 L469.0,906.1 L469.5,919.0 L470.0,932.3 L470.5,945.4 L471.0,957.5 L471.5,967.9 L472.0,975.9 L472.5,980.7 L473.0,981.7 L473.5,980.4 L474.0,977.5 L474.5,973.3 L475.0,967.9 L475.5,961.6 L476.0,954.5 L476.5,946.9 L477.0,938.9 L477.5,930.7 L478.0,922.5 L478.5,914.6 L479.0,907.0 L479.5,900.1 L480.0,894.0 L480.5,888.9 L481.0,885.0 L481.5,882.5 L482.0,881.7 L482.5,883.3 L483.0,887.9 L483.5,894.9 L484.0,903.7 L484.5,913.8 L485.0,924.5 L485.5,935.3 L486.0,945.5 L486.5,954.7 L487.0,962.2 L487.5,967.4 L488.0,969.7 L488.5,969.1 L489.0,966.5 L489.5,962.0 L490.0,956.1 L490.5,949.0 L491.0,941.0 L491.5,932.3 L492.0,923.3 L492.5,914.2 L493.0,905.3 L493.5,896.9 L494.0,889.2 L494.5,882.6 L495.0,877.4 L495.5,873.7 L496.0,872.0 L496.5,872.9 L497.0,877.8 L497.5,886.0 L498.0,896.9 L498.5,909.4 L499.0,922.9 L499.5,936.6 L500.0,949.6 L500.5,961.3 L501.0,970.7 L501.5,977.0 L502.0,979.6 L502.5,978.8 L503.0,976.2 L503.5,972.1 L504.0,966.7 L504.5,960.2 L505.0,952.8 L505.5,944.8 L506.0,936.4 L506.5,927.8 L507.0,919.2 L507.5,910.9 L508.0,903.1 L508.5,896.1 L509.0,890.0 L509.5,885.1 L510.0,881.6 L510.5,879.7 L511.0,879.9 L511.5,883.5 L512.0,890.0 L512.5,898.8 L513.0,909.3 L513.5,920.8 L514.0,932.7 L514.5,944.3 L515.0,955.0 L515.5,964.2 L516.0,971.2 L516.5,975.4 L517.0,976.3 L517.5,974.7 L518.0,971.4 L518.5,966.5 L519.0,960.4 L519.5,953.2 L520.0,945.2 L520.5,936.7 L521.0,927.8 L521.5,918.8 L522.0,909.9 L522.5,901.5 L523.0,893.6 L523.5,886.6 L524.0,880.7 L524.5,876.1 L525.0,873.1 L525.5,871.9 L526.0,873.4 L526.5,878.5 L527.0,886.4 L527.5,896.6 L528.0,908.3 L528.5,920.8 L529.0,933.5 L529.5,945.6 L530.0,956.5 L530.5,965.5 L531.0,971.9 L531.5,975.1 L532.0,974.8 L532.5,972.7 L533.0,969.0 L533.5,964.0 L534.0,957.8 L534.5,950.8 L535.0,943.0 L535.5,934.9 L536.0,926.5 L536.5,918.1 L537.0,909.9 L537.5,902.1 L538.0,895.1 L538.5,888.9 L539.0,883.8 L539.5,880.0 L540.0,877.8 L540.5,877.5 L541.0,880.5 L541.5,887.0 L542.0,896.2 L542.5,907.3 L543.0,919.6 L543.5,932.3 L544.0,944.8 L544.5,956.2 L545.0,965.8 L545.5,973.0 L546.0,976.9 L546.5,977.2 L547.0,975.2 L547.5,971.6 L548.0,966.5 L548.5,960.2 L549.0,953.0 L549.5,944.9 L550.0,936.4 L550.5,927.5 L551.0,918.7 L551.5,910.0 L552.0,901.7 L552.5,894.1 L553.0,887.3 L553.5,881.7 L554.0,877.5 L554.5,874.9 L555.0,874.0 L555.5,876.3 L556.0,882.0 L556.5,890.4 L557.0,900.7 L557.5,912.3 L558.0,924.5 L558.5,936.5 L559.0,947.6 L559.5,957.2 L560.0,964.6 L560.5,968.9 L561.0,969.7 L561.5,968.1 L562.0,964.8 L562.5,960.0 L563.0,954.0 L563.5,947.0 L564.0,939.2 L564.5,931.0 L565.0,922.6 L565.5,914.1 L566.0,905.9 L566.5,898.3 L567.0,891.4 L567.5,885.5 L568.0,880.8 L568.5,877.7 L569.0,876.3 L569.5,877.4 L570.0,882.2 L570.5,890.0 L571.0,900.1 L571.5,911.8 L572.0,924.4 L572.5,937.2 L573.0,949.5 L573.5,960.7 L574.0,970.0 L574.5,976.8 L575.0,980.3 L575.5,980.4 L576.0,978.3 L576.5,974.5 L577.0,969.4 L577.5,963.0 L578.0,955.6 L578.5,947.5 L579.0,939.0 L579.5,930.1 L580.0,921.2 L580.5,912.6 L581.0,904.3 L581.5,896.8 L582.0,890.1 L582.5,884.6 L583.0,880.5 L583.5,878.0 L584.0,877.3 L584.5,879.7 L585.0,885.1 L585.5,892.8 L586.0,902.3 L586.5,912.9 L587.0,924.0 L587.5,934.9 L588.0,944.9 L588.5,953.5 L589.0,960.0 L589.5,963.7 L590.0,964.2 L590.5,962.7 L591.0,959.7 L591.5,955.5 L592.0,950.1 L592.5,943.9 L593.0,937.0 L593.5,929.7 L594.0,922.1 L594.5,914.4 L595.0,906.9 L595.5,899.7 L596.0,893.1 L596.5,887.2 L597.0,882.2 L597.5,878.4 L598.0,876.0 L598.5,875.1 L599.0,876.9 L599.5,882.1 L600.0,889.9 L600.5,899.7 L601.0,910.8 L601.5,922.7 L602.0,934.7 L602.5,946.1 L603.0,956.3 L603.5,964.6 L604.0,970.4 L604.5,973.0 L605.0,972.4 L605.5,969.8 L606.0,965.4 L606.5,959.6 L607.0,952.7 L607.5,944.9 L608.0,936.5 L608.5,927.8 L609.0,919.1 L609.5,910.7 L610.0,902.8 L610.5,895.7 L611.0,889.8 L611.5,885.3 L612.0,882.5 L612.5,881.7 L613.0,883.6 L613.5,888.1 L614.0,894.8 L614.5,903.1 L615.0,912.3 L615.5,922.0 L616.0,931.6 L616.5,940.4 L617.0,948.0 L617.5,953.8 L618.0,957.2 L618.5,957.7 L619.0,956.4 L619.5,953.8 L620.0,949.9 L620.5,945.1 L621.0,939.5 L621.5,933.2 L622.0,926.5 L622.5,919.5 L623.0,912.5 L623.5,905.6 L624.0,899.0 L624.5,892.9 L625.0,887.5 L625.5,882.9 L626.0,879.4 L626.5,877.1 L627.0,876.2 L627.5,877.8 L628.0,882.6 L628.5,890.0 L629.0,899.4 L629.5,910.2 L630.0,921.6 L630.5,933.2 L631.0,944.3 L631.5,954.2 L632.0,962.3 L632.5,968.1 L633.0,970.8 L633.5,970.5 L634.0,968.6 L634.5,965.5 L635.0,961.2 L635.5,956.1 L636.0,950.2 L636.5,943.7 L637.0,936.9 L637.5,929.9 L638.0,922.9 L638.5,916.1 L639.0,909.7 L639.5,903.8 L640.0,898.7 L640.5,894.5 L641.0,891.4 L641.5,889.6 L642.0,889.4 L642.5,892.0 L643.0,897.0 L643.5,904.0 L644.0,912.3 L644.5,921.3 L645.0,930.4 L645.5,938.9 L646.0,946.3 L646.5,951.9 L647.0,955.1 L647.5,955.5 L648.0,954.4 L648.5,952.1 L649.0,948.8 L649.5,944.7 L650.0,939.9 L650.5,934.6 L651.0,928.8 L651.5,922.8 L652.0,916.6 L652.5,910.5 L653.0,904.4 L653.5,898.7 L654.0,893.4 L654.5,888.7 L655.0,884.7 L655.5,881.6 L656.0,879.4 L656.5,878.4 L657.0,879.3 L657.5,883.3 L658.0,889.9 L658.5,898.6 L659.0,908.7 L659.5,919.5 L660.0,930.4 L660.5,940.7 L661.0,950.0 L661.5,957.4 L662.0,962.4 L662.5,964.4 L663.0,963.8 L663.5,962.0 L664.0,959.2 L664.5,955.4 L665.0,950.9 L665.5,945.9 L666.0,940.4 L666.5,934.6 L667.0,928.7 L667.5,922.8 L668.0,917.2 L668.5,911.9 L669.0,907.1 L669.5,902.9 L670.0,899.6 L670.5,897.2 L671.0,896.0 L671.5,896.2 L672.0,898.6 L672.5,903.1 L673.0,908.9 L673.5,915.8 L674.0,923.1 L674.5,930.3 L675.0,937.0 L675.5,942.7 L676.0,946.8 L676.5,949.0 L677.0,948.9 L677.5,947.5 L678.0,945.0 L678.5,941.7 L679.0,937.5 L679.5,932.8 L680.0,927.6 L680.5,922.0 L681.0,916.4 L681.5,910.7 L682.0,905.1 L682.5,899.8 L683.0,895.0 L683.5,890.8 L684.0,887.3 L684.5,884.7 L685.0,883.1 L685.5,882.8 L686.0,884.4 L686.5,888.0 L687.0,893.2 L687.5,899.7 L688.0,907.1 L688.5,915.1 L689.0,923.4 L689.5,931.6 L690.0,939.4 L690.5,946.4 L691.0,952.3 L691.5,956.8 L692.0,959.4 L692.5,960.0 L693.0,959.0 L693.5,957.0 L694.0,954.0 L694.5,950.3 L695.0,945.9 L695.5,941.1 L696.0,935.9 L696.5,930.6 L697.0,925.3 L697.5,920.2 L698.0,915.3 L698.5,911.0 L699.0,907.2 L699.5,904.3 L700.0,902.2 L700.5,901.3 L701.0,901.8 L701.5,904.0 L702.0,907.7 L702.5,912.5 L703.0,917.9 L703.5,923.6 L704.0,929.1 L704.5,934.2 L705.0,938.4 L705.5,941.3 L706.0,942.6 L706.5,942.3 L707.0,941.0 L707.5,938.9 L708.0,936.2 L708.5,932.8 L709.0,929.0 L709.5,924.8 L710.0,920.3 L710.5,915.7 L711.0,911.1 L711.5,906.5 L712.0,902.2 L712.5,898.1 L713.0,894.4 L713.5,891.3 L714.0,888.8 L714.5,887.0 L715.0,886.1 L715.5,886.4 L716.0,888.7 L716.5,892.9 L717.0,898.6 L717.5,905.5 L718.0,913.0 L718.5,921.0 L719.0,928.9 L719.5,936.5 L720.0,943.3 L720.5,948.9 L721.0,953.1 L721.5,955.4 L722.0,955.6 L722.5,954.8 L723.0,953.2 L723.5,951.0 L724.0,948.3 L724.5,945.1 L725.0,941.5 L725.5,937.7 L726.0,933.7 L726.5,929.6 L727.0,925.5 L727.5,921.5 L728.0,917.8 L728.5,914.3 L729.0,911.2 L729.5,908.6 L730.0,906.5 L730.5,905.2 L731.0,904.5 L731.5,905.0 L732.0,907.1 L732.5,910.4 L733.0,914.5 L733.5,919.1 L734.0,923.6 L734.5,927.7 L735.0,931.1 L735.5,933.3 L736.0,933.9 L736.5,933.4 L737.0,932.1 L737.5,930.3 L738.0,927.9 L738.5,925.1 L739.0,922.0 L739.5,918.5 L740.0,914.9 L740.5,911.2 L741.0,907.5 L741.5,903.8 L742.0,900.3 L742.5,897.0 L743.0,894.0 L743.5,891.5 L744.0,889.5 L744.5,888.0 L745.0,887.2 L745.5,887.3 L746.0,889.4 L746.5,893.3 L747.0,898.7 L747.5,905.3 L748.0,912.5 L748.5,920.2 L749.0,927.9 L749.5,935.3 L750.0,941.9 L750.5,947.6 L751.0,951.7 L751.5,954.1 L752.0,954.5 L752.5,953.8 L753.0,952.3 L753.5,950.2 L754.0,947.5 L754.5,944.3 L755.0,940.8 L755.5,937.1 L756.0,933.1 L756.5,929.1 L757.0,925.1 L757.5,921.3 L758.0,917.6 L758.5,914.3 L759.0,911.3 L759.5,908.9 L760.0,907.1 L760.5,905.9 L761.0,905.6 L761.5,906.3 L762.0,908.0 L762.5,910.6 L763.0,913.7 L763.5,917.2 L764.0,920.8 L764.5,924.3 L765.0,927.4 L765.5,930.1 L766.0,931.9 L766.5,932.8 L767.0,932.5 L767.5,931.4 L768.0,929.5 L768.5,926.9 L769.0,923.8 L769.5,920.3 L770.0,916.4 L770.5,912.4 L771.0,908.3 L771.5,904.2 L772.0,900.2 L772.5,896.5 L773.0,893.2 L773.5,890.4 L774.0,888.2 L774.5,886.7 L775.0,886.0 L775.5,886.6 L776.0,889.1 L776.5,893.1 L777.0,898.3 L777.5,904.6 L778.0,911.6 L778.5,918.9 L779.0,926.4 L779.5,933.7 L780.0,940.6 L780.5,946.7 L781.0,951.7 L781.5,955.4 L782.0,957.5 L782.5,957.7 L783.0,956.7 L783.5,954.6 L784.0,951.7 L784.5,948.1 L785.0,943.9 L785.5,939.3 L786.0,934.4 L786.5,929.4 L787.0,924.4 L787.5,919.6 L788.0,915.1 L788.5,911.0 L789.0,907.6 L789.5,904.9 L790.0,903.1 L790.5,902.3 L791.0,902.8 L791.5,904.2 L792.0,906.5 L792.5,909.4 L793.0,912.9 L793.5,916.6 L794.0,920.5 L794.5,924.3 L795.0,927.9 L795.5,931.0 L796.0,933.5 L796.5,935.3 L797.0,936.1 L797.5,935.7 L798.0,934.2 L798.5,931.7 L799.0,928.4 L799.5,924.5 L800.0,920.0 L800.5,915.2 L801.0,910.2 L801.5,905.1 L802.0,900.2 L802.5,895.5 L803.0,891.3 L803.5,887.6 L804.0,884.7 L804.5,882.7 L805.0,881.7 L805.5,882.3 L806.0,885.4 L806.5,890.7 L807.0,897.7 L807.5,905.9 L808.0,915.0 L808.5,924.5 L809.0,933.8 L809.5,942.7 L810.0,950.6 L810.5,957.1 L811.0,961.8 L811.5,964.2 L812.0,964.1 L812.5,962.9 L813.0,960.6 L813.5,957.5 L814.0,953.6 L814.5,949.2 L815.0,944.3 L815.5,939.0 L816.0,933.5 L816.5,928.0 L817.0,922.5 L817.5,917.3 L818.0,912.3 L818.5,907.8 L819.0,904.0 L819.5,900.8 L820.0,898.5 L820.5,897.2 L821.0,897.0 L821.5,898.3 L822.0,900.9 L822.5,904.6 L823.0,909.2 L823.5,914.3 L824.0,919.7 L824.5,925.2 L825.0,930.5 L825.5,935.3 L826.0,939.4 L826.5,942.5 L827.0,944.3 L827.5,944.7 L828.0,943.3 L828.5,940.3 L829.0,935.9 L829.5,930.5 L830.0,924.3 L830.5,917.5 L831.0,910.5 L831.5,903.5 L832.0,896.8 L832.5,890.7 L833.0,885.4 L833.5,881.2 L834.0,878.4 L834.5,877.3 L835.0,878.4 L835.5,881.8 L836.0,887.4 L836.5,894.6 L837.0,903.0 L837.5,912.4 L838.0,922.2 L838.5,932.2 L839.0,941.9 L839.5,951.0 L840.0,958.9 L840.5,965.5 L841.0,970.2 L841.5,972.8 L842.0,972.8 L842.5,971.0 L843.0,967.6 L843.5,962.8 L844.0,957.0 L844.5,950.3 L845.0,943.0 L845.5,935.4 L846.0,927.6 L846.5,919.9 L847.0,912.6 L847.5,905.8 L848.0,899.9 L848.5,895.1 L849.0,891.6 L849.5,889.6 L850.0,889.4 L850.5,891.1 L851.0,894.2 L851.5,898.7 L852.0,904.2 L852.5,910.4 L853.0,917.1 L853.5,924.0 L854.0,930.8 L854.5,937.4 L855.0,943.3 L855.5,948.3 L856.0,952.3 L856.5,954.8 L857.0,955.7 L857.5,954.6 L858.0,951.6 L858.5,947.0 L859.0,941.2 L859.5,934.3 L860.0,926.7 L860.5,918.6 L861.0,910.4 L861.5,902.2 L862.0,894.5 L862.5,887.5 L863.0,881.4 L863.5,876.6 L864.0,873.4 L864.5,871.9 L865.0,873.2 L865.5,878.5 L866.0,887.0 L866.5,897.8 L867.0,910.4 L867.5,923.8 L868.0,937.2 L868.5,950.0 L869.0,961.3 L869.5,970.3 L870.0,976.3 L870.5,978.5 L871.0,977.7 L871.5,975.5 L872.0,971.9 L872.5,967.2 L873.0,961.5 L873.5,955.1 L874.0,948.0 L874.5,940.6 L875.0,932.9 L875.5,925.2 L876.0,917.5 L876.5,910.2 L877.0,903.3 L877.5,897.1 L878.0,891.6 L878.5,887.2 L879.0,884.0 L879.5,882.1 L880.0,881.8 L880.5,884.5 L881.0,890.0 L881.5,897.9 L882.0,907.4 L882.5,918.0 L883.0,928.9 L883.5,939.6 L884.0,949.4 L884.5,957.7 L885.0,963.9 L885.5,967.2 L886.0,967.4 L886.5,965.5 L887.0,961.9 L887.5,957.0 L888.0,950.8 L888.5,943.6 L889.0,935.8 L889.5,927.4 L890.0,918.7 L890.5,910.1 L891.0,901.5 L891.5,893.4 L892.0,886.0 L892.5,879.4 L893.0,873.9 L893.5,869.8 L894.0,867.2 L894.5,866.4 L895.0,869.4 L895.5,876.8 L896.0,887.5 L896.5,900.7 L897.0,915.4 L897.5,930.7 L898.0,945.5 L898.5,959.0 L899.0,970.1 L899.5,978.0 L900.0,981.6 L900.5,981.2 L901.0,979.0 L901.5,975.3 L902.0,970.2 L902.5,964.0 L903.0,956.9 L903.5,949.1 L904.0,940.8 L904.5,932.3 L905.0,923.6 L905.5,915.1 L906.0,906.9 L906.5,899.3 L907.0,892.4 L907.5,886.4 L908.0,881.7 L908.5,878.3 L909.0,876.5 L909.5,876.8 L910.0,881.1 L910.5,889.0 L911.0,899.5 L911.5,911.9 L912.0,925.1 L912.5,938.3 L913.0,950.5 L913.5,960.9 L914.0,968.6 L914.5,972.7 L915.0,972.8 L915.5,970.8 L916.0,967.4 L916.5,962.5 L917.0,956.5 L917.5,949.5 L918.0,941.8 L918.5,933.5 L919.0,924.9 L919.5,916.1 L920.0,907.4 L920.5,898.9 L921.0,890.8 L921.5,883.4 L922.0,876.9 L922.5,871.4 L923.0,867.1 L923.5,864.3 L924.0,863.2 L924.5,864.9 L925.0,870.6 L925.5,879.7 L926.0,891.2 L926.5,904.4 L927.0,918.4 L927.5,932.5 L928.0,945.7 L928.5,957.3 L929.0,966.4 L929.5,972.3 L930.0,974.2 L930.5,972.8 L931.0,969.3 L931.5,964.0 L932.0,957.3 L932.5,949.4 L933.0,940.6 L933.5,931.2 L934.0,921.5 L934.5,911.8 L935.0,902.4 L935.5,893.7 L936.0,885.9 L936.5,879.3 L937.0,874.2 L937.5,870.9 L938.0,869.7 L938.5,871.7 L939.0,877.4 L939.5,885.9 L940.0,896.7 L940.5,909.0 L941.0,922.1 L941.5,935.3 L942.0,947.8 L942.5,959.0 L943.0,968.1 L943.5,974.5 L944.0,977.3 L944.5,976.7 L945.0,974.0 L945.5,969.4 L946.0,963.3 L946.5,955.8 L947.0,947.3 L947.5,938.1 L948.0,928.3 L948.5,918.3 L949.0,908.4 L949.5,898.7 L950.0,889.6 L950.5,881.2 L951.0,874.0 L951.5,868.1 L952.0,863.8 L952.5,861.4 L953.0,861.3 L953.5,865.5 L954.0,873.6 L954.5,884.8 L955.0,898.4 L955.5,913.4 L956.0,929.0 L956.5,944.4 L957.0,958.7 L957.5,971.0 L958.0,980.7 L958.5,986.7 L959.0,988.3 L959.5,986.8 L960.0,983.4 L960.5,978.4 L961.0,971.8 L961.5,964.1 L962.0,955.4 L962.5,946.0 L963.0,936.1 L963.5,925.9 L964.0,915.8 L964.5,905.9 L965.0,896.5 L965.5,887.9 L966.0,880.2 L966.5,873.8 L967.0,868.8 L967.5,865.6 L968.0,864.3 L968.5,866.6 L969.0,874.4 L969.5,886.4 L970.0,901.4 L970.5,918.2 L971.0,935.7 L971.5,952.7 L972.0,967.9 L972.5,980.3 L973.0,988.6 L973.5,991.6 L974.0,990.5 L974.5,987.4 L975.0,982.5 L975.5,976.1 L976.0,968.4 L976.5,959.7 L977.0,950.1 L977.5,940.0 L978.0,929.5 L978.5,919.0 L979.0,908.6 L979.5,898.6 L980.0,889.3 L980.5,880.8 L981.0,873.4 L981.5,867.4 L982.0,863.0 L982.5,860.5 L983.0,860.1 L983.5,863.9 L984.0,871.9 L984.5,883.2 L985.0,896.8 L985.5,911.9 L986.0,927.6 L986.5,942.9 L987.0,956.9 L987.5,968.7 L988.0,977.5 L988.5,982.3 L989.0,982.5 L989.5,979.8 L990.0,974.8 L990.5,967.9 L991.0,959.3 L991.5,949.5 L992.0,938.8 L992.5,927.6 L993.0,916.1 L993.5,904.9 L994.0,894.1 L994.5,884.2 L995.0,875.5 L995.5,868.4 L996.0,863.3 L996.5,860.4 L997.0,860.4 L997.5,865.4 L998.0,875.0 L998.5,888.2 L999.0,903.8 L999.5,920.7 L1000.0,937.9 L1000.5,954.4 L1001.0,968.9 L1001.5,980.5 L1002.0,988.0 L1002.5,990.5 L1003.0,989.3 L1003.5,986.4 L1004.0,981.8 L1004.5,975.8 L1005.0,968.8 L1005.5,960.7 L1006.0,952.0 L1006.5,942.9 L1007.0,933.4 L1007.5,924.0 L1008.0,914.8 L1008.5,906.0 L1009.0,897.9 L1009.5,890.7 L1010.0,884.5 L1010.5,879.8 L1011.0,876.6 L1011.5,875.2 L1012.0,876.3 L1012.5,881.1 L1013.0,888.7 L1013.5,898.6 L1014.0,910.0 L1014.5,922.4 L1015.0,934.9 L1015.5,947.0 L1016.0,957.9 L1016.5,967.0 L1017.0,973.7 L1017.5,977.1 L1018.0,977.0 L1018.5,974.7 L1019.0,970.5 L1019.5,964.6 L1020.0,957.4 L1020.5,949.1 L1021.0,940.0 L1021.5,930.3 L1022.0,920.4 L1022.5,910.4 L1023.0,900.6 L1023.5,891.4 L1024.0,882.8 L1024.5,875.4 L1025.0,869.2 L1025.5,864.5 L1026.0,861.7 L1026.5,861.1 L1027.0,864.5 L1027.5,872.2 L1028.0,883.4 L1028.5,897.1 L1029.0,912.3 L1029.5,928.2 L1030.0,943.9 L1030.5,958.3 L1031.0,970.6 L1031.5,979.9 L1032.0,985.2 L1032.5,986.0 L1033.0,984.1 L1033.5,980.6 L1034.0,975.5 L1034.5,969.1 L1035.0,961.6 L1035.5,953.4 L1036.0,944.6 L1036.5,935.5 L1037.0,926.4 L1037.5,917.4 L1038.0,908.8 L1038.5,900.8 L1039.0,893.8 L1039.5,887.9 L1040.0,883.4 L1040.5,880.5 L1041.0,879.5 L1041.5,881.3 L1042.0,886.5 L1042.5,894.2 L1043.0,903.9 L1043.5,914.9 L1044.0,926.5 L1044.5,938.0 L1045.0,948.8 L1045.5,958.1 L1046.0,965.3 L1046.5,969.8 L1047.0,970.8 L1047.5,969.4 L1048.0,966.1 L1048.5,961.2 L1049.0,955.1 L1049.5,947.8 L1050.0,939.7 L1050.5,931.0 L1051.0,921.9 L1051.5,912.8 L1052.0,903.7 L1052.5,895.0 L1053.0,887.0 L1053.5,879.8 L1054.0,873.6 L1054.5,868.9 L1055.0,865.7 L1055.5,864.3 L1056.0,865.6 L1056.5,870.4 L1057.0,878.2 L1057.5,888.4 L1058.0,900.4 L1058.5,913.4 L1059.0,926.8 L1059.5,940.1 L1060.0,952.6 L1060.5,963.6 L1061.0,972.5 L1061.5,978.8 L1062.0,981.7 L1062.5,981.3 L1063.0,979.1 L1063.5,975.5 L1064.0,970.5 L1064.5,964.5 L1065.0,957.7 L1065.5,950.2 L1066.0,942.2 L1066.5,934.1 L1067.0,926.0 L1067.5,918.1 L1068.0,910.7 L1068.5,903.9 L1069.0,897.9 L1069.5,893.1 L1070.0,889.5 L1070.5,887.5 L1071.0,887.3 L1071.5,889.6 L1072.0,894.3 L1072.5,900.8 L1073.0,908.8 L1073.5,917.6 L1074.0,926.8 L1074.5,935.9 L1075.0,944.3 L1075.5,951.7 L1076.0,957.5 L1076.5,961.1 L1077.0,962.2 L1077.5,961.0 L1078.0,958.0 L1078.5,953.5 L1079.0,947.8 L1079.5,941.0 L1080.0,933.5 L1080.5,925.4 L1081.0,917.1 L1081.5,908.8 L1082.0,900.6 L1082.5,892.9 L1083.0,885.9 L1083.5,879.9 L1084.0,875.0 L1084.5,871.6 L1085.0,869.9 L1085.5,870.3 L1086.0,874.0 L1086.5,880.6 L1087.0,889.4 L1087.5,899.9 L1088.0,911.5 L1088.5,923.6 L1089.0,935.8 L1089.5,947.3 L1090.0,957.7 L1090.5,966.3 L1091.0,972.5 L1091.5,975.9 L1092.0,976.1 L1092.5,974.4 L1093.0,971.3 L1093.5,966.9 L1094.0,961.5 L1094.5,955.3 L1095.0,948.4 L1095.5,941.2 L1096.0,933.7 L1096.5,926.2 L1097.0,919.0 L1097.5,912.2 L1098.0,906.0 L1098.5,900.6 L1099.0,896.3 L1099.5,893.2 L1100.0,891.6 L1100.5,891.8 L1101.0,894.3 L1101.5,898.7 L1102.0,904.5 L1102.5,911.4 L1103.0,918.8 L1103.5,926.2 L1104.0,933.3 L1104.5,939.4 L1105.0,944.3 L1105.5,947.3 L1106.0,948.0 L1106.5,947.1 L1107.0,945.0 L1107.5,941.8 L1108.0,937.8 L1108.5,933.1 L1109.0,927.8 L1109.5,922.1 L1110.0,916.2 L1110.5,910.2 L1111.0,904.3 L1111.5,898.6 L1112.0,893.3 L1112.5,888.6 L1113.0,884.6 L1113.5,881.5 L1114.0,879.3 L1114.5,878.4 L1115.0,878.5 L1115.5,878.9 L1116.0,879.7 L1116.5,880.8 L1117.0,882.3 L1117.5,884.1 L1118.0,886.3 L1118.5,888.9 L1119.0,892.0 L1119.5,895.4 L1120.0,899.3 L1120.5,903.6 L1121.0,908.3 L1121.5,913.5" stroke="#c00000" stroke-width="1.9" fill="none" stroke-linejoin="round"/>
<path d="M87.6,1032.8 L89.6,1032.5 L91.6,1032.1 L93.6,1031.8 L95.6,1031.5 L97.6,1031.2 L99.6,1030.8 L101.6,1030.5 L103.6,1030.2 L105.6,1029.9 L107.6,1029.5 L109.6,1029.2 L111.6,1028.9 L113.6,1028.6 L115.6,1028.2 L117.6,1027.9 L119.6,1027.6 L121.6,1027.3 L123.6,1027.0 L125.6,1026.7 L127.6,1026.4 L129.6,1026.1 L131.6,1025.8 L133.6,1025.5 L135.6,1025.2 L137.6,1024.9 L139.6,1024.6 L141.6,1024.3 L143.6,1024.0 L145.6,1023.7 L147.6,1023.5 L149.6,1023.2 L151.6,1022.9 L153.6,1022.6 L155.6,1022.4 L157.6,1022.1 L159.6,1021.9 L161.6,1021.6 L163.6,1021.4 L165.6,1021.1 L167.6,1020.9 L169.6,1020.7 L171.6,1020.4 L173.6,1020.2 L175.6,1020.0 L177.6,1019.8 L179.6,1019.6 L181.6,1019.4 L183.6,1019.2 L185.6,1019.0 L187.6,1018.8 L189.6,1018.6 L191.6,1018.4 L193.6,1018.3 L195.6,1018.1 L197.6,1017.9 L199.6,1017.8 L201.6,1017.7 L203.6,1017.5 L205.6,1017.4 L207.6,1017.3 L209.6,1017.2 L211.6,1017.0 L213.6,1016.9 L215.6,1016.8 L217.6,1016.8 L219.6,1016.7 L221.6,1016.6 L223.6,1016.6 L225.6,1016.5 L227.6,1016.4 L229.6,1016.4 L231.6,1016.4 L233.6,1016.4 L235.6,1016.3 L237.6,1016.3 L239.6,1016.3 L241.6,1016.3 L243.6,1016.4 L245.6,1016.4 L247.6,1016.4 L249.6,1016.5 L251.6,1016.5 L253.6,1016.6 L255.6,1016.6 L257.6,1016.7 L259.6,1016.8 L261.6,1016.9 L263.6,1017.0 L265.6,1017.1 L267.6,1017.2 L269.6,1017.4 L271.6,1017.5 L273.6,1017.6 L275.6,1017.8 L277.6,1018.0 L279.6,1018.1 L281.6,1018.3 L283.6,1018.5 L285.6,1018.7 L287.6,1018.9 L289.6,1019.2 L291.6,1019.4 L293.6,1019.6 L295.6,1019.9 L297.6,1020.1 L299.6,1020.4 L301.6,1020.7 L303.6,1021.0 L305.6,1021.3 L307.6,1021.6 L309.6,1021.9 L311.6,1022.2 L313.6,1022.6 L315.6,1022.9 L317.6,1023.3 L319.6,1023.6 L321.6,1024.0 L323.6,1024.4 L325.6,1024.8 L327.6,1025.2 L329.6,1025.6 L331.6,1026.0 L333.6,1026.5 L335.6,1026.9 L337.6,1027.4 L339.6,1027.9 L341.6,1028.3 L343.6,1028.8 L345.6,1029.3 L347.6,1029.9 L349.6,1030.4 L351.6,1030.9 L353.6,1031.5 L355.6,1032.0 L357.6,1032.6 L359.6,1033.1 L361.6,1033.7 L363.6,1034.3 L365.6,1034.9 L367.6,1035.5 L369.6,1036.1 L371.6,1036.7 L373.6,1037.3 L375.6,1037.9 L377.6,1038.5 L379.6,1039.1 L381.6,1039.8 L383.6,1040.4 L385.6,1041.0 L387.6,1041.6 L389.6,1042.2 L391.6,1042.8 L393.6,1043.5 L395.6,1044.1 L397.6,1044.7 L399.6,1045.3 L401.6,1045.9 L403.6,1046.5 L405.6,1047.1 L407.6,1047.7 L409.6,1048.3 L411.6,1048.8 L413.6,1049.4 L415.6,1050.0 L417.6,1050.5 L419.6,1051.1 L421.6,1051.6 L423.6,1052.1 L425.6,1052.6 L427.6,1053.1 L429.6,1053.6 L431.6,1054.1 L433.6,1054.6 L435.6,1055.0 L437.6,1055.4 L439.6,1055.9 L441.6,1056.3 L443.6,1056.7 L445.6,1057.0 L447.6,1057.4 L449.6,1057.7 L451.6,1058.1 L453.6,1058.4 L455.6,1058.6 L457.6,1058.9 L459.6,1059.2 L461.6,1059.4 L463.6,1059.6 L465.6,1059.8 L467.6,1059.9 L469.6,1060.1 L471.6,1060.2 L473.6,1060.2 L475.6,1060.3 L477.6,1060.3 L479.6,1060.4 L481.6,1060.3 L483.6,1060.3 L485.6,1060.2 L487.6,1060.1 L489.6,1060.0 L491.6,1059.9 L493.6,1059.7 L495.6,1059.5 L497.6,1059.2 L499.6,1059.0 L501.6,1058.7 L503.6,1058.4 L505.6,1058.0 L507.6,1057.7 L509.6,1057.3 L511.6,1056.9 L513.6,1056.4 L515.6,1056.0 L517.6,1055.5 L519.6,1055.0 L521.6,1054.4 L523.6,1053.9 L525.6,1053.3 L527.6,1052.7 L529.6,1052.1 L531.6,1051.4 L533.6,1050.7 L535.6,1050.0 L537.6,1049.3 L539.6,1048.6 L541.6,1047.8 L543.6,1047.1 L545.6,1046.3 L547.6,1045.5 L549.6,1044.6 L551.6,1043.8 L553.6,1042.9 L555.6,1042.0 L557.6,1041.1 L559.6,1040.2 L561.6,1039.2 L563.6,1038.3 L565.6,1037.3 L567.6,1036.3 L569.6,1035.3 L571.6,1034.3 L573.6,1033.3 L575.6,1032.3 L577.6,1031.3 L579.6,1030.3 L581.6,1029.3 L583.6,1028.3 L585.6,1027.3 L587.6,1026.3 L589.6,1025.3 L591.6,1024.4 L593.6,1023.4 L595.6,1022.5 L597.6,1021.6 L599.6,1020.7 L601.6,1019.8 L603.6,1019.0 L605.6,1018.2 L607.6,1017.4 L609.6,1016.6 L611.6,1015.9 L613.6,1015.2 L615.6,1014.6 L617.6,1014.0 L619.6,1013.4 L621.6,1012.9 L623.6,1012.4 L625.6,1012.0 L627.6,1011.6 L629.6,1011.3 L631.6,1011.0 L633.6,1010.8 L635.6,1010.6 L637.6,1010.5 L639.6,1010.5 L641.6,1010.5 L643.6,1010.6 L645.6,1010.8 L647.6,1011.0 L649.6,1011.2 L651.6,1011.5 L653.6,1011.9 L655.6,1012.3 L657.6,1012.8 L659.6,1013.3 L661.6,1013.8 L663.6,1014.4 L665.6,1015.0 L667.6,1015.7 L669.6,1016.4 L671.6,1017.1 L673.6,1017.9 L675.6,1018.7 L677.6,1019.5 L679.6,1020.3 L681.6,1021.2 L683.6,1022.1 L685.6,1023.0 L687.6,1023.9 L689.6,1024.9 L691.6,1025.8 L693.6,1026.8 L695.6,1027.8 L697.6,1028.8 L699.6,1029.8 L701.6,1030.8 L703.6,1031.8 L705.6,1032.8 L707.6,1033.8 L709.6,1034.8 L711.6,1035.8 L713.6,1036.8 L715.6,1037.8 L717.6,1038.7 L719.6,1039.7 L721.6,1040.7 L723.6,1041.7 L725.6,1042.6 L727.6,1043.5 L729.6,1044.5 L731.6,1045.4 L733.6,1046.2 L735.6,1047.1 L737.6,1048.0 L739.6,1048.8 L741.6,1049.6 L743.6,1050.4 L745.6,1051.1 L747.6,1051.8 L749.6,1052.5 L751.6,1053.2 L753.6,1053.8 L755.6,1054.4 L757.6,1055.0 L759.6,1055.6 L761.6,1056.1 L763.6,1056.6 L765.6,1057.1 L767.6,1057.6 L769.6,1058.0 L771.6,1058.4 L773.6,1058.8 L775.6,1059.1 L777.6,1059.5 L779.6,1059.8 L781.6,1060.1 L783.6,1060.4 L785.6,1060.6 L787.6,1060.8 L789.6,1061.0 L791.6,1061.2 L793.6,1061.4 L795.6,1061.5 L797.6,1061.7 L799.6,1061.8 L801.6,1061.9 L803.6,1061.9 L805.6,1062.0 L807.6,1062.0 L809.6,1062.0 L811.6,1062.0 L813.6,1062.0 L815.6,1062.0 L817.6,1061.9 L819.6,1061.8 L821.6,1061.7 L823.6,1061.6 L825.6,1061.5 L827.6,1061.4 L829.6,1061.3 L831.6,1061.1 L833.6,1060.9 L835.6,1060.7 L837.6,1060.5 L839.6,1060.3 L841.6,1060.1 L843.6,1059.9 L845.6,1059.6 L847.6,1059.4 L849.6,1059.1 L851.6,1058.8 L853.6,1058.5 L855.6,1058.2 L857.6,1057.9 L859.6,1057.6 L861.6,1057.3 L863.6,1056.9 L865.6,1056.6 L867.6,1056.2 L869.6,1055.8 L871.6,1055.4 L873.6,1055.0 L875.6,1054.6 L877.6,1054.2 L879.6,1053.8 L881.6,1053.3 L883.6,1052.9 L885.6,1052.4 L887.6,1051.9 L889.6,1051.4 L891.6,1050.9 L893.6,1050.4 L895.6,1049.8 L897.6,1049.2 L899.6,1048.7 L901.6,1048.1 L903.6,1047.4 L905.6,1046.8 L907.6,1046.2 L909.6,1045.5 L911.6,1044.8 L913.6,1044.1 L915.6,1043.4 L917.6,1042.6 L919.6,1041.9 L921.6,1041.1 L923.6,1040.3 L925.6,1039.5 L927.6,1038.6 L929.6,1037.7 L931.6,1036.9 L933.6,1035.9 L935.6,1035.0 L937.6,1034.1 L939.6,1033.1 L941.6,1032.1 L943.6,1031.1 L945.6,1030.0 L947.6,1028.9 L949.6,1027.8 L951.6,1026.7 L953.6,1025.6 L955.6,1024.5 L957.6,1023.3 L959.6,1022.2 L961.6,1021.0 L963.6,1019.8 L965.6,1018.6 L967.6,1017.4 L969.6,1016.2 L971.6,1015.0 L973.6,1013.8 L975.6,1012.7 L977.6,1011.5 L979.6,1010.3 L981.6,1009.2 L983.6,1008.0 L985.6,1006.9 L987.6,1005.8 L989.6,1004.7 L991.6,1003.6 L993.6,1002.5 L995.6,1001.5 L997.6,1000.5 L999.6,999.5 L1001.6,998.5 L1003.6,997.5 L1005.6,996.6 L1007.6,995.7 L1009.6,994.8 L1011.6,993.9 L1013.6,993.1 L1015.6,992.3 L1017.6,991.5 L1019.6,990.8 L1021.6,990.1 L1023.6,989.4 L1025.6,988.7 L1027.6,988.1 L1029.6,987.5 L1031.6,986.9 L1033.6,986.4 L1035.6,985.9 L1037.6,985.5 L1039.6,985.0 L1041.6,984.7 L1043.6,984.3 L1045.6,984.0 L1047.6,983.7 L1049.6,983.5 L1051.6,983.3 L1053.6,983.1 L1055.6,983.0 L1057.6,982.9 L1059.6,982.9 L1061.6,982.9 L1063.6,983.0 L1065.6,983.1 L1067.6,983.2 L1069.6,983.4 L1071.6,983.6 L1073.6,983.8 L1075.6,984.1 L1077.6,984.4 L1079.6,984.7 L1081.6,985.1 L1083.6,985.4 L1085.6,985.8 L1087.6,986.3 L1089.6,986.7 L1091.6,987.2 L1093.6,987.7 L1095.6,988.2 L1097.6,988.7 L1099.6,989.3 L1101.6,989.8 L1103.6,990.4 L1105.6,991.0 L1107.6,991.6 L1109.6,992.2 L1111.6,992.8 L1113.6,993.4" stroke="#979797" stroke-width="2.3" fill="none"/>
</g>
<path d="M116.76,849.25 v4.5 M116.76,1104.05 v-4.5 M145.27,849.25 v4.5 M145.27,1104.05 v-4.5 M173.79,849.25 v4.5 M173.79,1104.05 v-4.5 M202.30,849.25 v10.7 M202.30,1104.05 v-10.7 M230.82,849.25 v4.5 M230.82,1104.05 v-4.5 M259.34,849.25 v4.5 M259.34,1104.05 v-4.5 M287.85,849.25 v4.5 M287.85,1104.05 v-4.5 M316.37,849.25 v4.5 M316.37,1104.05 v-4.5 M344.88,849.25 v10.7 M344.88,1104.05 v-10.7 M373.40,849.25 v4.5 M373.40,1104.05 v-4.5 M401.92,849.25 v4.5 M401.92,1104.05 v-4.5 M430.43,849.25 v4.5 M430.43,1104.05 v-4.5 M458.95,849.25 v4.5 M458.95,1104.05 v-4.5 M487.46,849.25 v10.7 M487.46,1104.05 v-10.7 M515.98,849.25 v4.5 M515.98,1104.05 v-4.5 M544.50,849.25 v4.5 M544.50,1104.05 v-4.5 M573.01,849.25 v4.5 M573.01,1104.05 v-4.5 M601.53,849.25 v4.5 M601.53,1104.05 v-4.5 M630.04,849.25 v10.7 M630.04,1104.05 v-10.7 M658.56,849.25 v4.5 M658.56,1104.05 v-4.5 M687.08,849.25 v4.5 M687.08,1104.05 v-4.5 M715.59,849.25 v4.5 M715.59,1104.05 v-4.5 M744.11,849.25 v4.5 M744.11,1104.05 v-4.5 M772.62,849.25 v10.7 M772.62,1104.05 v-10.7 M801.14,849.25 v4.5 M801.14,1104.05 v-4.5 M829.66,849.25 v4.5 M829.66,1104.05 v-4.5 M858.17,849.25 v4.5 M858.17,1104.05 v-4.5 M886.69,849.25 v4.5 M886.69,1104.05 v-4.5 M915.20,849.25 v10.7 M915.20,1104.05 v-10.7 M943.72,849.25 v4.5 M943.72,1104.05 v-4.5 M972.24,849.25 v4.5 M972.24,1104.05 v-4.5 M1000.75,849.25 v4.5 M1000.75,1104.05 v-4.5 M1029.27,849.25 v4.5 M1029.27,1104.05 v-4.5 M1057.78,849.25 v10.7 M1057.78,1104.05 v-10.7 M1086.30,849.25 v4.5 M1086.30,1104.05 v-4.5 M87.6,922.05 h12 M87.6,994.85 h12 M87.6,1067.65 h12" stroke="#262626" stroke-width="1.4" fill="none"/>
<path d="M1115.1,849.25 H87.6 V1104.05 H1115.1" stroke="#262626" stroke-width="1.5" fill="none"/>
<path d="M87.6,849.25 V1104.05" stroke="#000" stroke-width="1.5" fill="none"/>
<path d="M1115.1,848.55 V1104.75" stroke="#8f8f8f" stroke-width="1.6" fill="none"/>
<text transform="translate(81,859.2) scale(1,1.06)" font-size="28" text-anchor="end" fill="#000">50</text>
<text transform="translate(81,932.0) scale(1,1.06)" font-size="28" text-anchor="end" fill="#000">0</text>
<text transform="translate(81,1004.9) scale(1,1.06)" font-size="28" text-anchor="end" fill="#000">-50</text>
<text transform="translate(81,1077.7) scale(1,1.06)" font-size="28" text-anchor="end" fill="#000">-100</text>
<text x="155" y="1082.0" font-size="36" fill="#000">PM07</text>
<path d="M87.6,1195.30 H1115.1 M87.6,1268.10 H1115.1 M87.6,1340.90 H1115.1 M202.30,1122.5 V1377.3 M344.88,1122.5 V1377.3 M487.46,1122.5 V1377.3 M630.04,1122.5 V1377.3 M772.62,1122.5 V1377.3 M915.20,1122.5 V1377.3 M1057.78,1122.5 V1377.3" stroke="#e3e3e3" stroke-width="1.3" fill="none"/>
<g clip-path="url(#c4)">
<path d="M86.4,1235.1 L86.9,1228.3 L87.5,1221.5 L88.0,1214.7 L88.6,1210.7 L89.1,1203.9 L89.7,1197.1 L90.2,1190.3 L90.8,1184.7 L91.3,1178.7 L91.8,1172.9 L92.4,1167.4 L92.9,1153.9 L93.5,1163.2 L94.0,1159.3 L94.6,1156.2 L95.1,1141.4 L95.7,1140.0 L96.2,1144.3 L96.7,1146.3 L97.3,1149.2 L97.8,1158.4 L98.3,1170.6 L98.8,1189.6 L99.4,1199.5 L99.9,1217.9 L100.4,1210.8 L100.9,1205.0 L101.5,1203.7 L102.0,1198.3 L102.5,1190.5 L103.0,1185.3 L103.6,1178.7 L104.1,1179.0 L104.6,1179.6 L105.1,1173.2 L105.6,1169.4 L106.2,1165.9 L106.7,1162.0 L107.2,1159.3 L107.7,1156.9 L108.3,1153.1 L108.8,1151.5 L109.3,1155.3 L109.8,1145.1 L110.4,1151.3 L110.9,1156.6 L111.4,1172.1 L112.0,1196.9 L112.5,1228.9 L113.0,1266.5 L113.6,1308.4 L114.1,1286.9 L114.7,1266.1 L115.2,1244.6 L115.8,1223.1 L116.3,1219.0 L116.9,1216.6 L117.4,1212.5 L118.0,1208.3 L118.5,1204.2 L119.1,1197.4 L119.6,1193.3 L120.2,1189.2 L120.7,1183.1 L121.2,1179.0 L121.7,1167.8 L122.2,1159.9 L122.7,1152.5 L123.2,1145.8 L123.8,1140.0 L124.3,1135.4 L124.8,1138.7 L125.3,1137.4 L125.8,1133.2 L126.3,1129.3 L126.8,1148.1 L127.3,1160.1 L127.8,1185.4 L128.3,1215.2 L128.9,1243.1 L129.4,1231.4 L130.0,1220.6 L130.5,1217.1 L131.0,1211.1 L131.6,1205.1 L132.1,1201.9 L132.7,1199.4 L133.2,1194.0 L133.7,1185.2 L134.2,1176.8 L134.7,1176.5 L135.2,1172.1 L135.7,1167.9 L136.2,1164.1 L136.7,1160.9 L137.2,1157.9 L137.7,1155.9 L138.2,1149.3 L138.7,1149.9 L139.2,1148.7 L139.8,1146.3 L140.3,1151.3 L140.9,1169.3 L141.5,1202.3 L142.0,1239.5 L142.6,1282.8 L143.2,1329.3 L143.7,1302.7 L144.2,1273.0 L144.7,1246.3 L145.2,1219.0 L145.7,1207.8 L146.3,1203.5 L146.8,1199.1 L147.4,1205.6 L147.9,1201.0 L148.5,1195.9 L149.0,1191.5 L149.5,1187.2 L150.1,1179.7 L150.6,1175.3 L151.2,1162.2 L151.7,1160.4 L152.3,1154.0 L152.8,1148.4 L153.4,1140.4 L153.9,1140.9 L154.4,1141.4 L155.0,1138.3 L155.5,1142.2 L156.0,1160.7 L156.6,1193.9 L157.1,1211.1 L157.6,1246.5 L158.2,1238.2 L158.7,1230.0 L159.3,1226.3 L159.8,1223.2 L160.4,1215.0 L161.0,1206.7 L161.5,1201.8 L162.0,1198.9 L162.5,1194.7 L163.0,1191.4 L163.5,1172.2 L164.0,1177.5 L164.5,1173.3 L165.1,1169.3 L165.6,1163.9 L166.1,1160.6 L166.6,1157.7 L167.1,1148.7 L167.6,1152.8 L168.1,1151.1 L168.6,1156.2 L169.1,1148.7 L169.6,1145.8 L170.1,1158.6 L170.7,1189.1 L171.2,1243.5 L171.8,1325.3 L172.3,1306.6 L172.9,1287.9 L173.5,1258.6 L174.0,1239.9 L174.6,1217.5 L175.1,1213.3 L175.7,1219.1 L176.2,1212.9 L176.8,1209.1 L177.3,1207.1 L177.9,1199.1 L178.4,1195.0 L178.9,1190.8 L179.5,1187.6 L180.0,1183.5 L180.6,1175.6 L181.1,1162.1 L181.7,1155.1 L182.2,1149.0 L182.8,1144.0 L183.3,1147.0 L183.8,1144.7 L184.4,1143.9 L184.9,1149.6 L185.5,1176.1 L186.0,1219.2 L186.6,1268.4 L187.1,1258.0 L187.7,1252.4 L188.2,1238.6 L188.7,1230.9 L189.3,1218.1 L189.8,1205.1 L190.4,1203.0 L190.9,1200.5 L191.5,1196.7 L192.0,1199.1 L192.6,1195.2 L193.1,1197.6 L193.6,1184.5 L194.2,1180.7 L194.7,1179.3 L195.3,1173.4 L195.8,1167.9 L196.4,1160.7 L196.9,1155.2 L197.5,1144.5 L198.0,1140.3 L198.5,1143.6 L199.1,1154.0 L199.6,1166.1 L200.1,1195.9 L200.6,1232.3 L201.2,1276.4 L201.7,1258.5 L202.3,1246.0 L202.9,1235.6 L203.4,1227.7 L204.0,1206.4 L204.5,1212.9 L205.1,1203.5 L205.6,1199.7 L206.2,1194.4 L206.7,1190.6 L207.3,1186.8 L207.8,1183.0 L208.3,1179.2 L208.8,1173.8 L209.4,1168.5 L209.9,1166.2 L210.4,1161.3 L210.9,1156.8 L211.4,1152.8 L211.9,1141.9 L212.4,1138.9 L212.9,1136.5 L213.4,1134.7 L213.9,1140.4 L214.4,1140.0 L214.9,1150.5 L215.4,1179.3 L215.9,1219.2 L216.4,1269.0 L217.0,1259.5 L217.5,1250.3 L218.1,1238.9 L218.7,1227.5 L219.2,1215.3 L219.8,1209.9 L220.3,1204.4 L220.9,1194.9 L221.4,1189.5 L222.0,1181.5 L222.5,1171.9 L223.0,1169.0 L223.6,1169.0 L224.1,1168.4 L224.7,1164.7 L225.2,1162.3 L225.8,1159.5 L226.3,1157.3 L226.9,1154.7 L227.4,1153.7 L227.9,1153.4 L228.5,1157.8 L229.0,1175.8 L229.5,1197.5 L230.0,1222.4 L230.6,1249.9 L231.1,1243.3 L231.7,1226.8 L232.2,1211.8 L232.8,1221.4 L233.4,1214.7 L233.9,1202.9 L234.5,1196.2 L235.0,1191.0 L235.5,1185.8 L236.0,1180.8 L236.5,1175.8 L237.1,1171.1 L237.6,1173.2 L238.1,1169.0 L238.6,1158.5 L239.1,1153.7 L239.6,1150.6 L240.2,1147.9 L240.7,1145.6 L241.2,1142.0 L241.7,1140.7 L242.2,1140.0 L242.7,1139.7 L243.3,1145.0 L243.8,1156.9 L244.3,1181.1 L244.8,1203.2 L245.3,1230.6 L245.8,1266.2 L246.4,1261.5 L246.9,1248.7 L247.5,1233.2 L248.0,1219.9 L248.6,1209.4 L249.2,1194.8 L249.7,1186.3 L250.2,1183.4 L250.7,1180.5 L251.2,1177.8 L251.7,1179.6 L252.2,1175.6 L252.7,1173.4 L253.2,1171.3 L253.7,1169.5 L254.2,1165.8 L254.7,1164.6 L255.2,1163.8 L255.7,1163.2 L256.2,1158.3 L256.8,1162.2 L257.3,1171.5 L257.9,1176.4 L258.4,1183.0 L259.0,1191.1 L259.5,1200.3 L260.1,1207.5 L260.6,1217.9 L261.1,1214.2 L261.7,1199.5 L262.2,1195.8 L262.8,1201.7 L263.3,1198.0 L263.9,1194.3 L264.4,1191.9 L265.0,1191.3 L265.5,1186.8 L266.0,1174.4 L266.5,1160.6 L267.0,1159.9 L267.5,1159.9 L268.0,1157.2 L268.6,1155.9 L269.1,1152.2 L269.6,1148.8 L270.1,1143.0 L270.6,1144.0 L271.1,1146.5 L271.6,1142.9 L272.2,1132.8 L272.7,1131.5 L273.2,1133.6 L273.7,1139.4 L274.2,1144.4 L274.8,1168.1 L275.3,1195.8 L275.8,1245.2 L276.4,1243.8 L276.9,1242.1 L277.5,1226.8 L278.0,1226.2 L278.6,1219.1 L279.1,1212.0 L279.6,1209.0 L280.1,1204.9 L280.6,1200.8 L281.1,1195.0 L281.7,1191.3 L282.2,1187.7 L282.7,1197.1 L283.2,1194.2 L283.7,1177.6 L284.2,1177.2 L284.7,1174.9 L285.2,1175.9 L285.7,1171.1 L286.2,1169.0 L286.7,1175.2 L287.3,1180.8 L287.8,1177.3 L288.4,1174.5 L288.9,1179.5 L289.5,1181.9 L290.0,1184.8 L290.5,1181.9 L291.1,1185.4 L291.6,1189.0 L292.2,1192.8 L292.7,1202.4 L293.3,1201.7 L293.8,1201.0 L294.4,1202.7 L294.9,1202.0 L295.4,1201.4 L296.0,1200.7 L296.5,1190.3 L297.1,1185.0 L297.6,1181.1 L298.2,1176.2 L298.7,1171.6 L299.3,1167.6 L299.8,1160.7 L300.3,1157.9 L300.9,1155.9 L301.4,1156.9 L302.0,1163.9 L302.5,1167.2 L303.1,1172.2 L303.6,1183.3 L304.2,1202.4 L304.7,1232.6 L305.2,1248.6 L305.8,1243.5 L306.3,1238.9 L306.9,1230.5 L307.4,1222.8 L308.0,1221.1 L308.5,1216.4 L309.0,1212.5 L309.5,1208.4 L310.1,1204.1 L310.6,1196.5 L311.1,1189.6 L311.6,1193.6 L312.1,1193.1 L312.6,1191.4 L313.2,1188.3 L313.7,1178.9 L314.2,1176.3 L314.7,1177.9 L315.2,1175.8 L315.7,1174.0 L316.2,1172.5 L316.8,1174.2 L317.3,1167.9 L317.8,1167.3 L318.3,1179.0 L318.9,1179.4 L319.4,1168.3 L319.9,1170.1 L320.5,1172.6 L321.0,1175.5 L321.6,1186.8 L322.1,1190.5 L322.7,1189.2 L323.2,1196.8 L323.8,1198.4 L324.3,1191.0 L324.8,1190.6 L325.4,1189.3 L325.9,1186.8 L326.5,1183.3 L327.0,1190.8 L327.6,1193.3 L328.1,1193.3 L328.6,1179.6 L329.2,1174.6 L329.7,1170.0 L330.2,1170.8 L330.8,1167.9 L331.3,1166.2 L331.8,1165.6 L332.4,1170.9 L332.9,1177.2 L333.5,1187.5 L334.1,1201.1 L334.6,1208.2 L335.2,1225.3 L335.7,1244.5 L336.3,1251.2 L336.8,1247.2 L337.4,1235.1 L337.9,1231.1 L338.5,1231.5 L339.0,1227.6 L339.5,1215.0 L340.1,1211.0 L340.6,1204.4 L341.1,1197.8 L341.6,1203.7 L342.1,1197.4 L342.6,1191.2 L343.1,1185.3 L343.6,1174.5 L344.1,1167.0 L344.6,1160.3 L345.1,1155.3 L345.6,1153.6 L346.1,1150.6 L346.7,1147.5 L347.2,1158.8 L347.7,1156.8 L348.2,1145.7 L348.7,1144.2 L349.2,1142.7 L349.7,1132.4 L350.3,1136.7 L350.8,1143.5 L351.3,1148.3 L351.9,1157.3 L352.4,1162.3 L353.0,1167.9 L353.5,1179.4 L354.0,1190.2 L354.6,1192.0 L355.1,1196.6 L355.6,1189.7 L356.1,1191.5 L356.6,1188.7 L357.1,1186.1 L357.6,1183.6 L358.1,1180.6 L358.6,1178.6 L359.1,1167.2 L359.6,1165.7 L360.1,1164.5 L360.6,1163.7 L361.1,1166.5 L361.6,1166.3 L362.2,1168.7 L362.7,1183.0 L363.3,1194.3 L363.9,1209.3 L364.4,1227.2 L365.0,1241.5 L365.5,1259.3 L366.0,1256.6 L366.6,1254.9 L367.1,1252.8 L367.7,1240.2 L368.2,1235.4 L368.7,1230.5 L369.3,1226.9 L369.8,1222.1 L370.4,1221.3 L370.9,1213.3 L371.4,1205.3 L371.9,1197.5 L372.4,1191.8 L373.0,1184.4 L373.5,1177.4 L374.0,1168.0 L374.5,1161.9 L375.1,1155.0 L375.6,1149.0 L376.1,1140.6 L376.6,1132.9 L377.1,1136.1 L377.7,1135.6 L378.2,1135.2 L378.7,1134.1 L379.2,1130.5 L379.8,1131.3 L380.3,1133.7 L380.8,1140.9 L381.3,1146.2 L381.9,1152.7 L382.4,1160.4 L382.9,1170.3 L383.5,1179.6 L384.0,1189.4 L384.5,1197.6 L385.0,1194.3 L385.5,1196.8 L386.0,1193.7 L386.6,1190.6 L387.1,1182.1 L387.6,1179.4 L388.1,1176.9 L388.6,1168.1 L389.1,1166.2 L389.6,1171.0 L390.2,1162.0 L390.7,1161.0 L391.2,1163.9 L391.7,1163.8 L392.2,1171.8 L392.8,1183.4 L393.3,1202.3 L393.8,1224.8 L394.4,1251.6 L394.9,1279.8 L395.4,1267.8 L396.0,1260.6 L396.5,1262.5 L397.1,1255.4 L397.6,1238.2 L398.1,1235.0 L398.7,1227.8 L399.2,1216.4 L399.7,1208.5 L400.2,1204.3 L400.7,1196.7 L401.2,1189.2 L401.7,1184.2 L402.3,1177.4 L402.8,1170.8 L403.3,1164.5 L403.8,1158.8 L404.3,1153.7 L404.8,1149.0 L405.3,1144.7 L405.8,1141.2 L406.4,1138.3 L406.9,1131.3 L407.4,1129.6 L407.9,1128.7 L408.4,1128.9 L409.0,1130.3 L409.5,1129.5 L410.1,1136.4 L410.6,1145.6 L411.2,1159.1 L411.7,1176.2 L412.3,1190.1 L412.8,1204.5 L413.3,1196.2 L413.8,1192.6 L414.4,1189.0 L414.9,1185.2 L415.4,1181.9 L415.9,1178.8 L416.4,1175.8 L416.9,1183.9 L417.4,1181.3 L417.9,1179.0 L418.5,1177.0 L419.0,1163.3 L419.5,1165.7 L420.0,1168.6 L420.5,1168.6 L421.0,1164.1 L421.5,1159.8 L422.1,1165.7 L422.6,1182.9 L423.2,1208.2 L423.7,1238.7 L424.3,1286.4 L424.8,1280.3 L425.4,1274.2 L425.9,1264.9 L426.4,1248.0 L427.0,1238.6 L427.5,1229.3 L428.1,1221.5 L428.6,1214.1 L429.1,1208.7 L429.6,1199.2 L430.1,1191.3 L430.7,1190.5 L431.2,1185.1 L431.7,1179.9 L432.2,1175.1 L432.7,1172.5 L433.3,1168.4 L433.8,1165.4 L434.3,1162.1 L434.8,1159.3 L435.3,1156.2 L435.9,1154.4 L436.4,1153.1 L436.9,1147.2 L437.4,1146.9 L437.9,1150.4 L438.5,1158.1 L439.0,1163.9 L439.5,1171.8 L440.0,1184.2 L440.5,1201.9 L441.0,1214.9 L441.6,1222.0 L442.1,1212.4 L442.6,1207.4 L443.1,1207.0 L443.6,1194.4 L444.1,1193.8 L444.7,1189.9 L445.2,1186.1 L445.7,1177.6 L446.2,1175.7 L446.7,1172.6 L447.2,1165.3 L447.7,1162.7 L448.3,1160.5 L448.8,1160.2 L449.3,1158.6 L449.8,1165.4 L450.3,1164.5 L450.8,1163.9 L451.4,1163.7 L451.9,1166.6 L452.4,1192.4 L453.0,1233.4 L453.5,1291.4 L454.1,1277.1 L454.7,1267.6 L455.2,1258.1 L455.8,1252.0 L456.3,1242.5 L456.9,1233.0 L457.5,1223.5 L458.0,1218.2 L458.5,1212.0 L459.0,1204.1 L459.5,1198.2 L460.0,1192.5 L460.5,1177.5 L461.0,1178.0 L461.5,1171.0 L462.0,1176.0 L462.5,1171.8 L463.0,1168.1 L463.6,1164.8 L464.1,1150.7 L464.6,1148.4 L465.1,1146.5 L465.6,1150.8 L466.1,1150.0 L466.6,1149.7 L467.2,1151.6 L467.7,1158.4 L468.3,1160.9 L468.8,1172.8 L469.4,1187.0 L470.0,1202.9 L470.5,1223.8 L471.0,1218.5 L471.5,1213.2 L472.1,1201.2 L472.6,1196.1 L473.1,1191.2 L473.6,1186.3 L474.1,1188.0 L474.6,1183.6 L475.1,1184.7 L475.6,1175.3 L476.1,1171.7 L476.7,1168.5 L477.2,1168.0 L477.7,1165.4 L478.2,1162.9 L478.7,1158.1 L479.2,1154.0 L479.7,1154.5 L480.2,1151.8 L480.8,1153.3 L481.4,1188.1 L482.0,1263.5 L482.5,1258.7 L483.1,1254.2 L483.6,1249.4 L484.2,1244.5 L484.7,1236.8 L485.2,1232.0 L485.8,1227.2 L486.3,1227.6 L486.9,1222.7 L487.4,1215.2 L487.9,1209.0 L488.4,1202.9 L488.9,1196.9 L489.5,1197.0 L490.0,1191.5 L490.5,1186.2 L491.0,1181.2 L491.5,1167.9 L492.1,1163.7 L492.6,1156.9 L493.1,1147.7 L493.6,1143.6 L494.1,1146.7 L494.7,1143.2 L495.2,1141.8 L495.7,1142.6 L496.2,1142.3 L496.7,1148.1 L497.2,1156.8 L497.7,1170.7 L498.2,1192.2 L498.8,1219.1 L499.3,1241.6 L499.8,1231.9 L500.3,1225.7 L500.8,1219.7 L501.3,1215.6 L501.8,1206.8 L502.3,1202.4 L502.8,1194.4 L503.3,1186.2 L503.8,1181.0 L504.3,1176.5 L504.8,1172.3 L505.3,1164.7 L505.8,1161.2 L506.3,1166.4 L506.8,1163.8 L507.3,1161.7 L507.8,1159.0 L508.3,1157.8 L508.8,1157.1 L509.3,1158.4 L509.8,1163.2 L510.3,1181.5 L510.8,1208.1 L511.3,1237.1 L511.8,1266.3 L512.3,1298.6 L512.9,1289.5 L513.4,1278.6 L514.0,1267.7 L514.6,1256.8 L515.1,1238.9 L515.7,1228.0 L516.2,1219.1 L516.8,1214.6 L517.3,1215.8 L517.8,1207.0 L518.3,1198.7 L518.8,1184.8 L519.3,1178.9 L519.8,1173.3 L520.3,1166.7 L520.9,1161.9 L521.4,1163.9 L521.9,1160.1 L522.4,1156.8 L522.9,1154.1 L523.4,1143.7 L523.9,1147.5 L524.4,1146.5 L525.0,1140.9 L525.5,1144.2 L526.0,1153.7 L526.6,1169.0 L527.1,1190.1 L527.7,1213.2 L528.2,1238.0 L528.7,1231.5 L529.3,1233.6 L529.8,1221.5 L530.3,1215.3 L530.8,1209.1 L531.3,1203.1 L531.9,1194.9 L532.4,1189.4 L532.9,1184.1 L533.4,1186.1 L533.9,1181.5 L534.4,1177.0 L535.0,1173.2 L535.5,1169.7 L536.0,1166.7 L536.5,1155.0 L537.0,1157.1 L537.6,1155.4 L538.1,1157.4 L538.6,1156.7 L539.1,1156.4 L539.7,1166.4 L540.2,1189.5 L540.7,1231.9 L541.3,1285.9 L541.8,1273.0 L542.4,1260.9 L542.9,1248.7 L543.5,1236.6 L544.0,1230.4 L544.6,1215.1 L545.1,1211.9 L545.6,1200.9 L546.1,1195.2 L546.6,1189.6 L547.1,1186.0 L547.6,1180.7 L548.1,1181.0 L548.6,1176.3 L549.1,1159.8 L549.6,1155.8 L550.1,1152.2 L550.7,1149.0 L551.2,1156.6 L551.7,1154.4 L552.2,1145.4 L552.7,1144.2 L553.2,1143.4 L553.7,1140.7 L554.2,1144.2 L554.8,1154.7 L555.3,1171.3 L555.9,1196.9 L556.4,1222.1 L557.0,1249.2 L557.5,1242.5 L558.0,1229.7 L558.5,1220.7 L559.0,1217.3 L559.5,1209.9 L560.0,1207.1 L560.5,1205.4 L561.0,1200.1 L561.5,1194.6 L562.0,1189.4 L562.5,1189.0 L563.0,1184.4 L563.5,1181.5 L564.0,1180.8 L564.5,1167.3 L565.0,1161.9 L565.6,1156.9 L566.1,1154.3 L566.6,1159.1 L567.1,1157.2 L567.6,1156.5 L568.1,1156.3 L568.6,1162.0 L569.1,1182.5 L569.6,1202.2 L570.1,1234.7 L570.6,1270.7 L571.2,1260.7 L571.7,1249.7 L572.3,1238.0 L572.8,1228.0 L573.4,1218.0 L574.0,1216.1 L574.5,1210.4 L575.0,1204.6 L575.5,1199.0 L576.0,1188.0 L576.6,1182.6 L577.1,1177.5 L577.6,1175.3 L578.1,1170.7 L578.6,1173.4 L579.2,1158.6 L579.7,1155.1 L580.2,1152.0 L580.7,1144.4 L581.2,1142.2 L581.8,1140.4 L582.3,1139.2 L582.8,1149.9 L583.3,1149.6 L583.8,1148.2 L584.4,1163.2 L584.9,1186.6 L585.4,1216.0 L585.9,1248.1 L586.4,1241.2 L587.0,1234.5 L587.5,1233.4 L588.0,1226.8 L588.5,1220.4 L589.0,1215.0 L589.6,1209.0 L590.1,1203.2 L590.6,1194.7 L591.1,1189.5 L591.6,1184.7 L592.2,1180.3 L592.7,1180.7 L593.2,1177.1 L593.7,1173.9 L594.2,1171.1 L594.7,1168.3 L595.3,1166.5 L595.8,1159.7 L596.3,1159.0 L596.8,1158.7 L597.4,1163.6 L597.9,1180.6 L598.5,1202.7 L599.0,1226.5 L599.6,1257.5 L600.1,1250.0 L600.7,1245.4 L601.2,1233.8 L601.7,1226.3 L602.3,1224.5 L602.8,1217.0 L603.4,1209.6 L603.9,1203.5 L604.4,1202.7 L604.9,1196.8 L605.5,1184.4 L606.0,1178.9 L606.5,1173.7 L607.1,1172.6 L607.6,1168.1 L608.1,1164.0 L608.7,1160.4 L609.2,1156.6 L609.7,1154.0 L610.3,1151.0 L610.8,1149.5 L611.3,1148.6 L611.8,1148.6 L612.4,1147.7 L612.9,1160.7 L613.5,1175.0 L614.0,1193.7 L614.6,1228.7 L615.1,1255.5 L615.6,1242.4 L616.2,1235.9 L616.7,1229.4 L617.2,1218.8 L617.7,1212.6 L618.2,1206.6 L618.8,1208.0 L619.3,1202.5 L619.8,1197.3 L620.3,1185.6 L620.9,1181.1 L621.4,1177.0 L621.9,1182.1 L622.4,1178.9 L622.9,1176.1 L623.5,1175.9 L624.0,1174.1 L624.5,1172.8 L625.0,1172.1 L625.6,1164.9 L626.1,1166.6 L626.6,1171.6 L627.1,1179.6 L627.7,1193.4 L628.2,1203.8 L628.7,1218.1 L629.3,1232.4 L629.8,1227.4 L630.3,1220.9 L630.8,1218.7 L631.3,1219.4 L631.8,1210.5 L632.3,1202.3 L632.8,1197.1 L633.3,1192.1 L633.8,1187.3 L634.3,1182.9 L634.8,1178.5 L635.3,1175.5 L635.8,1175.9 L636.3,1170.9 L636.9,1164.0 L637.4,1155.9 L637.9,1155.0 L638.4,1157.5 L638.9,1160.3 L639.4,1155.8 L639.9,1145.8 L640.4,1142.0 L640.9,1141.5 L641.4,1141.3 L641.9,1151.4 L642.5,1167.4 L643.0,1192.6 L643.5,1219.7 L644.0,1254.0 L644.5,1250.5 L645.0,1240.3 L645.6,1233.5 L646.1,1226.9 L646.6,1226.8 L647.1,1223.5 L647.6,1222.5 L648.1,1213.2 L648.6,1202.8 L649.2,1200.3 L649.7,1192.3 L650.2,1190.1 L650.7,1186.3 L651.2,1182.9 L651.7,1189.3 L652.2,1186.9 L652.8,1185.1 L653.3,1174.0 L653.8,1173.2 L654.3,1169.2 L654.9,1170.1 L655.4,1173.8 L655.9,1178.3 L656.5,1184.2 L657.0,1191.5 L657.6,1201.8 L658.1,1210.8 L658.7,1223.7 L659.2,1218.0 L659.7,1213.7 L660.2,1202.2 L660.7,1197.9 L661.3,1200.1 L661.8,1196.0 L662.3,1186.8 L662.8,1183.0 L663.3,1179.3 L663.9,1175.8 L664.4,1181.8 L664.9,1178.7 L665.4,1174.5 L666.0,1171.8 L666.5,1164.8 L667.0,1152.6 L667.5,1154.0 L668.0,1157.8 L668.6,1160.4 L669.1,1155.4 L669.6,1154.7 L670.1,1154.2 L670.6,1154.3 L671.2,1159.4 L671.7,1172.7 L672.3,1188.7 L672.8,1214.9 L673.4,1236.5 L673.9,1257.2 L674.4,1246.7 L674.9,1231.5 L675.4,1238.8 L675.9,1233.6 L676.4,1228.6 L677.0,1205.8 L677.5,1201.3 L678.0,1197.0 L678.5,1193.0 L679.0,1196.5 L679.5,1197.7 L680.0,1194.8 L680.5,1192.3 L681.0,1190.3 L681.5,1181.9 L682.0,1180.7 L682.5,1180.0 L683.0,1175.1 L683.6,1175.5 L684.1,1176.9 L684.7,1181.7 L685.2,1183.0 L685.8,1186.7 L686.3,1190.8 L686.9,1196.0 L687.4,1200.7 L687.9,1190.8 L688.4,1195.0 L688.9,1196.4 L689.4,1193.7 L689.9,1196.8 L690.5,1174.0 L691.0,1171.6 L691.5,1169.2 L692.0,1166.9 L692.5,1179.8 L693.0,1177.7 L693.5,1178.3 L694.0,1176.4 L694.5,1172.5 L695.0,1170.0 L695.5,1166.4 L696.0,1171.7 L696.6,1170.1 L697.1,1167.4 L697.6,1164.4 L698.1,1161.8 L698.6,1157.9 L699.1,1152.7 L699.6,1155.3 L700.1,1160.2 L700.7,1174.1 L701.2,1184.9 L701.7,1198.9 L702.2,1207.7 L702.8,1223.5 L703.3,1244.7 L703.8,1241.0 L704.3,1223.8 L704.9,1223.6 L705.4,1220.0 L705.9,1221.2 L706.4,1217.7 L706.9,1214.4 L707.5,1207.8 L708.0,1204.7 L708.5,1201.7 L709.0,1202.0 L709.5,1204.5 L710.1,1202.4 L710.6,1196.1 L711.1,1190.6 L711.6,1192.4 L712.2,1183.3 L712.7,1181.9 L713.2,1180.8 L713.7,1184.1 L714.2,1183.5 L714.8,1186.9 L715.3,1186.8 L715.8,1187.0 L716.4,1187.5 L716.9,1182.6 L717.5,1191.3 L718.0,1192.7 L718.5,1194.2 L719.1,1183.0 L719.6,1184.7 L720.2,1181.7 L720.7,1180.6 L721.3,1186.5 L721.8,1186.0 L722.4,1188.5 L722.9,1191.1 L723.4,1186.7 L724.0,1182.0 L724.5,1180.0 L725.1,1178.9 L725.6,1187.9 L726.2,1185.9 L726.7,1184.0 L727.3,1182.3 L727.8,1165.9 L728.3,1169.4 L728.9,1168.7 L729.4,1168.5 L730.0,1169.8 L730.5,1175.8 L731.1,1181.9 L731.6,1190.2 L732.2,1198.1 L732.7,1209.6 L733.2,1222.1 L733.8,1239.9 L734.3,1231.9 L734.8,1227.7 L735.3,1223.5 L735.9,1219.2 L736.4,1215.2 L736.9,1211.2 L737.4,1212.7 L738.0,1209.0 L738.5,1205.5 L739.0,1202.1 L739.5,1192.5 L740.0,1189.5 L740.6,1190.2 L741.1,1187.6 L741.6,1183.0 L742.1,1179.5 L742.6,1177.7 L743.2,1174.0 L743.7,1172.7 L744.2,1168.9 L744.7,1160.3 L745.2,1160.4 L745.8,1163.5 L746.3,1172.7 L746.9,1173.2 L747.4,1173.9 L747.9,1175.0 L748.5,1178.1 L749.0,1179.6 L749.6,1181.1 L750.1,1183.0 L750.7,1180.9 L751.2,1183.0 L751.7,1181.7 L752.2,1180.4 L752.7,1179.1 L753.2,1179.0 L753.7,1179.9 L754.2,1179.3 L754.7,1176.3 L755.2,1177.6 L755.7,1186.8 L756.2,1186.2 L756.7,1181.1 L757.2,1180.8 L757.7,1180.8 L758.3,1181.4 L758.8,1178.5 L759.3,1181.7 L759.9,1186.0 L760.4,1191.4 L760.9,1200.9 L761.5,1208.2 L762.0,1216.1 L762.6,1224.5 L763.1,1234.0 L763.6,1243.0 L764.1,1236.0 L764.6,1231.3 L765.1,1222.4 L765.6,1217.7 L766.1,1213.2 L766.7,1220.5 L767.2,1216.2 L767.7,1212.0 L768.2,1207.9 L768.7,1186.9 L769.2,1183.2 L769.7,1179.7 L770.2,1176.3 L770.7,1183.4 L771.2,1180.5 L771.7,1177.9 L772.2,1175.5 L772.7,1169.4 L773.2,1167.5 L773.7,1165.9 L774.2,1166.1 L774.7,1165.0 L775.2,1164.3 L775.7,1175.7 L776.2,1175.5 L776.8,1175.7 L777.3,1176.1 L777.8,1168.5 L778.3,1173.0 L778.8,1177.7 L779.3,1177.0 L779.8,1172.1 L780.3,1172.8 L780.8,1175.1 L781.3,1179.1 L781.8,1181.7 L782.3,1187.6 L782.9,1182.6 L783.4,1185.6 L783.9,1188.5 L784.4,1192.4 L785.0,1190.3 L785.5,1181.5 L786.0,1179.6 L786.6,1177.9 L787.1,1176.4 L787.7,1183.0 L788.2,1181.0 L788.8,1180.5 L789.3,1176.3 L789.9,1177.7 L790.4,1181.7 L790.9,1191.3 L791.5,1200.1 L792.0,1210.8 L792.6,1223.0 L793.1,1233.0 L793.7,1246.8 L794.2,1240.5 L794.7,1240.8 L795.2,1234.6 L795.7,1228.4 L796.2,1222.3 L796.8,1213.2 L797.3,1206.1 L797.8,1200.6 L798.3,1195.4 L798.8,1190.4 L799.3,1188.4 L799.8,1184.0 L800.4,1177.6 L800.9,1174.0 L801.4,1170.7 L801.9,1167.9 L802.4,1167.0 L802.9,1165.0 L803.4,1163.4 L804.0,1156.9 L804.5,1156.2 L805.0,1160.6 L805.5,1158.6 L806.0,1159.7 L806.5,1161.6 L807.0,1163.2 L807.5,1166.0 L808.0,1169.8 L808.5,1174.0 L809.0,1178.6 L809.5,1177.5 L810.0,1182.4 L810.5,1191.6 L811.0,1190.0 L811.5,1189.9 L812.1,1188.5 L812.6,1189.3 L813.1,1190.0 L813.6,1191.6 L814.1,1184.9 L814.6,1171.4 L815.1,1181.6 L815.6,1188.7 L816.1,1205.3 L816.7,1202.2 L817.2,1209.3 L817.7,1206.5 L818.2,1227.1 L818.7,1243.6 L819.3,1221.5 L819.8,1195.2 L820.3,1199.8 L820.9,1213.2 L821.4,1227.7 L822.0,1263.0 L822.5,1298.7 L823.1,1273.2 L823.6,1240.3 L824.1,1207.3 L824.6,1208.6 L825.1,1223.4 L825.6,1228.6 L826.1,1225.2 L826.6,1233.3 L827.1,1239.7 L827.6,1261.3 L828.1,1247.3 L828.6,1239.1 L829.1,1225.5 L829.6,1210.4 L830.1,1215.8 L830.6,1209.3 L831.1,1196.6 L831.6,1195.4 L832.1,1194.8 L832.6,1200.7 L833.1,1195.7 L833.6,1190.8 L834.1,1173.4 L834.6,1143.9 L835.1,1143.6 L835.6,1158.7 L836.1,1174.4 L836.7,1185.6 L837.2,1189.5 L837.8,1206.4 L838.3,1202.0 L838.9,1200.2 L839.4,1200.9 L839.9,1189.5 L840.5,1206.1 L841.0,1209.1 L841.5,1224.4 L842.0,1218.7 L842.5,1224.6 L843.0,1217.5 L843.6,1211.0 L844.1,1199.2 L844.6,1191.5 L845.1,1176.5 L845.6,1142.9 L846.1,1112.4 L846.6,1145.9 L847.1,1179.5 L847.7,1200.9 L848.2,1198.3 L848.7,1205.6 L849.2,1199.1 L849.8,1205.6 L850.3,1211.4 L850.9,1226.5 L851.5,1239.0 L852.0,1276.1 L852.6,1310.9 L853.1,1281.2 L853.6,1246.4 L854.2,1230.5 L854.7,1232.3 L855.2,1228.8 L855.8,1223.5 L856.3,1246.0 L856.8,1254.3 L857.3,1238.7 L857.8,1215.4 L858.4,1209.1 L858.9,1207.5 L859.4,1206.8 L859.9,1204.4 L860.4,1202.8 L860.9,1211.8 L861.4,1225.7 L861.9,1208.9 L862.5,1190.1 L863.0,1205.7 L863.5,1227.7 L864.0,1218.1 L864.5,1205.4 L865.0,1190.3 L865.5,1167.0 L866.0,1125.8 L866.5,1120.6 L867.0,1135.2 L867.5,1152.2 L868.0,1199.2 L868.5,1209.2 L869.0,1218.4 L869.5,1220.1 L870.1,1239.9 L870.6,1234.5 L871.1,1216.4 L871.6,1223.0 L872.1,1189.5 L872.6,1155.9 L873.1,1122.4 L873.6,1132.8 L874.1,1166.4 L874.7,1199.9 L875.2,1206.4 L875.7,1190.4 L876.2,1184.8 L876.7,1192.5 L877.2,1196.3 L877.7,1170.4 L878.2,1142.2 L878.8,1162.3 L879.3,1184.1 L879.8,1195.2 L880.4,1205.5 L880.9,1227.2 L881.4,1254.8 L882.0,1244.2 L882.5,1230.1 L883.1,1219.5 L883.6,1223.5 L884.1,1229.3 L884.7,1229.8 L885.2,1228.4 L885.7,1225.8 L886.2,1225.1 L886.7,1215.2 L887.2,1213.5 L887.8,1212.0 L888.3,1212.4 L888.8,1221.8 L889.3,1211.4 L889.8,1210.1 L890.4,1188.3 L890.9,1187.3 L891.4,1185.4 L891.9,1197.7 L892.4,1184.6 L893.0,1177.8 L893.5,1167.2 L894.0,1183.7 L894.5,1182.1 L895.1,1186.1 L895.6,1174.9 L896.2,1181.7 L896.8,1184.7 L897.3,1191.5 L897.9,1190.4 L898.4,1194.1 L898.9,1223.3 L899.4,1221.3 L899.9,1215.6 L900.4,1203.2 L900.9,1204.6 L901.5,1195.1 L902.0,1180.5 L902.5,1181.5 L903.0,1190.3 L903.5,1203.2 L904.0,1203.9 L904.5,1207.4 L905.1,1217.4 L905.6,1225.6 L906.1,1203.9 L906.6,1195.5 L907.1,1196.8 L907.6,1189.6 L908.1,1184.6 L908.7,1179.8 L909.2,1217.9 L909.8,1264.0 L910.3,1268.7 L910.8,1270.1 L911.4,1262.0 L911.9,1254.6 L912.4,1246.2 L912.9,1244.2 L913.5,1255.4 L914.0,1261.9 L914.5,1236.2 L915.0,1212.7 L915.5,1211.1 L916.1,1211.7 L916.6,1211.9 L917.1,1204.5 L917.6,1201.4 L918.1,1199.2 L918.7,1216.3 L919.2,1217.6 L919.7,1217.2 L920.2,1201.2 L920.7,1188.7 L921.3,1179.3 L921.8,1145.2 L922.3,1111.2 L922.8,1144.6 L923.4,1180.3 L923.9,1207.5 L924.4,1213.8 L925.0,1235.6 L925.5,1240.4 L926.1,1244.4 L926.6,1233.0 L927.2,1213.0 L927.7,1205.3 L928.3,1198.5 L928.8,1186.2 L929.3,1211.2 L929.9,1226.8 L930.4,1216.1 L931.0,1216.0 L931.5,1210.2 L932.0,1201.1 L932.5,1194.1 L933.0,1192.3 L933.5,1194.9 L934.1,1180.8 L934.6,1188.4 L935.1,1238.4 L935.6,1258.0 L936.1,1215.0 L936.6,1198.2 L937.2,1190.6 L937.7,1182.4 L938.2,1180.8 L938.7,1174.0 L939.4,1195.7 L940.0,1225.5 L940.7,1269.0 L941.2,1253.0 L941.8,1263.9 L942.4,1265.7 L942.9,1259.8 L943.5,1246.4 L944.0,1232.5 L944.5,1216.0 L945.0,1204.4 L945.6,1195.8 L946.1,1197.8 L946.6,1189.6 L947.1,1189.9 L947.6,1182.7 L948.1,1176.1 L948.6,1170.2 L949.1,1156.0 L949.7,1155.3 L950.2,1141.1 L950.7,1138.1 L951.2,1135.9 L951.7,1134.5 L952.2,1138.0 L952.8,1139.3 L953.3,1156.1 L953.8,1183.4 L954.4,1217.1 L954.9,1248.4 L955.5,1286.7 L956.0,1281.5 L956.6,1270.1 L957.1,1258.7 L957.7,1247.2 L958.2,1235.8 L958.7,1227.7 L959.3,1224.1 L959.8,1216.6 L960.3,1204.3 L960.8,1193.0 L961.3,1185.8 L961.9,1178.8 L962.4,1169.1 L962.9,1162.8 L963.4,1156.7 L963.9,1143.8 L964.5,1141.7 L965.0,1136.9 L965.5,1132.6 L966.0,1125.2 L966.5,1122.0 L967.1,1125.7 L967.6,1126.9 L968.1,1125.4 L968.6,1124.5 L969.1,1116.9 L969.4,1173.9 L969.6,1311.7 L970.2,1295.6 L970.7,1283.2 L971.3,1267.1 L971.8,1250.9 L972.4,1234.8 L972.9,1224.7 L973.4,1212.3 L973.9,1205.1 L974.5,1198.0 L975.0,1190.6 L975.5,1183.8 L976.0,1177.2 L976.5,1171.8 L977.1,1165.7 L977.6,1160.0 L978.1,1154.7 L978.6,1154.0 L979.1,1149.5 L979.7,1145.4 L980.2,1141.9 L980.7,1131.6 L981.2,1134.5 L981.7,1131.8 L982.3,1130.4 L982.8,1129.8 L983.3,1129.5 L983.5,1183.4 L983.8,1313.5 L984.3,1300.3 L984.9,1285.1 L985.4,1269.9 L986.0,1257.0 L986.5,1235.4 L987.1,1215.4 L987.6,1214.4 L988.1,1206.1 L988.6,1198.2 L989.1,1190.4 L989.6,1182.9 L990.1,1178.8 L990.7,1171.8 L991.2,1165.2 L991.7,1159.0 L992.2,1148.1 L992.7,1142.8 L993.2,1138.1 L993.8,1135.3 L994.3,1133.2 L994.8,1135.5 L995.3,1138.3 L995.8,1124.6 L996.3,1113.4 L996.9,1107.2 L997.4,1136.8 L997.9,1177.6 L998.5,1224.3 L999.0,1288.4 L999.6,1278.4 L1000.1,1266.8 L1000.7,1255.1 L1001.2,1247.8 L1001.8,1236.2 L1002.3,1224.6 L1002.8,1212.1 L1003.3,1201.4 L1003.8,1192.2 L1004.3,1184.2 L1004.9,1175.7 L1005.4,1168.3 L1005.9,1160.6 L1006.4,1162.1 L1006.9,1152.4 L1007.4,1147.0 L1007.9,1147.3 L1008.4,1143.2 L1009.0,1139.8 L1009.5,1137.1 L1010.0,1124.6 L1010.5,1123.4 L1011.0,1123.0 L1011.6,1127.3 L1012.1,1147.4 L1012.7,1167.6 L1013.2,1194.5 L1013.8,1228.3 L1014.3,1268.4 L1014.9,1309.2 L1015.4,1279.4 L1015.9,1249.2 L1016.5,1224.8 L1017.0,1217.1 L1017.5,1209.5 L1018.0,1193.7 L1018.5,1182.3 L1019.0,1178.1 L1019.6,1171.1 L1020.1,1164.4 L1020.6,1166.8 L1021.1,1160.7 L1021.6,1155.1 L1022.2,1149.9 L1022.7,1141.2 L1023.2,1136.9 L1023.7,1133.1 L1024.2,1129.9 L1024.8,1128.2 L1025.3,1126.1 L1025.8,1124.6 L1026.3,1123.7 L1026.8,1116.1 L1027.4,1125.7 L1027.9,1165.6 L1028.4,1206.6 L1028.9,1254.9 L1029.4,1247.7 L1030.0,1235.3 L1030.5,1228.2 L1031.1,1221.0 L1031.7,1214.1 L1032.2,1205.7 L1032.8,1198.5 L1033.3,1185.9 L1033.8,1179.3 L1034.3,1170.5 L1034.9,1171.8 L1035.4,1164.3 L1035.9,1153.1 L1036.4,1151.2 L1036.9,1145.9 L1037.4,1141.0 L1038.0,1141.8 L1038.5,1137.7 L1039.0,1126.0 L1039.5,1118.2 L1040.0,1116.6 L1040.5,1119.3 L1041.1,1121.0 L1041.6,1126.5 L1042.1,1117.5 L1042.6,1131.4 L1043.2,1171.1 L1043.7,1235.2 L1044.3,1305.2 L1044.8,1276.9 L1045.3,1248.6 L1045.8,1215.2 L1046.4,1209.7 L1046.9,1204.1 L1047.4,1198.6 L1047.9,1208.8 L1048.4,1203.6 L1048.9,1188.1 L1049.5,1183.3 L1050.0,1178.7 L1050.5,1174.5 L1051.0,1167.9 L1051.5,1167.2 L1052.0,1160.7 L1052.6,1156.8 L1053.1,1157.6 L1053.6,1156.9 L1054.1,1155.3 L1054.6,1154.2 L1055.1,1151.4 L1055.6,1151.6 L1056.2,1162.7 L1056.7,1169.7 L1057.3,1180.7 L1057.8,1183.4 L1058.4,1206.3 L1058.9,1227.3 L1059.5,1222.9 L1060.0,1222.9 L1060.5,1222.6 L1061.1,1217.3 L1061.6,1207.4 L1062.2,1199.7 L1062.7,1189.2 L1063.3,1184.9 L1063.8,1178.1 L1064.3,1171.3 L1064.8,1168.1 L1065.3,1161.7 L1065.8,1155.7 L1066.3,1146.8 L1066.8,1141.0 L1067.3,1132.5 L1067.8,1125.0 L1068.3,1123.1 L1068.9,1128.0 L1069.4,1127.8 L1069.9,1126.0 L1070.4,1124.6 L1070.9,1124.3 L1071.4,1135.5 L1072.0,1167.6 L1072.5,1217.3 L1073.1,1267.1 L1073.6,1250.9 L1074.2,1241.2 L1074.7,1237.5 L1075.2,1229.6 L1075.8,1218.6 L1076.3,1213.3 L1076.9,1208.6 L1077.4,1202.8 L1078.0,1203.5 L1078.5,1197.7 L1079.1,1191.9 L1079.6,1184.9 L1080.1,1179.1 L1080.7,1175.1 L1081.2,1171.3 L1081.8,1168.0 L1082.3,1162.0 L1082.9,1160.0 L1083.4,1165.6 L1084.0,1165.1 L1084.5,1165.6 L1085.0,1167.1 L1085.6,1169.3 L1086.1,1172.5 L1086.7,1176.5 L1087.2,1181.2 L1087.8,1186.9 L1088.3,1188.2 L1088.9,1190.7 L1089.4,1196.8 L1089.9,1193.2 L1090.4,1190.4 L1090.9,1191.5 L1091.5,1188.1 L1092.0,1186.8 L1092.5,1183.6 L1093.0,1177.3 L1093.5,1168.2 L1094.0,1165.5 L1094.6,1162.9 L1095.1,1163.9 L1095.6,1161.8 L1096.1,1159.9 L1096.6,1163.1 L1097.1,1161.7 L1097.7,1158.7 L1098.2,1158.0 L1098.7,1163.8 L1099.2,1163.6 L1099.7,1166.9 L1100.3,1176.5 L1100.8,1186.7 L1101.4,1206.6 L1101.9,1229.7 L1102.5,1256.5 L1103.0,1250.8 L1103.6,1247.2 L1104.1,1241.5 L1104.6,1235.8 L1105.2,1224.1 L1105.7,1218.4 L1106.3,1212.7 L1106.8,1206.9 L1107.3,1201.8 L1107.8,1198.4 L1108.3,1195.0 L1108.8,1191.7 L1109.3,1194.1 L1109.8,1190.1 L1110.3,1187.0 L1110.9,1182.1 L1111.4,1184.0 L1111.9,1182.3 L1112.4,1176.8 L1112.9,1176.3 L1113.4,1175.0 L1113.9,1173.5 L1114.4,1172.2 L1114.9,1171.2 L1115.4,1162.8 L1115.9,1162.4 L1116.4,1162.3 L1116.9,1162.5 L1117.4,1165.8 L1117.9,1167.3 L1118.4,1173.9 L1118.9,1176.3 L1119.4,1179.1 L1120.0,1182.2 L1120.5,1186.4 L1121.0,1189.8" stroke="#1a0ac8" stroke-width="1.7" fill="none" stroke-linejoin="round"/>
<path d="M87.0,1237.4 L87.5,1230.6 L88.1,1223.8 L88.6,1217.0 L89.2,1210.2 L89.7,1203.4 L90.3,1196.6 L90.8,1189.8 L91.4,1183.0 L91.9,1177.7 L92.4,1172.5 L93.0,1167.6 L93.5,1163.1 L94.1,1159.1 L94.6,1155.7 L95.2,1152.9 L95.7,1150.9 L96.3,1149.6 L96.8,1149.2 L97.3,1151.0 L97.9,1156.4 L98.4,1165.1 L98.9,1176.7 L99.4,1190.5 L100.0,1205.9 L100.5,1222.1 L101.0,1216.8 L101.5,1211.6 L102.1,1206.4 L102.6,1201.3 L103.1,1196.3 L103.6,1191.5 L104.2,1186.9 L104.7,1182.5 L105.2,1178.3 L105.7,1174.4 L106.2,1170.8 L106.8,1167.5 L107.3,1164.6 L107.8,1162.0 L108.3,1159.8 L108.9,1158.0 L109.4,1156.5 L109.9,1155.5 L110.4,1154.9 L111.0,1154.7 L111.5,1162.6 L112.0,1185.8 L112.5,1222.0 L113.0,1267.5 L113.6,1317.9 L114.1,1298.3 L114.7,1278.7 L115.3,1259.1 L115.8,1239.6 L116.4,1220.0 L116.9,1215.8 L117.5,1211.7 L118.0,1207.6 L118.6,1203.4 L119.1,1199.3 L119.7,1195.1 L120.2,1191.0 L120.8,1186.9 L121.3,1182.7 L121.8,1178.6 L122.4,1173.1 L122.9,1167.8 L123.4,1162.8 L124.0,1158.3 L124.5,1154.4 L125.0,1151.3 L125.6,1148.9 L126.1,1147.5 L126.6,1147.0 L127.2,1151.3 L127.8,1163.9 L128.3,1183.4 L128.9,1208.0 L129.5,1235.2 L130.0,1229.2 L130.6,1223.2 L131.1,1217.2 L131.6,1211.3 L132.2,1205.3 L132.7,1199.3 L133.3,1193.3 L133.8,1187.3 L134.3,1183.0 L134.8,1178.7 L135.3,1174.6 L135.8,1170.6 L136.3,1166.9 L136.8,1163.5 L137.3,1160.4 L137.8,1157.7 L138.3,1155.5 L138.8,1153.7 L139.3,1152.4 L139.8,1151.6 L140.4,1151.4 L140.9,1159.9 L141.5,1184.6 L142.0,1223.2 L142.6,1271.7 L143.2,1325.5 L143.7,1304.4 L144.2,1283.3 L144.7,1262.2 L145.3,1241.1 L145.8,1220.0 L146.3,1215.6 L146.9,1211.3 L147.4,1206.9 L148.0,1202.5 L148.5,1198.2 L149.1,1193.8 L149.6,1189.5 L150.1,1185.1 L150.7,1180.8 L151.2,1176.4 L151.8,1170.1 L152.3,1163.9 L152.9,1158.3 L153.4,1153.3 L154.0,1149.3 L154.5,1146.3 L155.0,1144.4 L155.6,1143.8 L156.1,1149.1 L156.6,1164.8 L157.2,1189.1 L157.7,1219.7 L158.2,1253.7 L158.8,1245.5 L159.3,1237.2 L159.9,1229.0 L160.4,1220.7 L161.0,1212.5 L161.6,1204.3 L162.1,1196.0 L162.6,1191.5 L163.1,1187.1 L163.6,1182.7 L164.1,1178.5 L164.6,1174.5 L165.1,1170.6 L165.7,1167.0 L166.2,1163.7 L166.7,1160.7 L167.2,1158.0 L167.7,1155.7 L168.2,1153.8 L168.7,1152.3 L169.2,1151.2 L169.7,1150.5 L170.2,1150.3 L170.7,1162.7 L171.3,1198.1 L171.8,1251.1 L172.4,1313.6 L172.9,1294.8 L173.5,1276.1 L174.1,1257.4 L174.6,1238.7 L175.2,1220.0 L175.7,1215.8 L176.3,1211.7 L176.8,1207.6 L177.4,1203.4 L177.9,1199.3 L178.5,1195.1 L179.0,1191.0 L179.5,1186.9 L180.1,1182.7 L180.6,1178.6 L181.2,1171.6 L181.7,1164.9 L182.3,1158.6 L182.8,1153.2 L183.4,1148.7 L183.9,1145.4 L184.4,1143.4 L185.0,1142.7 L185.5,1152.5 L186.1,1180.3 L186.6,1222.0 L187.2,1271.1 L187.7,1260.8 L188.3,1250.4 L188.8,1240.1 L189.3,1229.8 L189.9,1219.4 L190.4,1209.1 L191.0,1205.3 L191.5,1201.5 L192.1,1197.6 L192.6,1193.8 L193.2,1190.0 L193.7,1186.2 L194.2,1182.4 L194.8,1178.6 L195.3,1173.3 L195.9,1168.2 L196.4,1163.5 L197.0,1159.4 L197.5,1156.0 L198.1,1153.5 L198.6,1151.9 L199.1,1151.4 L199.7,1157.8 L200.2,1176.3 L200.7,1205.2 L201.2,1241.6 L201.8,1282.0 L202.3,1267.4 L202.9,1252.8 L203.5,1238.2 L204.0,1223.7 L204.6,1209.1 L205.1,1205.3 L205.7,1201.5 L206.2,1197.6 L206.8,1193.8 L207.3,1190.0 L207.9,1186.2 L208.4,1182.4 L208.9,1178.6 L209.4,1173.0 L209.9,1167.5 L210.4,1162.3 L210.9,1157.5 L211.4,1153.2 L211.9,1149.5 L212.4,1146.6 L212.9,1144.4 L213.5,1143.1 L214.0,1142.7 L214.5,1147.2 L215.0,1160.3 L215.5,1181.3 L216.0,1208.5 L216.5,1240.3 L217.0,1274.4 L217.6,1262.2 L218.1,1250.0 L218.7,1237.8 L219.3,1225.6 L219.8,1213.4 L220.4,1208.0 L220.9,1202.5 L221.5,1197.1 L222.0,1191.7 L222.6,1186.2 L223.1,1180.8 L223.6,1177.2 L224.2,1173.7 L224.7,1170.4 L225.3,1167.3 L225.8,1164.6 L226.4,1162.3 L226.9,1160.4 L227.5,1159.0 L228.0,1158.2 L228.5,1157.9 L229.1,1162.1 L229.6,1174.1 L230.1,1192.9 L230.6,1216.6 L231.2,1242.8 L231.7,1236.1 L232.3,1229.4 L232.8,1222.8 L233.4,1216.1 L234.0,1209.4 L234.5,1202.7 L235.1,1196.0 L235.6,1191.2 L236.1,1186.5 L236.6,1181.8 L237.1,1177.3 L237.7,1172.9 L238.2,1168.8 L238.7,1164.9 L239.2,1161.4 L239.7,1158.2 L240.2,1155.3 L240.8,1152.8 L241.3,1150.8 L241.8,1149.1 L242.3,1148.0 L242.8,1147.3 L243.3,1147.0 L243.9,1150.9 L244.4,1162.3 L244.9,1180.5 L245.4,1204.2 L245.9,1231.7 L246.4,1261.3 L247.0,1250.7 L247.5,1240.2 L248.1,1229.6 L248.6,1219.0 L249.2,1208.5 L249.8,1197.9 L250.3,1187.3 L250.8,1184.9 L251.3,1182.6 L251.8,1180.4 L252.3,1178.2 L252.8,1176.2 L253.3,1174.3 L253.8,1172.6 L254.3,1171.2 L254.8,1170.0 L255.3,1169.0 L255.8,1168.3 L256.3,1167.9 L256.8,1167.7 L257.4,1168.7 L257.9,1171.4 L258.5,1176.0 L259.0,1182.1 L259.6,1189.5 L260.1,1198.0 L260.7,1207.1 L261.2,1216.7 L261.7,1213.0 L262.3,1209.3 L262.8,1205.7 L263.4,1202.0 L263.9,1198.3 L264.5,1194.7 L265.0,1191.0 L265.6,1187.3 L266.1,1183.7 L266.6,1180.1 L267.1,1176.5 L267.6,1173.1 L268.1,1169.9 L268.6,1166.8 L269.1,1164.0 L269.6,1161.4 L270.1,1159.1 L270.6,1157.1 L271.1,1155.5 L271.7,1154.2 L272.2,1153.2 L272.7,1152.7 L273.2,1152.5 L273.7,1156.0 L274.3,1166.3 L274.8,1182.8 L275.4,1204.2 L275.9,1229.1 L276.4,1255.9 L277.0,1248.8 L277.5,1241.7 L278.1,1234.7 L278.6,1227.6 L279.2,1220.5 L279.7,1213.4 L280.2,1209.7 L280.7,1206.0 L281.2,1202.3 L281.7,1198.8 L282.3,1195.5 L282.8,1192.3 L283.3,1189.4 L283.8,1186.7 L284.3,1184.4 L284.8,1182.3 L285.3,1180.6 L285.8,1179.3 L286.3,1178.3 L286.8,1177.7 L287.3,1177.5 L287.9,1177.8 L288.4,1178.5 L289.0,1179.6 L289.5,1181.3 L290.1,1183.2 L290.6,1185.6 L291.1,1188.2 L291.7,1191.0 L292.2,1194.0 L292.8,1197.1 L293.3,1196.4 L293.9,1195.7 L294.4,1195.1 L295.0,1194.4 L295.5,1193.7 L296.0,1193.0 L296.6,1192.3 L297.1,1191.7 L297.7,1187.1 L298.2,1182.6 L298.8,1178.3 L299.3,1174.4 L299.9,1170.9 L300.4,1167.9 L300.9,1165.5 L301.5,1163.7 L302.0,1162.6 L302.6,1162.3 L303.1,1165.3 L303.7,1174.1 L304.2,1188.1 L304.8,1206.4 L305.3,1227.6 L305.8,1250.4 L306.4,1245.4 L306.9,1240.3 L307.5,1235.2 L308.0,1230.1 L308.6,1225.0 L309.1,1220.0 L309.6,1216.2 L310.1,1212.4 L310.7,1208.7 L311.2,1205.1 L311.7,1201.6 L312.2,1198.2 L312.7,1195.0 L313.2,1191.9 L313.8,1189.0 L314.3,1186.3 L314.8,1183.9 L315.3,1181.7 L315.8,1179.8 L316.3,1178.1 L316.8,1176.7 L317.4,1175.6 L317.9,1174.9 L318.4,1174.4 L318.9,1174.2 L319.5,1174.5 L320.0,1175.4 L320.5,1176.8 L321.1,1178.7 L321.6,1181.0 L322.2,1183.7 L322.7,1186.5 L323.3,1189.5 L323.8,1189.5 L324.4,1189.5 L324.9,1189.5 L325.4,1189.5 L326.0,1189.5 L326.5,1189.5 L327.1,1189.5 L327.6,1189.5 L328.2,1189.5 L328.7,1189.5 L329.2,1185.1 L329.8,1181.0 L330.3,1177.3 L330.8,1174.2 L331.4,1171.8 L331.9,1170.4 L332.4,1169.9 L333.0,1171.9 L333.5,1178.0 L334.1,1187.7 L334.7,1200.6 L335.2,1216.1 L335.8,1233.4 L336.3,1251.5 L336.9,1247.6 L337.4,1243.6 L338.0,1239.7 L338.5,1235.7 L339.1,1231.8 L339.6,1227.9 L340.1,1223.9 L340.7,1220.0 L341.2,1214.6 L341.7,1209.3 L342.3,1204.2 L342.8,1199.1 L343.3,1194.3 L343.9,1189.7 L344.4,1185.4 L344.9,1181.5 L345.5,1177.9 L346.0,1174.7 L346.5,1172.0 L347.1,1169.7 L347.6,1167.9 L348.1,1166.6 L348.6,1165.8 L349.2,1165.5 L349.7,1165.7 L350.2,1166.3 L350.7,1167.3 L351.2,1168.7 L351.7,1170.4 L352.2,1172.4 L352.7,1174.7 L353.2,1177.3 L353.7,1180.1 L354.2,1183.1 L354.7,1186.2 L355.2,1189.5 L355.7,1192.7 L356.2,1190.4 L356.7,1188.1 L357.2,1185.8 L357.7,1183.6 L358.2,1181.6 L358.7,1179.8 L359.2,1178.1 L359.7,1176.6 L360.2,1175.4 L360.7,1174.4 L361.2,1173.7 L361.7,1173.3 L362.2,1173.2 L362.8,1175.2 L363.4,1181.3 L363.9,1191.2 L364.5,1204.3 L365.0,1220.0 L365.6,1237.5 L366.2,1255.9 L366.7,1251.9 L367.2,1247.9 L367.8,1243.9 L368.3,1239.9 L368.8,1235.9 L369.4,1231.9 L369.9,1227.9 L370.4,1224.0 L371.0,1220.0 L371.5,1214.1 L372.0,1208.3 L372.5,1202.6 L373.0,1197.1 L373.5,1191.7 L374.1,1186.7 L374.6,1182.0 L375.1,1177.6 L375.6,1173.7 L376.1,1170.2 L376.6,1167.2 L377.2,1164.7 L377.7,1162.7 L378.2,1161.2 L378.7,1160.4 L379.2,1160.1 L379.8,1160.5 L380.3,1161.6 L380.8,1163.4 L381.4,1166.0 L381.9,1169.1 L382.4,1172.9 L383.0,1177.1 L383.5,1181.7 L384.0,1186.7 L384.6,1191.8 L385.1,1197.1 L385.6,1194.3 L386.1,1191.5 L386.6,1188.8 L387.2,1186.2 L387.7,1183.8 L388.2,1181.5 L388.7,1179.4 L389.2,1177.5 L389.7,1175.9 L390.2,1174.5 L390.8,1173.5 L391.3,1172.7 L391.8,1172.2 L392.3,1172.1 L392.8,1175.3 L393.3,1184.8 L393.8,1199.8 L394.3,1219.4 L394.8,1242.3 L395.3,1266.8 L395.9,1261.0 L396.5,1255.3 L397.0,1249.5 L397.6,1243.7 L398.1,1238.0 L398.7,1232.2 L399.3,1226.5 L399.8,1220.7 L400.3,1215.0 L400.8,1209.4 L401.3,1203.9 L401.8,1198.5 L402.4,1193.3 L402.9,1188.4 L403.4,1183.7 L403.9,1179.3 L404.4,1175.2 L404.9,1171.5 L405.5,1168.2 L406.0,1165.2 L406.5,1162.7 L407.0,1160.6 L407.5,1159.0 L408.0,1157.8 L408.5,1157.1 L409.1,1156.8 L409.6,1157.7 L410.1,1160.4 L410.7,1164.7 L411.2,1170.5 L411.8,1177.6 L412.3,1185.7 L412.9,1194.5 L413.4,1203.6 L413.9,1200.4 L414.4,1197.2 L415.0,1194.1 L415.5,1191.1 L416.0,1188.1 L416.5,1185.3 L417.0,1182.6 L417.5,1180.2 L418.0,1177.9 L418.5,1175.8 L419.1,1174.0 L419.6,1172.5 L420.1,1171.2 L420.6,1170.1 L421.1,1169.4 L421.6,1169.0 L422.1,1168.8 L422.6,1174.1 L423.2,1189.4 L423.7,1213.2 L424.2,1243.3 L424.7,1276.6 L425.3,1268.5 L425.9,1260.4 L426.4,1252.3 L427.0,1244.2 L427.5,1236.1 L428.1,1228.0 L428.7,1220.0 L429.2,1214.3 L429.7,1208.6 L430.2,1203.1 L430.7,1197.6 L431.3,1192.4 L431.8,1187.3 L432.3,1182.5 L432.8,1178.0 L433.3,1173.8 L433.9,1169.9 L434.4,1166.5 L434.9,1163.4 L435.4,1160.8 L435.9,1158.6 L436.5,1156.9 L437.0,1155.6 L437.5,1154.9 L438.0,1154.7 L438.5,1155.8 L439.1,1159.1 L439.6,1164.6 L440.1,1171.9 L440.6,1180.8 L441.1,1190.9 L441.6,1202.0 L442.2,1213.4 L442.7,1209.4 L443.2,1205.4 L443.7,1201.4 L444.2,1197.5 L444.7,1193.8 L445.3,1190.1 L445.8,1186.6 L446.3,1183.3 L446.8,1180.3 L447.3,1177.4 L447.8,1174.8 L448.3,1172.4 L448.9,1170.4 L449.4,1168.6 L449.9,1167.1 L450.4,1165.9 L450.9,1165.1 L451.4,1164.6 L452.0,1164.4 L452.5,1173.7 L453.0,1200.2 L453.6,1239.7 L454.1,1286.4 L454.7,1276.9 L455.3,1267.4 L455.8,1257.9 L456.4,1248.4 L456.9,1238.9 L457.5,1229.4 L458.1,1220.0 L458.6,1214.2 L459.1,1208.4 L459.6,1202.8 L460.1,1197.3 L460.6,1191.9 L461.1,1186.8 L461.6,1181.9 L462.1,1177.3 L462.6,1173.0 L463.1,1169.1 L463.6,1165.6 L464.2,1162.5 L464.7,1159.8 L465.2,1157.6 L465.7,1155.8 L466.2,1154.6 L466.7,1153.8 L467.2,1153.6 L467.8,1155.3 L468.3,1160.6 L468.9,1169.0 L469.4,1180.2 L470.0,1193.6 L470.6,1208.6 L471.1,1224.3 L471.6,1219.4 L472.1,1214.4 L472.7,1209.6 L473.2,1204.8 L473.7,1200.2 L474.2,1195.7 L474.7,1191.3 L475.2,1187.2 L475.7,1183.3 L476.2,1179.7 L476.7,1176.3 L477.3,1173.2 L477.8,1170.5 L478.3,1168.1 L478.8,1166.0 L479.3,1164.3 L479.8,1162.9 L480.3,1162.0 L480.8,1161.4 L481.4,1161.2 L482.0,1171.4 L482.6,1200.4 L483.2,1243.8 L483.8,1295.1 L484.3,1284.3 L484.8,1273.6 L485.3,1262.9 L485.9,1252.1 L486.4,1241.4 L486.9,1230.7 L487.5,1220.0 L488.0,1214.1 L488.5,1208.2 L489.0,1202.5 L489.5,1196.9 L490.1,1191.4 L490.6,1186.2 L491.1,1181.3 L491.6,1176.6 L492.1,1172.2 L492.7,1168.3 L493.2,1164.7 L493.7,1161.5 L494.2,1158.8 L494.7,1156.5 L495.3,1154.8 L495.8,1153.5 L496.3,1152.7 L496.8,1152.5 L497.3,1155.3 L497.8,1163.6 L498.3,1176.7 L498.8,1193.8 L499.4,1213.8 L499.9,1235.2 L500.4,1229.4 L500.9,1223.6 L501.4,1217.9 L501.9,1212.3 L502.4,1206.9 L502.9,1201.6 L503.4,1196.5 L503.9,1191.7 L504.4,1187.1 L504.9,1182.9 L505.4,1178.9 L505.9,1175.3 L506.4,1172.1 L506.9,1169.3 L507.4,1166.8 L507.9,1164.8 L508.4,1163.2 L508.9,1162.1 L509.4,1161.4 L509.9,1161.2 L510.4,1165.8 L510.9,1179.3 L511.4,1200.7 L511.9,1228.7 L512.4,1261.2 L512.9,1296.1 L513.5,1285.3 L514.0,1274.4 L514.6,1263.5 L515.2,1252.6 L515.7,1241.7 L516.3,1230.8 L516.8,1220.0 L517.4,1213.6 L517.9,1207.4 L518.4,1201.2 L518.9,1195.2 L519.4,1189.4 L519.9,1183.9 L520.4,1178.6 L520.9,1173.8 L521.5,1169.3 L522.0,1165.2 L522.5,1161.7 L523.0,1158.6 L523.5,1156.0 L524.0,1154.0 L524.5,1152.6 L525.0,1151.7 L525.6,1151.4 L526.1,1154.5 L526.6,1163.6 L527.2,1178.2 L527.7,1197.1 L528.3,1219.2 L528.8,1242.8 L529.3,1236.6 L529.9,1230.5 L530.4,1224.4 L530.9,1218.4 L531.4,1212.6 L531.9,1206.9 L532.5,1201.5 L533.0,1196.2 L533.5,1191.2 L534.0,1186.6 L534.5,1182.2 L535.0,1178.1 L535.6,1174.5 L536.1,1171.2 L536.6,1168.3 L537.1,1165.8 L537.6,1163.8 L538.2,1162.2 L538.7,1161.0 L539.2,1160.3 L539.7,1160.1 L540.3,1169.7 L540.8,1197.1 L541.3,1238.0 L541.9,1286.4 L542.4,1274.2 L543.0,1262.0 L543.5,1249.9 L544.1,1237.7 L544.6,1225.6 L545.2,1213.4 L545.7,1207.9 L546.2,1202.5 L546.7,1197.1 L547.2,1191.8 L547.7,1186.7 L548.2,1181.9 L548.7,1177.2 L549.2,1172.8 L549.7,1168.8 L550.2,1165.1 L550.7,1161.7 L551.3,1158.8 L551.8,1156.2 L552.3,1154.1 L552.8,1152.5 L553.3,1151.3 L553.8,1150.5 L554.3,1150.3 L554.8,1153.7 L555.4,1163.7 L555.9,1179.6 L556.5,1200.4 L557.0,1224.5 L557.6,1250.4 L558.1,1244.1 L558.6,1237.7 L559.1,1231.5 L559.6,1225.3 L560.1,1219.2 L560.6,1213.4 L561.1,1207.7 L561.6,1202.2 L562.1,1196.9 L562.6,1192.0 L563.1,1187.3 L563.6,1183.0 L564.1,1179.0 L564.6,1175.4 L565.1,1172.1 L565.6,1169.2 L566.2,1166.8 L566.7,1164.8 L567.2,1163.2 L567.7,1162.1 L568.2,1161.4 L568.7,1161.2 L569.3,1175.5 L570.0,1214.5 L570.6,1267.9 L571.2,1260.1 L571.8,1252.3 L572.3,1244.5 L572.9,1236.8 L573.4,1229.0 L574.0,1221.2 L574.6,1213.4 L575.1,1208.0 L575.6,1202.7 L576.1,1197.4 L576.6,1192.2 L577.2,1187.2 L577.7,1182.4 L578.2,1177.8 L578.7,1173.5 L579.2,1169.6 L579.8,1165.9 L580.3,1162.6 L580.8,1159.7 L581.3,1157.2 L581.8,1155.1 L582.4,1153.5 L582.9,1152.3 L583.4,1151.6 L583.9,1151.4 L584.4,1156.3 L585.0,1170.7 L585.5,1193.1 L586.0,1221.3 L586.5,1252.6 L587.0,1246.1 L587.6,1239.6 L588.1,1233.2 L588.6,1226.9 L589.1,1220.8 L589.6,1214.8 L590.2,1209.1 L590.7,1203.6 L591.2,1198.3 L591.7,1193.4 L592.2,1188.8 L592.8,1184.5 L593.3,1180.7 L593.8,1177.2 L594.3,1174.2 L594.8,1171.6 L595.3,1169.4 L595.9,1167.7 L596.4,1166.5 L596.9,1165.8 L597.4,1165.5 L598.0,1169.7 L598.6,1181.8 L599.1,1200.5 L599.7,1224.2 L600.2,1250.4 L600.8,1244.5 L601.3,1238.6 L601.8,1232.7 L602.4,1226.8 L602.9,1220.9 L603.4,1215.0 L604.0,1209.1 L604.5,1203.4 L605.0,1197.8 L605.5,1192.3 L606.1,1187.0 L606.6,1181.9 L607.1,1177.0 L607.7,1172.5 L608.2,1168.3 L608.7,1164.5 L609.3,1161.1 L609.8,1158.2 L610.3,1155.8 L610.9,1153.9 L611.4,1152.5 L611.9,1151.7 L612.4,1151.4 L613.0,1154.8 L613.5,1164.7 L614.1,1180.4 L614.6,1200.9 L615.2,1224.8 L615.7,1250.4 L616.2,1244.2 L616.8,1238.0 L617.3,1231.9 L617.8,1225.9 L618.3,1220.0 L618.8,1214.4 L619.4,1208.9 L619.9,1203.7 L620.4,1198.8 L620.9,1194.3 L621.5,1190.0 L622.0,1186.2 L622.5,1182.7 L623.0,1179.6 L623.5,1177.0 L624.1,1174.9 L624.6,1173.2 L625.1,1172.0 L625.6,1171.2 L626.2,1171.0 L626.7,1172.6 L627.2,1177.2 L627.7,1184.8 L628.3,1194.7 L628.8,1206.7 L629.3,1220.1 L629.9,1234.1 L630.4,1228.6 L630.9,1223.1 L631.4,1217.7 L631.9,1212.4 L632.5,1207.1 L633.0,1202.0 L633.5,1197.1 L634.0,1192.3 L634.6,1187.7 L635.1,1183.3 L635.6,1179.1 L636.1,1175.2 L636.6,1171.6 L637.2,1168.3 L637.7,1165.3 L638.2,1162.6 L638.7,1160.2 L639.2,1158.2 L639.8,1156.6 L640.3,1155.2 L640.8,1154.3 L641.3,1153.8 L641.8,1153.6 L642.4,1156.8 L642.9,1166.1 L643.5,1181.0 L644.0,1200.4 L644.6,1222.9 L645.1,1247.2 L645.6,1241.3 L646.1,1235.5 L646.7,1229.8 L647.2,1224.2 L647.7,1218.8 L648.2,1213.5 L648.7,1208.5 L649.2,1203.7 L649.7,1199.3 L650.3,1195.1 L650.8,1191.3 L651.3,1187.9 L651.8,1184.9 L652.3,1182.4 L652.8,1180.3 L653.4,1178.6 L653.9,1177.4 L654.4,1176.7 L654.9,1176.4 L655.5,1177.3 L656.0,1179.7 L656.5,1183.8 L657.1,1189.2 L657.6,1195.8 L658.2,1203.3 L658.7,1211.5 L659.3,1220.0 L659.8,1215.9 L660.3,1211.8 L660.8,1207.8 L661.3,1203.8 L661.9,1199.9 L662.4,1196.1 L662.9,1192.4 L663.4,1188.9 L663.9,1185.4 L664.5,1182.2 L665.0,1179.1 L665.5,1176.2 L666.0,1173.5 L666.6,1171.1 L667.1,1168.8 L667.6,1166.8 L668.1,1165.1 L668.6,1163.6 L669.2,1162.3 L669.7,1161.3 L670.2,1160.7 L670.7,1160.2 L671.2,1160.1 L671.8,1162.9 L672.3,1171.0 L672.9,1184.0 L673.4,1200.9 L674.0,1220.6 L674.5,1241.7 L675.0,1236.7 L675.5,1231.7 L676.0,1226.8 L676.5,1222.0 L677.0,1217.3 L677.6,1212.9 L678.1,1208.6 L678.6,1204.6 L679.1,1200.9 L679.6,1197.5 L680.1,1194.5 L680.6,1191.8 L681.1,1189.4 L681.6,1187.5 L682.1,1186.0 L682.6,1184.9 L683.1,1184.3 L683.6,1184.0 L684.2,1184.4 L684.7,1185.5 L685.3,1187.3 L685.8,1189.8 L686.4,1192.7 L686.9,1196.1 L687.5,1199.8 L688.0,1203.6 L688.5,1201.2 L689.0,1198.8 L689.5,1196.4 L690.0,1194.1 L690.5,1191.7 L691.1,1189.5 L691.6,1187.3 L692.1,1185.1 L692.6,1183.1 L693.1,1181.1 L693.6,1179.2 L694.1,1177.5 L694.6,1175.8 L695.1,1174.3 L695.6,1172.9 L696.1,1171.6 L696.6,1170.4 L697.2,1169.4 L697.7,1168.6 L698.2,1167.9 L698.7,1167.3 L699.2,1166.9 L699.7,1166.7 L700.2,1166.6 L700.7,1168.4 L701.3,1173.6 L701.8,1182.1 L702.3,1193.3 L702.8,1206.7 L703.4,1221.6 L703.9,1237.4 L704.4,1234.0 L704.9,1230.6 L705.5,1227.2 L706.0,1223.9 L706.5,1220.6 L707.0,1217.4 L707.5,1214.3 L708.1,1211.4 L708.6,1208.5 L709.1,1205.8 L709.6,1203.2 L710.1,1200.8 L710.7,1198.5 L711.2,1196.5 L711.7,1194.6 L712.2,1192.9 L712.8,1191.5 L713.3,1190.2 L713.8,1189.2 L714.3,1188.4 L714.8,1187.8 L715.4,1187.4 L715.9,1187.3 L716.4,1187.4 L717.0,1187.6 L717.5,1188.0 L718.1,1188.6 L718.6,1189.2 L719.1,1190.0 L719.7,1190.8 L720.2,1191.7 L720.8,1190.6 L721.3,1189.5 L721.9,1188.4 L722.4,1187.3 L723.0,1186.2 L723.5,1185.1 L724.0,1184.0 L724.6,1183.0 L725.1,1181.9 L725.7,1180.8 L726.2,1179.5 L726.8,1178.3 L727.3,1177.1 L727.9,1176.2 L728.4,1175.3 L728.9,1174.7 L729.5,1174.4 L730.0,1174.2 L730.6,1175.4 L731.1,1179.0 L731.7,1184.7 L732.2,1192.4 L732.8,1201.8 L733.3,1212.5 L733.8,1224.2 L734.4,1236.3 L734.9,1232.3 L735.4,1228.4 L735.9,1224.5 L736.5,1220.7 L737.0,1217.0 L737.5,1213.3 L738.0,1209.7 L738.6,1206.3 L739.1,1203.0 L739.6,1199.9 L740.1,1196.9 L740.6,1194.1 L741.2,1191.5 L741.7,1189.2 L742.2,1187.0 L742.7,1185.1 L743.2,1183.4 L743.8,1181.9 L744.3,1180.7 L744.8,1179.8 L745.3,1179.1 L745.8,1178.7 L746.4,1178.6 L746.9,1178.7 L747.5,1179.0 L748.0,1179.5 L748.5,1180.3 L749.1,1181.1 L749.6,1182.2 L750.2,1183.4 L750.7,1184.6 L751.3,1185.9 L751.8,1187.3 L752.3,1186.5 L752.8,1185.7 L753.3,1185.0 L753.8,1184.3 L754.3,1183.6 L754.8,1183.0 L755.3,1182.4 L755.8,1181.9 L756.3,1181.5 L756.8,1181.2 L757.3,1181.0 L757.8,1180.8 L758.3,1180.8 L758.9,1181.4 L759.4,1183.2 L759.9,1186.1 L760.5,1190.1 L761.0,1195.1 L761.5,1201.1 L762.1,1207.8 L762.6,1215.1 L763.2,1223.0 L763.7,1231.2 L764.2,1239.6 L764.7,1235.1 L765.2,1230.7 L765.7,1226.3 L766.2,1222.0 L766.7,1217.7 L767.3,1213.5 L767.8,1209.4 L768.3,1205.5 L768.8,1201.6 L769.3,1198.0 L769.8,1194.5 L770.3,1191.1 L770.8,1188.0 L771.3,1185.0 L771.8,1182.3 L772.3,1179.8 L772.8,1177.6 L773.3,1175.5 L773.8,1173.8 L774.3,1172.3 L774.8,1171.0 L775.3,1170.1 L775.8,1169.4 L776.3,1168.9 L776.8,1168.8 L777.4,1168.9 L777.9,1169.3 L778.4,1170.0 L778.9,1170.9 L779.4,1172.0 L779.9,1173.4 L780.4,1175.0 L780.9,1176.7 L781.4,1178.7 L781.9,1180.8 L782.4,1183.0 L782.9,1185.3 L783.5,1187.8 L784.0,1190.2 L784.5,1192.7 L785.0,1191.2 L785.6,1189.7 L786.1,1188.3 L786.6,1187.0 L787.2,1185.8 L787.7,1184.8 L788.3,1184.0 L788.8,1183.4 L789.4,1183.1 L789.9,1183.0 L790.5,1184.2 L791.0,1188.0 L791.5,1194.1 L792.1,1202.4 L792.6,1212.5 L793.2,1223.9 L793.7,1236.4 L794.3,1249.3 L794.8,1243.3 L795.3,1237.3 L795.8,1231.3 L796.3,1225.4 L796.8,1219.7 L797.4,1214.1 L797.9,1208.7 L798.4,1203.4 L798.9,1198.5 L799.4,1193.8 L799.9,1189.3 L800.4,1185.2 L801.0,1181.4 L801.5,1177.9 L802.0,1174.8 L802.5,1172.1 L803.0,1169.8 L803.5,1167.9 L804.0,1166.4 L804.6,1165.3 L805.1,1164.7 L805.6,1164.4 L806.1,1164.8 L806.6,1165.8 L807.1,1167.4 L807.6,1169.6 L808.1,1172.4 L808.6,1175.7 L809.1,1179.3 L809.6,1183.3 L810.1,1187.4 L810.6,1191.7 L811.1,1190.5 L811.6,1189.3 L812.1,1188.1 L812.7,1186.9 L813.2,1185.8 L813.7,1184.8 L814.2,1183.8 L814.7,1182.9 L815.2,1182.0 L815.7,1181.2 L816.2,1180.6 L816.7,1180.0 L817.3,1179.5 L817.8,1179.1 L818.3,1178.8 L818.8,1178.7 L819.3,1178.6 L819.9,1180.2 L820.4,1184.9 L820.9,1192.5 L821.5,1202.8 L822.0,1215.4 L822.6,1229.7 L823.1,1245.2 L823.7,1261.3 L824.2,1255.1 L824.7,1249.0 L825.2,1242.9 L825.7,1236.8 L826.2,1230.9 L826.7,1225.0 L827.2,1219.3 L827.7,1213.8 L828.2,1208.4 L828.7,1203.2 L829.2,1198.2 L829.7,1193.5 L830.2,1189.0 L830.7,1184.7 L831.2,1180.8 L831.7,1177.1 L832.2,1173.8 L832.7,1170.7 L833.2,1168.0 L833.7,1165.7 L834.2,1163.6 L834.7,1162.0 L835.2,1160.7 L835.7,1159.8 L836.2,1159.2 L836.7,1159.0 L837.3,1159.9 L837.8,1162.7 L838.4,1167.1 L838.9,1173.0 L839.5,1180.3 L840.0,1188.6 L840.5,1197.6 L841.1,1206.9 L841.6,1203.6 L842.1,1200.3 L842.6,1197.1 L843.1,1193.9 L843.6,1190.9 L844.2,1188.0 L844.7,1185.3 L845.2,1182.7 L845.7,1180.4 L846.2,1178.2 L846.7,1176.4 L847.2,1174.7 L847.7,1173.4 L848.3,1172.4 L848.8,1171.6 L849.3,1171.1 L849.8,1171.0 L850.4,1176.2 L850.9,1191.4 L851.5,1214.9 L852.1,1244.7 L852.6,1277.6 L853.2,1270.0 L853.7,1262.4 L854.2,1254.8 L854.8,1247.2 L855.3,1239.6 L855.8,1231.9 L856.4,1224.3 L856.9,1216.7 L857.4,1209.1 L857.9,1204.1 L858.4,1199.1 L859.0,1194.2 L859.5,1189.4 L860.0,1184.8 L860.5,1180.4 L861.0,1176.3 L861.5,1172.4 L862.0,1168.9 L862.5,1165.6 L863.1,1162.8 L863.6,1160.4 L864.1,1158.3 L864.6,1156.7 L865.1,1155.6 L865.6,1154.9 L866.1,1154.7 L866.6,1156.2 L867.1,1160.9 L867.6,1168.4 L868.1,1178.4 L868.6,1190.4 L869.1,1203.7 L869.6,1217.8 L870.1,1213.4 L870.7,1209.1 L871.2,1204.8 L871.7,1200.6 L872.2,1196.5 L872.7,1192.6 L873.2,1188.8 L873.7,1185.2 L874.2,1181.7 L874.7,1178.5 L875.3,1175.6 L875.8,1172.9 L876.3,1170.5 L876.8,1168.3 L877.3,1166.5 L877.8,1165.0 L878.3,1163.8 L878.8,1163.0 L879.4,1162.4 L879.9,1162.3 L880.4,1172.5 L881.0,1201.5 L881.5,1244.9 L882.0,1296.1 L882.6,1282.5 L883.1,1268.9 L883.7,1255.3 L884.2,1241.7 L884.7,1234.9 L885.3,1228.1 L885.8,1221.4 L886.3,1214.8 L886.8,1208.3 L887.3,1202.1 L887.8,1196.0 L888.4,1190.2 L888.9,1184.7 L889.4,1179.5 L889.9,1174.7 L890.4,1170.2 L891.0,1166.2 L891.5,1162.5 L892.0,1159.4 L892.5,1156.6 L893.0,1154.4 L893.6,1152.6 L894.1,1151.3 L894.6,1150.6 L895.1,1150.3 L895.7,1153.5 L896.2,1162.8 L896.8,1177.2 L897.4,1195.4 L897.9,1215.6 L898.5,1211.3 L899.0,1206.9 L899.5,1202.6 L900.0,1198.4 L900.5,1194.3 L901.0,1190.3 L901.5,1186.4 L902.1,1182.7 L902.6,1179.1 L903.1,1175.7 L903.6,1172.5 L904.1,1169.5 L904.6,1166.8 L905.1,1164.3 L905.7,1162.1 L906.2,1160.2 L906.7,1158.5 L907.2,1157.1 L907.7,1156.0 L908.2,1155.3 L908.7,1154.8 L909.3,1154.7 L909.8,1166.9 L910.4,1201.8 L910.9,1254.1 L911.4,1315.7 L912.0,1300.9 L912.5,1286.1 L913.0,1271.3 L913.5,1256.5 L914.1,1241.7 L914.6,1233.6 L915.1,1225.5 L915.6,1217.5 L916.1,1209.7 L916.7,1202.2 L917.2,1194.9 L917.7,1188.0 L918.2,1181.6 L918.7,1175.5 L919.3,1170.0 L919.8,1165.1 L920.3,1160.7 L920.8,1156.9 L921.3,1153.8 L921.9,1151.3 L922.4,1149.5 L922.9,1148.5 L923.4,1148.1 L924.0,1151.7 L924.5,1162.3 L925.0,1179.0 L925.6,1200.9 L926.1,1226.4 L926.7,1253.7 L927.2,1245.4 L927.8,1237.1 L928.3,1228.8 L928.9,1220.5 L929.4,1212.2 L929.9,1203.9 L930.5,1195.6 L931.0,1187.3 L931.6,1183.5 L932.1,1179.7 L932.6,1175.9 L933.1,1172.3 L933.6,1168.8 L934.1,1165.5 L934.7,1162.4 L935.2,1159.6 L935.7,1157.0 L936.2,1154.7 L936.7,1152.7 L937.2,1151.1 L937.8,1149.8 L938.3,1148.9 L938.8,1148.3 L939.3,1148.1 L940.0,1171.9 L940.6,1236.8 L941.3,1325.5 L941.8,1308.8 L942.4,1292.0 L943.0,1275.3 L943.5,1258.5 L944.1,1241.7 L944.6,1232.8 L945.1,1223.9 L945.6,1215.2 L946.2,1206.7 L946.7,1198.5 L947.2,1190.7 L947.7,1183.4 L948.2,1176.5 L948.7,1170.1 L949.2,1164.4 L949.7,1159.4 L950.3,1155.0 L950.8,1151.4 L951.3,1148.6 L951.8,1146.5 L952.3,1145.3 L952.8,1144.9 L953.4,1149.8 L953.9,1164.1 L954.4,1186.9 L955.0,1216.7 L955.5,1251.3 L956.1,1288.5 L956.6,1277.1 L957.2,1265.7 L957.7,1254.2 L958.3,1242.8 L958.8,1231.4 L959.3,1220.0 L959.9,1212.9 L960.4,1206.0 L960.9,1199.1 L961.4,1192.4 L961.9,1186.0 L962.4,1179.9 L962.9,1174.0 L963.4,1168.6 L964.0,1163.7 L964.5,1159.2 L965.0,1155.2 L965.5,1151.8 L966.0,1148.9 L966.5,1146.7 L967.0,1145.1 L967.5,1144.1 L968.1,1143.8 L968.6,1156.9 L969.1,1194.5 L969.7,1250.6 L970.2,1316.8 L970.8,1300.7 L971.3,1284.5 L971.9,1268.4 L972.4,1252.2 L973.0,1236.1 L973.5,1220.0 L974.0,1212.8 L974.5,1205.8 L975.0,1198.8 L975.5,1192.0 L976.1,1185.5 L976.6,1179.3 L977.1,1173.4 L977.6,1167.9 L978.1,1162.8 L978.6,1158.3 L979.1,1154.3 L979.6,1150.8 L980.2,1147.9 L980.7,1145.6 L981.2,1144.0 L981.7,1143.0 L982.2,1142.7 L982.8,1155.5 L983.3,1192.1 L983.8,1246.8 L984.4,1311.4 L984.9,1296.1 L985.5,1280.9 L986.0,1265.7 L986.6,1250.4 L987.1,1235.2 L987.7,1220.0 L988.2,1213.5 L988.7,1207.1 L989.2,1200.7 L989.7,1194.5 L990.2,1188.5 L990.7,1182.7 L991.3,1177.1 L991.8,1171.8 L992.3,1166.9 L992.8,1162.3 L993.3,1158.1 L993.8,1154.4 L994.4,1151.0 L994.9,1148.2 L995.4,1145.8 L995.9,1144.0 L996.4,1142.7 L996.9,1141.9 L997.5,1141.6 L998.0,1152.9 L998.5,1184.9 L999.1,1233.0 L999.6,1289.6 L1000.2,1278.0 L1000.7,1266.4 L1001.3,1254.8 L1001.8,1243.2 L1002.4,1231.6 L1002.9,1220.0 L1003.4,1212.8 L1003.9,1205.8 L1004.4,1198.8 L1004.9,1192.0 L1005.5,1185.5 L1006.0,1179.3 L1006.5,1173.4 L1007.0,1167.9 L1007.5,1162.8 L1008.0,1158.3 L1008.5,1154.3 L1009.0,1150.8 L1009.6,1147.9 L1010.1,1145.6 L1010.6,1144.0 L1011.1,1143.0 L1011.6,1142.7 L1012.2,1155.7 L1012.7,1192.7 L1013.2,1248.2 L1013.8,1313.6 L1014.3,1298.0 L1014.9,1282.4 L1015.4,1266.8 L1016.0,1251.2 L1016.5,1235.6 L1017.1,1220.0 L1017.6,1213.4 L1018.1,1206.9 L1018.6,1200.5 L1019.1,1194.3 L1019.7,1188.2 L1020.2,1182.4 L1020.7,1176.9 L1021.2,1171.7 L1021.7,1166.9 L1022.3,1162.4 L1022.8,1158.4 L1023.3,1154.9 L1023.8,1151.9 L1024.3,1149.4 L1024.9,1147.4 L1025.4,1146.0 L1025.9,1145.1 L1026.4,1144.9 L1026.9,1148.4 L1027.4,1158.7 L1027.9,1175.1 L1028.4,1196.6 L1029.0,1221.5 L1029.5,1248.3 L1030.0,1241.1 L1030.6,1234.0 L1031.1,1226.8 L1031.7,1219.6 L1032.3,1212.5 L1032.8,1205.3 L1033.4,1198.2 L1033.9,1193.0 L1034.4,1187.8 L1034.9,1182.7 L1035.4,1177.8 L1035.9,1173.2 L1036.4,1168.8 L1036.9,1164.7 L1037.4,1161.0 L1038.0,1157.7 L1038.5,1154.8 L1039.0,1152.5 L1039.5,1150.6 L1040.0,1149.2 L1040.5,1148.4 L1041.0,1148.1 L1041.5,1159.2 L1042.1,1190.8 L1042.6,1238.2 L1043.2,1294.0 L1043.7,1281.6 L1044.3,1269.3 L1044.8,1257.0 L1045.4,1244.6 L1045.9,1232.3 L1046.4,1220.0 L1047.0,1214.7 L1047.5,1209.6 L1048.0,1204.5 L1048.5,1199.5 L1049.0,1194.6 L1049.5,1189.9 L1050.1,1185.4 L1050.6,1181.2 L1051.1,1177.2 L1051.6,1173.5 L1052.1,1170.1 L1052.6,1167.1 L1053.2,1164.4 L1053.7,1162.1 L1054.2,1160.3 L1054.7,1158.8 L1055.2,1157.7 L1055.7,1157.0 L1056.2,1156.8 L1056.8,1159.1 L1057.3,1165.6 L1057.9,1176.0 L1058.4,1189.5 L1059.0,1205.2 L1059.5,1222.1 L1060.1,1217.8 L1060.6,1213.4 L1061.1,1209.1 L1061.7,1204.7 L1062.2,1200.4 L1062.8,1196.0 L1063.3,1191.7 L1063.9,1187.3 L1064.4,1183.9 L1064.9,1180.5 L1065.4,1177.2 L1065.9,1174.0 L1066.4,1171.0 L1066.9,1168.1 L1067.4,1165.5 L1067.9,1163.0 L1068.4,1160.9 L1068.9,1159.0 L1069.5,1157.5 L1070.0,1156.3 L1070.5,1155.4 L1071.0,1154.8 L1071.5,1154.7 L1072.0,1163.4 L1072.6,1188.4 L1073.1,1225.9 L1073.7,1270.0 L1074.2,1261.7 L1074.8,1253.3 L1075.3,1245.0 L1075.8,1236.6 L1076.4,1228.3 L1076.9,1220.0 L1077.5,1214.2 L1078.0,1208.3 L1078.6,1202.5 L1079.1,1196.7 L1079.7,1190.9 L1080.2,1185.1 L1080.7,1181.7 L1081.3,1178.5 L1081.8,1175.5 L1082.4,1172.8 L1082.9,1170.6 L1083.5,1169.0 L1084.0,1168.0 L1084.6,1167.7 L1085.1,1168.1 L1085.6,1169.4 L1086.2,1171.5 L1086.7,1174.4 L1087.3,1177.9 L1087.8,1182.1 L1088.4,1186.7 L1088.9,1191.8 L1089.5,1197.1 L1090.0,1202.5 L1090.5,1199.3 L1091.0,1196.1 L1091.5,1192.9 L1092.1,1189.8 L1092.6,1186.8 L1093.1,1183.9 L1093.6,1181.1 L1094.1,1178.5 L1094.6,1176.0 L1095.2,1173.7 L1095.7,1171.6 L1096.2,1169.7 L1096.7,1168.1 L1097.2,1166.7 L1097.7,1165.5 L1098.3,1164.6 L1098.8,1163.9 L1099.3,1163.5 L1099.8,1163.4 L1100.3,1166.5 L1100.9,1175.6 L1101.4,1190.1 L1102.0,1209.1 L1102.5,1231.1 L1103.1,1254.8 L1103.6,1249.1 L1104.2,1243.4 L1104.7,1237.6 L1105.2,1231.9 L1105.8,1226.2 L1106.3,1220.5 L1106.9,1214.8 L1107.4,1209.1 L1107.9,1206.0 L1108.4,1203.0 L1108.9,1200.0 L1109.4,1197.1 L1109.9,1194.2 L1110.4,1191.5 L1110.9,1188.8 L1111.5,1186.3 L1112.0,1184.0 L1112.5,1181.8 L1113.0,1179.9 L1113.5,1178.1 L1114.0,1176.5 L1114.5,1175.2 L1115.0,1174.1 L1115.5,1173.2 L1116.0,1172.6 L1116.5,1172.2 L1117.0,1172.1 L1117.5,1172.3 L1118.0,1173.0 L1118.5,1174.1 L1119.0,1175.6 L1119.5,1177.5 L1120.0,1179.7 L1120.6,1182.1 L1121.1,1184.7 L1121.6,1187.3" stroke="#c00000" stroke-width="1.9" fill="none" stroke-linejoin="round"/>
<path d="M87.6,1291.7 L89.6,1291.5 L91.6,1291.3 L93.6,1291.1 L95.6,1290.9 L97.6,1290.7 L99.6,1290.5 L101.6,1290.3 L103.6,1290.2 L105.6,1290.0 L107.6,1289.8 L109.6,1289.6 L111.6,1289.5 L113.6,1289.3 L115.6,1289.2 L117.6,1289.1 L119.6,1288.9 L121.6,1288.8 L123.6,1288.7 L125.6,1288.6 L127.6,1288.6 L129.6,1288.5 L131.6,1288.5 L133.6,1288.4 L135.6,1288.4 L137.6,1288.4 L139.6,1288.5 L141.6,1288.5 L143.6,1288.6 L145.6,1288.6 L147.6,1288.7 L149.6,1288.9 L151.6,1289.0 L153.6,1289.1 L155.6,1289.3 L157.6,1289.5 L159.6,1289.7 L161.6,1289.9 L163.6,1290.1 L165.6,1290.4 L167.6,1290.6 L169.6,1290.9 L171.6,1291.2 L173.6,1291.5 L175.6,1291.8 L177.6,1292.1 L179.6,1292.4 L181.6,1292.8 L183.6,1293.1 L185.6,1293.5 L187.6,1293.9 L189.6,1294.2 L191.6,1294.6 L193.6,1295.0 L195.6,1295.5 L197.6,1295.9 L199.6,1296.3 L201.6,1296.8 L203.6,1297.2 L205.6,1297.6 L207.6,1298.1 L209.6,1298.6 L211.6,1299.0 L213.6,1299.5 L215.6,1300.0 L217.6,1300.5 L219.6,1301.0 L221.6,1301.5 L223.6,1302.0 L225.6,1302.5 L227.6,1303.0 L229.6,1303.5 L231.6,1304.0 L233.6,1304.5 L235.6,1305.0 L237.6,1305.5 L239.6,1306.0 L241.6,1306.5 L243.6,1307.0 L245.6,1307.5 L247.6,1308.0 L249.6,1308.5 L251.6,1309.0 L253.6,1309.5 L255.6,1310.0 L257.6,1310.5 L259.6,1311.0 L261.6,1311.5 L263.6,1312.0 L265.6,1312.5 L267.6,1312.9 L269.6,1313.4 L271.6,1313.9 L273.6,1314.3 L275.6,1314.8 L277.6,1315.2 L279.6,1315.7 L281.6,1316.1 L283.6,1316.5 L285.6,1317.0 L287.6,1317.4 L289.6,1317.8 L291.6,1318.2 L293.6,1318.6 L295.6,1319.0 L297.6,1319.4 L299.6,1319.8 L301.6,1320.1 L303.6,1320.5 L305.6,1320.9 L307.6,1321.2 L309.6,1321.6 L311.6,1321.9 L313.6,1322.2 L315.6,1322.6 L317.6,1322.9 L319.6,1323.2 L321.6,1323.5 L323.6,1323.8 L325.6,1324.0 L327.6,1324.3 L329.6,1324.6 L331.6,1324.8 L333.6,1325.1 L335.6,1325.3 L337.6,1325.5 L339.6,1325.7 L341.6,1325.9 L343.6,1326.1 L345.6,1326.3 L347.6,1326.5 L349.6,1326.7 L351.6,1326.8 L353.6,1327.0 L355.6,1327.1 L357.6,1327.2 L359.6,1327.3 L361.6,1327.4 L363.6,1327.5 L365.6,1327.6 L367.6,1327.7 L369.6,1327.7 L371.6,1327.8 L373.6,1327.8 L375.6,1327.8 L377.6,1327.8 L379.6,1327.8 L381.6,1327.8 L383.6,1327.8 L385.6,1327.7 L387.6,1327.7 L389.6,1327.6 L391.6,1327.5 L393.6,1327.4 L395.6,1327.3 L397.6,1327.2 L399.6,1327.1 L401.6,1326.9 L403.6,1326.8 L405.6,1326.6 L407.6,1326.4 L409.6,1326.2 L411.6,1326.1 L413.6,1325.9 L415.6,1325.6 L417.6,1325.4 L419.6,1325.2 L421.6,1325.0 L423.6,1324.7 L425.6,1324.5 L427.6,1324.2 L429.6,1324.0 L431.6,1323.7 L433.6,1323.4 L435.6,1323.2 L437.6,1322.9 L439.6,1322.6 L441.6,1322.3 L443.6,1322.0 L445.6,1321.7 L447.6,1321.4 L449.6,1321.1 L451.6,1320.8 L453.6,1320.5 L455.6,1320.2 L457.6,1319.9 L459.6,1319.6 L461.6,1319.3 L463.6,1318.9 L465.6,1318.6 L467.6,1318.3 L469.6,1318.0 L471.6,1317.7 L473.6,1317.4 L475.6,1317.0 L477.6,1316.7 L479.6,1316.4 L481.6,1316.1 L483.6,1315.8 L485.6,1315.5 L487.6,1315.2 L489.6,1314.9 L491.6,1314.6 L493.6,1314.3 L495.6,1314.0 L497.6,1313.8 L499.6,1313.5 L501.6,1313.2 L503.6,1313.0 L505.6,1312.7 L507.6,1312.4 L509.6,1312.2 L511.6,1312.0 L513.6,1311.7 L515.6,1311.5 L517.6,1311.3 L519.6,1311.1 L521.6,1310.9 L523.6,1310.7 L525.6,1310.5 L527.6,1310.4 L529.6,1310.2 L531.6,1310.1 L533.6,1309.9 L535.6,1309.8 L537.6,1309.7 L539.6,1309.6 L541.6,1309.5 L543.6,1309.4 L545.6,1309.3 L547.6,1309.3 L549.6,1309.2 L551.6,1309.2 L553.6,1309.2 L555.6,1309.2 L557.6,1309.2 L559.6,1309.2 L561.6,1309.3 L563.6,1309.3 L565.6,1309.4 L567.6,1309.5 L569.6,1309.6 L571.6,1309.7 L573.6,1309.8 L575.6,1309.9 L577.6,1310.0 L579.6,1310.1 L581.6,1310.3 L583.6,1310.4 L585.6,1310.5 L587.6,1310.7 L589.6,1310.8 L591.6,1311.0 L593.6,1311.2 L595.6,1311.3 L597.6,1311.5 L599.6,1311.7 L601.6,1311.8 L603.6,1312.0 L605.6,1312.2 L607.6,1312.4 L609.6,1312.5 L611.6,1312.7 L613.6,1312.8 L615.6,1313.0 L617.6,1313.2 L619.6,1313.3 L621.6,1313.5 L623.6,1313.6 L625.6,1313.7 L627.6,1313.9 L629.6,1314.0 L631.6,1314.1 L633.6,1314.2 L635.6,1314.3 L637.6,1314.4 L639.6,1314.5 L641.6,1314.6 L643.6,1314.6 L645.6,1314.7 L647.6,1314.7 L649.6,1314.7 L651.6,1314.7 L653.6,1314.7 L655.6,1314.7 L657.6,1314.7 L659.6,1314.7 L661.6,1314.6 L663.6,1314.6 L665.6,1314.5 L667.6,1314.4 L669.6,1314.4 L671.6,1314.3 L673.6,1314.2 L675.6,1314.0 L677.6,1313.9 L679.6,1313.8 L681.6,1313.6 L683.6,1313.4 L685.6,1313.3 L687.6,1313.1 L689.6,1312.9 L691.6,1312.7 L693.6,1312.4 L695.6,1312.2 L697.6,1312.0 L699.6,1311.7 L701.6,1311.4 L703.6,1311.2 L705.6,1310.9 L707.6,1310.6 L709.6,1310.3 L711.6,1309.9 L713.6,1309.6 L715.6,1309.3 L717.6,1308.9 L719.6,1308.5 L721.6,1308.1 L723.6,1307.7 L725.6,1307.3 L727.6,1306.9 L729.6,1306.5 L731.6,1306.1 L733.6,1305.6 L735.6,1305.2 L737.6,1304.7 L739.6,1304.2 L741.6,1303.7 L743.6,1303.3 L745.6,1302.8 L747.6,1302.3 L749.6,1301.7 L751.6,1301.2 L753.6,1300.7 L755.6,1300.2 L757.6,1299.6 L759.6,1299.1 L761.6,1298.5 L763.6,1298.0 L765.6,1297.4 L767.6,1296.9 L769.6,1296.3 L771.6,1295.7 L773.6,1295.1 L775.6,1294.5 L777.6,1294.0 L779.6,1293.4 L781.6,1292.8 L783.6,1292.2 L785.6,1291.6 L787.6,1291.0 L789.6,1290.4 L791.6,1289.8 L793.6,1289.2 L795.6,1288.6 L797.6,1287.9 L799.6,1287.3 L801.6,1286.7 L803.6,1286.1 L805.6,1285.5 L807.6,1284.9 L809.6,1284.3 L811.6,1283.7 L813.6,1283.1 L815.6,1282.5 L817.6,1281.9 L819.6,1281.3 L821.6,1280.7 L823.6,1280.1 L825.6,1279.5 L827.6,1278.9 L829.6,1278.4 L831.6,1277.8 L833.6,1277.2 L835.6,1276.7 L837.6,1276.1 L839.6,1275.6 L841.6,1275.0 L843.6,1274.5 L845.6,1274.0 L847.6,1273.4 L849.6,1272.9 L851.6,1272.4 L853.6,1271.9 L855.6,1271.5 L857.6,1271.0 L859.6,1270.5 L861.6,1270.1 L863.6,1269.6 L865.6,1269.2 L867.6,1268.8 L869.6,1268.4 L871.6,1268.0 L873.6,1267.6 L875.6,1267.3 L877.6,1266.9 L879.6,1266.6 L881.6,1266.3 L883.6,1266.0 L885.6,1265.7 L887.6,1265.4 L889.6,1265.2 L891.6,1264.9 L893.6,1264.7 L895.6,1264.5 L897.6,1264.3 L899.6,1264.1 L901.6,1264.0 L903.6,1263.8 L905.6,1263.7 L907.6,1263.6 L909.6,1263.5 L911.6,1263.5 L913.6,1263.5 L915.6,1263.4 L917.6,1263.5 L919.6,1263.5 L921.6,1263.5 L923.6,1263.6 L925.6,1263.7 L927.6,1263.8 L929.6,1263.9 L931.6,1264.0 L933.6,1264.1 L935.6,1264.3 L937.6,1264.5 L939.6,1264.7 L941.6,1264.9 L943.6,1265.1 L945.6,1265.3 L947.6,1265.6 L949.6,1265.8 L951.6,1266.1 L953.6,1266.4 L955.6,1266.6 L957.6,1266.9 L959.6,1267.3 L961.6,1267.6 L963.6,1267.9 L965.6,1268.2 L967.6,1268.6 L969.6,1268.9 L971.6,1269.3 L973.6,1269.6 L975.6,1270.0 L977.6,1270.3 L979.6,1270.7 L981.6,1271.1 L983.6,1271.5 L985.6,1271.9 L987.6,1272.3 L989.6,1272.6 L991.6,1273.0 L993.6,1273.4 L995.6,1273.8 L997.6,1274.2 L999.6,1274.6 L1001.6,1275.0 L1003.6,1275.4 L1005.6,1275.8 L1007.6,1276.2 L1009.6,1276.5 L1011.6,1276.9 L1013.6,1277.3 L1015.6,1277.7 L1017.6,1278.0 L1019.6,1278.4 L1021.6,1278.8 L1023.6,1279.1 L1025.6,1279.5 L1027.6,1279.9 L1029.6,1280.2 L1031.6,1280.6 L1033.6,1280.9 L1035.6,1281.3 L1037.6,1281.6 L1039.6,1281.9 L1041.6,1282.3 L1043.6,1282.6 L1045.6,1283.0 L1047.6,1283.3 L1049.6,1283.6 L1051.6,1284.0 L1053.6,1284.3 L1055.6,1284.6 L1057.6,1284.9 L1059.6,1285.2 L1061.6,1285.6 L1063.6,1285.9 L1065.6,1286.2 L1067.6,1286.5 L1069.6,1286.8 L1071.6,1287.1 L1073.6,1287.5 L1075.6,1287.8 L1077.6,1288.1 L1079.6,1288.4 L1081.6,1288.7 L1083.6,1289.0 L1085.6,1289.3 L1087.6,1289.6 L1089.6,1289.9 L1091.6,1290.2 L1093.6,1290.5 L1095.6,1290.8 L1097.6,1291.1 L1099.6,1291.4 L1101.6,1291.7 L1103.6,1292.0 L1105.6,1292.3 L1107.6,1292.6 L1109.6,1292.9 L1111.6,1293.2 L1113.6,1293.5" stroke="#979797" stroke-width="2.3" fill="none"/>
</g>
<path d="M116.76,1122.5 v4.5 M116.76,1377.3 v-4.5 M145.27,1122.5 v4.5 M145.27,1377.3 v-4.5 M173.79,1122.5 v4.5 M173.79,1377.3 v-4.5 M202.30,1122.5 v10.7 M202.30,1377.3 v-10.7 M230.82,1122.5 v4.5 M230.82,1377.3 v-4.5 M259.34,1122.5 v4.5 M259.34,1377.3 v-4.5 M287.85,1122.5 v4.5 M287.85,1377.3 v-4.5 M316.37,1122.5 v4.5 M316.37,1377.3 v-4.5 M344.88,1122.5 v10.7 M344.88,1377.3 v-10.7 M373.40,1122.5 v4.5 M373.40,1377.3 v-4.5 M401.92,1122.5 v4.5 M401.92,1377.3 v-4.5 M430.43,1122.5 v4.5 M430.43,1377.3 v-4.5 M458.95,1122.5 v4.5 M458.95,1377.3 v-4.5 M487.46,1122.5 v10.7 M487.46,1377.3 v-10.7 M515.98,1122.5 v4.5 M515.98,1377.3 v-4.5 M544.50,1122.5 v4.5 M544.50,1377.3 v-4.5 M573.01,1122.5 v4.5 M573.01,1377.3 v-4.5 M601.53,1122.5 v4.5 M601.53,1377.3 v-4.5 M630.04,1122.5 v10.7 M630.04,1377.3 v-10.7 M658.56,1122.5 v4.5 M658.56,1377.3 v-4.5 M687.08,1122.5 v4.5 M687.08,1377.3 v-4.5 M715.59,1122.5 v4.5 M715.59,1377.3 v-4.5 M744.11,1122.5 v4.5 M744.11,1377.3 v-4.5 M772.62,1122.5 v10.7 M772.62,1377.3 v-10.7 M801.14,1122.5 v4.5 M801.14,1377.3 v-4.5 M829.66,1122.5 v4.5 M829.66,1377.3 v-4.5 M858.17,1122.5 v4.5 M858.17,1377.3 v-4.5 M886.69,1122.5 v4.5 M886.69,1377.3 v-4.5 M915.20,1122.5 v10.7 M915.20,1377.3 v-10.7 M943.72,1122.5 v4.5 M943.72,1377.3 v-4.5 M972.24,1122.5 v4.5 M972.24,1377.3 v-4.5 M1000.75,1122.5 v4.5 M1000.75,1377.3 v-4.5 M1029.27,1122.5 v4.5 M1029.27,1377.3 v-4.5 M1057.78,1122.5 v10.7 M1057.78,1377.3 v-10.7 M1086.30,1122.5 v4.5 M1086.30,1377.3 v-4.5 M87.6,1195.30 h12 M87.6,1268.10 h12 M87.6,1340.90 h12" stroke="#262626" stroke-width="1.4" fill="none"/>
<path d="M1115.1,1122.5 H87.6 V1377.3 H1115.1" stroke="#262626" stroke-width="1.5" fill="none"/>
<path d="M87.6,1122.5 V1377.3" stroke="#000" stroke-width="1.5" fill="none"/>
<path d="M1115.1,1121.8 V1378.0" stroke="#8f8f8f" stroke-width="1.6" fill="none"/>
<text transform="translate(81,1132.5) scale(1,1.06)" font-size="28" text-anchor="end" fill="#000">50</text>
<text transform="translate(81,1205.3) scale(1,1.06)" font-size="28" text-anchor="end" fill="#000">0</text>
<text transform="translate(81,1278.1) scale(1,1.06)" font-size="28" text-anchor="end" fill="#000">-50</text>
<text transform="translate(81,1350.9) scale(1,1.06)" font-size="28" text-anchor="end" fill="#000">-100</text>
<text x="155" y="1355.3" font-size="36" fill="#000">PM08</text>
<path d="M1115.1,982.3 h-11.7" stroke="#8f8f8f" stroke-width="1.5"/>
<text transform="translate(1121,992.3) scale(1,1.07)" font-size="28" fill="#8f8f8f">2.818</text>
<path d="M1115.1,1049.4 h-11.7" stroke="#8f8f8f" stroke-width="1.5"/>
<text transform="translate(1121,1059.4) scale(1,1.07)" font-size="28" fill="#8f8f8f">2.816</text>
<path d="M1115.1,1288.7 h-11.7" stroke="#8f8f8f" stroke-width="1.5"/>
<text transform="translate(1121,1298.7) scale(1,1.07)" font-size="28" fill="#8f8f8f">3.2</text>
<path d="M1115.1,1359.8 h-11.7" stroke="#8f8f8f" stroke-width="1.5"/>
<text transform="translate(1121,1369.8) scale(1,1.07)" font-size="28" fill="#8f8f8f">3.198</text>
<path d="M1138.3,852.0 Q1123.9,868.8 1138.3,885.7 L1140.7,885.7 Q1126.5,868.8 1140.7,852.0 Z" fill="#8f8f8f"/>
<path d="M1160.2,852.0 Q1174.6,868.8 1160.2,885.7 L1157.8,885.7 Q1172.0,868.8 1157.8,852.0 Z" fill="#8f8f8f"/>
<path d="M1142.6,868.2 Q1145.5,864.2 1150,864.1 L1158.8,864.1" stroke="#8f8f8f" stroke-width="2.1" fill="none"/>
<path d="M1151.4,864.3 L1147.8,878.3" stroke="#8f8f8f" stroke-width="2.4" fill="none"/>
<text x="0" y="24.1" font-size="29" font-weight="bold" fill="#000">A</text>
<text x="0" y="311.0" font-size="29" font-weight="bold" fill="#000">B</text>
<text x="0" y="579.5" font-size="29" font-weight="bold" fill="#000">C</text>
<text x="0" y="856.0" font-size="29" font-weight="bold" fill="#000">D</text>
<text x="0" y="1127.1" font-size="29" font-weight="bold" fill="#000">E</text>
<text transform="translate(201.8,1412.6) scale(1,1.055)" font-size="28" text-anchor="middle" fill="#262626">08/05</text>
<text transform="translate(344.4,1412.6) scale(1,1.055)" font-size="28" text-anchor="middle" fill="#262626">08/10</text>
<text transform="translate(487.0,1412.6) scale(1,1.055)" font-size="28" text-anchor="middle" fill="#262626">08/15</text>
<text transform="translate(629.5,1412.6) scale(1,1.055)" font-size="28" text-anchor="middle" fill="#262626">08/20</text>
<text transform="translate(772.1,1412.6) scale(1,1.055)" font-size="28" text-anchor="middle" fill="#262626">08/25</text>
<text transform="translate(914.7,1412.6) scale(1,1.055)" font-size="28" text-anchor="middle" fill="#262626">08/30</text>
<text transform="translate(1057.3,1412.6) scale(1,1.055)" font-size="28" text-anchor="middle" fill="#262626">09/04</text>
<text transform="translate(599.8,1448.2) scale(1,1.055)" font-size="28" text-anchor="middle" fill="#262626">2011</text>
<text transform="translate(44.7,133.5) rotate(-90)" font-size="35" text-anchor="middle" fill="#000">(m)</text>
<path d="M701,211.7 H744" stroke="#c83232" stroke-width="2"/><path d="M701,255.4 H744" stroke="#3232c8" stroke-width="2"/>
<text x="758" y="221.9" font-size="28" fill="#000">Model</text>
<text x="758" y="266.3" font-size="28" fill="#000">PIES Obs.</text>
<path d="M802.06,32.3 H943.2" stroke="#ff0000" stroke-width="5.2" fill="none" stroke-dasharray="6.6 3.51"/>
<path d="M804.69,1375.05 H943.2" stroke="#ff0000" stroke-width="5.2" fill="none" stroke-dasharray="6.2 3.91"/>
<path d="M804.83,28.35 V1377.8" stroke="#ff0000" stroke-width="5.2" fill="none" stroke-dasharray="6.5 3.55"/>
<path d="M945.8,31.05 V1374.6" stroke="#ff0000" stroke-width="5.2" fill="none" stroke-dasharray="6.2 3.85"/>
</svg></body></html>
